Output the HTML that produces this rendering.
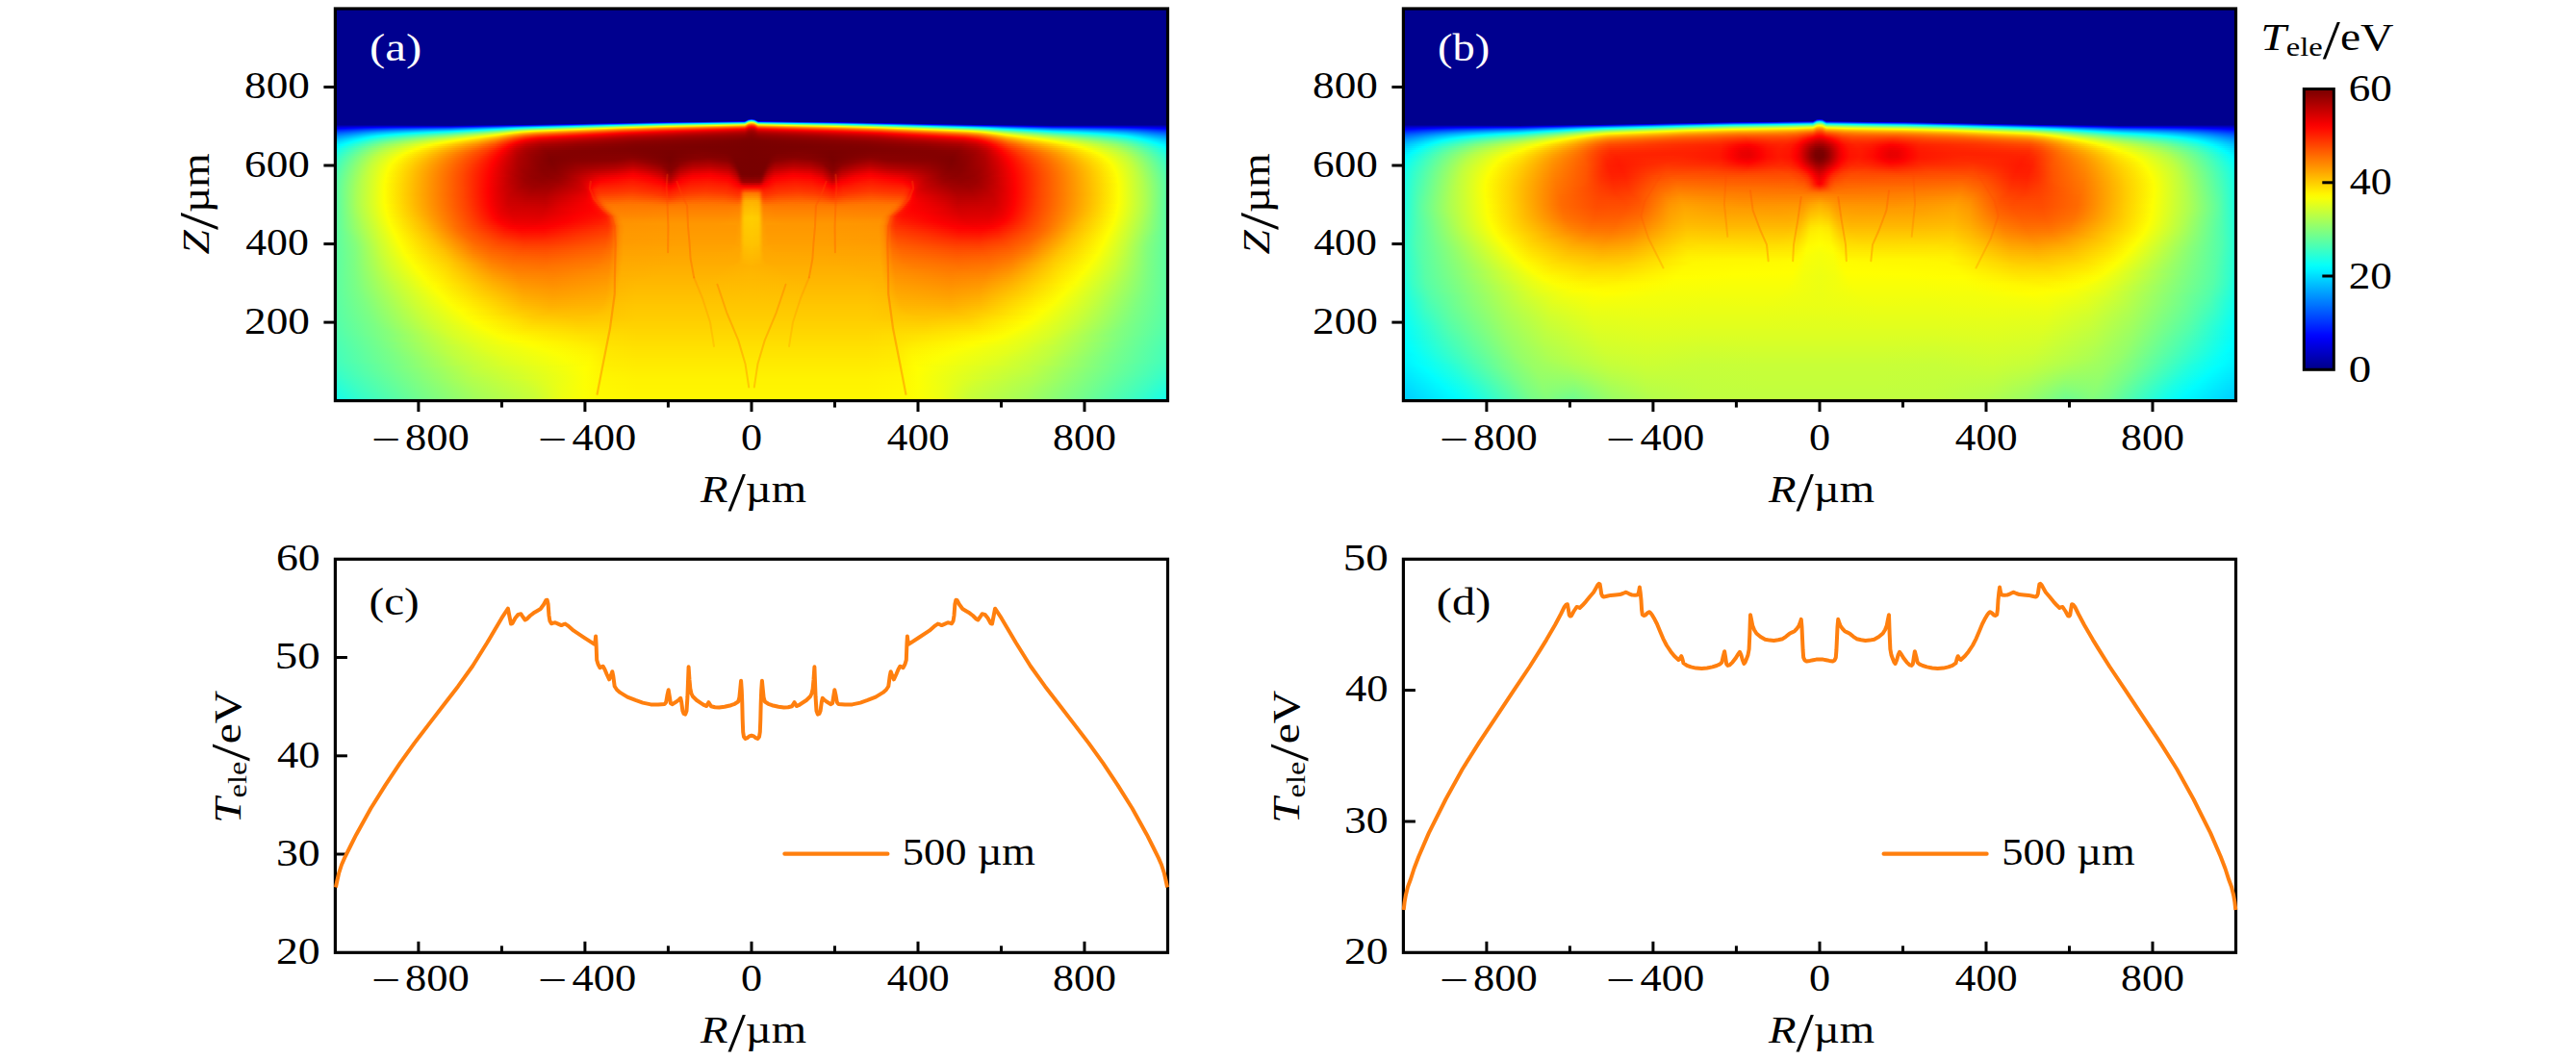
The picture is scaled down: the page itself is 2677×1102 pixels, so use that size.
<!DOCTYPE html>
<html lang="en"><head><meta charset="utf-8"><title>Figure</title>
<style>
html,body{margin:0;padding:0;background:#fff;}
body{width:2677px;height:1102px;overflow:hidden;}
svg{display:block;font-family:"Liberation Serif", "DejaVu Serif", serif;}
</style></head><body>
<svg width="2677" height="1102" viewBox="0 0 2677 1102">
<rect width="2677" height="1102" fill="#fff"/>
<defs><clipPath id="clipa"><rect x="348.4" y="9.0" width="865.1" height="407.6"/></clipPath><linearGradient id="ha1" gradientUnits="userSpaceOnUse" x1="780.95" y1="0" x2="348.40" y2="0" spreadMethod="reflect"><stop offset="0.0000" stop-color="#00008f"/><stop offset="0.1386" stop-color="#00008f"/><stop offset="0.2771" stop-color="#00008f"/><stop offset="0.4157" stop-color="#00008f"/><stop offset="0.5543" stop-color="#00008f"/><stop offset="0.6928" stop-color="#00008f"/><stop offset="0.8314" stop-color="#00008f"/><stop offset="0.9700" stop-color="#00008f"/><stop offset="1.0000" stop-color="#00008f"/></linearGradient><linearGradient id="ha2" gradientUnits="userSpaceOnUse" x1="780.95" y1="0" x2="348.40" y2="0" spreadMethod="reflect"><stop offset="0.0000" stop-color="#00008f"/><stop offset="0.1386" stop-color="#00008f"/><stop offset="0.2771" stop-color="#00008f"/><stop offset="0.4157" stop-color="#00008f"/><stop offset="0.5543" stop-color="#00008f"/><stop offset="0.6928" stop-color="#00008f"/><stop offset="0.8314" stop-color="#00008f"/><stop offset="0.9700" stop-color="#00008f"/><stop offset="1.0000" stop-color="#00008f"/></linearGradient><linearGradient id="ha3" gradientUnits="userSpaceOnUse" x1="780.95" y1="0" x2="348.40" y2="0" spreadMethod="reflect"><stop offset="0.0000" stop-color="#005fff"/><stop offset="0.0069" stop-color="#000bff"/><stop offset="0.0092" stop-color="#000099"/><stop offset="0.0115" stop-color="#00008f"/><stop offset="0.1501" stop-color="#00008f"/><stop offset="0.2887" stop-color="#00008f"/><stop offset="0.4273" stop-color="#00008f"/><stop offset="0.5658" stop-color="#00008f"/><stop offset="0.7044" stop-color="#00008f"/><stop offset="0.8430" stop-color="#00008f"/><stop offset="0.9815" stop-color="#00008f"/><stop offset="1.0000" stop-color="#00008f"/></linearGradient><linearGradient id="ha4" gradientUnits="userSpaceOnUse" x1="780.95" y1="0" x2="348.40" y2="0" spreadMethod="reflect"><stop offset="0.0000" stop-color="#10ffef"/><stop offset="0.0023" stop-color="#00f9ff"/><stop offset="0.0069" stop-color="#00cbff"/><stop offset="0.0092" stop-color="#0072ff"/><stop offset="0.0115" stop-color="#000cff"/><stop offset="0.0139" stop-color="#000098"/><stop offset="0.0162" stop-color="#00008f"/><stop offset="0.1547" stop-color="#00008f"/><stop offset="0.2933" stop-color="#00008f"/><stop offset="0.4319" stop-color="#00008f"/><stop offset="0.5704" stop-color="#00008f"/><stop offset="0.7090" stop-color="#00008f"/><stop offset="0.8476" stop-color="#00008f"/><stop offset="0.9861" stop-color="#00008f"/><stop offset="1.0000" stop-color="#00008f"/></linearGradient><linearGradient id="ha5" gradientUnits="userSpaceOnUse" x1="780.95" y1="0" x2="348.40" y2="0" spreadMethod="reflect"><stop offset="0.0000" stop-color="#99ff66"/><stop offset="0.0069" stop-color="#63ff9c"/><stop offset="0.0092" stop-color="#1dffe2"/><stop offset="0.0115" stop-color="#00cbff"/><stop offset="0.0162" stop-color="#0012ff"/><stop offset="0.0300" stop-color="#0000fe"/><stop offset="0.1062" stop-color="#00009b"/><stop offset="0.1085" stop-color="#000099"/><stop offset="0.1109" stop-color="#00008f"/><stop offset="0.2494" stop-color="#00008f"/><stop offset="0.3880" stop-color="#00008f"/><stop offset="0.5266" stop-color="#00008f"/><stop offset="0.6651" stop-color="#00008f"/><stop offset="0.8037" stop-color="#00008f"/><stop offset="0.9423" stop-color="#00008f"/><stop offset="1.0000" stop-color="#00008f"/></linearGradient><linearGradient id="ha6" gradientUnits="userSpaceOnUse" x1="780.95" y1="0" x2="348.40" y2="0" spreadMethod="reflect"><stop offset="0.0000" stop-color="#fffa00"/><stop offset="0.0023" stop-color="#f6ff09"/><stop offset="0.0069" stop-color="#d9ff26"/><stop offset="0.0092" stop-color="#a2ff5d"/><stop offset="0.0115" stop-color="#62ff9d"/><stop offset="0.0139" stop-color="#1bffe4"/><stop offset="0.0162" stop-color="#00cfff"/><stop offset="0.1062" stop-color="#0063ff"/><stop offset="0.2032" stop-color="#000cff"/><stop offset="0.2125" stop-color="#0000fd"/><stop offset="0.2748" stop-color="#00009b"/><stop offset="0.2771" stop-color="#00008f"/><stop offset="0.4157" stop-color="#00008f"/><stop offset="0.5543" stop-color="#00008f"/><stop offset="0.6928" stop-color="#00008f"/><stop offset="0.8314" stop-color="#00008f"/><stop offset="0.9700" stop-color="#00008f"/><stop offset="1.0000" stop-color="#00008f"/></linearGradient><linearGradient id="ha7" gradientUnits="userSpaceOnUse" x1="780.95" y1="0" x2="348.40" y2="0" spreadMethod="reflect"><stop offset="0.0000" stop-color="#ffa600"/><stop offset="0.0069" stop-color="#ffc800"/><stop offset="0.0092" stop-color="#fff400"/><stop offset="0.0115" stop-color="#d8ff27"/><stop offset="0.0162" stop-color="#65ff9a"/><stop offset="0.1085" stop-color="#01fffe"/><stop offset="0.2032" stop-color="#00b0ff"/><stop offset="0.3256" stop-color="#0000ff"/><stop offset="0.3972" stop-color="#000098"/><stop offset="0.3995" stop-color="#00008f"/><stop offset="0.5381" stop-color="#00008f"/><stop offset="0.6767" stop-color="#00008f"/><stop offset="0.8152" stop-color="#00008f"/><stop offset="0.9538" stop-color="#00008f"/><stop offset="1.0000" stop-color="#00008f"/></linearGradient><linearGradient id="ha8" gradientUnits="userSpaceOnUse" x1="780.95" y1="0" x2="348.40" y2="0" spreadMethod="reflect"><stop offset="0.0000" stop-color="#ff6500"/><stop offset="0.0069" stop-color="#ff8000"/><stop offset="0.0092" stop-color="#ffa200"/><stop offset="0.0115" stop-color="#ffc900"/><stop offset="0.0139" stop-color="#fff600"/><stop offset="0.0162" stop-color="#daff25"/><stop offset="0.1132" stop-color="#7eff81"/><stop offset="0.2055" stop-color="#34ffcb"/><stop offset="0.2471" stop-color="#00ffff"/><stop offset="0.3164" stop-color="#00a3ff"/><stop offset="0.4342" stop-color="#0000ff"/><stop offset="0.5035" stop-color="#0000aa"/><stop offset="0.5289" stop-color="#000098"/><stop offset="0.5312" stop-color="#00008f"/><stop offset="0.6697" stop-color="#00008f"/><stop offset="0.8083" stop-color="#00008f"/><stop offset="0.9469" stop-color="#00008f"/><stop offset="1.0000" stop-color="#00008f"/></linearGradient><linearGradient id="ha9" gradientUnits="userSpaceOnUse" x1="780.95" y1="0" x2="348.40" y2="0" spreadMethod="reflect"><stop offset="0.0000" stop-color="#ff3100"/><stop offset="0.0069" stop-color="#ff4700"/><stop offset="0.0115" stop-color="#ff8100"/><stop offset="0.0162" stop-color="#ffc900"/><stop offset="0.0831" stop-color="#fcff03"/><stop offset="0.2055" stop-color="#a1ff5e"/><stop offset="0.3095" stop-color="#2affd5"/><stop offset="0.3395" stop-color="#00ffff"/><stop offset="0.4734" stop-color="#0052ff"/><stop offset="0.5104" stop-color="#0029ff"/><stop offset="0.5589" stop-color="#0000fd"/><stop offset="0.6120" stop-color="#0000d0"/><stop offset="0.6998" stop-color="#0000a2"/><stop offset="0.7229" stop-color="#00009a"/><stop offset="0.8614" stop-color="#0000ab"/><stop offset="1.0000" stop-color="#0000a7"/></linearGradient><linearGradient id="ha10" gradientUnits="userSpaceOnUse" x1="780.95" y1="0" x2="348.40" y2="0" spreadMethod="reflect"><stop offset="0.0000" stop-color="#ff0900"/><stop offset="0.0069" stop-color="#ff1a00"/><stop offset="0.0115" stop-color="#ff4800"/><stop offset="0.0162" stop-color="#ff8000"/><stop offset="0.1316" stop-color="#ffd300"/><stop offset="0.2032" stop-color="#fcff03"/><stop offset="0.3072" stop-color="#93ff6c"/><stop offset="0.4249" stop-color="#00fdff"/><stop offset="0.5127" stop-color="#0098ff"/><stop offset="0.5704" stop-color="#0059ff"/><stop offset="0.6097" stop-color="#002dff"/><stop offset="0.6697" stop-color="#0000ff"/><stop offset="0.7229" stop-color="#0000e2"/><stop offset="0.8614" stop-color="#0000dd"/><stop offset="0.9261" stop-color="#0000d2"/><stop offset="1.0000" stop-color="#0000c3"/></linearGradient><linearGradient id="ha11" gradientUnits="userSpaceOnUse" x1="780.95" y1="0" x2="348.40" y2="0" spreadMethod="reflect"><stop offset="0.0000" stop-color="#e90000"/><stop offset="0.0069" stop-color="#f60000"/><stop offset="0.0092" stop-color="#ff0800"/><stop offset="0.0162" stop-color="#ff4800"/><stop offset="0.1547" stop-color="#ff9c00"/><stop offset="0.2102" stop-color="#ffbf00"/><stop offset="0.2864" stop-color="#fdff02"/><stop offset="0.3233" stop-color="#d5ff2a"/><stop offset="0.4619" stop-color="#33ffcc"/><stop offset="0.5081" stop-color="#00ffff"/><stop offset="0.5589" stop-color="#00c3ff"/><stop offset="0.6028" stop-color="#0085ff"/><stop offset="0.6582" stop-color="#0051ff"/><stop offset="0.7229" stop-color="#0024ff"/><stop offset="0.8614" stop-color="#000cff"/><stop offset="0.9099" stop-color="#0000fd"/><stop offset="1.0000" stop-color="#0000de"/></linearGradient><linearGradient id="ha12" gradientUnits="userSpaceOnUse" x1="780.95" y1="0" x2="348.40" y2="0" spreadMethod="reflect"><stop offset="0.0000" stop-color="#d00000"/><stop offset="0.0069" stop-color="#db0000"/><stop offset="0.0115" stop-color="#f70000"/><stop offset="0.0139" stop-color="#ff0900"/><stop offset="0.0162" stop-color="#ff1b00"/><stop offset="0.1547" stop-color="#ff6500"/><stop offset="0.2148" stop-color="#ff8600"/><stop offset="0.3072" stop-color="#ffd000"/><stop offset="0.3510" stop-color="#feff01"/><stop offset="0.4896" stop-color="#69ff96"/><stop offset="0.5450" stop-color="#29ffd6"/><stop offset="0.5727" stop-color="#00fdff"/><stop offset="0.6051" stop-color="#00caff"/><stop offset="0.6559" stop-color="#0094ff"/><stop offset="0.7229" stop-color="#005eff"/><stop offset="0.8614" stop-color="#0036ff"/><stop offset="0.9099" stop-color="#0022ff"/><stop offset="0.9769" stop-color="#0000ff"/><stop offset="1.0000" stop-color="#0000f6"/></linearGradient><linearGradient id="ha13" gradientUnits="userSpaceOnUse" x1="780.95" y1="0" x2="348.40" y2="0" spreadMethod="reflect"><stop offset="0.0000" stop-color="#bd0000"/><stop offset="0.0069" stop-color="#c50000"/><stop offset="0.0139" stop-color="#e90000"/><stop offset="0.0162" stop-color="#f70000"/><stop offset="0.0416" stop-color="#ff0400"/><stop offset="0.1801" stop-color="#ff4300"/><stop offset="0.2379" stop-color="#ff6400"/><stop offset="0.3095" stop-color="#ff9700"/><stop offset="0.4134" stop-color="#ffff00"/><stop offset="0.5266" stop-color="#8bff74"/><stop offset="0.5612" stop-color="#58ffa7"/><stop offset="0.6028" stop-color="#0ffff0"/><stop offset="0.6143" stop-color="#00feff"/><stop offset="0.6697" stop-color="#00c1ff"/><stop offset="0.7229" stop-color="#0093ff"/><stop offset="0.8614" stop-color="#005dff"/><stop offset="0.9076" stop-color="#0045ff"/><stop offset="0.9700" stop-color="#001dff"/><stop offset="1.0000" stop-color="#000eff"/></linearGradient><linearGradient id="ha14" gradientUnits="userSpaceOnUse" x1="780.95" y1="0" x2="348.40" y2="0" spreadMethod="reflect"><stop offset="0.0000" stop-color="#ae0000"/><stop offset="0.0069" stop-color="#b50000"/><stop offset="0.0162" stop-color="#dc0000"/><stop offset="0.1109" stop-color="#ff0200"/><stop offset="0.2171" stop-color="#ff2e00"/><stop offset="0.3072" stop-color="#ff6500"/><stop offset="0.4457" stop-color="#ffe300"/><stop offset="0.4781" stop-color="#fcff03"/><stop offset="0.5266" stop-color="#cbff34"/><stop offset="0.5589" stop-color="#9bff64"/><stop offset="0.6028" stop-color="#48ffb7"/><stop offset="0.6443" stop-color="#11ffee"/><stop offset="0.6628" stop-color="#00fcff"/><stop offset="0.7229" stop-color="#00c3ff"/><stop offset="0.8614" stop-color="#0080ff"/><stop offset="0.9076" stop-color="#0064ff"/><stop offset="0.9677" stop-color="#0036ff"/><stop offset="1.0000" stop-color="#0023ff"/></linearGradient><linearGradient id="ha15" gradientUnits="userSpaceOnUse" x1="780.95" y1="0" x2="348.40" y2="0" spreadMethod="reflect"><stop offset="0.0000" stop-color="#a20000"/><stop offset="0.0069" stop-color="#a70000"/><stop offset="0.0162" stop-color="#c60000"/><stop offset="0.1547" stop-color="#f40000"/><stop offset="0.1940" stop-color="#ff0300"/><stop offset="0.3072" stop-color="#ff3d00"/><stop offset="0.4457" stop-color="#ffb000"/><stop offset="0.5196" stop-color="#fff300"/><stop offset="0.5312" stop-color="#fdff02"/><stop offset="0.5612" stop-color="#cdff32"/><stop offset="0.6028" stop-color="#7bff84"/><stop offset="0.6420" stop-color="#44ffbb"/><stop offset="0.7067" stop-color="#00fdff"/><stop offset="0.7321" stop-color="#00e9ff"/><stop offset="0.8707" stop-color="#009bff"/><stop offset="0.9076" stop-color="#0080ff"/><stop offset="0.9654" stop-color="#004eff"/><stop offset="1.0000" stop-color="#0037ff"/></linearGradient><linearGradient id="ha16" gradientUnits="userSpaceOnUse" x1="780.95" y1="0" x2="348.40" y2="0" spreadMethod="reflect"><stop offset="0.0000" stop-color="#990000"/><stop offset="0.0069" stop-color="#9d0000"/><stop offset="0.0162" stop-color="#b60000"/><stop offset="0.1547" stop-color="#dc0000"/><stop offset="0.2564" stop-color="#ff0200"/><stop offset="0.3118" stop-color="#ff1e00"/><stop offset="0.4503" stop-color="#ff8700"/><stop offset="0.5173" stop-color="#ffbf00"/><stop offset="0.5497" stop-color="#ffec00"/><stop offset="0.5612" stop-color="#fdff02"/><stop offset="0.6051" stop-color="#a4ff5b"/><stop offset="0.6443" stop-color="#6cff93"/><stop offset="0.7229" stop-color="#17ffe8"/><stop offset="0.7621" stop-color="#00fcff"/><stop offset="0.8938" stop-color="#00a8ff"/><stop offset="0.9630" stop-color="#0066ff"/><stop offset="1.0000" stop-color="#004aff"/></linearGradient><linearGradient id="ha17" gradientUnits="userSpaceOnUse" x1="780.95" y1="0" x2="348.40" y2="0" spreadMethod="reflect"><stop offset="0.0000" stop-color="#910000"/><stop offset="0.0092" stop-color="#990000"/><stop offset="0.0162" stop-color="#a80000"/><stop offset="0.1547" stop-color="#c90000"/><stop offset="0.2540" stop-color="#e80000"/><stop offset="0.3118" stop-color="#ff0200"/><stop offset="0.4503" stop-color="#ff6000"/><stop offset="0.5150" stop-color="#ff9300"/><stop offset="0.5473" stop-color="#ffbd00"/><stop offset="0.5774" stop-color="#fff900"/><stop offset="0.5820" stop-color="#fbff04"/><stop offset="0.6143" stop-color="#bdff42"/><stop offset="0.6582" stop-color="#81ff7e"/><stop offset="0.7252" stop-color="#39ffc6"/><stop offset="0.8106" stop-color="#00fdff"/><stop offset="0.9007" stop-color="#00bbff"/><stop offset="0.9561" stop-color="#0080ff"/><stop offset="1.0000" stop-color="#005cff"/></linearGradient><linearGradient id="ha18" gradientUnits="userSpaceOnUse" x1="780.95" y1="0" x2="348.40" y2="0" spreadMethod="reflect"><stop offset="0.0000" stop-color="#8c0000"/><stop offset="0.0092" stop-color="#920000"/><stop offset="0.0162" stop-color="#9e0000"/><stop offset="0.1547" stop-color="#ba0000"/><stop offset="0.2679" stop-color="#d90000"/><stop offset="0.3187" stop-color="#ee0000"/><stop offset="0.3533" stop-color="#ff0300"/><stop offset="0.4919" stop-color="#ff5b00"/><stop offset="0.5219" stop-color="#ff7500"/><stop offset="0.5520" stop-color="#ffa000"/><stop offset="0.5982" stop-color="#feff01"/><stop offset="0.6328" stop-color="#c4ff3b"/><stop offset="0.7044" stop-color="#6eff91"/><stop offset="0.7344" stop-color="#52ffad"/><stop offset="0.8499" stop-color="#00fcff"/><stop offset="0.9053" stop-color="#00ccff"/><stop offset="0.9607" stop-color="#008eff"/><stop offset="1.0000" stop-color="#006cff"/></linearGradient><linearGradient id="ha19" gradientUnits="userSpaceOnUse" x1="780.95" y1="0" x2="348.40" y2="0" spreadMethod="reflect"><stop offset="0.0000" stop-color="#870000"/><stop offset="0.0115" stop-color="#8f0000"/><stop offset="0.0185" stop-color="#960000"/><stop offset="0.1570" stop-color="#ad0000"/><stop offset="0.2933" stop-color="#cf0000"/><stop offset="0.3926" stop-color="#ff0200"/><stop offset="0.5104" stop-color="#ff4a00"/><stop offset="0.5427" stop-color="#ff7000"/><stop offset="0.5704" stop-color="#ffa400"/><stop offset="0.6097" stop-color="#fff600"/><stop offset="0.6166" stop-color="#fcff03"/><stop offset="0.6605" stop-color="#bfff40"/><stop offset="0.7275" stop-color="#75ff8a"/><stop offset="0.8661" stop-color="#08fff7"/><stop offset="0.8776" stop-color="#00fdff"/><stop offset="0.9076" stop-color="#00deff"/><stop offset="0.9630" stop-color="#009eff"/><stop offset="1.0000" stop-color="#007bff"/></linearGradient><linearGradient id="ha20" gradientUnits="userSpaceOnUse" x1="780.95" y1="0" x2="348.40" y2="0" spreadMethod="reflect"><stop offset="0.0000" stop-color="#840000"/><stop offset="0.0208" stop-color="#900000"/><stop offset="0.1594" stop-color="#a30000"/><stop offset="0.2979" stop-color="#c10000"/><stop offset="0.4342" stop-color="#ff0200"/><stop offset="0.5127" stop-color="#ff3000"/><stop offset="0.5450" stop-color="#ff5700"/><stop offset="0.5727" stop-color="#ff8c00"/><stop offset="0.6097" stop-color="#ffda00"/><stop offset="0.6328" stop-color="#ffff00"/><stop offset="0.7021" stop-color="#aaff55"/><stop offset="0.7367" stop-color="#87ff78"/><stop offset="0.8753" stop-color="#14ffeb"/><stop offset="0.8984" stop-color="#00feff"/><stop offset="0.9584" stop-color="#00b3ff"/><stop offset="1.0000" stop-color="#008aff"/></linearGradient><linearGradient id="ha21" gradientUnits="userSpaceOnUse" x1="780.95" y1="0" x2="348.40" y2="0" spreadMethod="reflect"><stop offset="0.0000" stop-color="#810000"/><stop offset="0.0231" stop-color="#8b0000"/><stop offset="0.1617" stop-color="#9b0000"/><stop offset="0.3002" stop-color="#b50000"/><stop offset="0.4388" stop-color="#f00000"/><stop offset="0.4758" stop-color="#ff0300"/><stop offset="0.5150" stop-color="#ff1b00"/><stop offset="0.5450" stop-color="#ff3e00"/><stop offset="0.5727" stop-color="#ff7300"/><stop offset="0.6120" stop-color="#ffc500"/><stop offset="0.6490" stop-color="#fffc00"/><stop offset="0.6859" stop-color="#d5ff2a"/><stop offset="0.7321" stop-color="#a3ff5c"/><stop offset="0.8707" stop-color="#2cffd3"/><stop offset="0.9122" stop-color="#00fdff"/><stop offset="0.9677" stop-color="#00b8ff"/><stop offset="1.0000" stop-color="#0097ff"/></linearGradient><linearGradient id="ha22" gradientUnits="userSpaceOnUse" x1="780.95" y1="0" x2="348.40" y2="0" spreadMethod="reflect"><stop offset="0.0000" stop-color="#7f0000"/><stop offset="0.0277" stop-color="#870000"/><stop offset="0.1663" stop-color="#950000"/><stop offset="0.3048" stop-color="#ac0000"/><stop offset="0.4434" stop-color="#e00000"/><stop offset="0.5104" stop-color="#ff0200"/><stop offset="0.5427" stop-color="#ff2500"/><stop offset="0.5681" stop-color="#ff5200"/><stop offset="0.6120" stop-color="#ffae00"/><stop offset="0.6513" stop-color="#ffe900"/><stop offset="0.6697" stop-color="#feff01"/><stop offset="0.7298" stop-color="#bbff44"/><stop offset="0.8684" stop-color="#40ffbf"/><stop offset="0.9053" stop-color="#18ffe7"/><stop offset="0.9238" stop-color="#00fdff"/><stop offset="0.9838" stop-color="#00b4ff"/><stop offset="1.0000" stop-color="#00a3ff"/></linearGradient><linearGradient id="ha23" gradientUnits="userSpaceOnUse" x1="780.95" y1="0" x2="348.40" y2="0" spreadMethod="reflect"><stop offset="0.0000" stop-color="#7d0000"/><stop offset="0.0370" stop-color="#840000"/><stop offset="0.1755" stop-color="#900000"/><stop offset="0.3141" stop-color="#a50000"/><stop offset="0.4527" stop-color="#d50000"/><stop offset="0.5104" stop-color="#ef0000"/><stop offset="0.5289" stop-color="#ff0100"/><stop offset="0.5566" stop-color="#ff2800"/><stop offset="0.6143" stop-color="#ff9e00"/><stop offset="0.6536" stop-color="#ffd800"/><stop offset="0.6859" stop-color="#ffff00"/><stop offset="0.7344" stop-color="#caff35"/><stop offset="0.8730" stop-color="#4cffb3"/><stop offset="0.9076" stop-color="#24ffdb"/><stop offset="0.9330" stop-color="#00ffff"/><stop offset="0.9977" stop-color="#00b2ff"/><stop offset="1.0000" stop-color="#00afff"/></linearGradient><linearGradient id="ha24" gradientUnits="userSpaceOnUse" x1="780.95" y1="0" x2="348.40" y2="0" spreadMethod="reflect"><stop offset="0.0000" stop-color="#7c0000"/><stop offset="0.0624" stop-color="#830000"/><stop offset="0.2009" stop-color="#8e0000"/><stop offset="0.3256" stop-color="#a10000"/><stop offset="0.4642" stop-color="#cc0000"/><stop offset="0.5104" stop-color="#e00000"/><stop offset="0.5427" stop-color="#ff0100"/><stop offset="0.5681" stop-color="#ff2d00"/><stop offset="0.6143" stop-color="#ff8c00"/><stop offset="0.6536" stop-color="#ffc600"/><stop offset="0.7021" stop-color="#feff01"/><stop offset="0.7644" stop-color="#bfff40"/><stop offset="0.8822" stop-color="#51ffae"/><stop offset="0.9099" stop-color="#2fffd0"/><stop offset="0.9423" stop-color="#00ffff"/><stop offset="1.0000" stop-color="#00baff"/></linearGradient><linearGradient id="ha25" gradientUnits="userSpaceOnUse" x1="780.95" y1="0" x2="348.40" y2="0" spreadMethod="reflect"><stop offset="0.0000" stop-color="#7b0000"/><stop offset="0.1386" stop-color="#850000"/><stop offset="0.2771" stop-color="#920000"/><stop offset="0.4018" stop-color="#ad0000"/><stop offset="0.5081" stop-color="#d10000"/><stop offset="0.5404" stop-color="#ef0000"/><stop offset="0.5520" stop-color="#ff0000"/><stop offset="0.5797" stop-color="#ff3500"/><stop offset="0.6166" stop-color="#ff8000"/><stop offset="0.6582" stop-color="#ffbc00"/><stop offset="0.7159" stop-color="#ffff00"/><stop offset="0.8545" stop-color="#7bff84"/><stop offset="0.9053" stop-color="#43ffbc"/><stop offset="0.9515" stop-color="#00ffff"/><stop offset="1.0000" stop-color="#00c4ff"/></linearGradient><linearGradient id="ha26" gradientUnits="userSpaceOnUse" x1="780.95" y1="0" x2="348.40" y2="0" spreadMethod="reflect"><stop offset="0.0000" stop-color="#7a0000"/><stop offset="0.1386" stop-color="#830000"/><stop offset="0.2771" stop-color="#8d0000"/><stop offset="0.4157" stop-color="#a90000"/><stop offset="0.5081" stop-color="#c60000"/><stop offset="0.5427" stop-color="#e50000"/><stop offset="0.5612" stop-color="#ff0200"/><stop offset="0.6166" stop-color="#ff7200"/><stop offset="0.6582" stop-color="#ffad00"/><stop offset="0.7298" stop-color="#fffe00"/><stop offset="0.8684" stop-color="#7aff85"/><stop offset="0.9053" stop-color="#4fffb0"/><stop offset="0.9607" stop-color="#00feff"/><stop offset="1.0000" stop-color="#00ceff"/></linearGradient><linearGradient id="ha27" gradientUnits="userSpaceOnUse" x1="780.95" y1="0" x2="348.40" y2="0" spreadMethod="reflect"><stop offset="0.0000" stop-color="#7a0000"/><stop offset="0.1386" stop-color="#810000"/><stop offset="0.2771" stop-color="#8a0000"/><stop offset="0.4157" stop-color="#a10000"/><stop offset="0.5058" stop-color="#ba0000"/><stop offset="0.5404" stop-color="#d80000"/><stop offset="0.5658" stop-color="#fe0000"/><stop offset="0.6166" stop-color="#ff6500"/><stop offset="0.6582" stop-color="#ffa000"/><stop offset="0.7367" stop-color="#fff800"/><stop offset="0.7460" stop-color="#fdff02"/><stop offset="0.8822" stop-color="#77ff88"/><stop offset="0.9099" stop-color="#53ffac"/><stop offset="0.9677" stop-color="#00ffff"/><stop offset="1.0000" stop-color="#00d7ff"/></linearGradient><linearGradient id="ha28" gradientUnits="userSpaceOnUse" x1="780.95" y1="0" x2="348.40" y2="0" spreadMethod="reflect"><stop offset="0.0000" stop-color="#790000"/><stop offset="0.1386" stop-color="#7f0000"/><stop offset="0.2771" stop-color="#870000"/><stop offset="0.4157" stop-color="#9b0000"/><stop offset="0.5058" stop-color="#b20000"/><stop offset="0.5404" stop-color="#ce0000"/><stop offset="0.5658" stop-color="#f30000"/><stop offset="0.5727" stop-color="#ff0200"/><stop offset="0.6143" stop-color="#ff5500"/><stop offset="0.6559" stop-color="#ff9100"/><stop offset="0.7390" stop-color="#ffee00"/><stop offset="0.7575" stop-color="#feff01"/><stop offset="0.8799" stop-color="#84ff7b"/><stop offset="0.9099" stop-color="#5dffa2"/><stop offset="0.9746" stop-color="#00ffff"/><stop offset="1.0000" stop-color="#00dfff"/></linearGradient><linearGradient id="ha29" gradientUnits="userSpaceOnUse" x1="780.95" y1="0" x2="348.40" y2="0" spreadMethod="reflect"><stop offset="0.0000" stop-color="#790000"/><stop offset="0.1386" stop-color="#7d0000"/><stop offset="0.2771" stop-color="#830000"/><stop offset="0.4157" stop-color="#940000"/><stop offset="0.5035" stop-color="#a70000"/><stop offset="0.5404" stop-color="#c20000"/><stop offset="0.5635" stop-color="#e10000"/><stop offset="0.5797" stop-color="#ff0200"/><stop offset="0.6166" stop-color="#ff4a00"/><stop offset="0.6605" stop-color="#ff8700"/><stop offset="0.7506" stop-color="#ffe900"/><stop offset="0.7737" stop-color="#fdff02"/><stop offset="0.8799" stop-color="#93ff6c"/><stop offset="0.9099" stop-color="#6bff94"/><stop offset="0.9838" stop-color="#00ffff"/><stop offset="1.0000" stop-color="#00eaff"/></linearGradient><linearGradient id="ha30" gradientUnits="userSpaceOnUse" x1="780.95" y1="0" x2="348.40" y2="0" spreadMethod="reflect"><stop offset="0.0000" stop-color="#780000"/><stop offset="0.1386" stop-color="#7b0000"/><stop offset="0.2771" stop-color="#800000"/><stop offset="0.4157" stop-color="#8c0000"/><stop offset="0.5012" stop-color="#9b0000"/><stop offset="0.5427" stop-color="#b80000"/><stop offset="0.5658" stop-color="#d70000"/><stop offset="0.5866" stop-color="#ff0000"/><stop offset="0.6189" stop-color="#ff3d00"/><stop offset="0.6628" stop-color="#ff7800"/><stop offset="0.7783" stop-color="#fff400"/><stop offset="0.7921" stop-color="#fcff03"/><stop offset="0.8799" stop-color="#a3ff5c"/><stop offset="0.9099" stop-color="#7cff83"/><stop offset="0.9908" stop-color="#05fffa"/><stop offset="0.9977" stop-color="#00fbff"/><stop offset="1.0000" stop-color="#00f8ff"/></linearGradient><linearGradient id="ha31" gradientUnits="userSpaceOnUse" x1="780.95" y1="0" x2="348.40" y2="0" spreadMethod="reflect"><stop offset="0.0000" stop-color="#780000"/><stop offset="0.1386" stop-color="#7c0000"/><stop offset="0.2633" stop-color="#7e0000"/><stop offset="0.4018" stop-color="#870000"/><stop offset="0.4965" stop-color="#920000"/><stop offset="0.5404" stop-color="#ad0000"/><stop offset="0.5635" stop-color="#c80000"/><stop offset="0.5935" stop-color="#ff0100"/><stop offset="0.6259" stop-color="#ff3900"/><stop offset="0.6767" stop-color="#ff7900"/><stop offset="0.8037" stop-color="#fffe00"/><stop offset="0.8776" stop-color="#b5ff4a"/><stop offset="0.9099" stop-color="#8aff75"/><stop offset="0.9954" stop-color="#0bfff4"/><stop offset="1.0000" stop-color="#05fffa"/></linearGradient><linearGradient id="ha32" gradientUnits="userSpaceOnUse" x1="780.95" y1="0" x2="348.40" y2="0" spreadMethod="reflect"><stop offset="0.0000" stop-color="#780000"/><stop offset="0.1293" stop-color="#7f0000"/><stop offset="0.1917" stop-color="#7a0000"/><stop offset="0.3002" stop-color="#810000"/><stop offset="0.4388" stop-color="#850000"/><stop offset="0.4965" stop-color="#8c0000"/><stop offset="0.5450" stop-color="#ab0000"/><stop offset="0.5681" stop-color="#c70000"/><stop offset="0.5982" stop-color="#ff0000"/><stop offset="0.6351" stop-color="#ff3b00"/><stop offset="0.7113" stop-color="#ff9200"/><stop offset="0.8176" stop-color="#ffff00"/><stop offset="0.8868" stop-color="#b6ff49"/><stop offset="0.9192" stop-color="#89ff76"/><stop offset="1.0000" stop-color="#0ffff0"/></linearGradient><linearGradient id="ha33" gradientUnits="userSpaceOnUse" x1="780.95" y1="0" x2="348.40" y2="0" spreadMethod="reflect"><stop offset="0.0000" stop-color="#780000"/><stop offset="0.0508" stop-color="#7b0000"/><stop offset="0.1155" stop-color="#820000"/><stop offset="0.1940" stop-color="#790000"/><stop offset="0.2956" stop-color="#830000"/><stop offset="0.4342" stop-color="#840000"/><stop offset="0.4896" stop-color="#870000"/><stop offset="0.5381" stop-color="#a20000"/><stop offset="0.5635" stop-color="#bb0000"/><stop offset="0.6028" stop-color="#ff0000"/><stop offset="0.6420" stop-color="#ff3b00"/><stop offset="0.7806" stop-color="#ffd000"/><stop offset="0.8291" stop-color="#feff01"/><stop offset="0.8961" stop-color="#b5ff4a"/><stop offset="1.0000" stop-color="#18ffe7"/></linearGradient><linearGradient id="ha34" gradientUnits="userSpaceOnUse" x1="780.95" y1="0" x2="348.40" y2="0" spreadMethod="reflect"><stop offset="0.0000" stop-color="#780000"/><stop offset="0.0439" stop-color="#7a0000"/><stop offset="0.0670" stop-color="#810000"/><stop offset="0.1363" stop-color="#840000"/><stop offset="0.1917" stop-color="#790000"/><stop offset="0.2933" stop-color="#860000"/><stop offset="0.4319" stop-color="#840000"/><stop offset="0.4873" stop-color="#840000"/><stop offset="0.5335" stop-color="#9c0000"/><stop offset="0.5612" stop-color="#b40000"/><stop offset="0.5982" stop-color="#f00000"/><stop offset="0.6074" stop-color="#ff0100"/><stop offset="0.6467" stop-color="#ff3900"/><stop offset="0.7852" stop-color="#ffcc00"/><stop offset="0.8383" stop-color="#feff01"/><stop offset="0.9007" stop-color="#b8ff47"/><stop offset="1.0000" stop-color="#20ffdf"/></linearGradient><linearGradient id="ha35" gradientUnits="userSpaceOnUse" x1="780.95" y1="0" x2="348.40" y2="0" spreadMethod="reflect"><stop offset="0.0000" stop-color="#780000"/><stop offset="0.0416" stop-color="#7a0000"/><stop offset="0.0624" stop-color="#830000"/><stop offset="0.1293" stop-color="#870000"/><stop offset="0.1940" stop-color="#780000"/><stop offset="0.2841" stop-color="#890000"/><stop offset="0.4226" stop-color="#850000"/><stop offset="0.4827" stop-color="#810000"/><stop offset="0.5196" stop-color="#920000"/><stop offset="0.5589" stop-color="#af0000"/><stop offset="0.5889" stop-color="#db0000"/><stop offset="0.6120" stop-color="#ff0200"/><stop offset="0.6536" stop-color="#ff3a00"/><stop offset="0.7921" stop-color="#ffcc00"/><stop offset="0.8453" stop-color="#feff01"/><stop offset="0.9030" stop-color="#bdff42"/><stop offset="1.0000" stop-color="#27ffd8"/></linearGradient><linearGradient id="ha36" gradientUnits="userSpaceOnUse" x1="780.95" y1="0" x2="348.40" y2="0" spreadMethod="reflect"><stop offset="0.0000" stop-color="#780000"/><stop offset="0.0393" stop-color="#790000"/><stop offset="0.0577" stop-color="#860000"/><stop offset="0.1039" stop-color="#8e0000"/><stop offset="0.1709" stop-color="#820000"/><stop offset="0.1940" stop-color="#780000"/><stop offset="0.2864" stop-color="#900000"/><stop offset="0.3164" stop-color="#890000"/><stop offset="0.4273" stop-color="#860000"/><stop offset="0.4827" stop-color="#800000"/><stop offset="0.5196" stop-color="#920000"/><stop offset="0.5589" stop-color="#ad0000"/><stop offset="0.5912" stop-color="#db0000"/><stop offset="0.6143" stop-color="#ff0100"/><stop offset="0.6582" stop-color="#ff3a00"/><stop offset="0.7968" stop-color="#ffca00"/><stop offset="0.8522" stop-color="#feff01"/><stop offset="0.9076" stop-color="#bdff42"/><stop offset="1.0000" stop-color="#2dffd2"/></linearGradient><linearGradient id="ha37" gradientUnits="userSpaceOnUse" x1="780.95" y1="0" x2="348.40" y2="0" spreadMethod="reflect"><stop offset="0.0000" stop-color="#780000"/><stop offset="0.0393" stop-color="#7a0000"/><stop offset="0.0554" stop-color="#880000"/><stop offset="0.1016" stop-color="#9a0000"/><stop offset="0.1409" stop-color="#930000"/><stop offset="0.1594" stop-color="#880000"/><stop offset="0.1963" stop-color="#780000"/><stop offset="0.2286" stop-color="#860000"/><stop offset="0.2679" stop-color="#950000"/><stop offset="0.2864" stop-color="#9b0000"/><stop offset="0.3279" stop-color="#8d0000"/><stop offset="0.4296" stop-color="#880000"/><stop offset="0.4827" stop-color="#7f0000"/><stop offset="0.5196" stop-color="#910000"/><stop offset="0.5612" stop-color="#af0000"/><stop offset="0.5958" stop-color="#df0000"/><stop offset="0.6166" stop-color="#ff0000"/><stop offset="0.6628" stop-color="#ff3a00"/><stop offset="0.8014" stop-color="#ffca00"/><stop offset="0.8568" stop-color="#feff01"/><stop offset="0.9076" stop-color="#c2ff3d"/><stop offset="1.0000" stop-color="#32ffcd"/></linearGradient><linearGradient id="ha38" gradientUnits="userSpaceOnUse" x1="780.95" y1="0" x2="348.40" y2="0" spreadMethod="reflect"><stop offset="0.0000" stop-color="#780000"/><stop offset="0.0370" stop-color="#790000"/><stop offset="0.0577" stop-color="#940000"/><stop offset="0.1016" stop-color="#a50000"/><stop offset="0.1409" stop-color="#9f0000"/><stop offset="0.1801" stop-color="#830000"/><stop offset="0.1963" stop-color="#7b0000"/><stop offset="0.2356" stop-color="#8e0000"/><stop offset="0.2841" stop-color="#a70000"/><stop offset="0.3279" stop-color="#970000"/><stop offset="0.4249" stop-color="#8d0000"/><stop offset="0.4804" stop-color="#800000"/><stop offset="0.5150" stop-color="#8e0000"/><stop offset="0.5612" stop-color="#ae0000"/><stop offset="0.5958" stop-color="#dc0000"/><stop offset="0.6189" stop-color="#ff0000"/><stop offset="0.6697" stop-color="#ff3e00"/><stop offset="0.8083" stop-color="#ffcc00"/><stop offset="0.8614" stop-color="#feff01"/><stop offset="0.9099" stop-color="#c4ff3b"/><stop offset="1.0000" stop-color="#37ffc8"/></linearGradient><linearGradient id="ha39" gradientUnits="userSpaceOnUse" x1="780.95" y1="0" x2="348.40" y2="0" spreadMethod="reflect"><stop offset="0.0000" stop-color="#780000"/><stop offset="0.0346" stop-color="#790000"/><stop offset="0.0462" stop-color="#8e0000"/><stop offset="0.0554" stop-color="#9f0000"/><stop offset="0.1016" stop-color="#b10000"/><stop offset="0.1409" stop-color="#aa0000"/><stop offset="0.1709" stop-color="#910000"/><stop offset="0.1778" stop-color="#870000"/><stop offset="0.1963" stop-color="#7e0000"/><stop offset="0.2587" stop-color="#a70000"/><stop offset="0.2841" stop-color="#b20000"/><stop offset="0.3279" stop-color="#a20000"/><stop offset="0.4203" stop-color="#930000"/><stop offset="0.4781" stop-color="#810000"/><stop offset="0.5104" stop-color="#8b0000"/><stop offset="0.5612" stop-color="#ad0000"/><stop offset="0.5982" stop-color="#dd0000"/><stop offset="0.6212" stop-color="#ff0000"/><stop offset="0.6767" stop-color="#ff4100"/><stop offset="0.8152" stop-color="#ffcf00"/><stop offset="0.8661" stop-color="#fdff02"/><stop offset="0.9122" stop-color="#c5ff3a"/><stop offset="1.0000" stop-color="#3bffc4"/></linearGradient><linearGradient id="ha40" gradientUnits="userSpaceOnUse" x1="780.95" y1="0" x2="348.40" y2="0" spreadMethod="reflect"><stop offset="0.0000" stop-color="#780000"/><stop offset="0.0323" stop-color="#790000"/><stop offset="0.0393" stop-color="#860000"/><stop offset="0.0508" stop-color="#a20000"/><stop offset="0.0577" stop-color="#ab0000"/><stop offset="0.1016" stop-color="#bc0000"/><stop offset="0.1409" stop-color="#b50000"/><stop offset="0.1709" stop-color="#9c0000"/><stop offset="0.1801" stop-color="#890000"/><stop offset="0.1963" stop-color="#810000"/><stop offset="0.2102" stop-color="#890000"/><stop offset="0.2171" stop-color="#950000"/><stop offset="0.2517" stop-color="#af0000"/><stop offset="0.2841" stop-color="#be0000"/><stop offset="0.3279" stop-color="#ac0000"/><stop offset="0.4134" stop-color="#9b0000"/><stop offset="0.4758" stop-color="#830000"/><stop offset="0.5081" stop-color="#8a0000"/><stop offset="0.5589" stop-color="#aa0000"/><stop offset="0.5935" stop-color="#d40000"/><stop offset="0.6236" stop-color="#ff0100"/><stop offset="0.6813" stop-color="#ff4400"/><stop offset="0.8199" stop-color="#ffd000"/><stop offset="0.8684" stop-color="#feff01"/><stop offset="0.9145" stop-color="#c5ff3a"/><stop offset="1.0000" stop-color="#3fffc0"/></linearGradient><linearGradient id="ha41" gradientUnits="userSpaceOnUse" x1="780.95" y1="0" x2="348.40" y2="0" spreadMethod="reflect"><stop offset="0.0000" stop-color="#780000"/><stop offset="0.0300" stop-color="#790000"/><stop offset="0.0346" stop-color="#810000"/><stop offset="0.0439" stop-color="#a00000"/><stop offset="0.0554" stop-color="#b50000"/><stop offset="0.0993" stop-color="#cb0000"/><stop offset="0.1409" stop-color="#c20000"/><stop offset="0.1709" stop-color="#a80000"/><stop offset="0.1871" stop-color="#880000"/><stop offset="0.1986" stop-color="#850000"/><stop offset="0.2079" stop-color="#8f0000"/><stop offset="0.2171" stop-color="#a00000"/><stop offset="0.2517" stop-color="#ba0000"/><stop offset="0.2841" stop-color="#cd0000"/><stop offset="0.3256" stop-color="#b70000"/><stop offset="0.4042" stop-color="#a40000"/><stop offset="0.4734" stop-color="#850000"/><stop offset="0.5058" stop-color="#8a0000"/><stop offset="0.5566" stop-color="#a70000"/><stop offset="0.5912" stop-color="#d00000"/><stop offset="0.6259" stop-color="#ff0100"/><stop offset="0.6859" stop-color="#ff4600"/><stop offset="0.8245" stop-color="#ffd200"/><stop offset="0.8707" stop-color="#feff01"/><stop offset="0.9169" stop-color="#c5ff3a"/><stop offset="1.0000" stop-color="#42ffbd"/></linearGradient><linearGradient id="ha42" gradientUnits="userSpaceOnUse" x1="780.95" y1="0" x2="348.40" y2="0" spreadMethod="reflect"><stop offset="0.0000" stop-color="#780000"/><stop offset="0.0277" stop-color="#790000"/><stop offset="0.0323" stop-color="#820000"/><stop offset="0.0416" stop-color="#a60000"/><stop offset="0.0554" stop-color="#c20000"/><stop offset="0.0993" stop-color="#d90000"/><stop offset="0.1409" stop-color="#d10000"/><stop offset="0.1709" stop-color="#b30000"/><stop offset="0.1917" stop-color="#880000"/><stop offset="0.1986" stop-color="#880000"/><stop offset="0.2171" stop-color="#ab0000"/><stop offset="0.2564" stop-color="#cb0000"/><stop offset="0.2841" stop-color="#db0000"/><stop offset="0.3256" stop-color="#c50000"/><stop offset="0.3926" stop-color="#b10000"/><stop offset="0.4711" stop-color="#880000"/><stop offset="0.5035" stop-color="#890000"/><stop offset="0.5520" stop-color="#a20000"/><stop offset="0.5866" stop-color="#c80000"/><stop offset="0.6282" stop-color="#ff0200"/><stop offset="0.6905" stop-color="#ff4900"/><stop offset="0.8291" stop-color="#ffd400"/><stop offset="0.8730" stop-color="#feff01"/><stop offset="0.9192" stop-color="#c4ff3b"/><stop offset="1.0000" stop-color="#45ffba"/></linearGradient><linearGradient id="ha43" gradientUnits="userSpaceOnUse" x1="780.95" y1="0" x2="348.40" y2="0" spreadMethod="reflect"><stop offset="0.0000" stop-color="#780000"/><stop offset="0.0254" stop-color="#790000"/><stop offset="0.0300" stop-color="#820000"/><stop offset="0.0393" stop-color="#ac0000"/><stop offset="0.0554" stop-color="#d10000"/><stop offset="0.0993" stop-color="#e80000"/><stop offset="0.1409" stop-color="#df0000"/><stop offset="0.1709" stop-color="#bf0000"/><stop offset="0.1940" stop-color="#8d0000"/><stop offset="0.1986" stop-color="#930000"/><stop offset="0.2171" stop-color="#b70000"/><stop offset="0.2494" stop-color="#d50000"/><stop offset="0.2841" stop-color="#ea0000"/><stop offset="0.3256" stop-color="#d30000"/><stop offset="0.3788" stop-color="#c10000"/><stop offset="0.4688" stop-color="#8b0000"/><stop offset="0.5012" stop-color="#8a0000"/><stop offset="0.5473" stop-color="#9e0000"/><stop offset="0.5820" stop-color="#c10000"/><stop offset="0.6282" stop-color="#ff0100"/><stop offset="0.6905" stop-color="#ff4700"/><stop offset="0.8291" stop-color="#ffd200"/><stop offset="0.8753" stop-color="#fdff02"/><stop offset="0.9215" stop-color="#c3ff3c"/><stop offset="1.0000" stop-color="#48ffb7"/></linearGradient><linearGradient id="ha44" gradientUnits="userSpaceOnUse" x1="780.95" y1="0" x2="348.40" y2="0" spreadMethod="reflect"><stop offset="0.0000" stop-color="#780000"/><stop offset="0.0231" stop-color="#790000"/><stop offset="0.0277" stop-color="#820000"/><stop offset="0.0370" stop-color="#b20000"/><stop offset="0.0531" stop-color="#db0000"/><stop offset="0.0624" stop-color="#e30000"/><stop offset="0.0993" stop-color="#f70000"/><stop offset="0.1409" stop-color="#ee0000"/><stop offset="0.1709" stop-color="#ce0000"/><stop offset="0.1871" stop-color="#a70000"/><stop offset="0.1940" stop-color="#990000"/><stop offset="0.1986" stop-color="#9e0000"/><stop offset="0.2171" stop-color="#c40000"/><stop offset="0.2494" stop-color="#e40000"/><stop offset="0.2841" stop-color="#f80000"/><stop offset="0.3279" stop-color="#e20000"/><stop offset="0.3741" stop-color="#d00000"/><stop offset="0.4642" stop-color="#8f0000"/><stop offset="0.4965" stop-color="#8b0000"/><stop offset="0.5404" stop-color="#9a0000"/><stop offset="0.5751" stop-color="#b80000"/><stop offset="0.6305" stop-color="#ff0200"/><stop offset="0.6928" stop-color="#ff4800"/><stop offset="0.8314" stop-color="#ffd300"/><stop offset="0.8776" stop-color="#fdff02"/><stop offset="0.9261" stop-color="#beff41"/><stop offset="1.0000" stop-color="#4bffb4"/></linearGradient><linearGradient id="ha45" gradientUnits="userSpaceOnUse" x1="780.95" y1="0" x2="348.40" y2="0" spreadMethod="reflect"><stop offset="0.0000" stop-color="#7b0000"/><stop offset="0.0231" stop-color="#7f0000"/><stop offset="0.0277" stop-color="#8d0000"/><stop offset="0.0346" stop-color="#b80000"/><stop offset="0.0416" stop-color="#cf0000"/><stop offset="0.0554" stop-color="#ee0000"/><stop offset="0.0970" stop-color="#ff0000"/><stop offset="0.1432" stop-color="#f90000"/><stop offset="0.1709" stop-color="#dc0000"/><stop offset="0.1894" stop-color="#ae0000"/><stop offset="0.1940" stop-color="#a40000"/><stop offset="0.1986" stop-color="#a90000"/><stop offset="0.2171" stop-color="#d20000"/><stop offset="0.2494" stop-color="#f30000"/><stop offset="0.2841" stop-color="#ff0100"/><stop offset="0.3649" stop-color="#e20000"/><stop offset="0.4573" stop-color="#960000"/><stop offset="0.4896" stop-color="#8c0000"/><stop offset="0.5335" stop-color="#960000"/><stop offset="0.5658" stop-color="#ae0000"/><stop offset="0.6305" stop-color="#ff0100"/><stop offset="0.6928" stop-color="#ff4700"/><stop offset="0.8314" stop-color="#ffd200"/><stop offset="0.8776" stop-color="#feff01"/><stop offset="0.9284" stop-color="#bdff42"/><stop offset="1.0000" stop-color="#4dffb2"/></linearGradient><linearGradient id="ha46" gradientUnits="userSpaceOnUse" x1="780.95" y1="0" x2="348.40" y2="0" spreadMethod="reflect"><stop offset="0.0000" stop-color="#850000"/><stop offset="0.0208" stop-color="#870000"/><stop offset="0.0254" stop-color="#910000"/><stop offset="0.0323" stop-color="#be0000"/><stop offset="0.0370" stop-color="#d10000"/><stop offset="0.0531" stop-color="#f80000"/><stop offset="0.0785" stop-color="#ff0300"/><stop offset="0.1039" stop-color="#ff0800"/><stop offset="0.1432" stop-color="#ff0200"/><stop offset="0.1663" stop-color="#f10000"/><stop offset="0.1732" stop-color="#e50000"/><stop offset="0.1940" stop-color="#af0000"/><stop offset="0.1986" stop-color="#b50000"/><stop offset="0.2148" stop-color="#de0000"/><stop offset="0.2425" stop-color="#fa0000"/><stop offset="0.2702" stop-color="#ff0600"/><stop offset="0.2887" stop-color="#ff0800"/><stop offset="0.3233" stop-color="#fc0000"/><stop offset="0.3626" stop-color="#ef0000"/><stop offset="0.3972" stop-color="#cf0000"/><stop offset="0.4457" stop-color="#a10000"/><stop offset="0.4781" stop-color="#900000"/><stop offset="0.5196" stop-color="#920000"/><stop offset="0.5520" stop-color="#a20000"/><stop offset="0.5912" stop-color="#cb0000"/><stop offset="0.6305" stop-color="#ff0000"/><stop offset="0.6905" stop-color="#ff4400"/><stop offset="0.8291" stop-color="#ffce00"/><stop offset="0.8799" stop-color="#fdff02"/><stop offset="0.9330" stop-color="#b8ff47"/><stop offset="1.0000" stop-color="#4fffb0"/></linearGradient><linearGradient id="ha47" gradientUnits="userSpaceOnUse" x1="780.95" y1="0" x2="348.40" y2="0" spreadMethod="reflect"><stop offset="0.0000" stop-color="#8f0000"/><stop offset="0.0208" stop-color="#920000"/><stop offset="0.0231" stop-color="#970000"/><stop offset="0.0254" stop-color="#a10000"/><stop offset="0.0323" stop-color="#cf0000"/><stop offset="0.0393" stop-color="#e70000"/><stop offset="0.0485" stop-color="#fa0000"/><stop offset="0.0577" stop-color="#ff0400"/><stop offset="0.1039" stop-color="#ff1000"/><stop offset="0.1432" stop-color="#ff0b00"/><stop offset="0.1663" stop-color="#fc0000"/><stop offset="0.1732" stop-color="#f30000"/><stop offset="0.1940" stop-color="#bb0000"/><stop offset="0.1963" stop-color="#bb0000"/><stop offset="0.2148" stop-color="#ed0000"/><stop offset="0.2333" stop-color="#fd0000"/><stop offset="0.2864" stop-color="#ff1200"/><stop offset="0.3510" stop-color="#ff0000"/><stop offset="0.3764" stop-color="#ed0000"/><stop offset="0.4249" stop-color="#b50000"/><stop offset="0.4665" stop-color="#970000"/><stop offset="0.5058" stop-color="#920000"/><stop offset="0.5427" stop-color="#9c0000"/><stop offset="0.5797" stop-color="#bd0000"/><stop offset="0.6328" stop-color="#ff0200"/><stop offset="0.6928" stop-color="#ff4600"/><stop offset="0.8314" stop-color="#ffd000"/><stop offset="0.8799" stop-color="#feff01"/><stop offset="0.9353" stop-color="#b6ff49"/><stop offset="1.0000" stop-color="#51ffae"/></linearGradient><linearGradient id="ha48" gradientUnits="userSpaceOnUse" x1="780.95" y1="0" x2="348.40" y2="0" spreadMethod="reflect"><stop offset="0.0000" stop-color="#990000"/><stop offset="0.0185" stop-color="#9b0000"/><stop offset="0.0231" stop-color="#a60000"/><stop offset="0.0300" stop-color="#d60000"/><stop offset="0.0346" stop-color="#ea0000"/><stop offset="0.0416" stop-color="#fa0000"/><stop offset="0.0485" stop-color="#ff0400"/><stop offset="0.0600" stop-color="#ff0d00"/><stop offset="0.1039" stop-color="#ff1800"/><stop offset="0.1432" stop-color="#ff1300"/><stop offset="0.1732" stop-color="#fe0000"/><stop offset="0.1824" stop-color="#ea0000"/><stop offset="0.1940" stop-color="#cb0000"/><stop offset="0.1963" stop-color="#cc0000"/><stop offset="0.2148" stop-color="#fa0000"/><stop offset="0.2309" stop-color="#ff0500"/><stop offset="0.2841" stop-color="#ff1a00"/><stop offset="0.3626" stop-color="#ff0400"/><stop offset="0.3741" stop-color="#f90000"/><stop offset="0.4180" stop-color="#bf0000"/><stop offset="0.4642" stop-color="#9c0000"/><stop offset="0.5035" stop-color="#940000"/><stop offset="0.5427" stop-color="#9d0000"/><stop offset="0.5820" stop-color="#c00000"/><stop offset="0.6328" stop-color="#ff0200"/><stop offset="0.6928" stop-color="#ff4600"/><stop offset="0.8314" stop-color="#ffcf00"/><stop offset="0.8799" stop-color="#ffff00"/><stop offset="0.9376" stop-color="#b4ff4b"/><stop offset="1.0000" stop-color="#52ffad"/></linearGradient><linearGradient id="ha49" gradientUnits="userSpaceOnUse" x1="780.95" y1="0" x2="348.40" y2="0" spreadMethod="reflect"><stop offset="0.0000" stop-color="#bd0000"/><stop offset="0.0185" stop-color="#c00000"/><stop offset="0.0231" stop-color="#ca0000"/><stop offset="0.0300" stop-color="#ef0000"/><stop offset="0.0370" stop-color="#fd0000"/><stop offset="0.0577" stop-color="#ff1500"/><stop offset="0.1039" stop-color="#ff1f00"/><stop offset="0.1455" stop-color="#ff1900"/><stop offset="0.1732" stop-color="#ff0800"/><stop offset="0.1801" stop-color="#fd0000"/><stop offset="0.1894" stop-color="#eb0000"/><stop offset="0.1940" stop-color="#df0000"/><stop offset="0.1986" stop-color="#e50000"/><stop offset="0.2079" stop-color="#fa0000"/><stop offset="0.2148" stop-color="#ff0400"/><stop offset="0.2587" stop-color="#ff1a00"/><stop offset="0.2887" stop-color="#ff1f00"/><stop offset="0.3626" stop-color="#ff0e00"/><stop offset="0.3788" stop-color="#fd0000"/><stop offset="0.4111" stop-color="#c90000"/><stop offset="0.4573" stop-color="#a50000"/><stop offset="0.4965" stop-color="#980000"/><stop offset="0.5381" stop-color="#9d0000"/><stop offset="0.5751" stop-color="#b90000"/><stop offset="0.6328" stop-color="#ff0100"/><stop offset="0.6928" stop-color="#ff4600"/><stop offset="0.8314" stop-color="#ffce00"/><stop offset="0.8822" stop-color="#fdff02"/><stop offset="0.9423" stop-color="#aeff51"/><stop offset="1.0000" stop-color="#53ffac"/></linearGradient><linearGradient id="ha50" gradientUnits="userSpaceOnUse" x1="780.95" y1="0" x2="348.40" y2="0" spreadMethod="reflect"><stop offset="0.0000" stop-color="#e30000"/><stop offset="0.0185" stop-color="#e60000"/><stop offset="0.0254" stop-color="#f30000"/><stop offset="0.0300" stop-color="#fe0000"/><stop offset="0.0577" stop-color="#ff1d00"/><stop offset="0.1062" stop-color="#ff2500"/><stop offset="0.1455" stop-color="#ff2000"/><stop offset="0.1732" stop-color="#ff1100"/><stop offset="0.1871" stop-color="#fe0000"/><stop offset="0.1940" stop-color="#f30000"/><stop offset="0.2055" stop-color="#ff0200"/><stop offset="0.2194" stop-color="#ff1100"/><stop offset="0.2610" stop-color="#ff2100"/><stop offset="0.2887" stop-color="#ff2600"/><stop offset="0.3649" stop-color="#ff1700"/><stop offset="0.3788" stop-color="#ff0700"/><stop offset="0.3834" stop-color="#fe0000"/><stop offset="0.4042" stop-color="#d40000"/><stop offset="0.4296" stop-color="#bc0000"/><stop offset="0.4781" stop-color="#a00000"/><stop offset="0.5196" stop-color="#9b0000"/><stop offset="0.5497" stop-color="#a60000"/><stop offset="0.5912" stop-color="#cb0000"/><stop offset="0.6328" stop-color="#ff0100"/><stop offset="0.6928" stop-color="#ff4600"/><stop offset="0.8314" stop-color="#ffce00"/><stop offset="0.8822" stop-color="#fdff02"/><stop offset="0.9446" stop-color="#acff53"/><stop offset="1.0000" stop-color="#54ffab"/></linearGradient><linearGradient id="ha51" gradientUnits="userSpaceOnUse" x1="780.95" y1="0" x2="348.40" y2="0" spreadMethod="reflect"><stop offset="0.0000" stop-color="#ff0a00"/><stop offset="0.0277" stop-color="#ff0a00"/><stop offset="0.0577" stop-color="#ff2400"/><stop offset="0.1085" stop-color="#ff2c00"/><stop offset="0.1478" stop-color="#ff2600"/><stop offset="0.1732" stop-color="#ff1a00"/><stop offset="0.1940" stop-color="#ff0200"/><stop offset="0.2194" stop-color="#ff1a00"/><stop offset="0.2818" stop-color="#ff2d00"/><stop offset="0.3672" stop-color="#ff1f00"/><stop offset="0.3788" stop-color="#ff1100"/><stop offset="0.3857" stop-color="#ff0100"/><stop offset="0.4018" stop-color="#d90000"/><stop offset="0.4226" stop-color="#c50000"/><stop offset="0.4827" stop-color="#a30000"/><stop offset="0.5219" stop-color="#9f0000"/><stop offset="0.5543" stop-color="#ab0000"/><stop offset="0.5935" stop-color="#ce0000"/><stop offset="0.6328" stop-color="#ff0000"/><stop offset="0.6905" stop-color="#ff4400"/><stop offset="0.8291" stop-color="#ffcb00"/><stop offset="0.8822" stop-color="#feff01"/><stop offset="0.9469" stop-color="#a9ff56"/><stop offset="1.0000" stop-color="#55ffaa"/></linearGradient><linearGradient id="ha52" gradientUnits="userSpaceOnUse" x1="780.95" y1="0" x2="348.40" y2="0" spreadMethod="reflect"><stop offset="0.0000" stop-color="#ff2f00"/><stop offset="0.0162" stop-color="#ff2d00"/><stop offset="0.0277" stop-color="#ff1800"/><stop offset="0.0600" stop-color="#ff2b00"/><stop offset="0.1109" stop-color="#ff3200"/><stop offset="0.1501" stop-color="#ff2c00"/><stop offset="0.1755" stop-color="#ff2000"/><stop offset="0.1963" stop-color="#ff0d00"/><stop offset="0.2194" stop-color="#ff2200"/><stop offset="0.2841" stop-color="#ff3300"/><stop offset="0.3695" stop-color="#ff2700"/><stop offset="0.3788" stop-color="#ff1b00"/><stop offset="0.3880" stop-color="#fd0000"/><stop offset="0.3972" stop-color="#e20000"/><stop offset="0.4088" stop-color="#d20000"/><stop offset="0.4873" stop-color="#a60000"/><stop offset="0.5266" stop-color="#a40000"/><stop offset="0.5612" stop-color="#b30000"/><stop offset="0.5982" stop-color="#d40000"/><stop offset="0.6328" stop-color="#ff0000"/><stop offset="0.6905" stop-color="#ff4400"/><stop offset="0.8291" stop-color="#ffcb00"/><stop offset="0.8822" stop-color="#feff01"/><stop offset="0.9469" stop-color="#aaff55"/><stop offset="1.0000" stop-color="#55ffaa"/></linearGradient><linearGradient id="ha53" gradientUnits="userSpaceOnUse" x1="780.95" y1="0" x2="348.40" y2="0" spreadMethod="reflect"><stop offset="0.0000" stop-color="#ff5300"/><stop offset="0.0162" stop-color="#ff5000"/><stop offset="0.0208" stop-color="#ff4300"/><stop offset="0.0254" stop-color="#ff2c00"/><stop offset="0.0300" stop-color="#ff2300"/><stop offset="0.0624" stop-color="#ff3300"/><stop offset="0.1109" stop-color="#ff3800"/><stop offset="0.1524" stop-color="#ff3300"/><stop offset="0.1755" stop-color="#ff2800"/><stop offset="0.1963" stop-color="#ff1900"/><stop offset="0.2217" stop-color="#ff2b00"/><stop offset="0.2864" stop-color="#ff3900"/><stop offset="0.3672" stop-color="#ff2e00"/><stop offset="0.3764" stop-color="#ff2200"/><stop offset="0.3880" stop-color="#fd0000"/><stop offset="0.3972" stop-color="#e40000"/><stop offset="0.4134" stop-color="#d50000"/><stop offset="0.4896" stop-color="#aa0000"/><stop offset="0.5289" stop-color="#a80000"/><stop offset="0.5681" stop-color="#ba0000"/><stop offset="0.6051" stop-color="#dc0000"/><stop offset="0.6328" stop-color="#ff0000"/><stop offset="0.6905" stop-color="#ff4400"/><stop offset="0.8291" stop-color="#ffcb00"/><stop offset="0.8822" stop-color="#feff01"/><stop offset="0.9469" stop-color="#abff54"/><stop offset="1.0000" stop-color="#56ffa9"/></linearGradient><linearGradient id="ha54" gradientUnits="userSpaceOnUse" x1="780.95" y1="0" x2="348.40" y2="0" spreadMethod="reflect"><stop offset="0.0000" stop-color="#ff7800"/><stop offset="0.0139" stop-color="#ff7600"/><stop offset="0.0185" stop-color="#ff6c00"/><stop offset="0.0208" stop-color="#ff5f00"/><stop offset="0.0254" stop-color="#ff3d00"/><stop offset="0.0277" stop-color="#ff3200"/><stop offset="0.0323" stop-color="#ff2d00"/><stop offset="0.0670" stop-color="#ff3b00"/><stop offset="0.1085" stop-color="#ff4200"/><stop offset="0.1478" stop-color="#ff3c00"/><stop offset="0.1778" stop-color="#ff2f00"/><stop offset="0.1963" stop-color="#ff2300"/><stop offset="0.2217" stop-color="#ff3300"/><stop offset="0.2864" stop-color="#ff4300"/><stop offset="0.3649" stop-color="#ff3600"/><stop offset="0.3741" stop-color="#ff2a00"/><stop offset="0.3880" stop-color="#fc0000"/><stop offset="0.3972" stop-color="#e70000"/><stop offset="0.4203" stop-color="#d60000"/><stop offset="0.4942" stop-color="#ad0000"/><stop offset="0.5335" stop-color="#ae0000"/><stop offset="0.5774" stop-color="#c20000"/><stop offset="0.6120" stop-color="#e50000"/><stop offset="0.6328" stop-color="#ff0000"/><stop offset="0.6905" stop-color="#ff4400"/><stop offset="0.8291" stop-color="#ffca00"/><stop offset="0.8822" stop-color="#feff01"/><stop offset="0.9469" stop-color="#abff54"/><stop offset="1.0000" stop-color="#56ffa9"/></linearGradient><linearGradient id="ha55" gradientUnits="userSpaceOnUse" x1="780.95" y1="0" x2="348.40" y2="0" spreadMethod="reflect"><stop offset="0.0000" stop-color="#ff8600"/><stop offset="0.0139" stop-color="#ff8300"/><stop offset="0.0185" stop-color="#ff7900"/><stop offset="0.0208" stop-color="#ff6c00"/><stop offset="0.0254" stop-color="#ff4800"/><stop offset="0.0277" stop-color="#ff3c00"/><stop offset="0.0323" stop-color="#ff3600"/><stop offset="0.0624" stop-color="#ff4500"/><stop offset="0.1109" stop-color="#ff4b00"/><stop offset="0.1501" stop-color="#ff4500"/><stop offset="0.1755" stop-color="#ff3900"/><stop offset="0.1963" stop-color="#ff2d00"/><stop offset="0.2379" stop-color="#ff4200"/><stop offset="0.2887" stop-color="#ff4c00"/><stop offset="0.3626" stop-color="#ff4000"/><stop offset="0.3718" stop-color="#ff3400"/><stop offset="0.3880" stop-color="#fd0000"/><stop offset="0.3972" stop-color="#ea0000"/><stop offset="0.4942" stop-color="#b20000"/><stop offset="0.5335" stop-color="#b20000"/><stop offset="0.5797" stop-color="#c50000"/><stop offset="0.6143" stop-color="#e80000"/><stop offset="0.6328" stop-color="#ff0100"/><stop offset="0.6905" stop-color="#ff4400"/><stop offset="0.8291" stop-color="#ffca00"/><stop offset="0.8822" stop-color="#feff01"/><stop offset="0.9469" stop-color="#acff53"/><stop offset="1.0000" stop-color="#56ffa9"/></linearGradient><linearGradient id="ha56" gradientUnits="userSpaceOnUse" x1="780.95" y1="0" x2="348.40" y2="0" spreadMethod="reflect"><stop offset="0.0000" stop-color="#ff9300"/><stop offset="0.0139" stop-color="#ff9100"/><stop offset="0.0185" stop-color="#ff8700"/><stop offset="0.0208" stop-color="#ff7900"/><stop offset="0.0254" stop-color="#ff5300"/><stop offset="0.0277" stop-color="#ff4700"/><stop offset="0.0323" stop-color="#ff4100"/><stop offset="0.0624" stop-color="#ff4f00"/><stop offset="0.1132" stop-color="#ff5500"/><stop offset="0.1524" stop-color="#ff4f00"/><stop offset="0.1755" stop-color="#ff4500"/><stop offset="0.1963" stop-color="#ff3700"/><stop offset="0.2217" stop-color="#ff4700"/><stop offset="0.2864" stop-color="#ff5600"/><stop offset="0.3603" stop-color="#ff4b00"/><stop offset="0.3695" stop-color="#ff3f00"/><stop offset="0.3788" stop-color="#ff2000"/><stop offset="0.3880" stop-color="#fe0000"/><stop offset="0.3972" stop-color="#ee0000"/><stop offset="0.4965" stop-color="#b60000"/><stop offset="0.5381" stop-color="#b80000"/><stop offset="0.5820" stop-color="#c90000"/><stop offset="0.6143" stop-color="#e90000"/><stop offset="0.6328" stop-color="#ff0100"/><stop offset="0.6905" stop-color="#ff4400"/><stop offset="0.8291" stop-color="#ffcb00"/><stop offset="0.8822" stop-color="#feff01"/><stop offset="0.9469" stop-color="#acff53"/><stop offset="1.0000" stop-color="#56ffa9"/></linearGradient><linearGradient id="ha57" gradientUnits="userSpaceOnUse" x1="780.95" y1="0" x2="348.40" y2="0" spreadMethod="reflect"><stop offset="0.0000" stop-color="#ffa100"/><stop offset="0.0139" stop-color="#ff9f00"/><stop offset="0.0185" stop-color="#ff9500"/><stop offset="0.0208" stop-color="#ff8700"/><stop offset="0.0254" stop-color="#ff6100"/><stop offset="0.0277" stop-color="#ff5500"/><stop offset="0.0323" stop-color="#ff4e00"/><stop offset="0.0647" stop-color="#ff5a00"/><stop offset="0.1201" stop-color="#ff5e00"/><stop offset="0.1686" stop-color="#ff5500"/><stop offset="0.1963" stop-color="#ff4500"/><stop offset="0.2240" stop-color="#ff5400"/><stop offset="0.2910" stop-color="#ff5e00"/><stop offset="0.3580" stop-color="#ff5500"/><stop offset="0.3672" stop-color="#ff4800"/><stop offset="0.3764" stop-color="#ff2800"/><stop offset="0.3857" stop-color="#ff0500"/><stop offset="0.3880" stop-color="#fe0000"/><stop offset="0.3995" stop-color="#f00000"/><stop offset="0.4965" stop-color="#ba0000"/><stop offset="0.5381" stop-color="#bc0000"/><stop offset="0.5843" stop-color="#cc0000"/><stop offset="0.6166" stop-color="#ec0000"/><stop offset="0.6328" stop-color="#ff0200"/><stop offset="0.6882" stop-color="#ff4300"/><stop offset="0.8268" stop-color="#ffc900"/><stop offset="0.8822" stop-color="#feff01"/><stop offset="0.9469" stop-color="#acff53"/><stop offset="1.0000" stop-color="#55ffaa"/></linearGradient><linearGradient id="ha58" gradientUnits="userSpaceOnUse" x1="780.95" y1="0" x2="348.40" y2="0" spreadMethod="reflect"><stop offset="0.0000" stop-color="#ffaf00"/><stop offset="0.0139" stop-color="#ffad00"/><stop offset="0.0185" stop-color="#ffa200"/><stop offset="0.0208" stop-color="#ff9500"/><stop offset="0.0254" stop-color="#ff6f00"/><stop offset="0.0277" stop-color="#ff6300"/><stop offset="0.0323" stop-color="#ff5b00"/><stop offset="0.0716" stop-color="#ff6500"/><stop offset="0.1409" stop-color="#ff6600"/><stop offset="0.1801" stop-color="#ff5b00"/><stop offset="0.1963" stop-color="#ff5300"/><stop offset="0.2286" stop-color="#ff6000"/><stop offset="0.2933" stop-color="#ff6800"/><stop offset="0.3533" stop-color="#ff6000"/><stop offset="0.3626" stop-color="#ff5300"/><stop offset="0.3695" stop-color="#ff3c00"/><stop offset="0.3811" stop-color="#ff0d00"/><stop offset="0.3857" stop-color="#ff0100"/><stop offset="0.4042" stop-color="#f00000"/><stop offset="0.4642" stop-color="#d20000"/><stop offset="0.4965" stop-color="#bf0000"/><stop offset="0.5404" stop-color="#c10000"/><stop offset="0.5843" stop-color="#cd0000"/><stop offset="0.6166" stop-color="#ed0000"/><stop offset="0.6305" stop-color="#ff0000"/><stop offset="0.6859" stop-color="#ff4100"/><stop offset="0.8245" stop-color="#ffc700"/><stop offset="0.8822" stop-color="#fdff02"/><stop offset="0.9469" stop-color="#acff53"/><stop offset="0.9931" stop-color="#61ff9e"/><stop offset="1.0000" stop-color="#55ffaa"/></linearGradient><linearGradient id="ha59" gradientUnits="userSpaceOnUse" x1="780.95" y1="0" x2="348.40" y2="0" spreadMethod="reflect"><stop offset="0.0000" stop-color="#ffb500"/><stop offset="0.0139" stop-color="#ffb300"/><stop offset="0.0185" stop-color="#ffaa00"/><stop offset="0.0208" stop-color="#ff9d00"/><stop offset="0.0254" stop-color="#ff7a00"/><stop offset="0.0277" stop-color="#ff6f00"/><stop offset="0.0323" stop-color="#ff6800"/><stop offset="0.0947" stop-color="#ff7100"/><stop offset="0.1686" stop-color="#ff6c00"/><stop offset="0.1986" stop-color="#ff6300"/><stop offset="0.2425" stop-color="#ff6e00"/><stop offset="0.3025" stop-color="#ff7000"/><stop offset="0.3487" stop-color="#ff6a00"/><stop offset="0.3580" stop-color="#ff5e00"/><stop offset="0.3649" stop-color="#ff4700"/><stop offset="0.3764" stop-color="#ff1400"/><stop offset="0.3834" stop-color="#ff0300"/><stop offset="0.3995" stop-color="#f60000"/><stop offset="0.4642" stop-color="#d70000"/><stop offset="0.4942" stop-color="#c30000"/><stop offset="0.5404" stop-color="#c60000"/><stop offset="0.5843" stop-color="#cf0000"/><stop offset="0.6143" stop-color="#ec0000"/><stop offset="0.6305" stop-color="#ff0100"/><stop offset="0.6859" stop-color="#ff4200"/><stop offset="0.8245" stop-color="#ffc700"/><stop offset="0.8822" stop-color="#fdff02"/><stop offset="0.9469" stop-color="#acff53"/><stop offset="0.9908" stop-color="#65ff9a"/><stop offset="1.0000" stop-color="#55ffaa"/></linearGradient><linearGradient id="ha60" gradientUnits="userSpaceOnUse" x1="780.95" y1="0" x2="348.40" y2="0" spreadMethod="reflect"><stop offset="0.0000" stop-color="#ffb900"/><stop offset="0.0162" stop-color="#ffb400"/><stop offset="0.0185" stop-color="#ffae00"/><stop offset="0.0231" stop-color="#ff9400"/><stop offset="0.0254" stop-color="#ff8500"/><stop offset="0.0277" stop-color="#ff7c00"/><stop offset="0.0346" stop-color="#ff7500"/><stop offset="0.1432" stop-color="#ff7800"/><stop offset="0.2009" stop-color="#ff7200"/><stop offset="0.2656" stop-color="#ff7800"/><stop offset="0.3418" stop-color="#ff7500"/><stop offset="0.3510" stop-color="#ff6d00"/><stop offset="0.3580" stop-color="#ff5b00"/><stop offset="0.3718" stop-color="#ff1b00"/><stop offset="0.3788" stop-color="#ff0700"/><stop offset="0.3880" stop-color="#fd0000"/><stop offset="0.4642" stop-color="#db0000"/><stop offset="0.4942" stop-color="#c80000"/><stop offset="0.5427" stop-color="#ca0000"/><stop offset="0.5843" stop-color="#d10000"/><stop offset="0.6143" stop-color="#ed0000"/><stop offset="0.6305" stop-color="#ff0200"/><stop offset="0.6836" stop-color="#ff4000"/><stop offset="0.8222" stop-color="#ffc600"/><stop offset="0.8799" stop-color="#ffff00"/><stop offset="0.9469" stop-color="#acff53"/><stop offset="0.9908" stop-color="#65ff9a"/><stop offset="1.0000" stop-color="#55ffaa"/></linearGradient><linearGradient id="ha61" gradientUnits="userSpaceOnUse" x1="780.95" y1="0" x2="348.40" y2="0" spreadMethod="reflect"><stop offset="0.0000" stop-color="#ffbc00"/><stop offset="0.0162" stop-color="#ffb800"/><stop offset="0.0208" stop-color="#ffa900"/><stop offset="0.0254" stop-color="#ff8c00"/><stop offset="0.0300" stop-color="#ff7e00"/><stop offset="0.0554" stop-color="#ff7b00"/><stop offset="0.1940" stop-color="#ff7a00"/><stop offset="0.3326" stop-color="#ff7a00"/><stop offset="0.3464" stop-color="#ff7100"/><stop offset="0.3533" stop-color="#ff6000"/><stop offset="0.3695" stop-color="#ff1700"/><stop offset="0.3764" stop-color="#ff0700"/><stop offset="0.3880" stop-color="#fe0000"/><stop offset="0.4596" stop-color="#e10000"/><stop offset="0.4942" stop-color="#cc0000"/><stop offset="0.5450" stop-color="#ce0000"/><stop offset="0.5843" stop-color="#d40000"/><stop offset="0.6143" stop-color="#ef0000"/><stop offset="0.6282" stop-color="#ff0100"/><stop offset="0.6813" stop-color="#ff3f00"/><stop offset="0.8199" stop-color="#ffc500"/><stop offset="0.8799" stop-color="#feff01"/><stop offset="0.9469" stop-color="#abff54"/><stop offset="0.9931" stop-color="#61ff9e"/><stop offset="1.0000" stop-color="#55ffaa"/></linearGradient><linearGradient id="ha62" gradientUnits="userSpaceOnUse" x1="780.95" y1="0" x2="348.40" y2="0" spreadMethod="reflect"><stop offset="0.0000" stop-color="#ffbf00"/><stop offset="0.0162" stop-color="#ffbb00"/><stop offset="0.0208" stop-color="#ffac00"/><stop offset="0.0254" stop-color="#ff9000"/><stop offset="0.0300" stop-color="#ff8200"/><stop offset="0.0554" stop-color="#ff7e00"/><stop offset="0.1940" stop-color="#ff7e00"/><stop offset="0.3326" stop-color="#ff7c00"/><stop offset="0.3441" stop-color="#ff7100"/><stop offset="0.3510" stop-color="#ff5d00"/><stop offset="0.3649" stop-color="#ff1c00"/><stop offset="0.3718" stop-color="#ff0b00"/><stop offset="0.3857" stop-color="#ff0100"/><stop offset="0.4550" stop-color="#e70000"/><stop offset="0.4965" stop-color="#d00000"/><stop offset="0.5727" stop-color="#d30000"/><stop offset="0.5982" stop-color="#e00000"/><stop offset="0.6259" stop-color="#ff0000"/><stop offset="0.6790" stop-color="#ff3e00"/><stop offset="0.8176" stop-color="#ffc400"/><stop offset="0.8799" stop-color="#fdff02"/><stop offset="0.9469" stop-color="#aaff55"/><stop offset="1.0000" stop-color="#56ffa9"/></linearGradient><linearGradient id="ha63" gradientUnits="userSpaceOnUse" x1="780.95" y1="0" x2="348.40" y2="0" spreadMethod="reflect"><stop offset="0.0000" stop-color="#ffc200"/><stop offset="0.0162" stop-color="#ffbe00"/><stop offset="0.0208" stop-color="#ffaf00"/><stop offset="0.0254" stop-color="#ff9300"/><stop offset="0.0300" stop-color="#ff8500"/><stop offset="0.0554" stop-color="#ff8200"/><stop offset="0.1940" stop-color="#ff8200"/><stop offset="0.3279" stop-color="#ff7f00"/><stop offset="0.3395" stop-color="#ff7300"/><stop offset="0.3464" stop-color="#ff5e00"/><stop offset="0.3603" stop-color="#ff1d00"/><stop offset="0.3672" stop-color="#ff0d00"/><stop offset="0.3834" stop-color="#ff0200"/><stop offset="0.4434" stop-color="#ee0000"/><stop offset="0.4988" stop-color="#d30000"/><stop offset="0.5774" stop-color="#d70000"/><stop offset="0.6028" stop-color="#e70000"/><stop offset="0.6259" stop-color="#ff0200"/><stop offset="0.6790" stop-color="#ff3f00"/><stop offset="0.8176" stop-color="#ffc500"/><stop offset="0.8776" stop-color="#ffff00"/><stop offset="0.9446" stop-color="#acff53"/><stop offset="1.0000" stop-color="#56ffa9"/></linearGradient><linearGradient id="ha64" gradientUnits="userSpaceOnUse" x1="780.95" y1="0" x2="348.40" y2="0" spreadMethod="reflect"><stop offset="0.0000" stop-color="#ffc500"/><stop offset="0.0162" stop-color="#ffc100"/><stop offset="0.0208" stop-color="#ffb200"/><stop offset="0.0254" stop-color="#ff9700"/><stop offset="0.0300" stop-color="#ff8900"/><stop offset="0.0554" stop-color="#ff8500"/><stop offset="0.1940" stop-color="#ff8500"/><stop offset="0.3233" stop-color="#ff8200"/><stop offset="0.3326" stop-color="#ff7a00"/><stop offset="0.3395" stop-color="#ff6700"/><stop offset="0.3533" stop-color="#ff2600"/><stop offset="0.3603" stop-color="#ff1300"/><stop offset="0.3741" stop-color="#ff0700"/><stop offset="0.4088" stop-color="#fc0000"/><stop offset="0.5035" stop-color="#d60000"/><stop offset="0.5797" stop-color="#db0000"/><stop offset="0.6074" stop-color="#ee0000"/><stop offset="0.6236" stop-color="#ff0200"/><stop offset="0.6767" stop-color="#ff3f00"/><stop offset="0.8152" stop-color="#ffc500"/><stop offset="0.8776" stop-color="#fdff02"/><stop offset="0.9446" stop-color="#abff54"/><stop offset="1.0000" stop-color="#57ffa8"/></linearGradient><linearGradient id="ha65" gradientUnits="userSpaceOnUse" x1="780.95" y1="0" x2="348.40" y2="0" spreadMethod="reflect"><stop offset="0.0000" stop-color="#ffc800"/><stop offset="0.0162" stop-color="#ffc400"/><stop offset="0.0208" stop-color="#ffb600"/><stop offset="0.0254" stop-color="#ff9a00"/><stop offset="0.0300" stop-color="#ff8c00"/><stop offset="0.0577" stop-color="#ff8800"/><stop offset="0.1963" stop-color="#ff8800"/><stop offset="0.3187" stop-color="#ff8500"/><stop offset="0.3279" stop-color="#ff7b00"/><stop offset="0.3349" stop-color="#ff6800"/><stop offset="0.3487" stop-color="#ff2700"/><stop offset="0.3557" stop-color="#ff1500"/><stop offset="0.3695" stop-color="#ff0b00"/><stop offset="0.4180" stop-color="#fc0000"/><stop offset="0.5035" stop-color="#da0000"/><stop offset="0.5751" stop-color="#dd0000"/><stop offset="0.6028" stop-color="#ed0000"/><stop offset="0.6212" stop-color="#ff0200"/><stop offset="0.6744" stop-color="#ff3e00"/><stop offset="0.7436" stop-color="#ff8100"/><stop offset="0.8083" stop-color="#ffc000"/><stop offset="0.8753" stop-color="#ffff00"/><stop offset="0.9423" stop-color="#acff53"/><stop offset="1.0000" stop-color="#57ffa8"/></linearGradient><linearGradient id="ha66" gradientUnits="userSpaceOnUse" x1="780.95" y1="0" x2="348.40" y2="0" spreadMethod="reflect"><stop offset="0.0000" stop-color="#ffcc00"/><stop offset="0.0162" stop-color="#ffc800"/><stop offset="0.0208" stop-color="#ffb900"/><stop offset="0.0254" stop-color="#ff9d00"/><stop offset="0.0300" stop-color="#ff8f00"/><stop offset="0.0577" stop-color="#ff8b00"/><stop offset="0.1963" stop-color="#ff8b00"/><stop offset="0.3141" stop-color="#ff8800"/><stop offset="0.3233" stop-color="#ff7f00"/><stop offset="0.3303" stop-color="#ff6b00"/><stop offset="0.3441" stop-color="#ff2b00"/><stop offset="0.3510" stop-color="#ff1a00"/><stop offset="0.3649" stop-color="#ff0f00"/><stop offset="0.4249" stop-color="#fd0000"/><stop offset="0.5058" stop-color="#de0000"/><stop offset="0.5727" stop-color="#e00000"/><stop offset="0.6028" stop-color="#f10000"/><stop offset="0.6189" stop-color="#ff0300"/><stop offset="0.6744" stop-color="#ff4000"/><stop offset="0.7413" stop-color="#ff8100"/><stop offset="0.8037" stop-color="#ffbe00"/><stop offset="0.8753" stop-color="#fdff02"/><stop offset="0.9400" stop-color="#aeff51"/><stop offset="1.0000" stop-color="#57ffa8"/></linearGradient><linearGradient id="ha67" gradientUnits="userSpaceOnUse" x1="780.95" y1="0" x2="348.40" y2="0" spreadMethod="reflect"><stop offset="0.0000" stop-color="#ffce00"/><stop offset="0.0162" stop-color="#ffca00"/><stop offset="0.0208" stop-color="#ffbc00"/><stop offset="0.0254" stop-color="#ffa000"/><stop offset="0.0300" stop-color="#ff9200"/><stop offset="0.0577" stop-color="#ff8f00"/><stop offset="0.1963" stop-color="#ff8f00"/><stop offset="0.3118" stop-color="#ff8c00"/><stop offset="0.3210" stop-color="#ff8300"/><stop offset="0.3279" stop-color="#ff7200"/><stop offset="0.3418" stop-color="#ff3300"/><stop offset="0.3487" stop-color="#ff2000"/><stop offset="0.3626" stop-color="#ff1400"/><stop offset="0.4319" stop-color="#fd0000"/><stop offset="0.5081" stop-color="#e20000"/><stop offset="0.5704" stop-color="#e40000"/><stop offset="0.6028" stop-color="#f50000"/><stop offset="0.6143" stop-color="#ff0100"/><stop offset="0.6697" stop-color="#ff3e00"/><stop offset="0.7367" stop-color="#ff7e00"/><stop offset="0.7991" stop-color="#ffbd00"/><stop offset="0.8730" stop-color="#feff01"/><stop offset="0.9376" stop-color="#afff50"/><stop offset="1.0000" stop-color="#58ffa7"/></linearGradient><linearGradient id="ha68" gradientUnits="userSpaceOnUse" x1="780.95" y1="0" x2="348.40" y2="0" spreadMethod="reflect"><stop offset="0.0000" stop-color="#ffcd00"/><stop offset="0.0162" stop-color="#ffca00"/><stop offset="0.0208" stop-color="#ffbc00"/><stop offset="0.0254" stop-color="#ffa200"/><stop offset="0.0300" stop-color="#ff9500"/><stop offset="0.0647" stop-color="#ff9200"/><stop offset="0.2032" stop-color="#ff9200"/><stop offset="0.3095" stop-color="#ff9000"/><stop offset="0.3210" stop-color="#ff8400"/><stop offset="0.3279" stop-color="#ff6f00"/><stop offset="0.3418" stop-color="#ff3200"/><stop offset="0.3487" stop-color="#ff2200"/><stop offset="0.3649" stop-color="#ff1800"/><stop offset="0.4388" stop-color="#fd0000"/><stop offset="0.5104" stop-color="#e60000"/><stop offset="0.5704" stop-color="#e80000"/><stop offset="0.6028" stop-color="#fa0000"/><stop offset="0.6120" stop-color="#ff0300"/><stop offset="0.6697" stop-color="#ff4000"/><stop offset="0.7321" stop-color="#ff7b00"/><stop offset="0.7945" stop-color="#ffbb00"/><stop offset="0.8707" stop-color="#feff01"/><stop offset="0.9330" stop-color="#b3ff4c"/><stop offset="1.0000" stop-color="#58ffa7"/></linearGradient><linearGradient id="ha69" gradientUnits="userSpaceOnUse" x1="780.95" y1="0" x2="348.40" y2="0" spreadMethod="reflect"><stop offset="0.0000" stop-color="#ffcc00"/><stop offset="0.0162" stop-color="#ffc900"/><stop offset="0.0208" stop-color="#ffbc00"/><stop offset="0.0254" stop-color="#ffa500"/><stop offset="0.0300" stop-color="#ff9800"/><stop offset="0.0785" stop-color="#ff9500"/><stop offset="0.2171" stop-color="#ff9500"/><stop offset="0.3095" stop-color="#ff9200"/><stop offset="0.3187" stop-color="#ff8900"/><stop offset="0.3256" stop-color="#ff7600"/><stop offset="0.3395" stop-color="#ff3a00"/><stop offset="0.3464" stop-color="#ff2900"/><stop offset="0.3603" stop-color="#ff1e00"/><stop offset="0.4503" stop-color="#fd0000"/><stop offset="0.5173" stop-color="#ea0000"/><stop offset="0.5704" stop-color="#ed0000"/><stop offset="0.6051" stop-color="#ff0200"/><stop offset="0.6697" stop-color="#ff4300"/><stop offset="0.7275" stop-color="#ff7900"/><stop offset="0.7921" stop-color="#ffbc00"/><stop offset="0.8707" stop-color="#fcff03"/><stop offset="0.9330" stop-color="#b1ff4e"/><stop offset="1.0000" stop-color="#58ffa7"/></linearGradient><linearGradient id="ha70" gradientUnits="userSpaceOnUse" x1="780.95" y1="0" x2="348.40" y2="0" spreadMethod="reflect"><stop offset="0.0000" stop-color="#ffcc00"/><stop offset="0.0162" stop-color="#ffc800"/><stop offset="0.0208" stop-color="#ffbc00"/><stop offset="0.0254" stop-color="#ffa500"/><stop offset="0.0300" stop-color="#ff9a00"/><stop offset="0.0947" stop-color="#ff9700"/><stop offset="0.2333" stop-color="#ff9700"/><stop offset="0.3072" stop-color="#ff9400"/><stop offset="0.3187" stop-color="#ff8800"/><stop offset="0.3256" stop-color="#ff7200"/><stop offset="0.3372" stop-color="#ff4100"/><stop offset="0.3441" stop-color="#ff2f00"/><stop offset="0.3580" stop-color="#ff2300"/><stop offset="0.4249" stop-color="#ff0e00"/><stop offset="0.4642" stop-color="#fd0000"/><stop offset="0.5196" stop-color="#ef0000"/><stop offset="0.5681" stop-color="#f20000"/><stop offset="0.5982" stop-color="#ff0200"/><stop offset="0.7229" stop-color="#ff7700"/><stop offset="0.7875" stop-color="#ffba00"/><stop offset="0.8684" stop-color="#fdff02"/><stop offset="0.9307" stop-color="#b2ff4d"/><stop offset="1.0000" stop-color="#59ffa6"/></linearGradient><linearGradient id="ha71" gradientUnits="userSpaceOnUse" x1="780.95" y1="0" x2="348.40" y2="0" spreadMethod="reflect"><stop offset="0.0000" stop-color="#ffcb00"/><stop offset="0.0162" stop-color="#ffc800"/><stop offset="0.0208" stop-color="#ffbc00"/><stop offset="0.0277" stop-color="#ff9e00"/><stop offset="0.0370" stop-color="#ff9800"/><stop offset="0.1755" stop-color="#ff9800"/><stop offset="0.3048" stop-color="#ff9500"/><stop offset="0.3164" stop-color="#ff8a00"/><stop offset="0.3233" stop-color="#ff7700"/><stop offset="0.3372" stop-color="#ff4000"/><stop offset="0.3464" stop-color="#ff2f00"/><stop offset="0.4804" stop-color="#fd0000"/><stop offset="0.5358" stop-color="#f40000"/><stop offset="0.5774" stop-color="#fb0000"/><stop offset="0.5935" stop-color="#ff0600"/><stop offset="0.7113" stop-color="#ff6d00"/><stop offset="0.7829" stop-color="#ffb900"/><stop offset="0.8661" stop-color="#fdff02"/><stop offset="0.9261" stop-color="#b6ff49"/><stop offset="1.0000" stop-color="#59ffa6"/></linearGradient><linearGradient id="ha72" gradientUnits="userSpaceOnUse" x1="780.95" y1="0" x2="348.40" y2="0" spreadMethod="reflect"><stop offset="0.0000" stop-color="#ffca00"/><stop offset="0.0162" stop-color="#ffc700"/><stop offset="0.0208" stop-color="#ffbc00"/><stop offset="0.0277" stop-color="#ff9f00"/><stop offset="0.0370" stop-color="#ff9900"/><stop offset="0.1755" stop-color="#ff9800"/><stop offset="0.3048" stop-color="#ff9600"/><stop offset="0.3164" stop-color="#ff8b00"/><stop offset="0.3233" stop-color="#ff7800"/><stop offset="0.3372" stop-color="#ff4400"/><stop offset="0.3464" stop-color="#ff3400"/><stop offset="0.4249" stop-color="#ff1900"/><stop offset="0.4965" stop-color="#fe0000"/><stop offset="0.5543" stop-color="#fb0000"/><stop offset="0.5797" stop-color="#ff0400"/><stop offset="0.6236" stop-color="#ff2500"/><stop offset="0.7067" stop-color="#ff6c00"/><stop offset="0.7806" stop-color="#ffb900"/><stop offset="0.8637" stop-color="#fdff02"/><stop offset="0.9215" stop-color="#baff45"/><stop offset="1.0000" stop-color="#59ffa6"/></linearGradient><linearGradient id="ha73" gradientUnits="userSpaceOnUse" x1="780.95" y1="0" x2="348.40" y2="0" spreadMethod="reflect"><stop offset="0.0000" stop-color="#ffc900"/><stop offset="0.0162" stop-color="#ffc600"/><stop offset="0.0208" stop-color="#ffbb00"/><stop offset="0.0277" stop-color="#ffa000"/><stop offset="0.0370" stop-color="#ff9900"/><stop offset="0.1755" stop-color="#ff9900"/><stop offset="0.3048" stop-color="#ff9700"/><stop offset="0.3164" stop-color="#ff8c00"/><stop offset="0.3256" stop-color="#ff7200"/><stop offset="0.3372" stop-color="#ff4800"/><stop offset="0.3464" stop-color="#ff3900"/><stop offset="0.4226" stop-color="#ff2100"/><stop offset="0.5012" stop-color="#ff0500"/><stop offset="0.5566" stop-color="#ff0400"/><stop offset="0.5935" stop-color="#ff1300"/><stop offset="0.7021" stop-color="#ff6a00"/><stop offset="0.7760" stop-color="#ffb800"/><stop offset="0.8614" stop-color="#feff01"/><stop offset="0.9169" stop-color="#bdff42"/><stop offset="0.9885" stop-color="#66ff99"/><stop offset="1.0000" stop-color="#59ffa6"/></linearGradient><linearGradient id="ha74" gradientUnits="userSpaceOnUse" x1="780.95" y1="0" x2="348.40" y2="0" spreadMethod="reflect"><stop offset="0.0000" stop-color="#ffc800"/><stop offset="0.0162" stop-color="#ffc600"/><stop offset="0.0208" stop-color="#ffbb00"/><stop offset="0.0277" stop-color="#ffa000"/><stop offset="0.0370" stop-color="#ff9a00"/><stop offset="0.1755" stop-color="#ff9a00"/><stop offset="0.3048" stop-color="#ff9800"/><stop offset="0.3164" stop-color="#ff8d00"/><stop offset="0.3256" stop-color="#ff7400"/><stop offset="0.3372" stop-color="#ff4c00"/><stop offset="0.3464" stop-color="#ff3e00"/><stop offset="0.4203" stop-color="#ff2800"/><stop offset="0.4988" stop-color="#ff0c00"/><stop offset="0.5543" stop-color="#ff0b00"/><stop offset="0.5935" stop-color="#ff1b00"/><stop offset="0.6975" stop-color="#ff6900"/><stop offset="0.7714" stop-color="#ffb700"/><stop offset="0.8591" stop-color="#feff01"/><stop offset="0.9122" stop-color="#c1ff3e"/><stop offset="0.9769" stop-color="#72ff8d"/><stop offset="1.0000" stop-color="#59ffa6"/></linearGradient><linearGradient id="ha75" gradientUnits="userSpaceOnUse" x1="780.95" y1="0" x2="348.40" y2="0" spreadMethod="reflect"><stop offset="0.0000" stop-color="#ffc800"/><stop offset="0.0162" stop-color="#ffc500"/><stop offset="0.0208" stop-color="#ffbb00"/><stop offset="0.0277" stop-color="#ffa100"/><stop offset="0.0370" stop-color="#ff9b00"/><stop offset="0.1755" stop-color="#ff9b00"/><stop offset="0.3048" stop-color="#ff9900"/><stop offset="0.3164" stop-color="#ff8f00"/><stop offset="0.3256" stop-color="#ff7600"/><stop offset="0.3372" stop-color="#ff5000"/><stop offset="0.3487" stop-color="#ff4100"/><stop offset="0.4157" stop-color="#ff3000"/><stop offset="0.4965" stop-color="#ff1400"/><stop offset="0.5497" stop-color="#ff1200"/><stop offset="0.5912" stop-color="#ff2100"/><stop offset="0.6952" stop-color="#ff6b00"/><stop offset="0.7691" stop-color="#ffb900"/><stop offset="0.8568" stop-color="#feff01"/><stop offset="0.9099" stop-color="#c2ff3d"/><stop offset="0.9700" stop-color="#79ff86"/><stop offset="1.0000" stop-color="#5affa5"/></linearGradient><linearGradient id="ha76" gradientUnits="userSpaceOnUse" x1="780.95" y1="0" x2="348.40" y2="0" spreadMethod="reflect"><stop offset="0.0000" stop-color="#ffc700"/><stop offset="0.0162" stop-color="#ffc400"/><stop offset="0.0208" stop-color="#ffba00"/><stop offset="0.0277" stop-color="#ffa100"/><stop offset="0.0393" stop-color="#ff9c00"/><stop offset="0.1778" stop-color="#ff9c00"/><stop offset="0.3072" stop-color="#ff9900"/><stop offset="0.3187" stop-color="#ff8b00"/><stop offset="0.3372" stop-color="#ff5400"/><stop offset="0.3487" stop-color="#ff4600"/><stop offset="0.4180" stop-color="#ff3400"/><stop offset="0.4965" stop-color="#ff1b00"/><stop offset="0.5497" stop-color="#ff1900"/><stop offset="0.5935" stop-color="#ff2900"/><stop offset="0.6882" stop-color="#ff6900"/><stop offset="0.7691" stop-color="#ffbc00"/><stop offset="0.8545" stop-color="#feff01"/><stop offset="0.9053" stop-color="#c6ff39"/><stop offset="0.9630" stop-color="#7eff81"/><stop offset="1.0000" stop-color="#5affa5"/></linearGradient><linearGradient id="ha77" gradientUnits="userSpaceOnUse" x1="780.95" y1="0" x2="348.40" y2="0" spreadMethod="reflect"><stop offset="0.0000" stop-color="#ffc600"/><stop offset="0.0162" stop-color="#ffc300"/><stop offset="0.0208" stop-color="#ffba00"/><stop offset="0.0277" stop-color="#ffa200"/><stop offset="0.0393" stop-color="#ff9d00"/><stop offset="0.1778" stop-color="#ff9d00"/><stop offset="0.3072" stop-color="#ff9a00"/><stop offset="0.3187" stop-color="#ff8d00"/><stop offset="0.3372" stop-color="#ff5800"/><stop offset="0.3487" stop-color="#ff4b00"/><stop offset="0.4249" stop-color="#ff3800"/><stop offset="0.4988" stop-color="#ff2200"/><stop offset="0.5497" stop-color="#ff2100"/><stop offset="0.5958" stop-color="#ff3100"/><stop offset="0.6813" stop-color="#ff6700"/><stop offset="0.7691" stop-color="#ffbf00"/><stop offset="0.8522" stop-color="#feff01"/><stop offset="0.9030" stop-color="#c7ff38"/><stop offset="0.9584" stop-color="#82ff7d"/><stop offset="1.0000" stop-color="#5affa5"/></linearGradient><linearGradient id="ha78" gradientUnits="userSpaceOnUse" x1="780.95" y1="0" x2="348.40" y2="0" spreadMethod="reflect"><stop offset="0.0000" stop-color="#ffc500"/><stop offset="0.0162" stop-color="#ffc300"/><stop offset="0.0208" stop-color="#ffba00"/><stop offset="0.0277" stop-color="#ffa300"/><stop offset="0.0393" stop-color="#ff9d00"/><stop offset="0.1778" stop-color="#ff9d00"/><stop offset="0.3072" stop-color="#ff9a00"/><stop offset="0.3187" stop-color="#ff8e00"/><stop offset="0.3372" stop-color="#ff5c00"/><stop offset="0.3487" stop-color="#ff5000"/><stop offset="0.4365" stop-color="#ff3900"/><stop offset="0.5035" stop-color="#ff2900"/><stop offset="0.5520" stop-color="#ff2900"/><stop offset="0.6028" stop-color="#ff3c00"/><stop offset="0.6744" stop-color="#ff6600"/><stop offset="0.7667" stop-color="#ffc100"/><stop offset="0.8499" stop-color="#feff01"/><stop offset="0.9007" stop-color="#c7ff38"/><stop offset="0.9561" stop-color="#83ff7c"/><stop offset="1.0000" stop-color="#5bffa4"/></linearGradient><linearGradient id="ha79" gradientUnits="userSpaceOnUse" x1="780.95" y1="0" x2="348.40" y2="0" spreadMethod="reflect"><stop offset="0.0000" stop-color="#ffc400"/><stop offset="0.0162" stop-color="#ffc200"/><stop offset="0.0208" stop-color="#ffb900"/><stop offset="0.0277" stop-color="#ffa300"/><stop offset="0.0416" stop-color="#ff9e00"/><stop offset="0.1801" stop-color="#ff9e00"/><stop offset="0.3072" stop-color="#ff9b00"/><stop offset="0.3187" stop-color="#ff8f00"/><stop offset="0.3372" stop-color="#ff6000"/><stop offset="0.3510" stop-color="#ff5300"/><stop offset="0.4896" stop-color="#ff3200"/><stop offset="0.5450" stop-color="#ff3000"/><stop offset="0.6028" stop-color="#ff4200"/><stop offset="0.6697" stop-color="#ff6700"/><stop offset="0.7667" stop-color="#ffc400"/><stop offset="0.8476" stop-color="#feff01"/><stop offset="0.8984" stop-color="#c8ff37"/><stop offset="0.9515" stop-color="#86ff79"/><stop offset="1.0000" stop-color="#5bffa4"/></linearGradient><linearGradient id="ha80" gradientUnits="userSpaceOnUse" x1="780.95" y1="0" x2="348.40" y2="0" spreadMethod="reflect"><stop offset="0.0000" stop-color="#ffc300"/><stop offset="0.0162" stop-color="#ffc100"/><stop offset="0.0208" stop-color="#ffb900"/><stop offset="0.0277" stop-color="#ffa400"/><stop offset="0.0416" stop-color="#ff9f00"/><stop offset="0.1801" stop-color="#ff9f00"/><stop offset="0.3072" stop-color="#ff9c00"/><stop offset="0.3187" stop-color="#ff9100"/><stop offset="0.3372" stop-color="#ff6400"/><stop offset="0.3510" stop-color="#ff5700"/><stop offset="0.4896" stop-color="#ff3800"/><stop offset="0.5450" stop-color="#ff3700"/><stop offset="0.6074" stop-color="#ff4900"/><stop offset="0.6651" stop-color="#ff6800"/><stop offset="0.7621" stop-color="#ffc300"/><stop offset="0.8453" stop-color="#feff01"/><stop offset="0.8984" stop-color="#c6ff39"/><stop offset="0.9515" stop-color="#84ff7b"/><stop offset="1.0000" stop-color="#5bffa4"/></linearGradient><linearGradient id="ha81" gradientUnits="userSpaceOnUse" x1="780.95" y1="0" x2="348.40" y2="0" spreadMethod="reflect"><stop offset="0.0000" stop-color="#ffc200"/><stop offset="0.0162" stop-color="#ffc000"/><stop offset="0.0300" stop-color="#ffa200"/><stop offset="0.1686" stop-color="#ffa000"/><stop offset="0.3072" stop-color="#ff9e00"/><stop offset="0.3187" stop-color="#ff9200"/><stop offset="0.3372" stop-color="#ff6800"/><stop offset="0.3510" stop-color="#ff5c00"/><stop offset="0.4896" stop-color="#ff3f00"/><stop offset="0.5473" stop-color="#ff3e00"/><stop offset="0.6143" stop-color="#ff5100"/><stop offset="0.6651" stop-color="#ff6d00"/><stop offset="0.7575" stop-color="#ffc300"/><stop offset="0.8430" stop-color="#feff01"/><stop offset="0.8961" stop-color="#c7ff38"/><stop offset="0.9515" stop-color="#83ff7c"/><stop offset="1.0000" stop-color="#5bffa4"/></linearGradient><linearGradient id="ha82" gradientUnits="userSpaceOnUse" x1="780.95" y1="0" x2="348.40" y2="0" spreadMethod="reflect"><stop offset="0.0000" stop-color="#ffc100"/><stop offset="0.0185" stop-color="#ffbc00"/><stop offset="0.0277" stop-color="#ffa600"/><stop offset="0.0485" stop-color="#ffa200"/><stop offset="0.1871" stop-color="#ffa200"/><stop offset="0.3072" stop-color="#ff9f00"/><stop offset="0.3187" stop-color="#ff9400"/><stop offset="0.3372" stop-color="#ff6b00"/><stop offset="0.3510" stop-color="#ff6000"/><stop offset="0.4896" stop-color="#ff4500"/><stop offset="0.5473" stop-color="#ff4400"/><stop offset="0.6189" stop-color="#ff5800"/><stop offset="0.6674" stop-color="#ff7400"/><stop offset="0.7506" stop-color="#ffc100"/><stop offset="0.8406" stop-color="#feff01"/><stop offset="0.8938" stop-color="#c8ff37"/><stop offset="0.9492" stop-color="#84ff7b"/><stop offset="1.0000" stop-color="#5bffa4"/></linearGradient><linearGradient id="ha83" gradientUnits="userSpaceOnUse" x1="780.95" y1="0" x2="348.40" y2="0" spreadMethod="reflect"><stop offset="0.0000" stop-color="#ffbf00"/><stop offset="0.0185" stop-color="#ffbb00"/><stop offset="0.0277" stop-color="#ffa700"/><stop offset="0.0531" stop-color="#ffa300"/><stop offset="0.1917" stop-color="#ffa300"/><stop offset="0.3072" stop-color="#ffa000"/><stop offset="0.3187" stop-color="#ff9600"/><stop offset="0.3395" stop-color="#ff6c00"/><stop offset="0.3603" stop-color="#ff6200"/><stop offset="0.4965" stop-color="#ff4a00"/><stop offset="0.5543" stop-color="#ff4b00"/><stop offset="0.6236" stop-color="#ff5f00"/><stop offset="0.6674" stop-color="#ff7800"/><stop offset="0.7436" stop-color="#ffc000"/><stop offset="0.8383" stop-color="#fdff02"/><stop offset="0.8915" stop-color="#c9ff36"/><stop offset="0.9515" stop-color="#81ff7e"/><stop offset="1.0000" stop-color="#5bffa4"/></linearGradient><linearGradient id="ha84" gradientUnits="userSpaceOnUse" x1="780.95" y1="0" x2="348.40" y2="0" spreadMethod="reflect"><stop offset="0.0000" stop-color="#ffbe00"/><stop offset="0.0185" stop-color="#ffba00"/><stop offset="0.0277" stop-color="#ffa700"/><stop offset="0.0624" stop-color="#ffa400"/><stop offset="0.2009" stop-color="#ffa400"/><stop offset="0.3072" stop-color="#ffa200"/><stop offset="0.3187" stop-color="#ff9800"/><stop offset="0.3395" stop-color="#ff7000"/><stop offset="0.3603" stop-color="#ff6600"/><stop offset="0.4942" stop-color="#ff4f00"/><stop offset="0.5566" stop-color="#ff5100"/><stop offset="0.6259" stop-color="#ff6400"/><stop offset="0.6674" stop-color="#ff7d00"/><stop offset="0.7413" stop-color="#ffc200"/><stop offset="0.8360" stop-color="#fdff02"/><stop offset="0.8891" stop-color="#c9ff36"/><stop offset="0.9515" stop-color="#81ff7e"/><stop offset="1.0000" stop-color="#5bffa4"/></linearGradient><linearGradient id="ha85" gradientUnits="userSpaceOnUse" x1="780.95" y1="0" x2="348.40" y2="0" spreadMethod="reflect"><stop offset="0.0000" stop-color="#ffbd00"/><stop offset="0.0185" stop-color="#ffb900"/><stop offset="0.0300" stop-color="#ffa700"/><stop offset="0.1686" stop-color="#ffa500"/><stop offset="0.3072" stop-color="#ffa300"/><stop offset="0.3210" stop-color="#ff9600"/><stop offset="0.3395" stop-color="#ff7300"/><stop offset="0.3603" stop-color="#ff6900"/><stop offset="0.4942" stop-color="#ff5400"/><stop offset="0.5589" stop-color="#ff5700"/><stop offset="0.6259" stop-color="#ff6900"/><stop offset="0.6674" stop-color="#ff8200"/><stop offset="0.7367" stop-color="#ffc200"/><stop offset="0.8337" stop-color="#fcff03"/><stop offset="0.8891" stop-color="#c8ff37"/><stop offset="0.9515" stop-color="#80ff7f"/><stop offset="1.0000" stop-color="#5bffa4"/></linearGradient><linearGradient id="ha86" gradientUnits="userSpaceOnUse" x1="780.95" y1="0" x2="348.40" y2="0" spreadMethod="reflect"><stop offset="0.0000" stop-color="#ffbb00"/><stop offset="0.0185" stop-color="#ffb800"/><stop offset="0.0300" stop-color="#ffa800"/><stop offset="0.1686" stop-color="#ffa600"/><stop offset="0.3072" stop-color="#ffa400"/><stop offset="0.3210" stop-color="#ff9800"/><stop offset="0.3395" stop-color="#ff7700"/><stop offset="0.3626" stop-color="#ff6d00"/><stop offset="0.4942" stop-color="#ff5900"/><stop offset="0.5635" stop-color="#ff5c00"/><stop offset="0.6259" stop-color="#ff6e00"/><stop offset="0.6674" stop-color="#ff8800"/><stop offset="0.7344" stop-color="#ffc400"/><stop offset="0.8291" stop-color="#feff01"/><stop offset="0.8845" stop-color="#cbff34"/><stop offset="0.9515" stop-color="#80ff7f"/><stop offset="1.0000" stop-color="#5bffa4"/></linearGradient><linearGradient id="ha87" gradientUnits="userSpaceOnUse" x1="780.95" y1="0" x2="348.40" y2="0" spreadMethod="reflect"><stop offset="0.0000" stop-color="#ffba00"/><stop offset="0.0185" stop-color="#ffb700"/><stop offset="0.0300" stop-color="#ffa900"/><stop offset="0.1686" stop-color="#ffa800"/><stop offset="0.3072" stop-color="#ffa600"/><stop offset="0.3210" stop-color="#ff9a00"/><stop offset="0.3395" stop-color="#ff7a00"/><stop offset="0.3626" stop-color="#ff7000"/><stop offset="0.4942" stop-color="#ff5d00"/><stop offset="0.5681" stop-color="#ff6200"/><stop offset="0.6259" stop-color="#ff7200"/><stop offset="0.6674" stop-color="#ff8d00"/><stop offset="0.7321" stop-color="#ffc600"/><stop offset="0.8268" stop-color="#fdff02"/><stop offset="0.8822" stop-color="#cbff34"/><stop offset="0.9515" stop-color="#80ff7f"/><stop offset="1.0000" stop-color="#5bffa4"/></linearGradient><linearGradient id="ha88" gradientUnits="userSpaceOnUse" x1="780.95" y1="0" x2="348.40" y2="0" spreadMethod="reflect"><stop offset="0.0000" stop-color="#ffb900"/><stop offset="0.0185" stop-color="#ffb600"/><stop offset="0.0300" stop-color="#ffaa00"/><stop offset="0.1686" stop-color="#ffa900"/><stop offset="0.3072" stop-color="#ffa700"/><stop offset="0.3210" stop-color="#ff9c00"/><stop offset="0.3395" stop-color="#ff7d00"/><stop offset="0.3626" stop-color="#ff7400"/><stop offset="0.4942" stop-color="#ff6200"/><stop offset="0.5704" stop-color="#ff6600"/><stop offset="0.6259" stop-color="#ff7700"/><stop offset="0.6697" stop-color="#ff9500"/><stop offset="0.7298" stop-color="#ffc800"/><stop offset="0.8245" stop-color="#fcff03"/><stop offset="0.8822" stop-color="#c9ff36"/><stop offset="0.9538" stop-color="#7dff82"/><stop offset="1.0000" stop-color="#5bffa4"/></linearGradient><linearGradient id="ha89" gradientUnits="userSpaceOnUse" x1="780.95" y1="0" x2="348.40" y2="0" spreadMethod="reflect"><stop offset="0.0000" stop-color="#ffb700"/><stop offset="0.0208" stop-color="#ffb300"/><stop offset="0.0323" stop-color="#ffaa00"/><stop offset="0.1709" stop-color="#ffaa00"/><stop offset="0.3095" stop-color="#ffa700"/><stop offset="0.3233" stop-color="#ff9a00"/><stop offset="0.3395" stop-color="#ff8100"/><stop offset="0.3649" stop-color="#ff7700"/><stop offset="0.4942" stop-color="#ff6600"/><stop offset="0.5727" stop-color="#ff6b00"/><stop offset="0.6259" stop-color="#ff7c00"/><stop offset="0.6721" stop-color="#ff9c00"/><stop offset="0.7275" stop-color="#ffc900"/><stop offset="0.8199" stop-color="#fdff02"/><stop offset="0.8776" stop-color="#ccff33"/><stop offset="0.9538" stop-color="#7dff82"/><stop offset="1.0000" stop-color="#5bffa4"/></linearGradient><linearGradient id="ha90" gradientUnits="userSpaceOnUse" x1="780.95" y1="0" x2="348.40" y2="0" spreadMethod="reflect"><stop offset="0.0000" stop-color="#ffb600"/><stop offset="0.0208" stop-color="#ffb300"/><stop offset="0.0346" stop-color="#ffab00"/><stop offset="0.1732" stop-color="#ffab00"/><stop offset="0.3095" stop-color="#ffa900"/><stop offset="0.3233" stop-color="#ff9c00"/><stop offset="0.3395" stop-color="#ff8400"/><stop offset="0.3649" stop-color="#ff7a00"/><stop offset="0.4942" stop-color="#ff6a00"/><stop offset="0.5727" stop-color="#ff6f00"/><stop offset="0.6236" stop-color="#ff7f00"/><stop offset="0.6721" stop-color="#ffa200"/><stop offset="0.7275" stop-color="#ffcd00"/><stop offset="0.8176" stop-color="#fcff03"/><stop offset="0.8776" stop-color="#caff35"/><stop offset="0.9538" stop-color="#7dff82"/><stop offset="1.0000" stop-color="#5bffa4"/></linearGradient><linearGradient id="ha91" gradientUnits="userSpaceOnUse" x1="780.95" y1="0" x2="348.40" y2="0" spreadMethod="reflect"><stop offset="0.0000" stop-color="#ffb500"/><stop offset="0.0462" stop-color="#ffac00"/><stop offset="0.1848" stop-color="#ffac00"/><stop offset="0.3095" stop-color="#ffaa00"/><stop offset="0.3233" stop-color="#ff9e00"/><stop offset="0.3418" stop-color="#ff8500"/><stop offset="0.3857" stop-color="#ff7b00"/><stop offset="0.4988" stop-color="#ff6e00"/><stop offset="0.5751" stop-color="#ff7400"/><stop offset="0.6259" stop-color="#ff8600"/><stop offset="0.7321" stop-color="#ffd300"/><stop offset="0.8129" stop-color="#fdff02"/><stop offset="0.8753" stop-color="#cbff34"/><stop offset="0.9538" stop-color="#7dff82"/><stop offset="1.0000" stop-color="#5bffa4"/></linearGradient><linearGradient id="ha92" gradientUnits="userSpaceOnUse" x1="780.95" y1="0" x2="348.40" y2="0" spreadMethod="reflect"><stop offset="0.0000" stop-color="#ffb300"/><stop offset="0.0577" stop-color="#ffae00"/><stop offset="0.1963" stop-color="#ffae00"/><stop offset="0.3118" stop-color="#ffab00"/><stop offset="0.3256" stop-color="#ff9d00"/><stop offset="0.3418" stop-color="#ff8800"/><stop offset="0.3880" stop-color="#ff7d00"/><stop offset="0.5012" stop-color="#ff7200"/><stop offset="0.5751" stop-color="#ff7800"/><stop offset="0.6259" stop-color="#ff8a00"/><stop offset="0.7321" stop-color="#ffd500"/><stop offset="0.8083" stop-color="#feff01"/><stop offset="0.8730" stop-color="#cbff34"/><stop offset="0.9538" stop-color="#7cff83"/><stop offset="1.0000" stop-color="#5bffa4"/></linearGradient><linearGradient id="ha93" gradientUnits="userSpaceOnUse" x1="780.95" y1="0" x2="348.40" y2="0" spreadMethod="reflect"><stop offset="0.0000" stop-color="#ffb400"/><stop offset="0.0670" stop-color="#ffaf00"/><stop offset="0.2055" stop-color="#ffaf00"/><stop offset="0.3118" stop-color="#ffac00"/><stop offset="0.3256" stop-color="#ff9f00"/><stop offset="0.3418" stop-color="#ff8a00"/><stop offset="0.3926" stop-color="#ff8000"/><stop offset="0.5035" stop-color="#ff7500"/><stop offset="0.5751" stop-color="#ff7c00"/><stop offset="0.6259" stop-color="#ff8f00"/><stop offset="0.7298" stop-color="#ffd700"/><stop offset="0.8060" stop-color="#fdff02"/><stop offset="0.8730" stop-color="#c9ff36"/><stop offset="0.9538" stop-color="#7cff83"/><stop offset="1.0000" stop-color="#5bffa4"/></linearGradient><linearGradient id="ha94" gradientUnits="userSpaceOnUse" x1="780.95" y1="0" x2="348.40" y2="0" spreadMethod="reflect"><stop offset="0.0000" stop-color="#ffb500"/><stop offset="0.0716" stop-color="#ffb000"/><stop offset="0.2102" stop-color="#ffb000"/><stop offset="0.3118" stop-color="#ffad00"/><stop offset="0.3279" stop-color="#ff9d00"/><stop offset="0.3441" stop-color="#ff8c00"/><stop offset="0.4781" stop-color="#ff7900"/><stop offset="0.5635" stop-color="#ff7d00"/><stop offset="0.6189" stop-color="#ff9000"/><stop offset="0.7344" stop-color="#ffdc00"/><stop offset="0.8014" stop-color="#fdff02"/><stop offset="0.8707" stop-color="#c9ff36"/><stop offset="0.9538" stop-color="#7cff83"/><stop offset="1.0000" stop-color="#5bffa4"/></linearGradient><linearGradient id="ha95" gradientUnits="userSpaceOnUse" x1="780.95" y1="0" x2="348.40" y2="0" spreadMethod="reflect"><stop offset="0.0000" stop-color="#ffb600"/><stop offset="0.0762" stop-color="#ffb100"/><stop offset="0.2148" stop-color="#ffb100"/><stop offset="0.3118" stop-color="#ffaf00"/><stop offset="0.3279" stop-color="#ff9f00"/><stop offset="0.3441" stop-color="#ff8e00"/><stop offset="0.4758" stop-color="#ff7d00"/><stop offset="0.5635" stop-color="#ff8100"/><stop offset="0.6212" stop-color="#ff9600"/><stop offset="0.7344" stop-color="#ffdf00"/><stop offset="0.7968" stop-color="#feff01"/><stop offset="0.8684" stop-color="#c8ff37"/><stop offset="0.9538" stop-color="#7bff84"/><stop offset="1.0000" stop-color="#5cffa3"/></linearGradient><linearGradient id="ha96" gradientUnits="userSpaceOnUse" x1="780.95" y1="0" x2="348.40" y2="0" spreadMethod="reflect"><stop offset="0.0000" stop-color="#ffb700"/><stop offset="0.0831" stop-color="#ffb200"/><stop offset="0.2217" stop-color="#ffb200"/><stop offset="0.3118" stop-color="#ffb000"/><stop offset="0.3279" stop-color="#ffa200"/><stop offset="0.3441" stop-color="#ff9100"/><stop offset="0.4758" stop-color="#ff8000"/><stop offset="0.5612" stop-color="#ff8500"/><stop offset="0.6189" stop-color="#ff9a00"/><stop offset="0.7367" stop-color="#ffe200"/><stop offset="0.7945" stop-color="#fdff02"/><stop offset="0.8684" stop-color="#c6ff39"/><stop offset="0.9538" stop-color="#7bff84"/><stop offset="1.0000" stop-color="#5cffa3"/></linearGradient><linearGradient id="ha97" gradientUnits="userSpaceOnUse" x1="780.95" y1="0" x2="348.40" y2="0" spreadMethod="reflect"><stop offset="0.0000" stop-color="#ffb800"/><stop offset="0.0901" stop-color="#ffb400"/><stop offset="0.2286" stop-color="#ffb400"/><stop offset="0.3141" stop-color="#ffb000"/><stop offset="0.3441" stop-color="#ff9400"/><stop offset="0.4734" stop-color="#ff8300"/><stop offset="0.5589" stop-color="#ff8800"/><stop offset="0.6166" stop-color="#ff9d00"/><stop offset="0.7390" stop-color="#ffe600"/><stop offset="0.7898" stop-color="#fdff02"/><stop offset="0.8661" stop-color="#c6ff39"/><stop offset="0.9538" stop-color="#7aff85"/><stop offset="1.0000" stop-color="#5cffa3"/></linearGradient><linearGradient id="ha98" gradientUnits="userSpaceOnUse" x1="780.95" y1="0" x2="348.40" y2="0" spreadMethod="reflect"><stop offset="0.0000" stop-color="#ffb900"/><stop offset="0.1016" stop-color="#ffb500"/><stop offset="0.2402" stop-color="#ffb500"/><stop offset="0.3141" stop-color="#ffb200"/><stop offset="0.3464" stop-color="#ff9500"/><stop offset="0.4804" stop-color="#ff8600"/><stop offset="0.5612" stop-color="#ff8c00"/><stop offset="0.6212" stop-color="#ffa400"/><stop offset="0.7390" stop-color="#ffe800"/><stop offset="0.7852" stop-color="#fdff02"/><stop offset="0.8614" stop-color="#c7ff38"/><stop offset="0.9538" stop-color="#7aff85"/><stop offset="1.0000" stop-color="#5cffa3"/></linearGradient><linearGradient id="ha99" gradientUnits="userSpaceOnUse" x1="780.95" y1="0" x2="348.40" y2="0" spreadMethod="reflect"><stop offset="0.0000" stop-color="#ffb900"/><stop offset="0.1201" stop-color="#ffb600"/><stop offset="0.2587" stop-color="#ffb600"/><stop offset="0.3141" stop-color="#ffb300"/><stop offset="0.3464" stop-color="#ff9800"/><stop offset="0.4781" stop-color="#ff8900"/><stop offset="0.5589" stop-color="#ff9000"/><stop offset="0.6212" stop-color="#ffa800"/><stop offset="0.7436" stop-color="#ffed00"/><stop offset="0.7829" stop-color="#fcff03"/><stop offset="0.8614" stop-color="#c5ff3a"/><stop offset="0.9538" stop-color="#79ff86"/><stop offset="1.0000" stop-color="#5cffa3"/></linearGradient><linearGradient id="ha100" gradientUnits="userSpaceOnUse" x1="780.95" y1="0" x2="348.40" y2="0" spreadMethod="reflect"><stop offset="0.0000" stop-color="#ffba00"/><stop offset="0.1386" stop-color="#ffb700"/><stop offset="0.2771" stop-color="#ffb700"/><stop offset="0.3164" stop-color="#ffb300"/><stop offset="0.3464" stop-color="#ff9a00"/><stop offset="0.4781" stop-color="#ff8c00"/><stop offset="0.5566" stop-color="#ff9300"/><stop offset="0.6212" stop-color="#ffac00"/><stop offset="0.7575" stop-color="#fff600"/><stop offset="0.7783" stop-color="#fcff03"/><stop offset="0.8591" stop-color="#c4ff3b"/><stop offset="0.9515" stop-color="#7aff85"/><stop offset="1.0000" stop-color="#5cffa3"/></linearGradient><linearGradient id="ha101" gradientUnits="userSpaceOnUse" x1="780.95" y1="0" x2="348.40" y2="0" spreadMethod="reflect"><stop offset="0.0000" stop-color="#ffbb00"/><stop offset="0.1386" stop-color="#ffb800"/><stop offset="0.2771" stop-color="#ffb800"/><stop offset="0.3164" stop-color="#ffb500"/><stop offset="0.3464" stop-color="#ff9c00"/><stop offset="0.4781" stop-color="#ff8e00"/><stop offset="0.5543" stop-color="#ff9600"/><stop offset="0.6212" stop-color="#ffb000"/><stop offset="0.7598" stop-color="#fffa00"/><stop offset="0.7783" stop-color="#faff05"/><stop offset="0.8614" stop-color="#c0ff3f"/><stop offset="0.9515" stop-color="#7aff85"/><stop offset="1.0000" stop-color="#5cffa3"/></linearGradient><linearGradient id="ha102" gradientUnits="userSpaceOnUse" x1="780.95" y1="0" x2="348.40" y2="0" spreadMethod="reflect"><stop offset="0.0000" stop-color="#ffbc00"/><stop offset="0.1386" stop-color="#ffba00"/><stop offset="0.2771" stop-color="#ffba00"/><stop offset="0.3187" stop-color="#ffb500"/><stop offset="0.3464" stop-color="#ff9f00"/><stop offset="0.4758" stop-color="#ff9100"/><stop offset="0.5520" stop-color="#ff9900"/><stop offset="0.6212" stop-color="#ffb400"/><stop offset="0.7598" stop-color="#fffc00"/><stop offset="0.7852" stop-color="#f4ff0b"/><stop offset="0.8730" stop-color="#b5ff4a"/><stop offset="0.9538" stop-color="#78ff87"/><stop offset="1.0000" stop-color="#5cffa3"/></linearGradient><linearGradient id="ha103" gradientUnits="userSpaceOnUse" x1="780.95" y1="0" x2="348.40" y2="0" spreadMethod="reflect"><stop offset="0.0000" stop-color="#ffbd00"/><stop offset="0.1386" stop-color="#ffbb00"/><stop offset="0.2771" stop-color="#ffbb00"/><stop offset="0.3187" stop-color="#ffb600"/><stop offset="0.3464" stop-color="#ffa100"/><stop offset="0.4758" stop-color="#ff9400"/><stop offset="0.5520" stop-color="#ff9c00"/><stop offset="0.6259" stop-color="#ffba00"/><stop offset="0.7644" stop-color="#fdff02"/><stop offset="0.8522" stop-color="#c3ff3c"/><stop offset="0.9492" stop-color="#7aff85"/><stop offset="1.0000" stop-color="#5cffa3"/></linearGradient><linearGradient id="ha104" gradientUnits="userSpaceOnUse" x1="780.95" y1="0" x2="348.40" y2="0" spreadMethod="reflect"><stop offset="0.0000" stop-color="#ffbe00"/><stop offset="0.1386" stop-color="#ffbc00"/><stop offset="0.2771" stop-color="#ffbc00"/><stop offset="0.3187" stop-color="#ffb800"/><stop offset="0.3464" stop-color="#ffa300"/><stop offset="0.4734" stop-color="#ff9700"/><stop offset="0.5473" stop-color="#ff9f00"/><stop offset="0.6236" stop-color="#ffbc00"/><stop offset="0.7598" stop-color="#fdff02"/><stop offset="0.8499" stop-color="#c2ff3d"/><stop offset="0.9469" stop-color="#7bff84"/><stop offset="1.0000" stop-color="#5cffa3"/></linearGradient><linearGradient id="ha105" gradientUnits="userSpaceOnUse" x1="780.95" y1="0" x2="348.40" y2="0" spreadMethod="reflect"><stop offset="0.0000" stop-color="#ffbf00"/><stop offset="0.1386" stop-color="#ffbd00"/><stop offset="0.2771" stop-color="#ffbd00"/><stop offset="0.3187" stop-color="#ffb900"/><stop offset="0.3487" stop-color="#ffa500"/><stop offset="0.4781" stop-color="#ff9a00"/><stop offset="0.5520" stop-color="#ffa300"/><stop offset="0.6374" stop-color="#ffc700"/><stop offset="0.7552" stop-color="#fdff02"/><stop offset="0.8453" stop-color="#c3ff3c"/><stop offset="0.9446" stop-color="#7bff84"/><stop offset="1.0000" stop-color="#5bffa4"/></linearGradient><linearGradient id="ha106" gradientUnits="userSpaceOnUse" x1="780.95" y1="0" x2="348.40" y2="0" spreadMethod="reflect"><stop offset="0.0000" stop-color="#ffc000"/><stop offset="0.1386" stop-color="#ffbe00"/><stop offset="0.2771" stop-color="#ffbe00"/><stop offset="0.3187" stop-color="#ffbb00"/><stop offset="0.3487" stop-color="#ffa700"/><stop offset="0.4781" stop-color="#ff9c00"/><stop offset="0.5497" stop-color="#ffa600"/><stop offset="0.6397" stop-color="#ffcb00"/><stop offset="0.7506" stop-color="#fdff02"/><stop offset="0.8406" stop-color="#c4ff3b"/><stop offset="0.9400" stop-color="#7dff82"/><stop offset="1.0000" stop-color="#5bffa4"/></linearGradient><linearGradient id="ha107" gradientUnits="userSpaceOnUse" x1="780.95" y1="0" x2="348.40" y2="0" spreadMethod="reflect"><stop offset="0.0000" stop-color="#ffc100"/><stop offset="0.1386" stop-color="#ffc000"/><stop offset="0.2771" stop-color="#ffc000"/><stop offset="0.3210" stop-color="#ffbb00"/><stop offset="0.3487" stop-color="#ffaa00"/><stop offset="0.4758" stop-color="#ff9f00"/><stop offset="0.5473" stop-color="#ffa900"/><stop offset="0.6420" stop-color="#ffcf00"/><stop offset="0.7460" stop-color="#fdff02"/><stop offset="0.8360" stop-color="#c5ff3a"/><stop offset="0.9376" stop-color="#7dff82"/><stop offset="1.0000" stop-color="#5bffa4"/></linearGradient><linearGradient id="ha108" gradientUnits="userSpaceOnUse" x1="780.95" y1="0" x2="348.40" y2="0" spreadMethod="reflect"><stop offset="0.0000" stop-color="#ffc200"/><stop offset="0.1386" stop-color="#ffc100"/><stop offset="0.2771" stop-color="#ffc100"/><stop offset="0.3210" stop-color="#ffbd00"/><stop offset="0.3510" stop-color="#ffab00"/><stop offset="0.4781" stop-color="#ffa200"/><stop offset="0.5497" stop-color="#ffad00"/><stop offset="0.6582" stop-color="#ffda00"/><stop offset="0.7413" stop-color="#fdff02"/><stop offset="0.8314" stop-color="#c6ff39"/><stop offset="0.9353" stop-color="#7eff81"/><stop offset="1.0000" stop-color="#5affa5"/></linearGradient><linearGradient id="ha109" gradientUnits="userSpaceOnUse" x1="780.95" y1="0" x2="348.40" y2="0" spreadMethod="reflect"><stop offset="0.0000" stop-color="#ffc300"/><stop offset="0.1386" stop-color="#ffc200"/><stop offset="0.2771" stop-color="#ffc200"/><stop offset="0.3210" stop-color="#ffbe00"/><stop offset="0.3533" stop-color="#ffad00"/><stop offset="0.4781" stop-color="#ffa500"/><stop offset="0.5497" stop-color="#ffb000"/><stop offset="0.6744" stop-color="#ffe400"/><stop offset="0.7367" stop-color="#fdff02"/><stop offset="0.8268" stop-color="#c7ff38"/><stop offset="0.9307" stop-color="#7fff80"/><stop offset="1.0000" stop-color="#5affa5"/></linearGradient><linearGradient id="ha110" gradientUnits="userSpaceOnUse" x1="780.95" y1="0" x2="348.40" y2="0" spreadMethod="reflect"><stop offset="0.0000" stop-color="#ffc400"/><stop offset="0.1386" stop-color="#ffc300"/><stop offset="0.2771" stop-color="#ffc300"/><stop offset="0.3233" stop-color="#ffbf00"/><stop offset="0.3533" stop-color="#ffb000"/><stop offset="0.4781" stop-color="#ffa800"/><stop offset="0.5497" stop-color="#ffb300"/><stop offset="0.6882" stop-color="#ffed00"/><stop offset="0.7321" stop-color="#fcff03"/><stop offset="0.8222" stop-color="#c7ff38"/><stop offset="0.9284" stop-color="#7fff80"/><stop offset="1.0000" stop-color="#59ffa6"/></linearGradient><linearGradient id="ha111" gradientUnits="userSpaceOnUse" x1="780.95" y1="0" x2="348.40" y2="0" spreadMethod="reflect"><stop offset="0.0000" stop-color="#ffc500"/><stop offset="0.1386" stop-color="#ffc400"/><stop offset="0.2771" stop-color="#ffc400"/><stop offset="0.3233" stop-color="#ffc100"/><stop offset="0.3557" stop-color="#ffb200"/><stop offset="0.4781" stop-color="#ffab00"/><stop offset="0.5497" stop-color="#ffb700"/><stop offset="0.6882" stop-color="#fff000"/><stop offset="0.7275" stop-color="#fcff03"/><stop offset="0.8176" stop-color="#c8ff37"/><stop offset="0.9261" stop-color="#7fff80"/><stop offset="1.0000" stop-color="#59ffa6"/></linearGradient><linearGradient id="ha112" gradientUnits="userSpaceOnUse" x1="780.95" y1="0" x2="348.40" y2="0" spreadMethod="reflect"><stop offset="0.0000" stop-color="#ffc600"/><stop offset="0.1386" stop-color="#ffc600"/><stop offset="0.2771" stop-color="#ffc600"/><stop offset="0.3256" stop-color="#ffc200"/><stop offset="0.3580" stop-color="#ffb400"/><stop offset="0.4804" stop-color="#ffae00"/><stop offset="0.5520" stop-color="#ffbb00"/><stop offset="0.6905" stop-color="#fff300"/><stop offset="0.7206" stop-color="#fdff02"/><stop offset="0.8129" stop-color="#c9ff36"/><stop offset="0.9261" stop-color="#7eff81"/><stop offset="1.0000" stop-color="#59ffa6"/></linearGradient><linearGradient id="ha113" gradientUnits="userSpaceOnUse" x1="780.95" y1="0" x2="348.40" y2="0" spreadMethod="reflect"><stop offset="0.0000" stop-color="#ffc700"/><stop offset="0.1386" stop-color="#ffc700"/><stop offset="0.2771" stop-color="#ffc700"/><stop offset="0.3256" stop-color="#ffc300"/><stop offset="0.3603" stop-color="#ffb700"/><stop offset="0.4804" stop-color="#ffb100"/><stop offset="0.5520" stop-color="#ffbf00"/><stop offset="0.6905" stop-color="#fff600"/><stop offset="0.7182" stop-color="#fbff04"/><stop offset="0.8106" stop-color="#c8ff37"/><stop offset="0.9238" stop-color="#7eff81"/><stop offset="1.0000" stop-color="#58ffa7"/></linearGradient><linearGradient id="ha114" gradientUnits="userSpaceOnUse" x1="780.95" y1="0" x2="348.40" y2="0" spreadMethod="reflect"><stop offset="0.0000" stop-color="#ffc800"/><stop offset="0.1386" stop-color="#ffc800"/><stop offset="0.2771" stop-color="#ffc800"/><stop offset="0.3279" stop-color="#ffc400"/><stop offset="0.3626" stop-color="#ffb900"/><stop offset="0.4804" stop-color="#ffb500"/><stop offset="0.5520" stop-color="#ffc200"/><stop offset="0.6905" stop-color="#fff900"/><stop offset="0.7136" stop-color="#fbff04"/><stop offset="0.8083" stop-color="#c7ff38"/><stop offset="0.9215" stop-color="#7eff81"/><stop offset="1.0000" stop-color="#58ffa7"/></linearGradient><linearGradient id="ha115" gradientUnits="userSpaceOnUse" x1="780.95" y1="0" x2="348.40" y2="0" spreadMethod="reflect"><stop offset="0.0000" stop-color="#ffc900"/><stop offset="0.1386" stop-color="#ffc900"/><stop offset="0.2771" stop-color="#ffc900"/><stop offset="0.3303" stop-color="#ffc500"/><stop offset="0.3695" stop-color="#ffbb00"/><stop offset="0.4850" stop-color="#ffb900"/><stop offset="0.5612" stop-color="#ffc900"/><stop offset="0.6998" stop-color="#ffff00"/><stop offset="0.7991" stop-color="#caff35"/><stop offset="0.9215" stop-color="#7dff82"/><stop offset="1.0000" stop-color="#57ffa8"/></linearGradient><linearGradient id="ha116" gradientUnits="userSpaceOnUse" x1="780.95" y1="0" x2="348.40" y2="0" spreadMethod="reflect"><stop offset="0.0000" stop-color="#ffca00"/><stop offset="0.1386" stop-color="#ffca00"/><stop offset="0.2771" stop-color="#ffca00"/><stop offset="0.3326" stop-color="#ffc600"/><stop offset="0.3788" stop-color="#ffbd00"/><stop offset="0.4919" stop-color="#ffbd00"/><stop offset="0.5727" stop-color="#ffd000"/><stop offset="0.6975" stop-color="#fdff02"/><stop offset="0.7991" stop-color="#c8ff37"/><stop offset="0.9192" stop-color="#7dff82"/><stop offset="1.0000" stop-color="#57ffa8"/></linearGradient><linearGradient id="ha117" gradientUnits="userSpaceOnUse" x1="780.95" y1="0" x2="348.40" y2="0" spreadMethod="reflect"><stop offset="0.0000" stop-color="#ffcb00"/><stop offset="0.1386" stop-color="#ffcb00"/><stop offset="0.2771" stop-color="#ffcb00"/><stop offset="0.3349" stop-color="#ffc700"/><stop offset="0.3972" stop-color="#ffbf00"/><stop offset="0.5035" stop-color="#ffc200"/><stop offset="0.5958" stop-color="#ffdb00"/><stop offset="0.6928" stop-color="#fdff02"/><stop offset="0.7968" stop-color="#c7ff38"/><stop offset="0.9169" stop-color="#7dff82"/><stop offset="1.0000" stop-color="#56ffa9"/></linearGradient><linearGradient id="ha118" gradientUnits="userSpaceOnUse" x1="780.95" y1="0" x2="348.40" y2="0" spreadMethod="reflect"><stop offset="0.0000" stop-color="#ffcc00"/><stop offset="0.1386" stop-color="#ffcc00"/><stop offset="0.2771" stop-color="#ffcc00"/><stop offset="0.3395" stop-color="#ffc800"/><stop offset="0.4434" stop-color="#ffc200"/><stop offset="0.5312" stop-color="#ffcb00"/><stop offset="0.6697" stop-color="#fffa00"/><stop offset="0.6928" stop-color="#faff05"/><stop offset="0.7968" stop-color="#c5ff3a"/><stop offset="0.9145" stop-color="#7dff82"/><stop offset="1.0000" stop-color="#56ffa9"/></linearGradient><linearGradient id="ha119" gradientUnits="userSpaceOnUse" x1="780.95" y1="0" x2="348.40" y2="0" spreadMethod="reflect"><stop offset="0.0000" stop-color="#ffcd00"/><stop offset="0.1386" stop-color="#ffcd00"/><stop offset="0.2771" stop-color="#ffcd00"/><stop offset="0.4157" stop-color="#ffc500"/><stop offset="0.5173" stop-color="#ffcc00"/><stop offset="0.6374" stop-color="#fff000"/><stop offset="0.6813" stop-color="#fdff02"/><stop offset="0.7875" stop-color="#c8ff37"/><stop offset="0.9122" stop-color="#7dff82"/><stop offset="1.0000" stop-color="#55ffaa"/></linearGradient><linearGradient id="ha120" gradientUnits="userSpaceOnUse" x1="780.95" y1="0" x2="348.40" y2="0" spreadMethod="reflect"><stop offset="0.0000" stop-color="#ffce00"/><stop offset="0.1386" stop-color="#ffce00"/><stop offset="0.2771" stop-color="#ffce00"/><stop offset="0.4157" stop-color="#ffc800"/><stop offset="0.5196" stop-color="#ffd100"/><stop offset="0.6467" stop-color="#fff700"/><stop offset="0.6767" stop-color="#fcff03"/><stop offset="0.7852" stop-color="#c7ff38"/><stop offset="0.9099" stop-color="#7dff82"/><stop offset="1.0000" stop-color="#55ffaa"/></linearGradient><linearGradient id="ha121" gradientUnits="userSpaceOnUse" x1="780.95" y1="0" x2="348.40" y2="0" spreadMethod="reflect"><stop offset="0.0000" stop-color="#ffd000"/><stop offset="0.1386" stop-color="#ffd000"/><stop offset="0.2771" stop-color="#ffd000"/><stop offset="0.4157" stop-color="#ffcc00"/><stop offset="0.5242" stop-color="#ffd500"/><stop offset="0.6628" stop-color="#ffff00"/><stop offset="0.7737" stop-color="#cbff34"/><stop offset="0.9076" stop-color="#7dff82"/><stop offset="1.0000" stop-color="#54ffab"/></linearGradient><linearGradient id="ha122" gradientUnits="userSpaceOnUse" x1="780.95" y1="0" x2="348.40" y2="0" spreadMethod="reflect"><stop offset="0.0000" stop-color="#ffd100"/><stop offset="0.1386" stop-color="#ffd100"/><stop offset="0.2771" stop-color="#ffd100"/><stop offset="0.4157" stop-color="#ffcf00"/><stop offset="0.5289" stop-color="#ffda00"/><stop offset="0.6605" stop-color="#fdff02"/><stop offset="0.7714" stop-color="#caff35"/><stop offset="0.9053" stop-color="#7cff83"/><stop offset="1.0000" stop-color="#53ffac"/></linearGradient><linearGradient id="ha123" gradientUnits="userSpaceOnUse" x1="780.95" y1="0" x2="348.40" y2="0" spreadMethod="reflect"><stop offset="0.0000" stop-color="#ffd200"/><stop offset="0.1386" stop-color="#ffd200"/><stop offset="0.2771" stop-color="#ffd200"/><stop offset="0.4157" stop-color="#ffd200"/><stop offset="0.5335" stop-color="#ffdf00"/><stop offset="0.6536" stop-color="#fcff03"/><stop offset="0.7644" stop-color="#cbff34"/><stop offset="0.9030" stop-color="#7cff83"/><stop offset="1.0000" stop-color="#53ffac"/></linearGradient><linearGradient id="ha124" gradientUnits="userSpaceOnUse" x1="780.95" y1="0" x2="348.40" y2="0" spreadMethod="reflect"><stop offset="0.0000" stop-color="#ffd300"/><stop offset="0.1386" stop-color="#ffd300"/><stop offset="0.2771" stop-color="#ffd300"/><stop offset="0.4157" stop-color="#ffd600"/><stop offset="0.5381" stop-color="#ffe300"/><stop offset="0.6443" stop-color="#fdff02"/><stop offset="0.7552" stop-color="#ceff31"/><stop offset="0.8938" stop-color="#7fff80"/><stop offset="1.0000" stop-color="#52ffad"/></linearGradient><linearGradient id="ha125" gradientUnits="userSpaceOnUse" x1="780.95" y1="0" x2="348.40" y2="0" spreadMethod="reflect"><stop offset="0.0000" stop-color="#ffd500"/><stop offset="0.1386" stop-color="#ffd500"/><stop offset="0.2771" stop-color="#ffd500"/><stop offset="0.4157" stop-color="#ffd900"/><stop offset="0.5450" stop-color="#ffe800"/><stop offset="0.6351" stop-color="#fdff02"/><stop offset="0.7436" stop-color="#d1ff2e"/><stop offset="0.8822" stop-color="#83ff7c"/><stop offset="1.0000" stop-color="#51ffae"/></linearGradient><linearGradient id="ha126" gradientUnits="userSpaceOnUse" x1="780.95" y1="0" x2="348.40" y2="0" spreadMethod="reflect"><stop offset="0.0000" stop-color="#ffd600"/><stop offset="0.1386" stop-color="#ffd600"/><stop offset="0.2771" stop-color="#ffd600"/><stop offset="0.4157" stop-color="#ffdc00"/><stop offset="0.5520" stop-color="#ffed00"/><stop offset="0.6282" stop-color="#fcff03"/><stop offset="0.7367" stop-color="#d2ff2d"/><stop offset="0.8753" stop-color="#85ff7a"/><stop offset="1.0000" stop-color="#50ffaf"/></linearGradient><linearGradient id="ha127" gradientUnits="userSpaceOnUse" x1="780.95" y1="0" x2="348.40" y2="0" spreadMethod="reflect"><stop offset="0.0000" stop-color="#ffd700"/><stop offset="0.1386" stop-color="#ffd700"/><stop offset="0.2771" stop-color="#ffd700"/><stop offset="0.4157" stop-color="#ffdf00"/><stop offset="0.5543" stop-color="#fff100"/><stop offset="0.6189" stop-color="#fcff03"/><stop offset="0.7275" stop-color="#d4ff2b"/><stop offset="0.8661" stop-color="#88ff77"/><stop offset="1.0000" stop-color="#4fffb0"/></linearGradient><linearGradient id="ha128" gradientUnits="userSpaceOnUse" x1="780.95" y1="0" x2="348.40" y2="0" spreadMethod="reflect"><stop offset="0.0000" stop-color="#ffd900"/><stop offset="0.1386" stop-color="#ffd900"/><stop offset="0.2771" stop-color="#ffd900"/><stop offset="0.3464" stop-color="#ffdd00"/><stop offset="0.4850" stop-color="#ffea00"/><stop offset="0.6074" stop-color="#fcff03"/><stop offset="0.7182" stop-color="#d6ff29"/><stop offset="0.8568" stop-color="#8bff74"/><stop offset="0.9954" stop-color="#50ffaf"/><stop offset="1.0000" stop-color="#4effb1"/></linearGradient><linearGradient id="ha129" gradientUnits="userSpaceOnUse" x1="780.95" y1="0" x2="348.40" y2="0" spreadMethod="reflect"><stop offset="0.0000" stop-color="#ffda00"/><stop offset="0.1386" stop-color="#ffda00"/><stop offset="0.2771" stop-color="#ffda00"/><stop offset="0.3441" stop-color="#ffde00"/><stop offset="0.4827" stop-color="#ffed00"/><stop offset="0.5958" stop-color="#fdff02"/><stop offset="0.7090" stop-color="#d7ff28"/><stop offset="0.8268" stop-color="#9aff65"/><stop offset="0.9145" stop-color="#70ff8f"/><stop offset="1.0000" stop-color="#4dffb2"/></linearGradient><linearGradient id="ha130" gradientUnits="userSpaceOnUse" x1="780.95" y1="0" x2="348.40" y2="0" spreadMethod="reflect"><stop offset="0.0000" stop-color="#ffdb00"/><stop offset="0.1386" stop-color="#ffdb00"/><stop offset="0.2771" stop-color="#ffdb00"/><stop offset="0.3441" stop-color="#ffdf00"/><stop offset="0.4827" stop-color="#fff000"/><stop offset="0.5843" stop-color="#fcff03"/><stop offset="0.6998" stop-color="#d8ff27"/><stop offset="0.8106" stop-color="#a2ff5d"/><stop offset="0.9053" stop-color="#73ff8c"/><stop offset="1.0000" stop-color="#4cffb3"/></linearGradient><linearGradient id="ha131" gradientUnits="userSpaceOnUse" x1="780.95" y1="0" x2="348.40" y2="0" spreadMethod="reflect"><stop offset="0.0000" stop-color="#ffdd00"/><stop offset="0.1386" stop-color="#ffdd00"/><stop offset="0.2771" stop-color="#ffdd00"/><stop offset="0.3441" stop-color="#ffe100"/><stop offset="0.4203" stop-color="#ffec00"/><stop offset="0.5589" stop-color="#ffff00"/><stop offset="0.6790" stop-color="#deff21"/><stop offset="0.7829" stop-color="#afff50"/><stop offset="0.8961" stop-color="#75ff8a"/><stop offset="1.0000" stop-color="#4bffb4"/></linearGradient><linearGradient id="ha132" gradientUnits="userSpaceOnUse" x1="780.95" y1="0" x2="348.40" y2="0" spreadMethod="reflect"><stop offset="0.0000" stop-color="#ffde00"/><stop offset="0.1386" stop-color="#ffde00"/><stop offset="0.2771" stop-color="#ffde00"/><stop offset="0.3418" stop-color="#ffe100"/><stop offset="0.3903" stop-color="#ffeb00"/><stop offset="0.5289" stop-color="#fffd00"/><stop offset="0.6120" stop-color="#f0ff0f"/><stop offset="0.7229" stop-color="#caff35"/><stop offset="0.8614" stop-color="#83ff7c"/><stop offset="1.0000" stop-color="#4affb5"/></linearGradient><linearGradient id="ha133" gradientUnits="userSpaceOnUse" x1="780.95" y1="0" x2="348.40" y2="0" spreadMethod="reflect"><stop offset="0.0000" stop-color="#ffdf00"/><stop offset="0.1386" stop-color="#ffdf00"/><stop offset="0.2771" stop-color="#ffdf00"/><stop offset="0.3441" stop-color="#ffe300"/><stop offset="0.3903" stop-color="#ffed00"/><stop offset="0.5289" stop-color="#feff01"/><stop offset="0.6513" stop-color="#e2ff1d"/><stop offset="0.7575" stop-color="#b7ff48"/><stop offset="0.8961" stop-color="#73ff8c"/><stop offset="1.0000" stop-color="#49ffb6"/></linearGradient><linearGradient id="ha134" gradientUnits="userSpaceOnUse" x1="780.95" y1="0" x2="348.40" y2="0" spreadMethod="reflect"><stop offset="0.0000" stop-color="#ffe100"/><stop offset="0.1386" stop-color="#ffe100"/><stop offset="0.2771" stop-color="#ffe100"/><stop offset="0.3441" stop-color="#ffe500"/><stop offset="0.3880" stop-color="#ffef00"/><stop offset="0.5219" stop-color="#fcff03"/><stop offset="0.6443" stop-color="#e2ff1d"/><stop offset="0.7529" stop-color="#b7ff48"/><stop offset="0.8915" stop-color="#74ff8b"/><stop offset="1.0000" stop-color="#48ffb7"/></linearGradient><linearGradient id="ha135" gradientUnits="userSpaceOnUse" x1="780.95" y1="0" x2="348.40" y2="0" spreadMethod="reflect"><stop offset="0.0000" stop-color="#ffe200"/><stop offset="0.1386" stop-color="#ffe200"/><stop offset="0.2771" stop-color="#ffe200"/><stop offset="0.3441" stop-color="#ffe600"/><stop offset="0.3857" stop-color="#fff100"/><stop offset="0.5035" stop-color="#fcff03"/><stop offset="0.6328" stop-color="#e3ff1c"/><stop offset="0.7413" stop-color="#bbff44"/><stop offset="0.8799" stop-color="#77ff88"/><stop offset="1.0000" stop-color="#47ffb8"/></linearGradient><linearGradient id="ha136" gradientUnits="userSpaceOnUse" x1="780.95" y1="0" x2="348.40" y2="0" spreadMethod="reflect"><stop offset="0.0000" stop-color="#ffe300"/><stop offset="0.1386" stop-color="#ffe300"/><stop offset="0.2771" stop-color="#ffe300"/><stop offset="0.3441" stop-color="#ffe700"/><stop offset="0.3857" stop-color="#fff300"/><stop offset="0.4873" stop-color="#fcff03"/><stop offset="0.6259" stop-color="#e2ff1d"/><stop offset="0.7367" stop-color="#baff45"/><stop offset="0.8753" stop-color="#78ff87"/><stop offset="1.0000" stop-color="#46ffb9"/></linearGradient><linearGradient id="ha137" gradientUnits="userSpaceOnUse" x1="780.95" y1="0" x2="348.40" y2="0" spreadMethod="reflect"><stop offset="0.0000" stop-color="#ffe400"/><stop offset="0.1386" stop-color="#ffe400"/><stop offset="0.2771" stop-color="#ffe400"/><stop offset="0.3441" stop-color="#ffe800"/><stop offset="0.3857" stop-color="#fff400"/><stop offset="0.4734" stop-color="#fcff03"/><stop offset="0.6120" stop-color="#e3ff1c"/><stop offset="0.7229" stop-color="#beff41"/><stop offset="0.8614" stop-color="#7cff83"/><stop offset="1.0000" stop-color="#45ffba"/></linearGradient><linearGradient id="ha138" gradientUnits="userSpaceOnUse" x1="780.95" y1="0" x2="348.40" y2="0" spreadMethod="reflect"><stop offset="0.0000" stop-color="#ffe500"/><stop offset="0.1386" stop-color="#ffe500"/><stop offset="0.2771" stop-color="#ffe500"/><stop offset="0.3441" stop-color="#ffe900"/><stop offset="0.3857" stop-color="#fff600"/><stop offset="0.4642" stop-color="#fcff03"/><stop offset="0.6028" stop-color="#e3ff1c"/><stop offset="0.7159" stop-color="#bfff40"/><stop offset="0.8545" stop-color="#7eff81"/><stop offset="0.9931" stop-color="#47ffb8"/><stop offset="1.0000" stop-color="#44ffbb"/></linearGradient><linearGradient id="ha139" gradientUnits="userSpaceOnUse" x1="780.95" y1="0" x2="348.40" y2="0" spreadMethod="reflect"><stop offset="0.0000" stop-color="#ffe600"/><stop offset="0.1386" stop-color="#ffe600"/><stop offset="0.2771" stop-color="#ffe600"/><stop offset="0.3464" stop-color="#ffea00"/><stop offset="0.3880" stop-color="#fff800"/><stop offset="0.4550" stop-color="#fbff04"/><stop offset="0.5935" stop-color="#e2ff1d"/><stop offset="0.7067" stop-color="#c0ff3f"/><stop offset="0.8453" stop-color="#80ff7f"/><stop offset="0.9838" stop-color="#4affb5"/><stop offset="1.0000" stop-color="#43ffbc"/></linearGradient><linearGradient id="ha140" gradientUnits="userSpaceOnUse" x1="780.95" y1="0" x2="348.40" y2="0" spreadMethod="reflect"><stop offset="0.0000" stop-color="#ffe800"/><stop offset="0.1386" stop-color="#ffe800"/><stop offset="0.2771" stop-color="#ffe800"/><stop offset="0.3464" stop-color="#ffeb00"/><stop offset="0.3880" stop-color="#fff900"/><stop offset="0.4480" stop-color="#fbff04"/><stop offset="0.5866" stop-color="#e2ff1d"/><stop offset="0.6998" stop-color="#c1ff3e"/><stop offset="0.8383" stop-color="#82ff7d"/><stop offset="0.9769" stop-color="#4cffb3"/><stop offset="1.0000" stop-color="#42ffbd"/></linearGradient><linearGradient id="ha141" gradientUnits="userSpaceOnUse" x1="780.95" y1="0" x2="348.40" y2="0" spreadMethod="reflect"><stop offset="0.0000" stop-color="#ffe900"/><stop offset="0.1386" stop-color="#ffe900"/><stop offset="0.2771" stop-color="#ffe900"/><stop offset="0.3464" stop-color="#ffec00"/><stop offset="0.3903" stop-color="#fffa00"/><stop offset="0.4434" stop-color="#fbff04"/><stop offset="0.5820" stop-color="#e0ff1f"/><stop offset="0.6952" stop-color="#c0ff3f"/><stop offset="0.8337" stop-color="#82ff7d"/><stop offset="0.9723" stop-color="#4dffb2"/><stop offset="1.0000" stop-color="#41ffbe"/></linearGradient><linearGradient id="ha142" gradientUnits="userSpaceOnUse" x1="780.95" y1="0" x2="348.40" y2="0" spreadMethod="reflect"><stop offset="0.0000" stop-color="#ffea00"/><stop offset="0.1386" stop-color="#ffea00"/><stop offset="0.2771" stop-color="#ffea00"/><stop offset="0.3487" stop-color="#ffee00"/><stop offset="0.3926" stop-color="#fffc00"/><stop offset="0.4457" stop-color="#f9ff06"/><stop offset="0.5843" stop-color="#ddff22"/><stop offset="0.6998" stop-color="#bcff43"/><stop offset="0.8383" stop-color="#7fff80"/><stop offset="0.9769" stop-color="#4affb5"/><stop offset="1.0000" stop-color="#40ffbf"/></linearGradient><linearGradient id="ha143" gradientUnits="userSpaceOnUse" x1="780.95" y1="0" x2="348.40" y2="0" spreadMethod="reflect"><stop offset="0.0000" stop-color="#ffeb00"/><stop offset="0.1386" stop-color="#ffeb00"/><stop offset="0.2771" stop-color="#ffeb00"/><stop offset="0.3487" stop-color="#ffee00"/><stop offset="0.3926" stop-color="#fffc00"/><stop offset="0.4573" stop-color="#f5ff0a"/><stop offset="0.5958" stop-color="#d9ff26"/><stop offset="0.7113" stop-color="#b6ff49"/><stop offset="0.8499" stop-color="#78ff87"/><stop offset="0.9885" stop-color="#43ffbc"/><stop offset="1.0000" stop-color="#3effc1"/></linearGradient><linearGradient id="ha144" gradientUnits="userSpaceOnUse" x1="780.95" y1="0" x2="348.40" y2="0" spreadMethod="reflect"><stop offset="0.0000" stop-color="#ffec00"/><stop offset="0.1386" stop-color="#ffec00"/><stop offset="0.2771" stop-color="#ffec00"/><stop offset="0.3487" stop-color="#ffef00"/><stop offset="0.3949" stop-color="#fffe00"/><stop offset="0.5012" stop-color="#e9ff16"/><stop offset="0.6397" stop-color="#cbff34"/><stop offset="0.7598" stop-color="#9fff60"/><stop offset="0.8984" stop-color="#64ff9b"/><stop offset="1.0000" stop-color="#3dffc2"/></linearGradient><linearGradient id="ha145" gradientUnits="userSpaceOnUse" x1="780.95" y1="0" x2="348.40" y2="0" spreadMethod="reflect"><stop offset="0.0000" stop-color="#ffed00"/><stop offset="0.1386" stop-color="#ffed00"/><stop offset="0.2771" stop-color="#ffed00"/><stop offset="0.3510" stop-color="#fff100"/><stop offset="0.3995" stop-color="#ffff00"/><stop offset="0.5381" stop-color="#e0ff1f"/><stop offset="0.6651" stop-color="#c2ff3d"/><stop offset="0.7968" stop-color="#8cff73"/><stop offset="0.9353" stop-color="#55ffaa"/><stop offset="1.0000" stop-color="#3bffc4"/></linearGradient><linearGradient id="ha146" gradientUnits="userSpaceOnUse" x1="780.95" y1="0" x2="348.40" y2="0" spreadMethod="reflect"><stop offset="0.0000" stop-color="#ffee00"/><stop offset="0.1386" stop-color="#ffee00"/><stop offset="0.2771" stop-color="#ffee00"/><stop offset="0.3510" stop-color="#fff100"/><stop offset="0.3995" stop-color="#ffff00"/><stop offset="0.5381" stop-color="#deff21"/><stop offset="0.6674" stop-color="#bfff40"/><stop offset="0.8060" stop-color="#87ff78"/><stop offset="0.9446" stop-color="#50ffaf"/><stop offset="1.0000" stop-color="#39ffc6"/></linearGradient><linearGradient id="ha147" gradientUnits="userSpaceOnUse" x1="780.95" y1="0" x2="348.40" y2="0" spreadMethod="reflect"><stop offset="0.0000" stop-color="#ffef00"/><stop offset="0.1386" stop-color="#ffef00"/><stop offset="0.2771" stop-color="#ffef00"/><stop offset="0.3533" stop-color="#fff300"/><stop offset="0.3995" stop-color="#feff01"/><stop offset="0.5381" stop-color="#dcff23"/><stop offset="0.6674" stop-color="#bdff42"/><stop offset="0.8060" stop-color="#85ff7a"/><stop offset="0.9446" stop-color="#4effb1"/><stop offset="1.0000" stop-color="#36ffc9"/></linearGradient><linearGradient id="ha148" gradientUnits="userSpaceOnUse" x1="780.95" y1="0" x2="348.40" y2="0" spreadMethod="reflect"><stop offset="0.0000" stop-color="#fff000"/><stop offset="0.1386" stop-color="#fff000"/><stop offset="0.2771" stop-color="#fff000"/><stop offset="0.3557" stop-color="#fff400"/><stop offset="0.3995" stop-color="#feff01"/><stop offset="0.5381" stop-color="#daff25"/><stop offset="0.6697" stop-color="#baff45"/><stop offset="0.8083" stop-color="#82ff7d"/><stop offset="0.9469" stop-color="#4cffb3"/><stop offset="1.0000" stop-color="#34ffcb"/></linearGradient><linearGradient id="ha149" gradientUnits="userSpaceOnUse" x1="780.95" y1="0" x2="348.40" y2="0" spreadMethod="reflect"><stop offset="0.0000" stop-color="#fff100"/><stop offset="0.1386" stop-color="#fff100"/><stop offset="0.2771" stop-color="#fff100"/><stop offset="0.3557" stop-color="#fff500"/><stop offset="0.3995" stop-color="#fdff02"/><stop offset="0.5381" stop-color="#d8ff27"/><stop offset="0.6721" stop-color="#b7ff48"/><stop offset="0.8106" stop-color="#80ff7f"/><stop offset="0.9492" stop-color="#49ffb6"/><stop offset="1.0000" stop-color="#32ffcd"/></linearGradient><linearGradient id="ha150" gradientUnits="userSpaceOnUse" x1="780.95" y1="0" x2="348.40" y2="0" spreadMethod="reflect"><stop offset="0.0000" stop-color="#fff200"/><stop offset="0.1386" stop-color="#fff200"/><stop offset="0.2771" stop-color="#fff200"/><stop offset="0.3580" stop-color="#fff600"/><stop offset="0.3995" stop-color="#fdff02"/><stop offset="0.4804" stop-color="#e7ff18"/><stop offset="0.5704" stop-color="#d0ff2f"/><stop offset="0.6975" stop-color="#acff53"/><stop offset="0.8360" stop-color="#74ff8b"/><stop offset="0.9746" stop-color="#3cffc3"/><stop offset="1.0000" stop-color="#2fffd0"/></linearGradient><linearGradient id="ha151" gradientUnits="userSpaceOnUse" x1="780.95" y1="0" x2="348.40" y2="0" spreadMethod="reflect"><stop offset="0.0000" stop-color="#fff300"/><stop offset="0.1386" stop-color="#fff300"/><stop offset="0.2771" stop-color="#fff300"/><stop offset="0.3580" stop-color="#fff600"/><stop offset="0.3995" stop-color="#fdff02"/><stop offset="0.4734" stop-color="#e8ff17"/><stop offset="0.5497" stop-color="#d2ff2d"/><stop offset="0.6813" stop-color="#b0ff4f"/><stop offset="0.8199" stop-color="#79ff86"/><stop offset="0.9584" stop-color="#41ffbe"/><stop offset="1.0000" stop-color="#2dffd2"/></linearGradient><linearGradient id="ha152" gradientUnits="userSpaceOnUse" x1="780.95" y1="0" x2="348.40" y2="0" spreadMethod="reflect"><stop offset="0.0000" stop-color="#fff300"/><stop offset="0.1386" stop-color="#fff300"/><stop offset="0.2771" stop-color="#fff300"/><stop offset="0.3603" stop-color="#fff700"/><stop offset="0.3995" stop-color="#fdff02"/><stop offset="0.4688" stop-color="#e9ff16"/><stop offset="0.5427" stop-color="#d1ff2e"/><stop offset="0.6790" stop-color="#afff50"/><stop offset="0.8176" stop-color="#78ff87"/><stop offset="0.9561" stop-color="#40ffbf"/><stop offset="1.0000" stop-color="#2affd5"/></linearGradient><linearGradient id="ha153" gradientUnits="userSpaceOnUse" x1="780.95" y1="0" x2="348.40" y2="0" spreadMethod="reflect"><stop offset="0.0000" stop-color="#fff300"/><stop offset="0.1386" stop-color="#fff300"/><stop offset="0.2771" stop-color="#fff300"/><stop offset="0.3603" stop-color="#fff700"/><stop offset="0.3995" stop-color="#fdff02"/><stop offset="0.4665" stop-color="#eaff15"/><stop offset="0.5381" stop-color="#d0ff2f"/><stop offset="0.6767" stop-color="#adff52"/><stop offset="0.8152" stop-color="#77ff88"/><stop offset="0.9538" stop-color="#3fffc0"/><stop offset="1.0000" stop-color="#28ffd7"/></linearGradient><linearGradient id="ha154" gradientUnits="userSpaceOnUse" x1="780.95" y1="0" x2="348.40" y2="0" spreadMethod="reflect"><stop offset="0.0000" stop-color="#fff400"/><stop offset="0.1386" stop-color="#fff400"/><stop offset="0.2771" stop-color="#fff400"/><stop offset="0.3626" stop-color="#fff800"/><stop offset="0.3995" stop-color="#fdff02"/><stop offset="0.4619" stop-color="#ebff14"/><stop offset="0.5335" stop-color="#d0ff2f"/><stop offset="0.6721" stop-color="#adff52"/><stop offset="0.8106" stop-color="#78ff87"/><stop offset="0.9492" stop-color="#3fffc0"/><stop offset="1.0000" stop-color="#25ffda"/></linearGradient><linearGradient id="ha155" gradientUnits="userSpaceOnUse" x1="780.95" y1="0" x2="348.40" y2="0" spreadMethod="reflect"><stop offset="0.0000" stop-color="#fff400"/><stop offset="0.1386" stop-color="#fff400"/><stop offset="0.2771" stop-color="#fff400"/><stop offset="0.3626" stop-color="#fff800"/><stop offset="0.3995" stop-color="#fdff02"/><stop offset="0.4596" stop-color="#ecff13"/><stop offset="0.5289" stop-color="#cfff30"/><stop offset="0.6674" stop-color="#acff53"/><stop offset="0.8060" stop-color="#78ff87"/><stop offset="0.9446" stop-color="#3fffc0"/><stop offset="1.0000" stop-color="#23ffdc"/></linearGradient><linearGradient id="ha156" gradientUnits="userSpaceOnUse" x1="780.95" y1="0" x2="348.40" y2="0" spreadMethod="reflect"><stop offset="0.0000" stop-color="#fff500"/><stop offset="0.1386" stop-color="#fff500"/><stop offset="0.2771" stop-color="#fff500"/><stop offset="0.3649" stop-color="#fff900"/><stop offset="0.3995" stop-color="#fcff03"/><stop offset="0.4573" stop-color="#ecff13"/><stop offset="0.5266" stop-color="#ceff31"/><stop offset="0.6651" stop-color="#abff54"/><stop offset="0.8037" stop-color="#77ff88"/><stop offset="0.9423" stop-color="#3effc1"/><stop offset="1.0000" stop-color="#20ffdf"/></linearGradient><linearGradient id="ha157" gradientUnits="userSpaceOnUse" x1="780.95" y1="0" x2="348.40" y2="0" spreadMethod="reflect"><stop offset="0.0000" stop-color="#fff500"/><stop offset="0.1386" stop-color="#fff500"/><stop offset="0.2771" stop-color="#fff500"/><stop offset="0.3649" stop-color="#fff900"/><stop offset="0.3995" stop-color="#fcff03"/><stop offset="0.4573" stop-color="#ecff13"/><stop offset="0.5242" stop-color="#cdff32"/><stop offset="0.6628" stop-color="#aaff55"/><stop offset="0.8014" stop-color="#76ff89"/><stop offset="0.9400" stop-color="#3dffc2"/><stop offset="1.0000" stop-color="#1dffe2"/></linearGradient><linearGradient id="ha158" gradientUnits="userSpaceOnUse" x1="780.95" y1="0" x2="348.40" y2="0" spreadMethod="reflect"><stop offset="0.0000" stop-color="#fff500"/><stop offset="0.1386" stop-color="#fff500"/><stop offset="0.2771" stop-color="#fff500"/><stop offset="0.3649" stop-color="#fff900"/><stop offset="0.3995" stop-color="#fcff03"/><stop offset="0.4550" stop-color="#edff12"/><stop offset="0.5242" stop-color="#cbff34"/><stop offset="0.6628" stop-color="#a8ff57"/><stop offset="0.8014" stop-color="#75ff8a"/><stop offset="0.9400" stop-color="#3affc5"/><stop offset="1.0000" stop-color="#1bffe4"/></linearGradient><linearGradient id="ha159" gradientUnits="userSpaceOnUse" x1="780.95" y1="0" x2="348.40" y2="0" spreadMethod="reflect"><stop offset="0.0000" stop-color="#fff600"/><stop offset="0.1386" stop-color="#fff600"/><stop offset="0.2771" stop-color="#fff600"/><stop offset="0.3672" stop-color="#fffa00"/><stop offset="0.4018" stop-color="#fcff03"/><stop offset="0.4550" stop-color="#edff12"/><stop offset="0.5219" stop-color="#caff35"/><stop offset="0.6605" stop-color="#a7ff58"/><stop offset="0.7991" stop-color="#74ff8b"/><stop offset="0.9376" stop-color="#39ffc6"/><stop offset="1.0000" stop-color="#18ffe7"/></linearGradient><linearGradient id="ha160" gradientUnits="userSpaceOnUse" x1="780.95" y1="0" x2="348.40" y2="0" spreadMethod="reflect"><stop offset="0.0000" stop-color="#fff600"/><stop offset="0.1386" stop-color="#fff600"/><stop offset="0.2771" stop-color="#fff600"/><stop offset="0.3672" stop-color="#fffa00"/><stop offset="0.4018" stop-color="#fbff04"/><stop offset="0.4550" stop-color="#ecff13"/><stop offset="0.5219" stop-color="#c9ff36"/><stop offset="0.6605" stop-color="#a5ff5a"/><stop offset="0.7991" stop-color="#72ff8d"/><stop offset="0.9376" stop-color="#37ffc8"/><stop offset="1.0000" stop-color="#16ffe9"/></linearGradient><linearGradient id="ha161" gradientUnits="userSpaceOnUse" x1="780.95" y1="0" x2="348.40" y2="0" spreadMethod="reflect"><stop offset="0.0000" stop-color="#fff700"/><stop offset="0.1386" stop-color="#fff700"/><stop offset="0.2771" stop-color="#fff700"/><stop offset="0.3695" stop-color="#fffb00"/><stop offset="0.4042" stop-color="#faff05"/><stop offset="0.4550" stop-color="#ecff13"/><stop offset="0.5219" stop-color="#c8ff37"/><stop offset="0.6605" stop-color="#a4ff5b"/><stop offset="0.7991" stop-color="#71ff8e"/><stop offset="0.9376" stop-color="#35ffca"/><stop offset="1.0000" stop-color="#13ffec"/></linearGradient><linearGradient id="ha162" gradientUnits="userSpaceOnUse" x1="780.95" y1="0" x2="348.40" y2="0" spreadMethod="reflect"><stop offset="0.0000" stop-color="#fff700"/><stop offset="0.1386" stop-color="#fff700"/><stop offset="0.2771" stop-color="#fff700"/><stop offset="0.3695" stop-color="#fffb00"/><stop offset="0.4042" stop-color="#faff05"/><stop offset="0.4550" stop-color="#ebff14"/><stop offset="0.5242" stop-color="#c6ff39"/><stop offset="0.6628" stop-color="#a1ff5e"/><stop offset="0.8014" stop-color="#6eff91"/><stop offset="0.9400" stop-color="#32ffcd"/><stop offset="1.0000" stop-color="#11ffee"/></linearGradient></defs>
<g clip-path="url(#clipa)"><rect x="348.4" y="8.0" width="865.1" height="114.5" fill="#00008f"/>
<rect x="348.4" y="122.0" width="865.1" height="1.6" fill="url(#ha1)"/>
<rect x="348.4" y="123.0" width="865.1" height="1.6" fill="url(#ha2)"/>
<rect x="348.4" y="124.0" width="865.1" height="1.6" fill="url(#ha3)"/>
<rect x="348.4" y="125.0" width="865.1" height="1.6" fill="url(#ha4)"/>
<rect x="348.4" y="126.0" width="865.1" height="1.6" fill="url(#ha5)"/>
<rect x="348.4" y="127.0" width="865.1" height="1.6" fill="url(#ha6)"/>
<rect x="348.4" y="128.0" width="865.1" height="1.6" fill="url(#ha7)"/>
<rect x="348.4" y="129.0" width="865.1" height="1.6" fill="url(#ha8)"/>
<rect x="348.4" y="130.0" width="865.1" height="1.6" fill="url(#ha9)"/>
<rect x="348.4" y="131.0" width="865.1" height="1.6" fill="url(#ha10)"/>
<rect x="348.4" y="132.0" width="865.1" height="1.6" fill="url(#ha11)"/>
<rect x="348.4" y="133.0" width="865.1" height="1.6" fill="url(#ha12)"/>
<rect x="348.4" y="134.0" width="865.1" height="1.6" fill="url(#ha13)"/>
<rect x="348.4" y="135.0" width="865.1" height="1.6" fill="url(#ha14)"/>
<rect x="348.4" y="136.0" width="865.1" height="1.6" fill="url(#ha15)"/>
<rect x="348.4" y="137.0" width="865.1" height="1.6" fill="url(#ha16)"/>
<rect x="348.4" y="138.0" width="865.1" height="1.6" fill="url(#ha17)"/>
<rect x="348.4" y="139.0" width="865.1" height="1.6" fill="url(#ha18)"/>
<rect x="348.4" y="140.0" width="865.1" height="1.6" fill="url(#ha19)"/>
<rect x="348.4" y="141.0" width="865.1" height="1.6" fill="url(#ha20)"/>
<rect x="348.4" y="142.0" width="865.1" height="1.6" fill="url(#ha21)"/>
<rect x="348.4" y="143.0" width="865.1" height="1.6" fill="url(#ha22)"/>
<rect x="348.4" y="144.0" width="865.1" height="1.6" fill="url(#ha23)"/>
<rect x="348.4" y="145.0" width="865.1" height="1.6" fill="url(#ha24)"/>
<rect x="348.4" y="146.0" width="865.1" height="1.6" fill="url(#ha25)"/>
<rect x="348.4" y="147.0" width="865.1" height="1.6" fill="url(#ha26)"/>
<rect x="348.4" y="148.0" width="865.1" height="1.6" fill="url(#ha27)"/>
<rect x="348.4" y="149.0" width="865.1" height="1.6" fill="url(#ha28)"/>
<rect x="348.4" y="150.0" width="865.1" height="2.6" fill="url(#ha29)"/>
<rect x="348.4" y="152.0" width="865.1" height="2.6" fill="url(#ha30)"/>
<rect x="348.4" y="154.0" width="865.1" height="2.6" fill="url(#ha31)"/>
<rect x="348.4" y="156.0" width="865.1" height="2.6" fill="url(#ha32)"/>
<rect x="348.4" y="158.0" width="865.1" height="2.6" fill="url(#ha33)"/>
<rect x="348.4" y="160.0" width="865.1" height="2.6" fill="url(#ha34)"/>
<rect x="348.4" y="162.0" width="865.1" height="2.6" fill="url(#ha35)"/>
<rect x="348.4" y="164.0" width="865.1" height="2.6" fill="url(#ha36)"/>
<rect x="348.4" y="166.0" width="865.1" height="2.6" fill="url(#ha37)"/>
<rect x="348.4" y="168.0" width="865.1" height="2.6" fill="url(#ha38)"/>
<rect x="348.4" y="170.0" width="865.1" height="2.6" fill="url(#ha39)"/>
<rect x="348.4" y="172.0" width="865.1" height="2.6" fill="url(#ha40)"/>
<rect x="348.4" y="174.0" width="865.1" height="2.6" fill="url(#ha41)"/>
<rect x="348.4" y="176.0" width="865.1" height="2.6" fill="url(#ha42)"/>
<rect x="348.4" y="178.0" width="865.1" height="2.6" fill="url(#ha43)"/>
<rect x="348.4" y="180.0" width="865.1" height="2.6" fill="url(#ha44)"/>
<rect x="348.4" y="182.0" width="865.1" height="2.6" fill="url(#ha45)"/>
<rect x="348.4" y="184.0" width="865.1" height="2.6" fill="url(#ha46)"/>
<rect x="348.4" y="186.0" width="865.1" height="2.6" fill="url(#ha47)"/>
<rect x="348.4" y="188.0" width="865.1" height="2.6" fill="url(#ha48)"/>
<rect x="348.4" y="190.0" width="865.1" height="2.6" fill="url(#ha49)"/>
<rect x="348.4" y="192.0" width="865.1" height="2.6" fill="url(#ha50)"/>
<rect x="348.4" y="194.0" width="865.1" height="2.6" fill="url(#ha51)"/>
<rect x="348.4" y="196.0" width="865.1" height="2.6" fill="url(#ha52)"/>
<rect x="348.4" y="198.0" width="865.1" height="2.6" fill="url(#ha53)"/>
<rect x="348.4" y="200.0" width="865.1" height="2.6" fill="url(#ha54)"/>
<rect x="348.4" y="202.0" width="865.1" height="2.6" fill="url(#ha55)"/>
<rect x="348.4" y="204.0" width="865.1" height="2.6" fill="url(#ha56)"/>
<rect x="348.4" y="206.0" width="865.1" height="2.6" fill="url(#ha57)"/>
<rect x="348.4" y="208.0" width="865.1" height="2.6" fill="url(#ha58)"/>
<rect x="348.4" y="210.0" width="865.1" height="2.6" fill="url(#ha59)"/>
<rect x="348.4" y="212.0" width="865.1" height="2.6" fill="url(#ha60)"/>
<rect x="348.4" y="214.0" width="865.1" height="2.6" fill="url(#ha61)"/>
<rect x="348.4" y="216.0" width="865.1" height="2.6" fill="url(#ha62)"/>
<rect x="348.4" y="218.0" width="865.1" height="2.6" fill="url(#ha63)"/>
<rect x="348.4" y="220.0" width="865.1" height="2.6" fill="url(#ha64)"/>
<rect x="348.4" y="222.0" width="865.1" height="2.6" fill="url(#ha65)"/>
<rect x="348.4" y="224.0" width="865.1" height="2.6" fill="url(#ha66)"/>
<rect x="348.4" y="226.0" width="865.1" height="2.6" fill="url(#ha67)"/>
<rect x="348.4" y="228.0" width="865.1" height="2.6" fill="url(#ha68)"/>
<rect x="348.4" y="230.0" width="865.1" height="2.6" fill="url(#ha69)"/>
<rect x="348.4" y="232.0" width="865.1" height="2.6" fill="url(#ha70)"/>
<rect x="348.4" y="234.0" width="865.1" height="2.6" fill="url(#ha71)"/>
<rect x="348.4" y="236.0" width="865.1" height="2.6" fill="url(#ha72)"/>
<rect x="348.4" y="238.0" width="865.1" height="2.6" fill="url(#ha73)"/>
<rect x="348.4" y="240.0" width="865.1" height="2.6" fill="url(#ha74)"/>
<rect x="348.4" y="242.0" width="865.1" height="2.6" fill="url(#ha75)"/>
<rect x="348.4" y="244.0" width="865.1" height="2.6" fill="url(#ha76)"/>
<rect x="348.4" y="246.0" width="865.1" height="2.6" fill="url(#ha77)"/>
<rect x="348.4" y="248.0" width="865.1" height="2.6" fill="url(#ha78)"/>
<rect x="348.4" y="250.0" width="865.1" height="2.6" fill="url(#ha79)"/>
<rect x="348.4" y="252.0" width="865.1" height="2.6" fill="url(#ha80)"/>
<rect x="348.4" y="254.0" width="865.1" height="2.6" fill="url(#ha81)"/>
<rect x="348.4" y="256.0" width="865.1" height="2.6" fill="url(#ha82)"/>
<rect x="348.4" y="258.0" width="865.1" height="2.6" fill="url(#ha83)"/>
<rect x="348.4" y="260.0" width="865.1" height="2.6" fill="url(#ha84)"/>
<rect x="348.4" y="262.0" width="865.1" height="2.6" fill="url(#ha85)"/>
<rect x="348.4" y="264.0" width="865.1" height="2.6" fill="url(#ha86)"/>
<rect x="348.4" y="266.0" width="865.1" height="2.6" fill="url(#ha87)"/>
<rect x="348.4" y="268.0" width="865.1" height="2.6" fill="url(#ha88)"/>
<rect x="348.4" y="270.0" width="865.1" height="2.6" fill="url(#ha89)"/>
<rect x="348.4" y="272.0" width="865.1" height="2.6" fill="url(#ha90)"/>
<rect x="348.4" y="274.0" width="865.1" height="2.6" fill="url(#ha91)"/>
<rect x="348.4" y="276.0" width="865.1" height="2.6" fill="url(#ha92)"/>
<rect x="348.4" y="278.0" width="865.1" height="2.6" fill="url(#ha93)"/>
<rect x="348.4" y="280.0" width="865.1" height="2.6" fill="url(#ha94)"/>
<rect x="348.4" y="282.0" width="865.1" height="2.6" fill="url(#ha95)"/>
<rect x="348.4" y="284.0" width="865.1" height="2.6" fill="url(#ha96)"/>
<rect x="348.4" y="286.0" width="865.1" height="2.6" fill="url(#ha97)"/>
<rect x="348.4" y="288.0" width="865.1" height="2.6" fill="url(#ha98)"/>
<rect x="348.4" y="290.0" width="865.1" height="2.6" fill="url(#ha99)"/>
<rect x="348.4" y="292.0" width="865.1" height="2.6" fill="url(#ha100)"/>
<rect x="348.4" y="294.0" width="865.1" height="2.6" fill="url(#ha101)"/>
<rect x="348.4" y="296.0" width="865.1" height="2.6" fill="url(#ha102)"/>
<rect x="348.4" y="298.0" width="865.1" height="2.6" fill="url(#ha103)"/>
<rect x="348.4" y="300.0" width="865.1" height="2.6" fill="url(#ha104)"/>
<rect x="348.4" y="302.0" width="865.1" height="2.6" fill="url(#ha105)"/>
<rect x="348.4" y="304.0" width="865.1" height="2.6" fill="url(#ha106)"/>
<rect x="348.4" y="306.0" width="865.1" height="2.6" fill="url(#ha107)"/>
<rect x="348.4" y="308.0" width="865.1" height="2.6" fill="url(#ha108)"/>
<rect x="348.4" y="310.0" width="865.1" height="2.6" fill="url(#ha109)"/>
<rect x="348.4" y="312.0" width="865.1" height="2.6" fill="url(#ha110)"/>
<rect x="348.4" y="314.0" width="865.1" height="2.6" fill="url(#ha111)"/>
<rect x="348.4" y="316.0" width="865.1" height="2.6" fill="url(#ha112)"/>
<rect x="348.4" y="318.0" width="865.1" height="2.6" fill="url(#ha113)"/>
<rect x="348.4" y="320.0" width="865.1" height="2.6" fill="url(#ha114)"/>
<rect x="348.4" y="322.0" width="865.1" height="2.6" fill="url(#ha115)"/>
<rect x="348.4" y="324.0" width="865.1" height="2.6" fill="url(#ha116)"/>
<rect x="348.4" y="326.0" width="865.1" height="2.6" fill="url(#ha117)"/>
<rect x="348.4" y="328.0" width="865.1" height="2.6" fill="url(#ha118)"/>
<rect x="348.4" y="330.0" width="865.1" height="2.6" fill="url(#ha119)"/>
<rect x="348.4" y="332.0" width="865.1" height="2.6" fill="url(#ha120)"/>
<rect x="348.4" y="334.0" width="865.1" height="2.6" fill="url(#ha121)"/>
<rect x="348.4" y="336.0" width="865.1" height="2.6" fill="url(#ha122)"/>
<rect x="348.4" y="338.0" width="865.1" height="2.6" fill="url(#ha123)"/>
<rect x="348.4" y="340.0" width="865.1" height="2.6" fill="url(#ha124)"/>
<rect x="348.4" y="342.0" width="865.1" height="2.6" fill="url(#ha125)"/>
<rect x="348.4" y="344.0" width="865.1" height="2.6" fill="url(#ha126)"/>
<rect x="348.4" y="346.0" width="865.1" height="2.6" fill="url(#ha127)"/>
<rect x="348.4" y="348.0" width="865.1" height="2.6" fill="url(#ha128)"/>
<rect x="348.4" y="350.0" width="865.1" height="2.6" fill="url(#ha129)"/>
<rect x="348.4" y="352.0" width="865.1" height="2.6" fill="url(#ha130)"/>
<rect x="348.4" y="354.0" width="865.1" height="2.6" fill="url(#ha131)"/>
<rect x="348.4" y="356.0" width="865.1" height="2.6" fill="url(#ha132)"/>
<rect x="348.4" y="358.0" width="865.1" height="2.6" fill="url(#ha133)"/>
<rect x="348.4" y="360.0" width="865.1" height="2.6" fill="url(#ha134)"/>
<rect x="348.4" y="362.0" width="865.1" height="2.6" fill="url(#ha135)"/>
<rect x="348.4" y="364.0" width="865.1" height="2.6" fill="url(#ha136)"/>
<rect x="348.4" y="366.0" width="865.1" height="2.6" fill="url(#ha137)"/>
<rect x="348.4" y="368.0" width="865.1" height="2.6" fill="url(#ha138)"/>
<rect x="348.4" y="370.0" width="865.1" height="2.6" fill="url(#ha139)"/>
<rect x="348.4" y="372.0" width="865.1" height="2.6" fill="url(#ha140)"/>
<rect x="348.4" y="374.0" width="865.1" height="2.6" fill="url(#ha141)"/>
<rect x="348.4" y="376.0" width="865.1" height="2.6" fill="url(#ha142)"/>
<rect x="348.4" y="378.0" width="865.1" height="2.6" fill="url(#ha143)"/>
<rect x="348.4" y="380.0" width="865.1" height="2.6" fill="url(#ha144)"/>
<rect x="348.4" y="382.0" width="865.1" height="2.6" fill="url(#ha145)"/>
<rect x="348.4" y="384.0" width="865.1" height="2.6" fill="url(#ha146)"/>
<rect x="348.4" y="386.0" width="865.1" height="2.6" fill="url(#ha147)"/>
<rect x="348.4" y="388.0" width="865.1" height="2.6" fill="url(#ha148)"/>
<rect x="348.4" y="390.0" width="865.1" height="2.6" fill="url(#ha149)"/>
<rect x="348.4" y="392.0" width="865.1" height="2.6" fill="url(#ha150)"/>
<rect x="348.4" y="394.0" width="865.1" height="2.6" fill="url(#ha151)"/>
<rect x="348.4" y="396.0" width="865.1" height="2.6" fill="url(#ha152)"/>
<rect x="348.4" y="398.0" width="865.1" height="2.6" fill="url(#ha153)"/>
<rect x="348.4" y="400.0" width="865.1" height="2.6" fill="url(#ha154)"/>
<rect x="348.4" y="402.0" width="865.1" height="2.6" fill="url(#ha155)"/>
<rect x="348.4" y="404.0" width="865.1" height="2.6" fill="url(#ha156)"/>
<rect x="348.4" y="406.0" width="865.1" height="2.6" fill="url(#ha157)"/>
<rect x="348.4" y="408.0" width="865.1" height="2.6" fill="url(#ha158)"/>
<rect x="348.4" y="410.0" width="865.1" height="2.6" fill="url(#ha159)"/>
<rect x="348.4" y="412.0" width="865.1" height="2.6" fill="url(#ha160)"/>
<rect x="348.4" y="414.0" width="865.1" height="2.6" fill="url(#ha161)"/>
<rect x="348.4" y="416.0" width="865.1" height="2.6" fill="url(#ha162)"/></g>
<path d="M613.8,188.9 L612.9,196.0 L617.3,206.8 L626.3,217.5 L635.3,224.7 L638.9,235.4 L639.7,253.4 L638.9,289.2 L638.8,305.5 L633.9,341.8 L626.7,378.2 L620.6,409.7" fill="none" stroke="#ff4800" stroke-opacity="0.32" stroke-width="2.2" stroke-linejoin="round" stroke-linecap="round"/>
<path d="M948.2,188.9 L949.1,196.0 L944.7,206.8 L935.7,217.5 L926.7,224.7 L923.1,235.4 L922.3,253.4 L923.1,289.2 L923.2,305.5 L928.1,341.8 L935.3,378.2 L941.4,409.7" fill="none" stroke="#ff4800" stroke-opacity="0.32" stroke-width="2.2" stroke-linejoin="round" stroke-linecap="round"/>
<path d="M693.5,181.7 L692.6,194.2 L693.5,210.4 L694.4,235.4 L694.1,262.3" fill="none" stroke="#ff4800" stroke-opacity="0.3" stroke-width="2.0" stroke-linejoin="round" stroke-linecap="round"/>
<path d="M868.5,181.7 L869.4,194.2 L868.5,210.4 L867.6,235.4 L867.9,262.3" fill="none" stroke="#ff4800" stroke-opacity="0.3" stroke-width="2.0" stroke-linejoin="round" stroke-linecap="round"/>
<path d="M703.4,188.9 L708.7,203.2 L714.1,213.9 L715.0,235.4 L716.5,252.0 L717.6,269.0 L721.2,288.5" fill="none" stroke="#ff4800" stroke-opacity="0.3" stroke-width="2.0" stroke-linejoin="round" stroke-linecap="round"/>
<path d="M858.6,188.9 L853.3,203.2 L847.9,213.9 L847.0,235.4 L845.5,252.0 L844.4,269.0 L840.8,288.5" fill="none" stroke="#ff4800" stroke-opacity="0.3" stroke-width="2.0" stroke-linejoin="round" stroke-linecap="round"/>
<path d="M745.5,295.8 L755.2,324.8 L767.3,353.9 L774.5,378.2 L778.2,402.4" fill="none" stroke="#ff4800" stroke-opacity="0.25" stroke-width="2.0" stroke-linejoin="round" stroke-linecap="round"/>
<path d="M816.5,295.8 L806.8,324.8 L794.7,353.9 L787.5,378.2 L783.8,402.4" fill="none" stroke="#ff4800" stroke-opacity="0.25" stroke-width="2.0" stroke-linejoin="round" stroke-linecap="round"/>
<path d="M721.2,288.5 L730.0,310.0 L738.0,335.0 L742.0,360.0" fill="none" stroke="#ff4800" stroke-opacity="0.15" stroke-width="2.0" stroke-linejoin="round" stroke-linecap="round"/>
<path d="M840.8,288.5 L832.0,310.0 L824.0,335.0 L820.0,360.0" fill="none" stroke="#ff4800" stroke-opacity="0.15" stroke-width="2.0" stroke-linejoin="round" stroke-linecap="round"/>
<rect x="348.4" y="9.0" width="865.1" height="407.6" fill="none" stroke="#000" stroke-width="3.2"/>
<line x1="434.9" y1="416.6" x2="434.9" y2="428.1" stroke="#000" stroke-width="3" stroke-linecap="butt"/>
<line x1="521.4" y1="416.6" x2="521.4" y2="423.6" stroke="#000" stroke-width="3" stroke-linecap="butt"/>
<line x1="607.9" y1="416.6" x2="607.9" y2="428.1" stroke="#000" stroke-width="3" stroke-linecap="butt"/>
<line x1="694.4" y1="416.6" x2="694.4" y2="423.6" stroke="#000" stroke-width="3" stroke-linecap="butt"/>
<line x1="781.0" y1="416.6" x2="781.0" y2="428.1" stroke="#000" stroke-width="3" stroke-linecap="butt"/>
<line x1="867.5" y1="416.6" x2="867.5" y2="423.6" stroke="#000" stroke-width="3" stroke-linecap="butt"/>
<line x1="954.0" y1="416.6" x2="954.0" y2="428.1" stroke="#000" stroke-width="3" stroke-linecap="butt"/>
<line x1="1040.5" y1="416.6" x2="1040.5" y2="423.6" stroke="#000" stroke-width="3" stroke-linecap="butt"/>
<line x1="1127.0" y1="416.6" x2="1127.0" y2="428.1" stroke="#000" stroke-width="3" stroke-linecap="butt"/>
<line x1="336.4" y1="335.1" x2="348.4" y2="335.1" stroke="#000" stroke-width="3" stroke-linecap="butt"/>
<text x="254.09" y="346.7" font-size="39.5" text-anchor="start" fill="#000" textLength="67.79" lengthAdjust="spacingAndGlyphs">200</text>
<line x1="336.4" y1="253.6" x2="348.4" y2="253.6" stroke="#000" stroke-width="3" stroke-linecap="butt"/>
<text x="255.19" y="265.2" font-size="39.5" text-anchor="start" fill="#000" textLength="65.68" lengthAdjust="spacingAndGlyphs">400</text>
<line x1="336.4" y1="172.0" x2="348.4" y2="172.0" stroke="#000" stroke-width="3" stroke-linecap="butt"/>
<text x="254.09" y="183.6" font-size="39.5" text-anchor="start" fill="#000" textLength="67.79" lengthAdjust="spacingAndGlyphs">600</text>
<line x1="336.4" y1="90.5" x2="348.4" y2="90.5" stroke="#000" stroke-width="3" stroke-linecap="butt"/>
<text x="254.09" y="102.1" font-size="39.5" text-anchor="start" fill="#000" textLength="67.83" lengthAdjust="spacingAndGlyphs">800</text>
<text transform="translate(385.9,470.2) scale(1.36,1)" font-size="39.5" fill="#000">−</text>
<text x="421.14" y="468.0" font-size="39.5" text-anchor="start" fill="#000" textLength="66.73" lengthAdjust="spacingAndGlyphs">800</text>
<text transform="translate(558.9,470.2) scale(1.36,1)" font-size="39.5" fill="#000">−</text>
<text x="594.47" y="468.0" font-size="39.5" text-anchor="start" fill="#000" textLength="66.71" lengthAdjust="spacingAndGlyphs">400</text>
<text x="769.95" y="468.0" font-size="39.5" text-anchor="start" fill="#000" textLength="22.08" lengthAdjust="spacingAndGlyphs">0</text>
<text x="921.79" y="468.0" font-size="39.5" text-anchor="start" fill="#000" textLength="64.83" lengthAdjust="spacingAndGlyphs">400</text>
<text x="1094.02" y="468.0" font-size="39.5" text-anchor="start" fill="#000" textLength="65.90" lengthAdjust="spacingAndGlyphs">800</text>
<text x="727.90" y="522.4" font-size="39.5" text-anchor="start" fill="#000" textLength="110.12" lengthAdjust="spacingAndGlyphs"><tspan font-style="italic">R</tspan><tspan font-size="56" dy="9.0">/</tspan><tspan dy="-9.0">µm</tspan></text>
<g transform="translate(216.7,211.9) rotate(-90)">
<text x="0.00" y="0.0" font-size="39.5" text-anchor="middle" fill="#000" textLength="105.00" lengthAdjust="spacingAndGlyphs"><tspan font-style="italic">Z</tspan><tspan font-size="56" dy="9.0">/</tspan><tspan dy="-9.0">µm</tspan></text>
</g>
<text x="383.98" y="63.3" font-size="39.5" text-anchor="start" fill="#fff" textLength="54.24" lengthAdjust="spacingAndGlyphs">(a)</text>
<defs><clipPath id="clipb"><rect x="1458.4" y="9.0" width="865.1" height="407.6"/></clipPath><linearGradient id="hb1" gradientUnits="userSpaceOnUse" x1="1890.95" y1="0" x2="1458.40" y2="0" spreadMethod="reflect"><stop offset="0.0000" stop-color="#00008f"/><stop offset="0.1386" stop-color="#00008f"/><stop offset="0.2771" stop-color="#00008f"/><stop offset="0.4157" stop-color="#00008f"/><stop offset="0.5543" stop-color="#00008f"/><stop offset="0.6928" stop-color="#00008f"/><stop offset="0.8314" stop-color="#00008f"/><stop offset="0.9700" stop-color="#00008f"/><stop offset="1.0000" stop-color="#00008f"/></linearGradient><linearGradient id="hb2" gradientUnits="userSpaceOnUse" x1="1890.95" y1="0" x2="1458.40" y2="0" spreadMethod="reflect"><stop offset="0.0000" stop-color="#00008f"/><stop offset="0.1386" stop-color="#00008f"/><stop offset="0.2771" stop-color="#00008f"/><stop offset="0.4157" stop-color="#00008f"/><stop offset="0.5543" stop-color="#00008f"/><stop offset="0.6928" stop-color="#00008f"/><stop offset="0.8314" stop-color="#00008f"/><stop offset="0.9700" stop-color="#00008f"/><stop offset="1.0000" stop-color="#00008f"/></linearGradient><linearGradient id="hb3" gradientUnits="userSpaceOnUse" x1="1890.95" y1="0" x2="1458.40" y2="0" spreadMethod="reflect"><stop offset="0.0000" stop-color="#0014ff"/><stop offset="0.0023" stop-color="#0002ff"/><stop offset="0.0069" stop-color="#0000dc"/><stop offset="0.0092" stop-color="#00008f"/><stop offset="0.1478" stop-color="#00008f"/><stop offset="0.2864" stop-color="#00008f"/><stop offset="0.4249" stop-color="#00008f"/><stop offset="0.5635" stop-color="#00008f"/><stop offset="0.7021" stop-color="#00008f"/><stop offset="0.8406" stop-color="#00008f"/><stop offset="0.9792" stop-color="#00008f"/><stop offset="1.0000" stop-color="#00008f"/></linearGradient><linearGradient id="hb4" gradientUnits="userSpaceOnUse" x1="1890.95" y1="0" x2="1458.40" y2="0" spreadMethod="reflect"><stop offset="0.0000" stop-color="#008eff"/><stop offset="0.0069" stop-color="#005fff"/><stop offset="0.0092" stop-color="#0022ff"/><stop offset="0.0115" stop-color="#0000dd"/><stop offset="0.0139" stop-color="#00008f"/><stop offset="0.1524" stop-color="#00008f"/><stop offset="0.2910" stop-color="#00008f"/><stop offset="0.4296" stop-color="#00008f"/><stop offset="0.5681" stop-color="#00008f"/><stop offset="0.7067" stop-color="#00008f"/><stop offset="0.8453" stop-color="#00008f"/><stop offset="0.9838" stop-color="#00008f"/><stop offset="1.0000" stop-color="#00008f"/></linearGradient><linearGradient id="hb5" gradientUnits="userSpaceOnUse" x1="1890.95" y1="0" x2="1458.40" y2="0" spreadMethod="reflect"><stop offset="0.0000" stop-color="#00f3ff"/><stop offset="0.0069" stop-color="#00ccff"/><stop offset="0.0092" stop-color="#0099ff"/><stop offset="0.0115" stop-color="#0060ff"/><stop offset="0.0139" stop-color="#0022ff"/><stop offset="0.0162" stop-color="#0000e1"/><stop offset="0.0993" stop-color="#000099"/><stop offset="0.1016" stop-color="#00008f"/><stop offset="0.2402" stop-color="#00008f"/><stop offset="0.3788" stop-color="#00008f"/><stop offset="0.5173" stop-color="#00008f"/><stop offset="0.6559" stop-color="#00008f"/><stop offset="0.7945" stop-color="#00008f"/><stop offset="0.9330" stop-color="#00008f"/><stop offset="1.0000" stop-color="#00008f"/></linearGradient><linearGradient id="hb6" gradientUnits="userSpaceOnUse" x1="1890.95" y1="0" x2="1458.40" y2="0" spreadMethod="reflect"><stop offset="0.0000" stop-color="#48ffb7"/><stop offset="0.0069" stop-color="#27ffd8"/><stop offset="0.0092" stop-color="#00fcff"/><stop offset="0.0139" stop-color="#0099ff"/><stop offset="0.0162" stop-color="#0064ff"/><stop offset="0.1109" stop-color="#001dff"/><stop offset="0.1686" stop-color="#0000fc"/><stop offset="0.2055" stop-color="#0000e5"/><stop offset="0.2725" stop-color="#000099"/><stop offset="0.2748" stop-color="#00008f"/><stop offset="0.4134" stop-color="#00008f"/><stop offset="0.5520" stop-color="#00008f"/><stop offset="0.6905" stop-color="#00008f"/><stop offset="0.8291" stop-color="#00008f"/><stop offset="0.9677" stop-color="#00008f"/><stop offset="1.0000" stop-color="#00008f"/></linearGradient><linearGradient id="hb7" gradientUnits="userSpaceOnUse" x1="1890.95" y1="0" x2="1458.40" y2="0" spreadMethod="reflect"><stop offset="0.0000" stop-color="#8eff71"/><stop offset="0.0069" stop-color="#73ff8c"/><stop offset="0.0115" stop-color="#29ffd6"/><stop offset="0.0139" stop-color="#00fcff"/><stop offset="0.0162" stop-color="#00d0ff"/><stop offset="0.1109" stop-color="#0090ff"/><stop offset="0.2055" stop-color="#0060ff"/><stop offset="0.3025" stop-color="#0000fd"/><stop offset="0.3926" stop-color="#00009a"/><stop offset="0.3949" stop-color="#00008f"/><stop offset="0.5335" stop-color="#00008f"/><stop offset="0.6721" stop-color="#00008f"/><stop offset="0.8106" stop-color="#00008f"/><stop offset="0.9492" stop-color="#00008f"/><stop offset="1.0000" stop-color="#00008f"/></linearGradient><linearGradient id="hb8" gradientUnits="userSpaceOnUse" x1="1890.95" y1="0" x2="1458.40" y2="0" spreadMethod="reflect"><stop offset="0.0000" stop-color="#c9ff36"/><stop offset="0.0069" stop-color="#b3ff4c"/><stop offset="0.0115" stop-color="#75ff8a"/><stop offset="0.0162" stop-color="#2cffd3"/><stop offset="0.0855" stop-color="#00feff"/><stop offset="0.2055" stop-color="#00c6ff"/><stop offset="0.3118" stop-color="#0068ff"/><stop offset="0.4111" stop-color="#0000fe"/><stop offset="0.5058" stop-color="#0000a2"/><stop offset="0.5242" stop-color="#000098"/><stop offset="0.5266" stop-color="#00008f"/><stop offset="0.6651" stop-color="#00008f"/><stop offset="0.8037" stop-color="#00008f"/><stop offset="0.9423" stop-color="#00008f"/><stop offset="1.0000" stop-color="#00008f"/></linearGradient><linearGradient id="hb9" gradientUnits="userSpaceOnUse" x1="1890.95" y1="0" x2="1458.40" y2="0" spreadMethod="reflect"><stop offset="0.0000" stop-color="#fbff04"/><stop offset="0.0069" stop-color="#e8ff17"/><stop offset="0.0115" stop-color="#b4ff4b"/><stop offset="0.0162" stop-color="#78ff87"/><stop offset="0.0924" stop-color="#4affb5"/><stop offset="0.2079" stop-color="#1bffe4"/><stop offset="0.2471" stop-color="#00fdff"/><stop offset="0.3141" stop-color="#00c7ff"/><stop offset="0.4527" stop-color="#003fff"/><stop offset="0.5150" stop-color="#0007ff"/><stop offset="0.5289" stop-color="#0000fc"/><stop offset="0.6212" stop-color="#0000c0"/><stop offset="0.7159" stop-color="#000098"/><stop offset="0.7182" stop-color="#00008f"/><stop offset="0.7206" stop-color="#00008f"/><stop offset="0.7229" stop-color="#000098"/><stop offset="0.8614" stop-color="#0000a5"/><stop offset="1.0000" stop-color="#0000a3"/></linearGradient><linearGradient id="hb10" gradientUnits="userSpaceOnUse" x1="1890.95" y1="0" x2="1458.40" y2="0" spreadMethod="reflect"><stop offset="0.0000" stop-color="#ffd800"/><stop offset="0.0069" stop-color="#ffe800"/><stop offset="0.0092" stop-color="#fffd00"/><stop offset="0.0139" stop-color="#d1ff2e"/><stop offset="0.0162" stop-color="#b7ff48"/><stop offset="0.0808" stop-color="#91ff6e"/><stop offset="0.2079" stop-color="#63ff9c"/><stop offset="0.3095" stop-color="#1effe1"/><stop offset="0.3441" stop-color="#00feff"/><stop offset="0.4827" stop-color="#007fff"/><stop offset="0.6166" stop-color="#000fff"/><stop offset="0.6420" stop-color="#0000fd"/><stop offset="0.7206" stop-color="#0000d4"/><stop offset="0.8591" stop-color="#0000d0"/><stop offset="0.9977" stop-color="#0000bc"/><stop offset="1.0000" stop-color="#0000bc"/></linearGradient><linearGradient id="hb11" gradientUnits="userSpaceOnUse" x1="1890.95" y1="0" x2="1458.40" y2="0" spreadMethod="reflect"><stop offset="0.0000" stop-color="#ffb400"/><stop offset="0.0069" stop-color="#ffc200"/><stop offset="0.0139" stop-color="#fffb00"/><stop offset="0.0162" stop-color="#edff12"/><stop offset="0.0739" stop-color="#caff35"/><stop offset="0.2102" stop-color="#9eff61"/><stop offset="0.3095" stop-color="#64ff9b"/><stop offset="0.4273" stop-color="#00feff"/><stop offset="0.5427" stop-color="#0099ff"/><stop offset="0.6236" stop-color="#004cff"/><stop offset="0.7067" stop-color="#0014ff"/><stop offset="0.7275" stop-color="#000cff"/><stop offset="0.8337" stop-color="#0000fc"/><stop offset="0.9215" stop-color="#0000e7"/><stop offset="1.0000" stop-color="#0000d2"/></linearGradient><linearGradient id="hb12" gradientUnits="userSpaceOnUse" x1="1890.95" y1="0" x2="1458.40" y2="0" spreadMethod="reflect"><stop offset="0.0000" stop-color="#ff9600"/><stop offset="0.0069" stop-color="#ffa100"/><stop offset="0.0139" stop-color="#ffd100"/><stop offset="0.0162" stop-color="#ffe400"/><stop offset="0.0577" stop-color="#feff01"/><stop offset="0.1224" stop-color="#e9ff16"/><stop offset="0.2079" stop-color="#d2ff2d"/><stop offset="0.3095" stop-color="#9eff61"/><stop offset="0.4480" stop-color="#31ffce"/><stop offset="0.5104" stop-color="#00feff"/><stop offset="0.6282" stop-color="#0083ff"/><stop offset="0.7090" stop-color="#0045ff"/><stop offset="0.7321" stop-color="#003cff"/><stop offset="0.8707" stop-color="#0019ff"/><stop offset="0.9376" stop-color="#0000fd"/><stop offset="1.0000" stop-color="#0000e8"/></linearGradient><linearGradient id="hb13" gradientUnits="userSpaceOnUse" x1="1890.95" y1="0" x2="1458.40" y2="0" spreadMethod="reflect"><stop offset="0.0000" stop-color="#ff7b00"/><stop offset="0.0069" stop-color="#ff8500"/><stop offset="0.0162" stop-color="#ffbd00"/><stop offset="0.0670" stop-color="#ffdf00"/><stop offset="0.1386" stop-color="#fff100"/><stop offset="0.2079" stop-color="#fdff02"/><stop offset="0.3095" stop-color="#d0ff2f"/><stop offset="0.4480" stop-color="#6bff94"/><stop offset="0.5127" stop-color="#3affc5"/><stop offset="0.5658" stop-color="#00feff"/><stop offset="0.6305" stop-color="#00b5ff"/><stop offset="0.7090" stop-color="#0074ff"/><stop offset="0.7344" stop-color="#0068ff"/><stop offset="0.8707" stop-color="#0039ff"/><stop offset="0.9885" stop-color="#0001ff"/><stop offset="1.0000" stop-color="#0000fc"/></linearGradient><linearGradient id="hb14" gradientUnits="userSpaceOnUse" x1="1890.95" y1="0" x2="1458.40" y2="0" spreadMethod="reflect"><stop offset="0.0000" stop-color="#ff6400"/><stop offset="0.0069" stop-color="#ff6c00"/><stop offset="0.0162" stop-color="#ff9c00"/><stop offset="0.0647" stop-color="#ffbe00"/><stop offset="0.1293" stop-color="#ffce00"/><stop offset="0.2055" stop-color="#ffdc00"/><stop offset="0.3025" stop-color="#feff01"/><stop offset="0.4411" stop-color="#a3ff5c"/><stop offset="0.5104" stop-color="#71ff8e"/><stop offset="0.5681" stop-color="#2fffd0"/><stop offset="0.6074" stop-color="#00fdff"/><stop offset="0.6767" stop-color="#00b9ff"/><stop offset="0.7252" stop-color="#0094ff"/><stop offset="0.8568" stop-color="#005eff"/><stop offset="0.9861" stop-color="#0016ff"/><stop offset="1.0000" stop-color="#000fff"/></linearGradient><linearGradient id="hb15" gradientUnits="userSpaceOnUse" x1="1890.95" y1="0" x2="1458.40" y2="0" spreadMethod="reflect"><stop offset="0.0000" stop-color="#ff4f00"/><stop offset="0.0069" stop-color="#ff5600"/><stop offset="0.0162" stop-color="#ff7f00"/><stop offset="0.0624" stop-color="#ffa300"/><stop offset="0.1201" stop-color="#ffb100"/><stop offset="0.2009" stop-color="#ffbc00"/><stop offset="0.3118" stop-color="#ffe200"/><stop offset="0.3672" stop-color="#fcff03"/><stop offset="0.5058" stop-color="#a4ff5b"/><stop offset="0.5566" stop-color="#6bff94"/><stop offset="0.6259" stop-color="#14ffeb"/><stop offset="0.6467" stop-color="#00fdff"/><stop offset="0.7206" stop-color="#00bbff"/><stop offset="0.8476" stop-color="#007fff"/><stop offset="0.9122" stop-color="#0057ff"/><stop offset="0.9769" stop-color="#002dff"/><stop offset="1.0000" stop-color="#0021ff"/></linearGradient><linearGradient id="hb16" gradientUnits="userSpaceOnUse" x1="1890.95" y1="0" x2="1458.40" y2="0" spreadMethod="reflect"><stop offset="0.0000" stop-color="#ff3d00"/><stop offset="0.0069" stop-color="#ff4300"/><stop offset="0.0162" stop-color="#ff6600"/><stop offset="0.0600" stop-color="#ff8c00"/><stop offset="0.1085" stop-color="#ff9900"/><stop offset="0.1963" stop-color="#ffa100"/><stop offset="0.3141" stop-color="#ffc500"/><stop offset="0.4249" stop-color="#fdff02"/><stop offset="0.5081" stop-color="#caff35"/><stop offset="0.5543" stop-color="#96ff69"/><stop offset="0.6282" stop-color="#38ffc7"/><stop offset="0.6836" stop-color="#00feff"/><stop offset="0.7252" stop-color="#00dbff"/><stop offset="0.8476" stop-color="#009aff"/><stop offset="0.9099" stop-color="#0070ff"/><stop offset="0.9723" stop-color="#0041ff"/><stop offset="1.0000" stop-color="#0031ff"/></linearGradient><linearGradient id="hb17" gradientUnits="userSpaceOnUse" x1="1890.95" y1="0" x2="1458.40" y2="0" spreadMethod="reflect"><stop offset="0.0000" stop-color="#ff2c00"/><stop offset="0.0069" stop-color="#ff3100"/><stop offset="0.0162" stop-color="#ff5000"/><stop offset="0.0577" stop-color="#ff7800"/><stop offset="0.0993" stop-color="#ff8500"/><stop offset="0.1940" stop-color="#ff8b00"/><stop offset="0.3187" stop-color="#ffae00"/><stop offset="0.4388" stop-color="#ffea00"/><stop offset="0.4850" stop-color="#fdff02"/><stop offset="0.5127" stop-color="#eaff15"/><stop offset="0.5566" stop-color="#b6ff49"/><stop offset="0.6305" stop-color="#57ffa8"/><stop offset="0.7067" stop-color="#09fff6"/><stop offset="0.7206" stop-color="#00fdff"/><stop offset="0.8383" stop-color="#00b9ff"/><stop offset="0.9099" stop-color="#0084ff"/><stop offset="0.9700" stop-color="#0054ff"/><stop offset="1.0000" stop-color="#0040ff"/></linearGradient><linearGradient id="hb18" gradientUnits="userSpaceOnUse" x1="1890.95" y1="0" x2="1458.40" y2="0" spreadMethod="reflect"><stop offset="0.0000" stop-color="#ff1d00"/><stop offset="0.0069" stop-color="#ff2200"/><stop offset="0.0162" stop-color="#ff3d00"/><stop offset="0.0554" stop-color="#ff6600"/><stop offset="0.0901" stop-color="#ff7400"/><stop offset="0.1917" stop-color="#ff7800"/><stop offset="0.3233" stop-color="#ff9900"/><stop offset="0.4411" stop-color="#ffcf00"/><stop offset="0.5058" stop-color="#ffef00"/><stop offset="0.5242" stop-color="#fdff02"/><stop offset="0.6374" stop-color="#6dff92"/><stop offset="0.7159" stop-color="#1effe1"/><stop offset="0.7691" stop-color="#00fdff"/><stop offset="0.8845" stop-color="#00aeff"/><stop offset="0.9700" stop-color="#0064ff"/><stop offset="1.0000" stop-color="#004fff"/></linearGradient><linearGradient id="hb19" gradientUnits="userSpaceOnUse" x1="1890.95" y1="0" x2="1458.40" y2="0" spreadMethod="reflect"><stop offset="0.0000" stop-color="#ff0f00"/><stop offset="0.0069" stop-color="#ff1300"/><stop offset="0.0162" stop-color="#ff2b00"/><stop offset="0.0554" stop-color="#ff5900"/><stop offset="0.0855" stop-color="#ff6600"/><stop offset="0.1894" stop-color="#ff6700"/><stop offset="0.2725" stop-color="#ff7b00"/><stop offset="0.3326" stop-color="#ff8a00"/><stop offset="0.4711" stop-color="#ffc400"/><stop offset="0.5081" stop-color="#ffd600"/><stop offset="0.5473" stop-color="#fdff02"/><stop offset="0.6305" stop-color="#90ff6f"/><stop offset="0.7067" stop-color="#40ffbf"/><stop offset="0.7390" stop-color="#29ffd6"/><stop offset="0.8060" stop-color="#00fcff"/><stop offset="0.9053" stop-color="#00aeff"/><stop offset="0.9654" stop-color="#0076ff"/><stop offset="1.0000" stop-color="#005cff"/></linearGradient><linearGradient id="hb20" gradientUnits="userSpaceOnUse" x1="1890.95" y1="0" x2="1458.40" y2="0" spreadMethod="reflect"><stop offset="0.0000" stop-color="#ff0200"/><stop offset="0.0092" stop-color="#ff0a00"/><stop offset="0.0185" stop-color="#ff1e00"/><stop offset="0.0531" stop-color="#ff4b00"/><stop offset="0.0808" stop-color="#ff5900"/><stop offset="0.1339" stop-color="#ff5a00"/><stop offset="0.1848" stop-color="#ff5800"/><stop offset="0.2633" stop-color="#ff6c00"/><stop offset="0.3303" stop-color="#ff7800"/><stop offset="0.4388" stop-color="#ffa100"/><stop offset="0.5058" stop-color="#ffbd00"/><stop offset="0.5404" stop-color="#ffe000"/><stop offset="0.5635" stop-color="#ffff00"/><stop offset="0.6420" stop-color="#9bff64"/><stop offset="0.7206" stop-color="#4bffb4"/><stop offset="0.8314" stop-color="#00feff"/><stop offset="0.9076" stop-color="#00bdff"/><stop offset="0.9677" stop-color="#0082ff"/><stop offset="1.0000" stop-color="#0068ff"/></linearGradient><linearGradient id="hb21" gradientUnits="userSpaceOnUse" x1="1890.95" y1="0" x2="1458.40" y2="0" spreadMethod="reflect"><stop offset="0.0000" stop-color="#f40000"/><stop offset="0.0092" stop-color="#fc0000"/><stop offset="0.0139" stop-color="#ff0700"/><stop offset="0.0508" stop-color="#ff3d00"/><stop offset="0.0739" stop-color="#ff4d00"/><stop offset="0.1201" stop-color="#ff5100"/><stop offset="0.1801" stop-color="#ff4a00"/><stop offset="0.2610" stop-color="#ff5f00"/><stop offset="0.3349" stop-color="#ff6b00"/><stop offset="0.4734" stop-color="#ff9c00"/><stop offset="0.5081" stop-color="#ffaa00"/><stop offset="0.5404" stop-color="#ffcb00"/><stop offset="0.5797" stop-color="#feff01"/><stop offset="0.6651" stop-color="#97ff68"/><stop offset="0.7275" stop-color="#5cffa3"/><stop offset="0.8337" stop-color="#0ffff0"/><stop offset="0.8545" stop-color="#00fdff"/><stop offset="0.9099" stop-color="#00c9ff"/><stop offset="0.9700" stop-color="#008dff"/><stop offset="1.0000" stop-color="#0074ff"/></linearGradient><linearGradient id="hb22" gradientUnits="userSpaceOnUse" x1="1890.95" y1="0" x2="1458.40" y2="0" spreadMethod="reflect"><stop offset="0.0000" stop-color="#e80000"/><stop offset="0.0092" stop-color="#ef0000"/><stop offset="0.0162" stop-color="#fe0000"/><stop offset="0.0554" stop-color="#ff3800"/><stop offset="0.0808" stop-color="#ff4700"/><stop offset="0.1270" stop-color="#ff4700"/><stop offset="0.1778" stop-color="#ff3e00"/><stop offset="0.2564" stop-color="#ff5400"/><stop offset="0.3395" stop-color="#ff6000"/><stop offset="0.4781" stop-color="#ff8c00"/><stop offset="0.5081" stop-color="#ff9900"/><stop offset="0.5404" stop-color="#ffb900"/><stop offset="0.5935" stop-color="#ffff00"/><stop offset="0.6813" stop-color="#99ff66"/><stop offset="0.7298" stop-color="#6dff92"/><stop offset="0.8314" stop-color="#22ffdd"/><stop offset="0.8707" stop-color="#00feff"/><stop offset="0.9122" stop-color="#00d5ff"/><stop offset="0.9746" stop-color="#0095ff"/><stop offset="1.0000" stop-color="#007fff"/></linearGradient><linearGradient id="hb23" gradientUnits="userSpaceOnUse" x1="1890.95" y1="0" x2="1458.40" y2="0" spreadMethod="reflect"><stop offset="0.0000" stop-color="#dd0000"/><stop offset="0.0092" stop-color="#e30000"/><stop offset="0.0254" stop-color="#ff0000"/><stop offset="0.0531" stop-color="#ff2d00"/><stop offset="0.0762" stop-color="#ff3e00"/><stop offset="0.1178" stop-color="#ff4000"/><stop offset="0.1755" stop-color="#ff3300"/><stop offset="0.2540" stop-color="#ff4a00"/><stop offset="0.3441" stop-color="#ff5700"/><stop offset="0.4827" stop-color="#ff7f00"/><stop offset="0.5104" stop-color="#ff8b00"/><stop offset="0.5404" stop-color="#ffa900"/><stop offset="0.6074" stop-color="#ffff00"/><stop offset="0.6928" stop-color="#9fff60"/><stop offset="0.7321" stop-color="#7dff82"/><stop offset="0.8314" stop-color="#31ffce"/><stop offset="0.8868" stop-color="#00fdff"/><stop offset="0.9723" stop-color="#00a2ff"/><stop offset="1.0000" stop-color="#0089ff"/></linearGradient><linearGradient id="hb24" gradientUnits="userSpaceOnUse" x1="1890.95" y1="0" x2="1458.40" y2="0" spreadMethod="reflect"><stop offset="0.0000" stop-color="#d20000"/><stop offset="0.0092" stop-color="#d80000"/><stop offset="0.0323" stop-color="#ff0200"/><stop offset="0.0531" stop-color="#ff2600"/><stop offset="0.0739" stop-color="#ff3600"/><stop offset="0.1109" stop-color="#ff3a00"/><stop offset="0.1755" stop-color="#ff2a00"/><stop offset="0.2517" stop-color="#ff4200"/><stop offset="0.3533" stop-color="#ff4f00"/><stop offset="0.4804" stop-color="#ff7100"/><stop offset="0.5104" stop-color="#ff7d00"/><stop offset="0.5404" stop-color="#ff9b00"/><stop offset="0.6212" stop-color="#feff01"/><stop offset="0.7021" stop-color="#a6ff59"/><stop offset="0.7436" stop-color="#85ff7a"/><stop offset="0.8383" stop-color="#39ffc6"/><stop offset="0.9007" stop-color="#00fcff"/><stop offset="0.9630" stop-color="#00b6ff"/><stop offset="1.0000" stop-color="#0093ff"/></linearGradient><linearGradient id="hb25" gradientUnits="userSpaceOnUse" x1="1890.95" y1="0" x2="1458.40" y2="0" spreadMethod="reflect"><stop offset="0.0000" stop-color="#c70000"/><stop offset="0.0092" stop-color="#cd0000"/><stop offset="0.0370" stop-color="#ff0300"/><stop offset="0.0554" stop-color="#ff2200"/><stop offset="0.0762" stop-color="#ff3100"/><stop offset="0.1132" stop-color="#ff3300"/><stop offset="0.1755" stop-color="#ff2100"/><stop offset="0.2494" stop-color="#ff3b00"/><stop offset="0.3649" stop-color="#ff4a00"/><stop offset="0.5035" stop-color="#ff6d00"/><stop offset="0.5335" stop-color="#ff8600"/><stop offset="0.6259" stop-color="#fff700"/><stop offset="0.6351" stop-color="#fcff03"/><stop offset="0.7159" stop-color="#a7ff58"/><stop offset="0.8268" stop-color="#50ffaf"/><stop offset="0.9076" stop-color="#00ffff"/><stop offset="0.9746" stop-color="#00b4ff"/><stop offset="1.0000" stop-color="#009bff"/></linearGradient><linearGradient id="hb26" gradientUnits="userSpaceOnUse" x1="1890.95" y1="0" x2="1458.40" y2="0" spreadMethod="reflect"><stop offset="0.0000" stop-color="#bd0000"/><stop offset="0.0092" stop-color="#c30000"/><stop offset="0.0323" stop-color="#ef0000"/><stop offset="0.0393" stop-color="#ff0000"/><stop offset="0.0577" stop-color="#ff1f00"/><stop offset="0.0785" stop-color="#ff2d00"/><stop offset="0.1155" stop-color="#ff2d00"/><stop offset="0.1732" stop-color="#ff1800"/><stop offset="0.2032" stop-color="#ff2200"/><stop offset="0.2448" stop-color="#ff3400"/><stop offset="0.3834" stop-color="#ff4600"/><stop offset="0.5058" stop-color="#ff6400"/><stop offset="0.5358" stop-color="#ff7e00"/><stop offset="0.6143" stop-color="#ffdd00"/><stop offset="0.6443" stop-color="#feff01"/><stop offset="0.7206" stop-color="#b1ff4e"/><stop offset="0.8222" stop-color="#60ff9f"/><stop offset="0.9076" stop-color="#0bfff4"/><stop offset="0.9192" stop-color="#00fbff"/><stop offset="0.9931" stop-color="#00abff"/><stop offset="1.0000" stop-color="#00a4ff"/></linearGradient><linearGradient id="hb27" gradientUnits="userSpaceOnUse" x1="1890.95" y1="0" x2="1458.40" y2="0" spreadMethod="reflect"><stop offset="0.0000" stop-color="#b40000"/><stop offset="0.0092" stop-color="#b90000"/><stop offset="0.0277" stop-color="#dc0000"/><stop offset="0.0439" stop-color="#ff0200"/><stop offset="0.0600" stop-color="#ff1c00"/><stop offset="0.0808" stop-color="#ff2900"/><stop offset="0.1155" stop-color="#ff2800"/><stop offset="0.1732" stop-color="#ff1100"/><stop offset="0.2009" stop-color="#ff1a00"/><stop offset="0.2425" stop-color="#ff2e00"/><stop offset="0.3811" stop-color="#ff3f00"/><stop offset="0.5058" stop-color="#ff5a00"/><stop offset="0.5335" stop-color="#ff7200"/><stop offset="0.6051" stop-color="#ffc800"/><stop offset="0.6559" stop-color="#fdff02"/><stop offset="0.7275" stop-color="#b7ff48"/><stop offset="0.8245" stop-color="#69ff96"/><stop offset="0.9076" stop-color="#15ffea"/><stop offset="0.9238" stop-color="#00ffff"/><stop offset="1.0000" stop-color="#00acff"/></linearGradient><linearGradient id="hb28" gradientUnits="userSpaceOnUse" x1="1890.95" y1="0" x2="1458.40" y2="0" spreadMethod="reflect"><stop offset="0.0000" stop-color="#ab0000"/><stop offset="0.0092" stop-color="#b00000"/><stop offset="0.0277" stop-color="#d40000"/><stop offset="0.0462" stop-color="#ff0100"/><stop offset="0.0624" stop-color="#ff1a00"/><stop offset="0.0855" stop-color="#ff2600"/><stop offset="0.1201" stop-color="#ff2200"/><stop offset="0.1709" stop-color="#ff0a00"/><stop offset="0.1963" stop-color="#ff1100"/><stop offset="0.2402" stop-color="#ff2900"/><stop offset="0.3788" stop-color="#ff3900"/><stop offset="0.5058" stop-color="#ff5300"/><stop offset="0.5335" stop-color="#ff6a00"/><stop offset="0.5982" stop-color="#ffb600"/><stop offset="0.6651" stop-color="#feff01"/><stop offset="0.7321" stop-color="#bfff40"/><stop offset="0.8268" stop-color="#72ff8d"/><stop offset="0.9076" stop-color="#1effe1"/><stop offset="0.9330" stop-color="#00fdff"/><stop offset="1.0000" stop-color="#00b3ff"/></linearGradient><linearGradient id="hb29" gradientUnits="userSpaceOnUse" x1="1890.95" y1="0" x2="1458.40" y2="0" spreadMethod="reflect"><stop offset="0.0000" stop-color="#9e0000"/><stop offset="0.0092" stop-color="#a30000"/><stop offset="0.0254" stop-color="#c20000"/><stop offset="0.0485" stop-color="#fd0000"/><stop offset="0.0670" stop-color="#ff1800"/><stop offset="0.0901" stop-color="#ff2200"/><stop offset="0.1224" stop-color="#ff1b00"/><stop offset="0.1686" stop-color="#ff0000"/><stop offset="0.1917" stop-color="#ff0500"/><stop offset="0.2379" stop-color="#ff2200"/><stop offset="0.3764" stop-color="#ff3200"/><stop offset="0.5058" stop-color="#ff4800"/><stop offset="0.5335" stop-color="#ff6000"/><stop offset="0.5889" stop-color="#ffa000"/><stop offset="0.6790" stop-color="#fdff02"/><stop offset="0.7367" stop-color="#caff35"/><stop offset="0.8291" stop-color="#7dff82"/><stop offset="0.9076" stop-color="#2affd5"/><stop offset="0.9423" stop-color="#00fdff"/><stop offset="1.0000" stop-color="#00bdff"/></linearGradient><linearGradient id="hb30" gradientUnits="userSpaceOnUse" x1="1890.95" y1="0" x2="1458.40" y2="0" spreadMethod="reflect"><stop offset="0.0000" stop-color="#8f0000"/><stop offset="0.0092" stop-color="#940000"/><stop offset="0.0231" stop-color="#b00000"/><stop offset="0.0485" stop-color="#f60000"/><stop offset="0.0531" stop-color="#ff0100"/><stop offset="0.0693" stop-color="#ff1600"/><stop offset="0.0924" stop-color="#ff1e00"/><stop offset="0.1247" stop-color="#ff1500"/><stop offset="0.1547" stop-color="#fd0000"/><stop offset="0.1778" stop-color="#f50000"/><stop offset="0.2009" stop-color="#ff0300"/><stop offset="0.2379" stop-color="#ff1d00"/><stop offset="0.3025" stop-color="#ff2500"/><stop offset="0.4411" stop-color="#ff3500"/><stop offset="0.5035" stop-color="#ff3d00"/><stop offset="0.5312" stop-color="#ff5200"/><stop offset="0.5843" stop-color="#ff8f00"/><stop offset="0.6952" stop-color="#feff01"/><stop offset="0.8314" stop-color="#8bff74"/><stop offset="0.9076" stop-color="#39ffc6"/><stop offset="0.9538" stop-color="#00feff"/><stop offset="1.0000" stop-color="#00c9ff"/></linearGradient><linearGradient id="hb31" gradientUnits="userSpaceOnUse" x1="1890.95" y1="0" x2="1458.40" y2="0" spreadMethod="reflect"><stop offset="0.0000" stop-color="#830000"/><stop offset="0.0092" stop-color="#890000"/><stop offset="0.0231" stop-color="#a60000"/><stop offset="0.0485" stop-color="#f20000"/><stop offset="0.0554" stop-color="#ff0100"/><stop offset="0.0716" stop-color="#ff1500"/><stop offset="0.0970" stop-color="#ff1b00"/><stop offset="0.1270" stop-color="#ff1000"/><stop offset="0.1478" stop-color="#fd0000"/><stop offset="0.1709" stop-color="#ef0000"/><stop offset="0.1917" stop-color="#f50000"/><stop offset="0.2055" stop-color="#ff0100"/><stop offset="0.2379" stop-color="#ff1a00"/><stop offset="0.2910" stop-color="#ff2200"/><stop offset="0.4296" stop-color="#ff2d00"/><stop offset="0.5035" stop-color="#ff3400"/><stop offset="0.5312" stop-color="#ff4b00"/><stop offset="0.5820" stop-color="#ff8300"/><stop offset="0.7090" stop-color="#ffff00"/><stop offset="0.8245" stop-color="#9fff60"/><stop offset="0.9053" stop-color="#48ffb7"/><stop offset="0.9630" stop-color="#00feff"/><stop offset="1.0000" stop-color="#00d3ff"/></linearGradient><linearGradient id="hb32" gradientUnits="userSpaceOnUse" x1="1890.95" y1="0" x2="1458.40" y2="0" spreadMethod="reflect"><stop offset="0.0000" stop-color="#7a0000"/><stop offset="0.0092" stop-color="#800000"/><stop offset="0.0208" stop-color="#990000"/><stop offset="0.0485" stop-color="#ee0000"/><stop offset="0.0554" stop-color="#fe0000"/><stop offset="0.0739" stop-color="#ff1500"/><stop offset="0.0993" stop-color="#ff1a00"/><stop offset="0.1270" stop-color="#ff0d00"/><stop offset="0.1455" stop-color="#fc0000"/><stop offset="0.1709" stop-color="#ea0000"/><stop offset="0.1894" stop-color="#ee0000"/><stop offset="0.2102" stop-color="#ff0200"/><stop offset="0.2402" stop-color="#ff1900"/><stop offset="0.3002" stop-color="#ff2100"/><stop offset="0.4388" stop-color="#ff2900"/><stop offset="0.5012" stop-color="#ff2d00"/><stop offset="0.5289" stop-color="#ff4200"/><stop offset="0.5797" stop-color="#ff7900"/><stop offset="0.6443" stop-color="#ffb500"/><stop offset="0.7206" stop-color="#fffe00"/><stop offset="0.8152" stop-color="#b3ff4c"/><stop offset="0.8938" stop-color="#61ff9e"/><stop offset="0.9723" stop-color="#00feff"/><stop offset="1.0000" stop-color="#00dcff"/></linearGradient><linearGradient id="hb33" gradientUnits="userSpaceOnUse" x1="1890.95" y1="0" x2="1458.40" y2="0" spreadMethod="reflect"><stop offset="0.0000" stop-color="#790000"/><stop offset="0.0092" stop-color="#7b0000"/><stop offset="0.0208" stop-color="#940000"/><stop offset="0.0485" stop-color="#ec0000"/><stop offset="0.0577" stop-color="#ff0100"/><stop offset="0.0739" stop-color="#ff1400"/><stop offset="0.0993" stop-color="#ff1900"/><stop offset="0.1270" stop-color="#ff0c00"/><stop offset="0.1432" stop-color="#fc0000"/><stop offset="0.1686" stop-color="#e80000"/><stop offset="0.1871" stop-color="#ea0000"/><stop offset="0.2125" stop-color="#ff0300"/><stop offset="0.2425" stop-color="#ff1800"/><stop offset="0.3233" stop-color="#ff2100"/><stop offset="0.4619" stop-color="#ff2500"/><stop offset="0.5035" stop-color="#ff2900"/><stop offset="0.5312" stop-color="#ff4000"/><stop offset="0.5774" stop-color="#ff7100"/><stop offset="0.6397" stop-color="#ffa800"/><stop offset="0.7182" stop-color="#fff300"/><stop offset="0.7367" stop-color="#fdff02"/><stop offset="0.8291" stop-color="#b0ff4f"/><stop offset="0.9030" stop-color="#5fffa0"/><stop offset="0.9792" stop-color="#00feff"/><stop offset="1.0000" stop-color="#00e4ff"/></linearGradient><linearGradient id="hb34" gradientUnits="userSpaceOnUse" x1="1890.95" y1="0" x2="1458.40" y2="0" spreadMethod="reflect"><stop offset="0.0000" stop-color="#780000"/><stop offset="0.0092" stop-color="#790000"/><stop offset="0.0208" stop-color="#930000"/><stop offset="0.0462" stop-color="#e50000"/><stop offset="0.0577" stop-color="#ff0000"/><stop offset="0.0739" stop-color="#ff1300"/><stop offset="0.0993" stop-color="#ff1800"/><stop offset="0.1270" stop-color="#ff0b00"/><stop offset="0.1409" stop-color="#fe0000"/><stop offset="0.1686" stop-color="#e70000"/><stop offset="0.1871" stop-color="#ea0000"/><stop offset="0.2125" stop-color="#ff0200"/><stop offset="0.2425" stop-color="#ff1800"/><stop offset="0.3279" stop-color="#ff2200"/><stop offset="0.4550" stop-color="#ff2200"/><stop offset="0.5012" stop-color="#ff2400"/><stop offset="0.5266" stop-color="#ff3800"/><stop offset="0.5751" stop-color="#ff6b00"/><stop offset="0.6374" stop-color="#ff9f00"/><stop offset="0.7159" stop-color="#ffe900"/><stop offset="0.7483" stop-color="#fcff03"/><stop offset="0.8360" stop-color="#b2ff4d"/><stop offset="0.9076" stop-color="#61ff9e"/><stop offset="0.9861" stop-color="#00fdff"/><stop offset="1.0000" stop-color="#00ebff"/></linearGradient><linearGradient id="hb35" gradientUnits="userSpaceOnUse" x1="1890.95" y1="0" x2="1458.40" y2="0" spreadMethod="reflect"><stop offset="0.0000" stop-color="#780000"/><stop offset="0.0092" stop-color="#7a0000"/><stop offset="0.0208" stop-color="#940000"/><stop offset="0.0462" stop-color="#e60000"/><stop offset="0.0577" stop-color="#ff0000"/><stop offset="0.0739" stop-color="#ff1300"/><stop offset="0.0993" stop-color="#ff1800"/><stop offset="0.1270" stop-color="#ff0b00"/><stop offset="0.1432" stop-color="#fc0000"/><stop offset="0.1686" stop-color="#e90000"/><stop offset="0.1871" stop-color="#eb0000"/><stop offset="0.2125" stop-color="#ff0300"/><stop offset="0.2425" stop-color="#ff1800"/><stop offset="0.3533" stop-color="#ff2600"/><stop offset="0.4919" stop-color="#ff1f00"/><stop offset="0.5173" stop-color="#ff2c00"/><stop offset="0.5727" stop-color="#ff6600"/><stop offset="0.6374" stop-color="#ff9a00"/><stop offset="0.7182" stop-color="#ffe400"/><stop offset="0.7552" stop-color="#feff01"/><stop offset="0.8406" stop-color="#b4ff4b"/><stop offset="0.9099" stop-color="#64ff9b"/><stop offset="0.9908" stop-color="#00fdff"/><stop offset="1.0000" stop-color="#00f1ff"/></linearGradient><linearGradient id="hb36" gradientUnits="userSpaceOnUse" x1="1890.95" y1="0" x2="1458.40" y2="0" spreadMethod="reflect"><stop offset="0.0000" stop-color="#790000"/><stop offset="0.0092" stop-color="#800000"/><stop offset="0.0208" stop-color="#990000"/><stop offset="0.0462" stop-color="#ea0000"/><stop offset="0.0554" stop-color="#fe0000"/><stop offset="0.0716" stop-color="#ff1400"/><stop offset="0.0947" stop-color="#ff1b00"/><stop offset="0.1247" stop-color="#ff1000"/><stop offset="0.1478" stop-color="#fc0000"/><stop offset="0.1709" stop-color="#ee0000"/><stop offset="0.1917" stop-color="#f30000"/><stop offset="0.2079" stop-color="#ff0200"/><stop offset="0.2402" stop-color="#ff1900"/><stop offset="0.3349" stop-color="#ff2700"/><stop offset="0.4157" stop-color="#ff2500"/><stop offset="0.4896" stop-color="#ff1d00"/><stop offset="0.5150" stop-color="#ff2800"/><stop offset="0.5681" stop-color="#ff6000"/><stop offset="0.6374" stop-color="#ff9500"/><stop offset="0.7182" stop-color="#ffdf00"/><stop offset="0.7644" stop-color="#fcff03"/><stop offset="0.8453" stop-color="#b6ff49"/><stop offset="0.9192" stop-color="#5effa1"/><stop offset="0.9931" stop-color="#00ffff"/><stop offset="1.0000" stop-color="#00f6ff"/></linearGradient><linearGradient id="hb37" gradientUnits="userSpaceOnUse" x1="1890.95" y1="0" x2="1458.40" y2="0" spreadMethod="reflect"><stop offset="0.0000" stop-color="#810000"/><stop offset="0.0092" stop-color="#890000"/><stop offset="0.0208" stop-color="#a30000"/><stop offset="0.0462" stop-color="#f10000"/><stop offset="0.0531" stop-color="#ff0100"/><stop offset="0.0693" stop-color="#ff1700"/><stop offset="0.0924" stop-color="#ff1f00"/><stop offset="0.1247" stop-color="#ff1600"/><stop offset="0.1570" stop-color="#fd0000"/><stop offset="0.1778" stop-color="#f70000"/><stop offset="0.1986" stop-color="#ff0200"/><stop offset="0.2379" stop-color="#ff1d00"/><stop offset="0.3233" stop-color="#ff2900"/><stop offset="0.3972" stop-color="#ff2900"/><stop offset="0.4850" stop-color="#ff1b00"/><stop offset="0.5104" stop-color="#ff2200"/><stop offset="0.5658" stop-color="#ff5d00"/><stop offset="0.6374" stop-color="#ff9200"/><stop offset="0.7182" stop-color="#ffda00"/><stop offset="0.7691" stop-color="#feff01"/><stop offset="0.8476" stop-color="#b9ff46"/><stop offset="0.9400" stop-color="#4affb5"/><stop offset="0.9977" stop-color="#00feff"/><stop offset="1.0000" stop-color="#00fbff"/></linearGradient><linearGradient id="hb38" gradientUnits="userSpaceOnUse" x1="1890.95" y1="0" x2="1458.40" y2="0" spreadMethod="reflect"><stop offset="0.0000" stop-color="#8c0000"/><stop offset="0.0092" stop-color="#940000"/><stop offset="0.0231" stop-color="#b50000"/><stop offset="0.0462" stop-color="#f90000"/><stop offset="0.0508" stop-color="#ff0400"/><stop offset="0.0670" stop-color="#ff1b00"/><stop offset="0.0901" stop-color="#ff2400"/><stop offset="0.1247" stop-color="#ff1c00"/><stop offset="0.1686" stop-color="#ff0200"/><stop offset="0.1917" stop-color="#ff0600"/><stop offset="0.2379" stop-color="#ff2300"/><stop offset="0.3510" stop-color="#ff2f00"/><stop offset="0.4180" stop-color="#ff2700"/><stop offset="0.4827" stop-color="#ff1a00"/><stop offset="0.5104" stop-color="#ff2100"/><stop offset="0.5612" stop-color="#ff5800"/><stop offset="0.6374" stop-color="#ff8f00"/><stop offset="0.7206" stop-color="#ffd800"/><stop offset="0.7760" stop-color="#fcff03"/><stop offset="0.8499" stop-color="#bbff44"/><stop offset="0.9723" stop-color="#26ffd9"/><stop offset="1.0000" stop-color="#00ffff"/></linearGradient><linearGradient id="hb39" gradientUnits="userSpaceOnUse" x1="1890.95" y1="0" x2="1458.40" y2="0" spreadMethod="reflect"><stop offset="0.0000" stop-color="#990000"/><stop offset="0.0092" stop-color="#a10000"/><stop offset="0.0231" stop-color="#c20000"/><stop offset="0.0439" stop-color="#fc0000"/><stop offset="0.0531" stop-color="#ff0f00"/><stop offset="0.0693" stop-color="#ff2200"/><stop offset="0.0970" stop-color="#ff2900"/><stop offset="0.1339" stop-color="#ff1e00"/><stop offset="0.1709" stop-color="#ff0c00"/><stop offset="0.1963" stop-color="#ff1200"/><stop offset="0.2425" stop-color="#ff2900"/><stop offset="0.3672" stop-color="#ff3300"/><stop offset="0.4827" stop-color="#ff1900"/><stop offset="0.5104" stop-color="#ff2000"/><stop offset="0.5589" stop-color="#ff5600"/><stop offset="0.6374" stop-color="#ff8c00"/><stop offset="0.7206" stop-color="#ffd400"/><stop offset="0.7806" stop-color="#fcff03"/><stop offset="0.8522" stop-color="#bdff42"/><stop offset="0.9815" stop-color="#1dffe2"/><stop offset="1.0000" stop-color="#03fffc"/></linearGradient><linearGradient id="hb40" gradientUnits="userSpaceOnUse" x1="1890.95" y1="0" x2="1458.40" y2="0" spreadMethod="reflect"><stop offset="0.0000" stop-color="#a60000"/><stop offset="0.0092" stop-color="#af0000"/><stop offset="0.0416" stop-color="#ff0200"/><stop offset="0.0577" stop-color="#ff1e00"/><stop offset="0.0785" stop-color="#ff2d00"/><stop offset="0.1155" stop-color="#ff2c00"/><stop offset="0.1732" stop-color="#ff1700"/><stop offset="0.2055" stop-color="#ff2100"/><stop offset="0.2494" stop-color="#ff3100"/><stop offset="0.3672" stop-color="#ff3800"/><stop offset="0.4249" stop-color="#ff2900"/><stop offset="0.4781" stop-color="#ff1900"/><stop offset="0.5081" stop-color="#ff1e00"/><stop offset="0.5289" stop-color="#ff3300"/><stop offset="0.5566" stop-color="#ff5300"/><stop offset="0.6374" stop-color="#ff8a00"/><stop offset="0.7206" stop-color="#ffd100"/><stop offset="0.7829" stop-color="#feff01"/><stop offset="0.8522" stop-color="#c0ff3f"/><stop offset="0.9815" stop-color="#21ffde"/><stop offset="1.0000" stop-color="#06fff9"/></linearGradient><linearGradient id="hb41" gradientUnits="userSpaceOnUse" x1="1890.95" y1="0" x2="1458.40" y2="0" spreadMethod="reflect"><stop offset="0.0000" stop-color="#b30000"/><stop offset="0.0092" stop-color="#bd0000"/><stop offset="0.0346" stop-color="#ff0000"/><stop offset="0.0531" stop-color="#ff2200"/><stop offset="0.0739" stop-color="#ff3300"/><stop offset="0.1109" stop-color="#ff3500"/><stop offset="0.1755" stop-color="#ff2400"/><stop offset="0.2564" stop-color="#ff3900"/><stop offset="0.3672" stop-color="#ff3d00"/><stop offset="0.4226" stop-color="#ff2d00"/><stop offset="0.4758" stop-color="#ff1a00"/><stop offset="0.5081" stop-color="#ff1f00"/><stop offset="0.5312" stop-color="#ff3600"/><stop offset="0.5589" stop-color="#ff5400"/><stop offset="0.6374" stop-color="#ff8800"/><stop offset="0.7206" stop-color="#ffce00"/><stop offset="0.7875" stop-color="#fdff02"/><stop offset="0.8545" stop-color="#c1ff3e"/><stop offset="0.9792" stop-color="#27ffd8"/><stop offset="1.0000" stop-color="#09fff6"/></linearGradient><linearGradient id="hb42" gradientUnits="userSpaceOnUse" x1="1890.95" y1="0" x2="1458.40" y2="0" spreadMethod="reflect"><stop offset="0.0000" stop-color="#bf0000"/><stop offset="0.0092" stop-color="#cb0000"/><stop offset="0.0277" stop-color="#fd0000"/><stop offset="0.0485" stop-color="#ff2700"/><stop offset="0.0693" stop-color="#ff3900"/><stop offset="0.1062" stop-color="#ff3e00"/><stop offset="0.1801" stop-color="#ff3000"/><stop offset="0.2587" stop-color="#ff4000"/><stop offset="0.3672" stop-color="#ff4200"/><stop offset="0.4180" stop-color="#ff3200"/><stop offset="0.4734" stop-color="#ff1b00"/><stop offset="0.5058" stop-color="#ff1e00"/><stop offset="0.5289" stop-color="#ff3300"/><stop offset="0.5589" stop-color="#ff5400"/><stop offset="0.6374" stop-color="#ff8600"/><stop offset="0.7206" stop-color="#ffcc00"/><stop offset="0.7898" stop-color="#fdff02"/><stop offset="0.8545" stop-color="#c3ff3c"/><stop offset="0.9792" stop-color="#29ffd6"/><stop offset="1.0000" stop-color="#0cfff3"/></linearGradient><linearGradient id="hb43" gradientUnits="userSpaceOnUse" x1="1890.95" y1="0" x2="1458.40" y2="0" spreadMethod="reflect"><stop offset="0.0000" stop-color="#cb0000"/><stop offset="0.0092" stop-color="#d90000"/><stop offset="0.0231" stop-color="#ff0100"/><stop offset="0.0393" stop-color="#ff2400"/><stop offset="0.0600" stop-color="#ff3d00"/><stop offset="0.0901" stop-color="#ff4600"/><stop offset="0.1871" stop-color="#ff3c00"/><stop offset="0.2656" stop-color="#ff4800"/><stop offset="0.3672" stop-color="#ff4800"/><stop offset="0.4157" stop-color="#ff3600"/><stop offset="0.4711" stop-color="#ff1c00"/><stop offset="0.5035" stop-color="#ff1e00"/><stop offset="0.5266" stop-color="#ff3000"/><stop offset="0.5612" stop-color="#ff5500"/><stop offset="0.6374" stop-color="#ff8400"/><stop offset="0.7229" stop-color="#ffcc00"/><stop offset="0.7921" stop-color="#feff01"/><stop offset="0.8568" stop-color="#c3ff3c"/><stop offset="0.9769" stop-color="#2fffd0"/><stop offset="1.0000" stop-color="#0efff1"/></linearGradient><linearGradient id="hb44" gradientUnits="userSpaceOnUse" x1="1890.95" y1="0" x2="1458.40" y2="0" spreadMethod="reflect"><stop offset="0.0000" stop-color="#d60000"/><stop offset="0.0092" stop-color="#e50000"/><stop offset="0.0185" stop-color="#ff0100"/><stop offset="0.0323" stop-color="#ff2400"/><stop offset="0.0508" stop-color="#ff3e00"/><stop offset="0.0762" stop-color="#ff4b00"/><stop offset="0.1386" stop-color="#ff4900"/><stop offset="0.1940" stop-color="#ff4600"/><stop offset="0.3025" stop-color="#ff4f00"/><stop offset="0.3695" stop-color="#ff4c00"/><stop offset="0.4157" stop-color="#ff3a00"/><stop offset="0.4688" stop-color="#ff1f00"/><stop offset="0.5012" stop-color="#ff1f00"/><stop offset="0.5266" stop-color="#ff3100"/><stop offset="0.5612" stop-color="#ff5500"/><stop offset="0.6374" stop-color="#ff8200"/><stop offset="0.7275" stop-color="#ffce00"/><stop offset="0.7945" stop-color="#feff01"/><stop offset="0.8568" stop-color="#c5ff3a"/><stop offset="0.9746" stop-color="#34ffcb"/><stop offset="1.0000" stop-color="#10ffef"/></linearGradient><linearGradient id="hb45" gradientUnits="userSpaceOnUse" x1="1890.95" y1="0" x2="1458.40" y2="0" spreadMethod="reflect"><stop offset="0.0000" stop-color="#e00000"/><stop offset="0.0092" stop-color="#f00000"/><stop offset="0.0139" stop-color="#fd0000"/><stop offset="0.0300" stop-color="#ff2b00"/><stop offset="0.0485" stop-color="#ff4300"/><stop offset="0.0762" stop-color="#ff4f00"/><stop offset="0.2032" stop-color="#ff4e00"/><stop offset="0.3418" stop-color="#ff5500"/><stop offset="0.3926" stop-color="#ff4a00"/><stop offset="0.4665" stop-color="#ff2100"/><stop offset="0.4988" stop-color="#ff2000"/><stop offset="0.5242" stop-color="#ff2f00"/><stop offset="0.5612" stop-color="#ff5400"/><stop offset="0.6374" stop-color="#ff8100"/><stop offset="0.7298" stop-color="#ffce00"/><stop offset="0.7968" stop-color="#feff01"/><stop offset="0.8614" stop-color="#c1ff3e"/><stop offset="0.9746" stop-color="#35ffca"/><stop offset="1.0000" stop-color="#11ffee"/></linearGradient><linearGradient id="hb46" gradientUnits="userSpaceOnUse" x1="1890.95" y1="0" x2="1458.40" y2="0" spreadMethod="reflect"><stop offset="0.0000" stop-color="#e80000"/><stop offset="0.0092" stop-color="#f90000"/><stop offset="0.0115" stop-color="#ff0000"/><stop offset="0.0277" stop-color="#ff3000"/><stop offset="0.0416" stop-color="#ff4400"/><stop offset="0.0670" stop-color="#ff5200"/><stop offset="0.1409" stop-color="#ff5400"/><stop offset="0.2448" stop-color="#ff5600"/><stop offset="0.3557" stop-color="#ff5900"/><stop offset="0.4042" stop-color="#ff4800"/><stop offset="0.4642" stop-color="#ff2400"/><stop offset="0.4988" stop-color="#ff2200"/><stop offset="0.5266" stop-color="#ff3300"/><stop offset="0.5612" stop-color="#ff5400"/><stop offset="0.6374" stop-color="#ff7f00"/><stop offset="0.7344" stop-color="#ffd000"/><stop offset="0.7991" stop-color="#feff01"/><stop offset="0.8637" stop-color="#c0ff3f"/><stop offset="0.9723" stop-color="#3affc5"/><stop offset="1.0000" stop-color="#13ffec"/></linearGradient><linearGradient id="hb47" gradientUnits="userSpaceOnUse" x1="1890.95" y1="0" x2="1458.40" y2="0" spreadMethod="reflect"><stop offset="0.0000" stop-color="#ef0000"/><stop offset="0.0092" stop-color="#ff0200"/><stop offset="0.0254" stop-color="#ff3400"/><stop offset="0.0370" stop-color="#ff4700"/><stop offset="0.0624" stop-color="#ff5700"/><stop offset="0.1386" stop-color="#ff5900"/><stop offset="0.2771" stop-color="#ff5d00"/><stop offset="0.3533" stop-color="#ff5f00"/><stop offset="0.4018" stop-color="#ff4d00"/><stop offset="0.4642" stop-color="#ff2700"/><stop offset="0.4988" stop-color="#ff2500"/><stop offset="0.5266" stop-color="#ff3400"/><stop offset="0.5612" stop-color="#ff5400"/><stop offset="0.6351" stop-color="#ff7c00"/><stop offset="0.7367" stop-color="#ffd000"/><stop offset="0.8014" stop-color="#fdff02"/><stop offset="0.8684" stop-color="#bcff43"/><stop offset="0.9723" stop-color="#3cffc3"/><stop offset="1.0000" stop-color="#14ffeb"/></linearGradient><linearGradient id="hb48" gradientUnits="userSpaceOnUse" x1="1890.95" y1="0" x2="1458.40" y2="0" spreadMethod="reflect"><stop offset="0.0000" stop-color="#f40000"/><stop offset="0.0069" stop-color="#ff0200"/><stop offset="0.0254" stop-color="#ff3c00"/><stop offset="0.0370" stop-color="#ff4f00"/><stop offset="0.0624" stop-color="#ff5c00"/><stop offset="0.2009" stop-color="#ff5e00"/><stop offset="0.3395" stop-color="#ff6600"/><stop offset="0.3857" stop-color="#ff5900"/><stop offset="0.4642" stop-color="#ff2a00"/><stop offset="0.4988" stop-color="#ff2800"/><stop offset="0.5266" stop-color="#ff3600"/><stop offset="0.5635" stop-color="#ff5500"/><stop offset="0.6351" stop-color="#ff7a00"/><stop offset="0.7390" stop-color="#ffd100"/><stop offset="0.8014" stop-color="#feff01"/><stop offset="0.8707" stop-color="#baff45"/><stop offset="0.9723" stop-color="#3dffc2"/><stop offset="1.0000" stop-color="#15ffea"/></linearGradient><linearGradient id="hb49" gradientUnits="userSpaceOnUse" x1="1890.95" y1="0" x2="1458.40" y2="0" spreadMethod="reflect"><stop offset="0.0000" stop-color="#f80000"/><stop offset="0.0046" stop-color="#ff0100"/><stop offset="0.0162" stop-color="#ff2600"/><stop offset="0.0254" stop-color="#ff4400"/><stop offset="0.0370" stop-color="#ff5700"/><stop offset="0.0647" stop-color="#ff6200"/><stop offset="0.2032" stop-color="#ff6300"/><stop offset="0.3418" stop-color="#ff6b00"/><stop offset="0.3880" stop-color="#ff5c00"/><stop offset="0.4619" stop-color="#ff2d00"/><stop offset="0.4965" stop-color="#ff2a00"/><stop offset="0.5266" stop-color="#ff3800"/><stop offset="0.5681" stop-color="#ff5700"/><stop offset="0.6328" stop-color="#ff7800"/><stop offset="0.7436" stop-color="#ffd400"/><stop offset="0.8037" stop-color="#fdff02"/><stop offset="0.8730" stop-color="#b8ff47"/><stop offset="0.9700" stop-color="#41ffbe"/><stop offset="1.0000" stop-color="#16ffe9"/></linearGradient><linearGradient id="hb50" gradientUnits="userSpaceOnUse" x1="1890.95" y1="0" x2="1458.40" y2="0" spreadMethod="reflect"><stop offset="0.0000" stop-color="#ff0d00"/><stop offset="0.0092" stop-color="#ff1e00"/><stop offset="0.0254" stop-color="#ff4d00"/><stop offset="0.0370" stop-color="#ff5e00"/><stop offset="0.0670" stop-color="#ff6700"/><stop offset="0.2055" stop-color="#ff6800"/><stop offset="0.3441" stop-color="#ff7000"/><stop offset="0.3903" stop-color="#ff5e00"/><stop offset="0.4619" stop-color="#ff3000"/><stop offset="0.4965" stop-color="#ff2d00"/><stop offset="0.5289" stop-color="#ff3c00"/><stop offset="0.5727" stop-color="#ff5900"/><stop offset="0.6328" stop-color="#ff7700"/><stop offset="0.7436" stop-color="#ffd300"/><stop offset="0.8037" stop-color="#fdff02"/><stop offset="0.8753" stop-color="#b7ff48"/><stop offset="0.9700" stop-color="#42ffbd"/><stop offset="1.0000" stop-color="#17ffe8"/></linearGradient><linearGradient id="hb51" gradientUnits="userSpaceOnUse" x1="1890.95" y1="0" x2="1458.40" y2="0" spreadMethod="reflect"><stop offset="0.0000" stop-color="#ff2800"/><stop offset="0.0115" stop-color="#ff3800"/><stop offset="0.0277" stop-color="#ff5b00"/><stop offset="0.0439" stop-color="#ff6800"/><stop offset="0.1201" stop-color="#ff6d00"/><stop offset="0.2587" stop-color="#ff7000"/><stop offset="0.3418" stop-color="#ff7600"/><stop offset="0.3857" stop-color="#ff6400"/><stop offset="0.4596" stop-color="#ff3400"/><stop offset="0.4965" stop-color="#ff3000"/><stop offset="0.5312" stop-color="#ff3f00"/><stop offset="0.5797" stop-color="#ff5b00"/><stop offset="0.6328" stop-color="#ff7600"/><stop offset="0.7460" stop-color="#ffd400"/><stop offset="0.8037" stop-color="#feff01"/><stop offset="0.8776" stop-color="#b5ff4a"/><stop offset="0.9677" stop-color="#47ffb8"/><stop offset="1.0000" stop-color="#18ffe7"/></linearGradient><linearGradient id="hb52" gradientUnits="userSpaceOnUse" x1="1890.95" y1="0" x2="1458.40" y2="0" spreadMethod="reflect"><stop offset="0.0000" stop-color="#ff4400"/><stop offset="0.0139" stop-color="#ff5000"/><stop offset="0.0323" stop-color="#ff6900"/><stop offset="0.0647" stop-color="#ff7100"/><stop offset="0.2032" stop-color="#ff7200"/><stop offset="0.3418" stop-color="#ff7b00"/><stop offset="0.3834" stop-color="#ff6900"/><stop offset="0.4573" stop-color="#ff3800"/><stop offset="0.4942" stop-color="#ff3300"/><stop offset="0.5289" stop-color="#ff3f00"/><stop offset="0.5843" stop-color="#ff5d00"/><stop offset="0.6328" stop-color="#ff7500"/><stop offset="0.7460" stop-color="#ffd400"/><stop offset="0.8037" stop-color="#feff01"/><stop offset="0.8776" stop-color="#b5ff4a"/><stop offset="0.9654" stop-color="#4bffb4"/><stop offset="1.0000" stop-color="#18ffe7"/></linearGradient><linearGradient id="hb53" gradientUnits="userSpaceOnUse" x1="1890.95" y1="0" x2="1458.40" y2="0" spreadMethod="reflect"><stop offset="0.0000" stop-color="#ff5f00"/><stop offset="0.0439" stop-color="#ff7400"/><stop offset="0.1824" stop-color="#ff7600"/><stop offset="0.2933" stop-color="#ff7e00"/><stop offset="0.3441" stop-color="#ff8000"/><stop offset="0.3857" stop-color="#ff6b00"/><stop offset="0.4550" stop-color="#ff3c00"/><stop offset="0.4919" stop-color="#ff3600"/><stop offset="0.5289" stop-color="#ff4000"/><stop offset="0.6305" stop-color="#ff7300"/><stop offset="0.7483" stop-color="#ffd600"/><stop offset="0.8037" stop-color="#feff01"/><stop offset="0.8799" stop-color="#b4ff4b"/><stop offset="0.9654" stop-color="#4cffb3"/><stop offset="1.0000" stop-color="#19ffe6"/></linearGradient><linearGradient id="hb54" gradientUnits="userSpaceOnUse" x1="1890.95" y1="0" x2="1458.40" y2="0" spreadMethod="reflect"><stop offset="0.0000" stop-color="#ff7600"/><stop offset="0.1386" stop-color="#ff7a00"/><stop offset="0.2725" stop-color="#ff8000"/><stop offset="0.3372" stop-color="#ff8600"/><stop offset="0.3718" stop-color="#ff7800"/><stop offset="0.4527" stop-color="#ff4000"/><stop offset="0.4919" stop-color="#ff3900"/><stop offset="0.5312" stop-color="#ff4300"/><stop offset="0.6282" stop-color="#ff7100"/><stop offset="0.7483" stop-color="#ffd600"/><stop offset="0.8037" stop-color="#fdff02"/><stop offset="0.8822" stop-color="#b2ff4d"/><stop offset="0.9654" stop-color="#4dffb2"/><stop offset="1.0000" stop-color="#19ffe6"/></linearGradient><linearGradient id="hb55" gradientUnits="userSpaceOnUse" x1="1890.95" y1="0" x2="1458.40" y2="0" spreadMethod="reflect"><stop offset="0.0000" stop-color="#ff8100"/><stop offset="0.1386" stop-color="#ff7e00"/><stop offset="0.2702" stop-color="#ff8400"/><stop offset="0.3349" stop-color="#ff8b00"/><stop offset="0.3695" stop-color="#ff7d00"/><stop offset="0.4480" stop-color="#ff4400"/><stop offset="0.4873" stop-color="#ff3c00"/><stop offset="0.5312" stop-color="#ff4400"/><stop offset="0.6259" stop-color="#ff6e00"/><stop offset="0.7483" stop-color="#ffd600"/><stop offset="0.8037" stop-color="#fdff02"/><stop offset="0.8822" stop-color="#b2ff4d"/><stop offset="0.9630" stop-color="#52ffad"/><stop offset="1.0000" stop-color="#1affe5"/></linearGradient><linearGradient id="hb56" gradientUnits="userSpaceOnUse" x1="1890.95" y1="0" x2="1458.40" y2="0" spreadMethod="reflect"><stop offset="0.0000" stop-color="#ff8b00"/><stop offset="0.0554" stop-color="#ff8200"/><stop offset="0.1940" stop-color="#ff8300"/><stop offset="0.2864" stop-color="#ff8c00"/><stop offset="0.3372" stop-color="#ff9000"/><stop offset="0.3695" stop-color="#ff8100"/><stop offset="0.4411" stop-color="#ff4a00"/><stop offset="0.4781" stop-color="#ff4000"/><stop offset="0.5289" stop-color="#ff4500"/><stop offset="0.6236" stop-color="#ff6c00"/><stop offset="0.7483" stop-color="#ffd600"/><stop offset="0.8037" stop-color="#fdff02"/><stop offset="0.8845" stop-color="#b0ff4f"/><stop offset="0.9607" stop-color="#56ffa9"/><stop offset="1.0000" stop-color="#1affe5"/></linearGradient><linearGradient id="hb57" gradientUnits="userSpaceOnUse" x1="1890.95" y1="0" x2="1458.40" y2="0" spreadMethod="reflect"><stop offset="0.0000" stop-color="#ff9500"/><stop offset="0.0485" stop-color="#ff8700"/><stop offset="0.1871" stop-color="#ff8700"/><stop offset="0.2794" stop-color="#ff8f00"/><stop offset="0.3326" stop-color="#ff9500"/><stop offset="0.3649" stop-color="#ff8800"/><stop offset="0.4365" stop-color="#ff4f00"/><stop offset="0.4734" stop-color="#ff4300"/><stop offset="0.5312" stop-color="#ff4700"/><stop offset="0.6236" stop-color="#ff6c00"/><stop offset="0.7436" stop-color="#ffd200"/><stop offset="0.8014" stop-color="#feff01"/><stop offset="0.8845" stop-color="#b0ff4f"/><stop offset="0.9607" stop-color="#57ffa8"/><stop offset="1.0000" stop-color="#1affe5"/></linearGradient><linearGradient id="hb58" gradientUnits="userSpaceOnUse" x1="1890.95" y1="0" x2="1458.40" y2="0" spreadMethod="reflect"><stop offset="0.0000" stop-color="#ff9e00"/><stop offset="0.0462" stop-color="#ff8b00"/><stop offset="0.1848" stop-color="#ff8b00"/><stop offset="0.2771" stop-color="#ff9300"/><stop offset="0.3303" stop-color="#ff9900"/><stop offset="0.3626" stop-color="#ff8d00"/><stop offset="0.4342" stop-color="#ff5200"/><stop offset="0.4688" stop-color="#ff4700"/><stop offset="0.5335" stop-color="#ff4900"/><stop offset="0.6212" stop-color="#ff6b00"/><stop offset="0.7413" stop-color="#ffd100"/><stop offset="0.8014" stop-color="#fdff02"/><stop offset="0.8868" stop-color="#aeff51"/><stop offset="0.9584" stop-color="#5bffa4"/><stop offset="1.0000" stop-color="#1affe5"/></linearGradient><linearGradient id="hb59" gradientUnits="userSpaceOnUse" x1="1890.95" y1="0" x2="1458.40" y2="0" spreadMethod="reflect"><stop offset="0.0000" stop-color="#ffa800"/><stop offset="0.0208" stop-color="#ff9f00"/><stop offset="0.0416" stop-color="#ff9100"/><stop offset="0.1801" stop-color="#ff8f00"/><stop offset="0.2748" stop-color="#ff9700"/><stop offset="0.3279" stop-color="#ff9d00"/><stop offset="0.3603" stop-color="#ff9200"/><stop offset="0.4319" stop-color="#ff5600"/><stop offset="0.4642" stop-color="#ff4a00"/><stop offset="0.5335" stop-color="#ff4a00"/><stop offset="0.6212" stop-color="#ff6b00"/><stop offset="0.7367" stop-color="#ffce00"/><stop offset="0.8014" stop-color="#fdff02"/><stop offset="0.8891" stop-color="#acff53"/><stop offset="0.9584" stop-color="#5cffa3"/><stop offset="1.0000" stop-color="#1affe5"/></linearGradient><linearGradient id="hb60" gradientUnits="userSpaceOnUse" x1="1890.95" y1="0" x2="1458.40" y2="0" spreadMethod="reflect"><stop offset="0.0000" stop-color="#ffb000"/><stop offset="0.0208" stop-color="#ffa600"/><stop offset="0.0416" stop-color="#ff9600"/><stop offset="0.1801" stop-color="#ff9300"/><stop offset="0.2748" stop-color="#ff9b00"/><stop offset="0.3279" stop-color="#ffa100"/><stop offset="0.3603" stop-color="#ff9500"/><stop offset="0.4296" stop-color="#ff5a00"/><stop offset="0.4619" stop-color="#ff4d00"/><stop offset="0.5358" stop-color="#ff4c00"/><stop offset="0.6212" stop-color="#ff6b00"/><stop offset="0.7321" stop-color="#ffcb00"/><stop offset="0.7991" stop-color="#feff01"/><stop offset="0.8891" stop-color="#acff53"/><stop offset="0.9561" stop-color="#60ff9f"/><stop offset="1.0000" stop-color="#1bffe4"/></linearGradient><linearGradient id="hb61" gradientUnits="userSpaceOnUse" x1="1890.95" y1="0" x2="1458.40" y2="0" spreadMethod="reflect"><stop offset="0.0000" stop-color="#ffb500"/><stop offset="0.0208" stop-color="#ffab00"/><stop offset="0.0416" stop-color="#ff9900"/><stop offset="0.1801" stop-color="#ff9700"/><stop offset="0.2748" stop-color="#ff9e00"/><stop offset="0.3256" stop-color="#ffa400"/><stop offset="0.3603" stop-color="#ff9700"/><stop offset="0.4296" stop-color="#ff5c00"/><stop offset="0.4642" stop-color="#ff5000"/><stop offset="0.5358" stop-color="#ff4d00"/><stop offset="0.6189" stop-color="#ff6b00"/><stop offset="0.7344" stop-color="#ffcd00"/><stop offset="0.7991" stop-color="#feff01"/><stop offset="0.8915" stop-color="#a9ff56"/><stop offset="0.9561" stop-color="#60ff9f"/><stop offset="1.0000" stop-color="#1bffe4"/></linearGradient><linearGradient id="hb62" gradientUnits="userSpaceOnUse" x1="1890.95" y1="0" x2="1458.40" y2="0" spreadMethod="reflect"><stop offset="0.0000" stop-color="#ffba00"/><stop offset="0.0208" stop-color="#ffb100"/><stop offset="0.0416" stop-color="#ff9d00"/><stop offset="0.1247" stop-color="#ff9a00"/><stop offset="0.2610" stop-color="#ff9f00"/><stop offset="0.3233" stop-color="#ffa700"/><stop offset="0.3603" stop-color="#ff9a00"/><stop offset="0.4296" stop-color="#ff5f00"/><stop offset="0.4642" stop-color="#ff5200"/><stop offset="0.5358" stop-color="#ff4f00"/><stop offset="0.6189" stop-color="#ff6c00"/><stop offset="0.7321" stop-color="#ffcc00"/><stop offset="0.7991" stop-color="#fdff02"/><stop offset="0.8915" stop-color="#a9ff56"/><stop offset="0.9561" stop-color="#60ff9f"/><stop offset="1.0000" stop-color="#1cffe3"/></linearGradient><linearGradient id="hb63" gradientUnits="userSpaceOnUse" x1="1890.95" y1="0" x2="1458.40" y2="0" spreadMethod="reflect"><stop offset="0.0000" stop-color="#ffbf00"/><stop offset="0.0208" stop-color="#ffb600"/><stop offset="0.0416" stop-color="#ffa100"/><stop offset="0.0970" stop-color="#ff9d00"/><stop offset="0.2356" stop-color="#ff9f00"/><stop offset="0.3233" stop-color="#ffa900"/><stop offset="0.3603" stop-color="#ff9c00"/><stop offset="0.4296" stop-color="#ff6200"/><stop offset="0.4665" stop-color="#ff5500"/><stop offset="0.5358" stop-color="#ff5200"/><stop offset="0.6189" stop-color="#ff6e00"/><stop offset="0.7344" stop-color="#ffcf00"/><stop offset="0.7991" stop-color="#fdff02"/><stop offset="0.8938" stop-color="#a6ff59"/><stop offset="0.9561" stop-color="#60ff9f"/><stop offset="1.0000" stop-color="#1dffe2"/></linearGradient><linearGradient id="hb64" gradientUnits="userSpaceOnUse" x1="1890.95" y1="0" x2="1458.40" y2="0" spreadMethod="reflect"><stop offset="0.0000" stop-color="#ffc400"/><stop offset="0.0208" stop-color="#ffbc00"/><stop offset="0.0416" stop-color="#ffa500"/><stop offset="0.0831" stop-color="#ffa000"/><stop offset="0.2217" stop-color="#ffa100"/><stop offset="0.3233" stop-color="#ffac00"/><stop offset="0.3603" stop-color="#ff9e00"/><stop offset="0.4319" stop-color="#ff6400"/><stop offset="0.4711" stop-color="#ff5700"/><stop offset="0.5381" stop-color="#ff5500"/><stop offset="0.6166" stop-color="#ff6f00"/><stop offset="0.7390" stop-color="#ffd300"/><stop offset="0.7991" stop-color="#fcff03"/><stop offset="0.8915" stop-color="#a7ff58"/><stop offset="0.9584" stop-color="#5cffa3"/><stop offset="1.0000" stop-color="#1effe1"/></linearGradient><linearGradient id="hb65" gradientUnits="userSpaceOnUse" x1="1890.95" y1="0" x2="1458.40" y2="0" spreadMethod="reflect"><stop offset="0.0000" stop-color="#ffc900"/><stop offset="0.0208" stop-color="#ffc100"/><stop offset="0.0439" stop-color="#ffa700"/><stop offset="0.0970" stop-color="#ffa300"/><stop offset="0.2356" stop-color="#ffa500"/><stop offset="0.3233" stop-color="#ffae00"/><stop offset="0.3603" stop-color="#ffa000"/><stop offset="0.4319" stop-color="#ff6700"/><stop offset="0.4734" stop-color="#ff5a00"/><stop offset="0.5381" stop-color="#ff5700"/><stop offset="0.6143" stop-color="#ff7000"/><stop offset="0.7460" stop-color="#ffd900"/><stop offset="0.7968" stop-color="#feff01"/><stop offset="0.8891" stop-color="#a8ff57"/><stop offset="0.9584" stop-color="#5cffa3"/><stop offset="1.0000" stop-color="#1fffe0"/></linearGradient><linearGradient id="hb66" gradientUnits="userSpaceOnUse" x1="1890.95" y1="0" x2="1458.40" y2="0" spreadMethod="reflect"><stop offset="0.0000" stop-color="#ffcf00"/><stop offset="0.0208" stop-color="#ffc600"/><stop offset="0.0439" stop-color="#ffab00"/><stop offset="0.0855" stop-color="#ffa700"/><stop offset="0.2240" stop-color="#ffa800"/><stop offset="0.3233" stop-color="#ffb000"/><stop offset="0.3603" stop-color="#ffa200"/><stop offset="0.4319" stop-color="#ff6b00"/><stop offset="0.4781" stop-color="#ff5c00"/><stop offset="0.5404" stop-color="#ff5a00"/><stop offset="0.6143" stop-color="#ff7300"/><stop offset="0.7506" stop-color="#ffdd00"/><stop offset="0.7968" stop-color="#fdff02"/><stop offset="0.8868" stop-color="#a9ff56"/><stop offset="0.9584" stop-color="#5bffa4"/><stop offset="1.0000" stop-color="#1fffe0"/></linearGradient><linearGradient id="hb67" gradientUnits="userSpaceOnUse" x1="1890.95" y1="0" x2="1458.40" y2="0" spreadMethod="reflect"><stop offset="0.0000" stop-color="#ffd400"/><stop offset="0.0208" stop-color="#ffcc00"/><stop offset="0.0439" stop-color="#ffaf00"/><stop offset="0.0762" stop-color="#ffaa00"/><stop offset="0.2148" stop-color="#ffab00"/><stop offset="0.3233" stop-color="#ffb200"/><stop offset="0.3603" stop-color="#ffa400"/><stop offset="0.4342" stop-color="#ff6d00"/><stop offset="0.4827" stop-color="#ff5f00"/><stop offset="0.5404" stop-color="#ff5d00"/><stop offset="0.6120" stop-color="#ff7400"/><stop offset="0.7506" stop-color="#ffde00"/><stop offset="0.7945" stop-color="#feff01"/><stop offset="0.8822" stop-color="#acff53"/><stop offset="0.9607" stop-color="#58ffa7"/><stop offset="1.0000" stop-color="#20ffdf"/></linearGradient><linearGradient id="hb68" gradientUnits="userSpaceOnUse" x1="1890.95" y1="0" x2="1458.40" y2="0" spreadMethod="reflect"><stop offset="0.0000" stop-color="#ffd900"/><stop offset="0.0208" stop-color="#ffd100"/><stop offset="0.0439" stop-color="#ffb300"/><stop offset="0.0716" stop-color="#ffad00"/><stop offset="0.2102" stop-color="#ffae00"/><stop offset="0.3233" stop-color="#ffb500"/><stop offset="0.3603" stop-color="#ffa600"/><stop offset="0.4342" stop-color="#ff7100"/><stop offset="0.4850" stop-color="#ff6200"/><stop offset="0.5427" stop-color="#ff6000"/><stop offset="0.6097" stop-color="#ff7600"/><stop offset="0.7483" stop-color="#ffde00"/><stop offset="0.7945" stop-color="#fdff02"/><stop offset="0.8799" stop-color="#adff52"/><stop offset="0.9630" stop-color="#54ffab"/><stop offset="1.0000" stop-color="#21ffde"/></linearGradient><linearGradient id="hb69" gradientUnits="userSpaceOnUse" x1="1890.95" y1="0" x2="1458.40" y2="0" spreadMethod="reflect"><stop offset="0.0000" stop-color="#ffde00"/><stop offset="0.0208" stop-color="#ffd700"/><stop offset="0.0462" stop-color="#ffb600"/><stop offset="0.0785" stop-color="#ffb000"/><stop offset="0.2171" stop-color="#ffb100"/><stop offset="0.3233" stop-color="#ffb700"/><stop offset="0.3626" stop-color="#ffa700"/><stop offset="0.4365" stop-color="#ff7400"/><stop offset="0.4896" stop-color="#ff6400"/><stop offset="0.5473" stop-color="#ff6400"/><stop offset="0.6074" stop-color="#ff7900"/><stop offset="0.7460" stop-color="#ffdd00"/><stop offset="0.7921" stop-color="#fdff02"/><stop offset="0.8730" stop-color="#b3ff4c"/><stop offset="0.9654" stop-color="#51ffae"/><stop offset="1.0000" stop-color="#21ffde"/></linearGradient><linearGradient id="hb70" gradientUnits="userSpaceOnUse" x1="1890.95" y1="0" x2="1458.40" y2="0" spreadMethod="reflect"><stop offset="0.0000" stop-color="#ffe300"/><stop offset="0.0208" stop-color="#ffdc00"/><stop offset="0.0462" stop-color="#ffba00"/><stop offset="0.0739" stop-color="#ffb400"/><stop offset="0.2125" stop-color="#ffb400"/><stop offset="0.3210" stop-color="#ffba00"/><stop offset="0.3603" stop-color="#ffab00"/><stop offset="0.4365" stop-color="#ff7800"/><stop offset="0.4896" stop-color="#ff6800"/><stop offset="0.5473" stop-color="#ff6800"/><stop offset="0.6051" stop-color="#ff7c00"/><stop offset="0.7436" stop-color="#ffdd00"/><stop offset="0.7898" stop-color="#feff01"/><stop offset="0.8707" stop-color="#b4ff4b"/><stop offset="0.9654" stop-color="#51ffae"/><stop offset="1.0000" stop-color="#22ffdd"/></linearGradient><linearGradient id="hb71" gradientUnits="userSpaceOnUse" x1="1890.95" y1="0" x2="1458.40" y2="0" spreadMethod="reflect"><stop offset="0.0000" stop-color="#ffe800"/><stop offset="0.0208" stop-color="#ffe200"/><stop offset="0.0462" stop-color="#ffbe00"/><stop offset="0.0716" stop-color="#ffb700"/><stop offset="0.2102" stop-color="#ffb700"/><stop offset="0.3210" stop-color="#ffbd00"/><stop offset="0.3603" stop-color="#ffae00"/><stop offset="0.4388" stop-color="#ff7b00"/><stop offset="0.4919" stop-color="#ff6b00"/><stop offset="0.5497" stop-color="#ff6c00"/><stop offset="0.6028" stop-color="#ff7f00"/><stop offset="0.7413" stop-color="#ffdd00"/><stop offset="0.7875" stop-color="#feff01"/><stop offset="0.8661" stop-color="#b7ff48"/><stop offset="0.9677" stop-color="#4effb1"/><stop offset="1.0000" stop-color="#22ffdd"/></linearGradient><linearGradient id="hb72" gradientUnits="userSpaceOnUse" x1="1890.95" y1="0" x2="1458.40" y2="0" spreadMethod="reflect"><stop offset="0.0000" stop-color="#ffed00"/><stop offset="0.0208" stop-color="#ffe700"/><stop offset="0.0485" stop-color="#ffc000"/><stop offset="0.0785" stop-color="#ffbb00"/><stop offset="0.2171" stop-color="#ffbb00"/><stop offset="0.3210" stop-color="#ffc000"/><stop offset="0.3626" stop-color="#ffaf00"/><stop offset="0.4411" stop-color="#ff7e00"/><stop offset="0.4942" stop-color="#ff6f00"/><stop offset="0.5497" stop-color="#ff7000"/><stop offset="0.5982" stop-color="#ff8100"/><stop offset="0.7367" stop-color="#ffdc00"/><stop offset="0.7852" stop-color="#feff01"/><stop offset="0.8661" stop-color="#b5ff4a"/><stop offset="0.9700" stop-color="#4bffb4"/><stop offset="1.0000" stop-color="#23ffdc"/></linearGradient><linearGradient id="hb73" gradientUnits="userSpaceOnUse" x1="1890.95" y1="0" x2="1458.40" y2="0" spreadMethod="reflect"><stop offset="0.0000" stop-color="#fff000"/><stop offset="0.0231" stop-color="#ffe800"/><stop offset="0.0485" stop-color="#ffc500"/><stop offset="0.0762" stop-color="#ffbf00"/><stop offset="0.2148" stop-color="#ffbf00"/><stop offset="0.3187" stop-color="#ffc300"/><stop offset="0.3603" stop-color="#ffb400"/><stop offset="0.4434" stop-color="#ff8200"/><stop offset="0.4965" stop-color="#ff7300"/><stop offset="0.5520" stop-color="#ff7500"/><stop offset="0.6005" stop-color="#ff8600"/><stop offset="0.7390" stop-color="#ffdf00"/><stop offset="0.7829" stop-color="#feff01"/><stop offset="0.8637" stop-color="#b6ff49"/><stop offset="0.9700" stop-color="#4bffb4"/><stop offset="1.0000" stop-color="#23ffdc"/></linearGradient><linearGradient id="hb74" gradientUnits="userSpaceOnUse" x1="1890.95" y1="0" x2="1458.40" y2="0" spreadMethod="reflect"><stop offset="0.0000" stop-color="#fff200"/><stop offset="0.0231" stop-color="#ffeb00"/><stop offset="0.0485" stop-color="#ffc900"/><stop offset="0.0762" stop-color="#ffc200"/><stop offset="0.2148" stop-color="#ffc300"/><stop offset="0.3187" stop-color="#ffc700"/><stop offset="0.3626" stop-color="#ffb600"/><stop offset="0.4457" stop-color="#ff8500"/><stop offset="0.5012" stop-color="#ff7700"/><stop offset="0.5566" stop-color="#ff7a00"/><stop offset="0.6074" stop-color="#ff8f00"/><stop offset="0.7460" stop-color="#ffe600"/><stop offset="0.7806" stop-color="#fdff02"/><stop offset="0.8637" stop-color="#b4ff4b"/><stop offset="0.9700" stop-color="#4bffb4"/><stop offset="1.0000" stop-color="#24ffdb"/></linearGradient><linearGradient id="hb75" gradientUnits="userSpaceOnUse" x1="1890.95" y1="0" x2="1458.40" y2="0" spreadMethod="reflect"><stop offset="0.0000" stop-color="#fff400"/><stop offset="0.0231" stop-color="#ffee00"/><stop offset="0.0508" stop-color="#ffcb00"/><stop offset="0.0901" stop-color="#ffc600"/><stop offset="0.2286" stop-color="#ffc700"/><stop offset="0.3187" stop-color="#ffca00"/><stop offset="0.3626" stop-color="#ffb900"/><stop offset="0.4457" stop-color="#ff8a00"/><stop offset="0.5012" stop-color="#ff7c00"/><stop offset="0.5566" stop-color="#ff8000"/><stop offset="0.6097" stop-color="#ff9500"/><stop offset="0.7483" stop-color="#ffea00"/><stop offset="0.7783" stop-color="#fdff02"/><stop offset="0.8637" stop-color="#b2ff4d"/><stop offset="0.9700" stop-color="#4bffb4"/><stop offset="1.0000" stop-color="#24ffdb"/></linearGradient><linearGradient id="hb76" gradientUnits="userSpaceOnUse" x1="1890.95" y1="0" x2="1458.40" y2="0" spreadMethod="reflect"><stop offset="0.0000" stop-color="#fff600"/><stop offset="0.0231" stop-color="#fff100"/><stop offset="0.0508" stop-color="#ffcf00"/><stop offset="0.0878" stop-color="#ffca00"/><stop offset="0.2263" stop-color="#ffcb00"/><stop offset="0.3187" stop-color="#ffcd00"/><stop offset="0.3649" stop-color="#ffbb00"/><stop offset="0.4480" stop-color="#ff8e00"/><stop offset="0.5058" stop-color="#ff8100"/><stop offset="0.5635" stop-color="#ff8600"/><stop offset="0.6351" stop-color="#ffa700"/><stop offset="0.7575" stop-color="#fff300"/><stop offset="0.7760" stop-color="#fcff03"/><stop offset="0.8661" stop-color="#adff52"/><stop offset="0.9700" stop-color="#4cffb3"/><stop offset="1.0000" stop-color="#24ffdb"/></linearGradient><linearGradient id="hb77" gradientUnits="userSpaceOnUse" x1="1890.95" y1="0" x2="1458.40" y2="0" spreadMethod="reflect"><stop offset="0.0000" stop-color="#fff800"/><stop offset="0.0254" stop-color="#fff200"/><stop offset="0.0508" stop-color="#ffd300"/><stop offset="0.0855" stop-color="#ffce00"/><stop offset="0.2240" stop-color="#ffce00"/><stop offset="0.3187" stop-color="#ffd100"/><stop offset="0.3672" stop-color="#ffbd00"/><stop offset="0.4503" stop-color="#ff9200"/><stop offset="0.5081" stop-color="#ff8600"/><stop offset="0.5658" stop-color="#ff8d00"/><stop offset="0.6536" stop-color="#ffb500"/><stop offset="0.7575" stop-color="#fff600"/><stop offset="0.7714" stop-color="#fdff02"/><stop offset="0.8707" stop-color="#a6ff59"/><stop offset="0.9700" stop-color="#4cffb3"/><stop offset="1.0000" stop-color="#25ffda"/></linearGradient><linearGradient id="hb78" gradientUnits="userSpaceOnUse" x1="1890.95" y1="0" x2="1458.40" y2="0" spreadMethod="reflect"><stop offset="0.0000" stop-color="#fffa00"/><stop offset="0.0254" stop-color="#fff400"/><stop offset="0.0531" stop-color="#ffd600"/><stop offset="0.1062" stop-color="#ffd100"/><stop offset="0.2448" stop-color="#ffd300"/><stop offset="0.3187" stop-color="#ffd400"/><stop offset="0.3695" stop-color="#ffc000"/><stop offset="0.4527" stop-color="#ff9700"/><stop offset="0.5127" stop-color="#ff8b00"/><stop offset="0.5727" stop-color="#ff9400"/><stop offset="0.6813" stop-color="#ffc800"/><stop offset="0.7667" stop-color="#feff01"/><stop offset="0.8753" stop-color="#a0ff5f"/><stop offset="0.9700" stop-color="#4cffb3"/><stop offset="1.0000" stop-color="#25ffda"/></linearGradient><linearGradient id="hb79" gradientUnits="userSpaceOnUse" x1="1890.95" y1="0" x2="1458.40" y2="0" spreadMethod="reflect"><stop offset="0.0000" stop-color="#fffc00"/><stop offset="0.0254" stop-color="#fff700"/><stop offset="0.0531" stop-color="#ffda00"/><stop offset="0.1016" stop-color="#ffd500"/><stop offset="0.2402" stop-color="#ffd700"/><stop offset="0.3187" stop-color="#ffd700"/><stop offset="0.3718" stop-color="#ffc200"/><stop offset="0.4550" stop-color="#ff9b00"/><stop offset="0.5150" stop-color="#ff9000"/><stop offset="0.5774" stop-color="#ff9b00"/><stop offset="0.6859" stop-color="#ffcd00"/><stop offset="0.7644" stop-color="#fdff02"/><stop offset="0.9030" stop-color="#85ff7a"/><stop offset="0.9677" stop-color="#4fffb0"/><stop offset="1.0000" stop-color="#25ffda"/></linearGradient><linearGradient id="hb80" gradientUnits="userSpaceOnUse" x1="1890.95" y1="0" x2="1458.40" y2="0" spreadMethod="reflect"><stop offset="0.0000" stop-color="#fffe00"/><stop offset="0.0277" stop-color="#fff800"/><stop offset="0.0531" stop-color="#ffde00"/><stop offset="0.0993" stop-color="#ffd900"/><stop offset="0.2379" stop-color="#ffda00"/><stop offset="0.3187" stop-color="#ffdb00"/><stop offset="0.3764" stop-color="#ffc300"/><stop offset="0.4596" stop-color="#ff9f00"/><stop offset="0.5219" stop-color="#ff9600"/><stop offset="0.5912" stop-color="#ffa500"/><stop offset="0.6952" stop-color="#ffd600"/><stop offset="0.7598" stop-color="#fdff02"/><stop offset="0.8984" stop-color="#87ff78"/><stop offset="0.9677" stop-color="#4fffb0"/><stop offset="1.0000" stop-color="#25ffda"/></linearGradient><linearGradient id="hb81" gradientUnits="userSpaceOnUse" x1="1890.95" y1="0" x2="1458.40" y2="0" spreadMethod="reflect"><stop offset="0.0000" stop-color="#feff01"/><stop offset="0.0277" stop-color="#fffb00"/><stop offset="0.0554" stop-color="#ffe000"/><stop offset="0.1455" stop-color="#ffdd00"/><stop offset="0.2841" stop-color="#ffe000"/><stop offset="0.3326" stop-color="#ffda00"/><stop offset="0.4573" stop-color="#ffa400"/><stop offset="0.5196" stop-color="#ff9c00"/><stop offset="0.5912" stop-color="#ffaa00"/><stop offset="0.6928" stop-color="#ffd700"/><stop offset="0.7552" stop-color="#feff01"/><stop offset="0.8938" stop-color="#89ff76"/><stop offset="0.9677" stop-color="#4fffb0"/><stop offset="0.9977" stop-color="#28ffd7"/><stop offset="1.0000" stop-color="#25ffda"/></linearGradient><linearGradient id="hb82" gradientUnits="userSpaceOnUse" x1="1890.95" y1="0" x2="1458.40" y2="0" spreadMethod="reflect"><stop offset="0.0000" stop-color="#fcff03"/><stop offset="0.0300" stop-color="#fffc00"/><stop offset="0.0554" stop-color="#ffe400"/><stop offset="0.1363" stop-color="#ffe000"/><stop offset="0.2748" stop-color="#ffe300"/><stop offset="0.3279" stop-color="#ffdf00"/><stop offset="0.4596" stop-color="#ffa900"/><stop offset="0.5242" stop-color="#ffa100"/><stop offset="0.6005" stop-color="#ffb200"/><stop offset="0.6952" stop-color="#ffdc00"/><stop offset="0.7529" stop-color="#fcff03"/><stop offset="0.8915" stop-color="#89ff76"/><stop offset="0.9654" stop-color="#51ffae"/><stop offset="0.9954" stop-color="#2bffd4"/><stop offset="1.0000" stop-color="#25ffda"/></linearGradient><linearGradient id="hb83" gradientUnits="userSpaceOnUse" x1="1890.95" y1="0" x2="1458.40" y2="0" spreadMethod="reflect"><stop offset="0.0000" stop-color="#faff05"/><stop offset="0.0323" stop-color="#fffd00"/><stop offset="0.0554" stop-color="#ffe700"/><stop offset="0.1293" stop-color="#ffe400"/><stop offset="0.2679" stop-color="#ffe600"/><stop offset="0.3233" stop-color="#ffe300"/><stop offset="0.4619" stop-color="#ffad00"/><stop offset="0.5266" stop-color="#ffa700"/><stop offset="0.6051" stop-color="#ffb800"/><stop offset="0.6952" stop-color="#ffdf00"/><stop offset="0.7483" stop-color="#fdff02"/><stop offset="0.8868" stop-color="#8bff74"/><stop offset="0.9630" stop-color="#53ffac"/><stop offset="0.9954" stop-color="#2bffd4"/><stop offset="1.0000" stop-color="#25ffda"/></linearGradient><linearGradient id="hb84" gradientUnits="userSpaceOnUse" x1="1890.95" y1="0" x2="1458.40" y2="0" spreadMethod="reflect"><stop offset="0.0000" stop-color="#f8ff07"/><stop offset="0.0300" stop-color="#fdff02"/><stop offset="0.0600" stop-color="#ffe900"/><stop offset="0.1986" stop-color="#ffe700"/><stop offset="0.3164" stop-color="#ffe800"/><stop offset="0.4550" stop-color="#ffb400"/><stop offset="0.5196" stop-color="#ffac00"/><stop offset="0.5982" stop-color="#ffba00"/><stop offset="0.6882" stop-color="#ffde00"/><stop offset="0.7436" stop-color="#fdff02"/><stop offset="0.8822" stop-color="#8dff72"/><stop offset="0.9607" stop-color="#54ffab"/><stop offset="0.9954" stop-color="#2bffd4"/><stop offset="1.0000" stop-color="#25ffda"/></linearGradient><linearGradient id="hb85" gradientUnits="userSpaceOnUse" x1="1890.95" y1="0" x2="1458.40" y2="0" spreadMethod="reflect"><stop offset="0.0000" stop-color="#f6ff09"/><stop offset="0.0323" stop-color="#fcff03"/><stop offset="0.0416" stop-color="#fffa00"/><stop offset="0.0600" stop-color="#ffed00"/><stop offset="0.1986" stop-color="#ffeb00"/><stop offset="0.3164" stop-color="#ffeb00"/><stop offset="0.4550" stop-color="#ffb900"/><stop offset="0.5219" stop-color="#ffb100"/><stop offset="0.6028" stop-color="#ffc000"/><stop offset="0.6905" stop-color="#ffe300"/><stop offset="0.7390" stop-color="#fdff02"/><stop offset="0.8776" stop-color="#8fff70"/><stop offset="0.9607" stop-color="#53ffac"/><stop offset="1.0000" stop-color="#25ffda"/></linearGradient><linearGradient id="hb86" gradientUnits="userSpaceOnUse" x1="1890.95" y1="0" x2="1458.40" y2="0" spreadMethod="reflect"><stop offset="0.0000" stop-color="#f5ff0a"/><stop offset="0.0323" stop-color="#faff05"/><stop offset="0.0439" stop-color="#fffa00"/><stop offset="0.0647" stop-color="#ffef00"/><stop offset="0.2032" stop-color="#ffef00"/><stop offset="0.3164" stop-color="#ffee00"/><stop offset="0.4550" stop-color="#ffbd00"/><stop offset="0.5219" stop-color="#ffb600"/><stop offset="0.6051" stop-color="#ffc400"/><stop offset="0.6882" stop-color="#ffe500"/><stop offset="0.7344" stop-color="#fdff02"/><stop offset="0.8730" stop-color="#91ff6e"/><stop offset="0.9584" stop-color="#55ffaa"/><stop offset="0.9977" stop-color="#28ffd7"/><stop offset="1.0000" stop-color="#24ffdb"/></linearGradient><linearGradient id="hb87" gradientUnits="userSpaceOnUse" x1="1890.95" y1="0" x2="1458.40" y2="0" spreadMethod="reflect"><stop offset="0.0000" stop-color="#f5ff0a"/><stop offset="0.0323" stop-color="#f9ff06"/><stop offset="0.0462" stop-color="#fffa00"/><stop offset="0.0716" stop-color="#fff200"/><stop offset="0.2102" stop-color="#fff200"/><stop offset="0.3164" stop-color="#fff100"/><stop offset="0.4550" stop-color="#ffc200"/><stop offset="0.5242" stop-color="#ffbb00"/><stop offset="0.6097" stop-color="#ffca00"/><stop offset="0.6905" stop-color="#ffe900"/><stop offset="0.7298" stop-color="#fdff02"/><stop offset="0.8684" stop-color="#93ff6c"/><stop offset="0.9584" stop-color="#54ffab"/><stop offset="1.0000" stop-color="#24ffdb"/></linearGradient><linearGradient id="hb88" gradientUnits="userSpaceOnUse" x1="1890.95" y1="0" x2="1458.40" y2="0" spreadMethod="reflect"><stop offset="0.0000" stop-color="#f4ff0b"/><stop offset="0.0346" stop-color="#f9ff06"/><stop offset="0.0485" stop-color="#fffb00"/><stop offset="0.0808" stop-color="#fff600"/><stop offset="0.2194" stop-color="#fff600"/><stop offset="0.3187" stop-color="#fff300"/><stop offset="0.4573" stop-color="#ffc600"/><stop offset="0.5289" stop-color="#ffc000"/><stop offset="0.6166" stop-color="#ffcf00"/><stop offset="0.6928" stop-color="#ffee00"/><stop offset="0.7252" stop-color="#fdff02"/><stop offset="0.8637" stop-color="#95ff6a"/><stop offset="0.9561" stop-color="#56ffa9"/><stop offset="1.0000" stop-color="#24ffdb"/></linearGradient><linearGradient id="hb89" gradientUnits="userSpaceOnUse" x1="1890.95" y1="0" x2="1458.40" y2="0" spreadMethod="reflect"><stop offset="0.0000" stop-color="#f3ff0c"/><stop offset="0.0346" stop-color="#f8ff07"/><stop offset="0.0508" stop-color="#fffc00"/><stop offset="0.1016" stop-color="#fff800"/><stop offset="0.2402" stop-color="#fff800"/><stop offset="0.3233" stop-color="#fff400"/><stop offset="0.4619" stop-color="#ffc900"/><stop offset="0.5335" stop-color="#ffc400"/><stop offset="0.6236" stop-color="#ffd500"/><stop offset="0.6975" stop-color="#fff300"/><stop offset="0.7206" stop-color="#fcff03"/><stop offset="0.8591" stop-color="#96ff69"/><stop offset="0.9538" stop-color="#57ffa8"/><stop offset="0.9954" stop-color="#29ffd6"/><stop offset="1.0000" stop-color="#23ffdc"/></linearGradient><linearGradient id="hb90" gradientUnits="userSpaceOnUse" x1="1890.95" y1="0" x2="1458.40" y2="0" spreadMethod="reflect"><stop offset="0.0000" stop-color="#f2ff0d"/><stop offset="0.0346" stop-color="#f7ff08"/><stop offset="0.0531" stop-color="#fffc00"/><stop offset="0.1640" stop-color="#fff900"/><stop offset="0.3025" stop-color="#fff800"/><stop offset="0.3788" stop-color="#ffe600"/><stop offset="0.4758" stop-color="#ffcb00"/><stop offset="0.5497" stop-color="#ffca00"/><stop offset="0.6420" stop-color="#ffde00"/><stop offset="0.7136" stop-color="#feff01"/><stop offset="0.8522" stop-color="#99ff66"/><stop offset="0.9538" stop-color="#57ffa8"/><stop offset="0.9977" stop-color="#26ffd9"/><stop offset="1.0000" stop-color="#23ffdc"/></linearGradient><linearGradient id="hb91" gradientUnits="userSpaceOnUse" x1="1890.95" y1="0" x2="1458.40" y2="0" spreadMethod="reflect"><stop offset="0.0000" stop-color="#f2ff0d"/><stop offset="0.0346" stop-color="#f6ff09"/><stop offset="0.0531" stop-color="#fffd00"/><stop offset="0.1686" stop-color="#fffa00"/><stop offset="0.3072" stop-color="#fff900"/><stop offset="0.3926" stop-color="#ffe400"/><stop offset="0.4850" stop-color="#ffcf00"/><stop offset="0.5612" stop-color="#ffd000"/><stop offset="0.6536" stop-color="#ffe600"/><stop offset="0.7090" stop-color="#fdff02"/><stop offset="0.8476" stop-color="#9aff65"/><stop offset="0.9515" stop-color="#58ffa7"/><stop offset="0.9931" stop-color="#2bffd4"/><stop offset="1.0000" stop-color="#22ffdd"/></linearGradient><linearGradient id="hb92" gradientUnits="userSpaceOnUse" x1="1890.95" y1="0" x2="1458.40" y2="0" spreadMethod="reflect"><stop offset="0.0000" stop-color="#f1ff0e"/><stop offset="0.0346" stop-color="#f5ff0a"/><stop offset="0.0554" stop-color="#fffd00"/><stop offset="0.1940" stop-color="#fffb00"/><stop offset="0.3233" stop-color="#fff900"/><stop offset="0.4619" stop-color="#ffd600"/><stop offset="0.5404" stop-color="#ffd200"/><stop offset="0.6328" stop-color="#ffe300"/><stop offset="0.7044" stop-color="#fdff02"/><stop offset="0.8430" stop-color="#9cff63"/><stop offset="0.9492" stop-color="#59ffa6"/><stop offset="0.9908" stop-color="#2dffd2"/><stop offset="1.0000" stop-color="#21ffde"/></linearGradient><linearGradient id="hb93" gradientUnits="userSpaceOnUse" x1="1890.95" y1="0" x2="1458.40" y2="0" spreadMethod="reflect"><stop offset="0.0000" stop-color="#f0ff0f"/><stop offset="0.0370" stop-color="#f6ff09"/><stop offset="0.0577" stop-color="#fffe00"/><stop offset="0.1963" stop-color="#fffc00"/><stop offset="0.3256" stop-color="#fffa00"/><stop offset="0.4642" stop-color="#ffda00"/><stop offset="0.5427" stop-color="#ffd600"/><stop offset="0.6351" stop-color="#ffe700"/><stop offset="0.6998" stop-color="#fcff03"/><stop offset="0.8383" stop-color="#9dff62"/><stop offset="0.9492" stop-color="#59ffa6"/><stop offset="0.9885" stop-color="#30ffcf"/><stop offset="1.0000" stop-color="#21ffde"/></linearGradient><linearGradient id="hb94" gradientUnits="userSpaceOnUse" x1="1890.95" y1="0" x2="1458.40" y2="0" spreadMethod="reflect"><stop offset="0.0000" stop-color="#efff10"/><stop offset="0.0370" stop-color="#f5ff0a"/><stop offset="0.0624" stop-color="#fffe00"/><stop offset="0.2009" stop-color="#fffd00"/><stop offset="0.3303" stop-color="#fffb00"/><stop offset="0.4688" stop-color="#ffdd00"/><stop offset="0.5497" stop-color="#ffda00"/><stop offset="0.6420" stop-color="#ffec00"/><stop offset="0.6928" stop-color="#fdff02"/><stop offset="0.8314" stop-color="#9fff60"/><stop offset="0.9492" stop-color="#58ffa7"/><stop offset="0.9885" stop-color="#2fffd0"/><stop offset="1.0000" stop-color="#20ffdf"/></linearGradient><linearGradient id="hb95" gradientUnits="userSpaceOnUse" x1="1890.95" y1="0" x2="1458.40" y2="0" spreadMethod="reflect"><stop offset="0.0000" stop-color="#efff10"/><stop offset="0.0370" stop-color="#f4ff0b"/><stop offset="0.0647" stop-color="#ffff00"/><stop offset="0.2032" stop-color="#fffe00"/><stop offset="0.3326" stop-color="#fffc00"/><stop offset="0.4711" stop-color="#ffe000"/><stop offset="0.5543" stop-color="#ffdf00"/><stop offset="0.6467" stop-color="#fff100"/><stop offset="0.6882" stop-color="#fcff03"/><stop offset="0.8268" stop-color="#a0ff5f"/><stop offset="0.9492" stop-color="#58ffa7"/><stop offset="0.9861" stop-color="#31ffce"/><stop offset="1.0000" stop-color="#1fffe0"/></linearGradient><linearGradient id="hb96" gradientUnits="userSpaceOnUse" x1="1890.95" y1="0" x2="1458.40" y2="0" spreadMethod="reflect"><stop offset="0.0000" stop-color="#eeff11"/><stop offset="0.0370" stop-color="#f3ff0c"/><stop offset="0.0647" stop-color="#feff01"/><stop offset="0.2032" stop-color="#ffff00"/><stop offset="0.3418" stop-color="#fffc00"/><stop offset="0.4804" stop-color="#ffe300"/><stop offset="0.5658" stop-color="#ffe300"/><stop offset="0.6559" stop-color="#fff700"/><stop offset="0.6836" stop-color="#fbff04"/><stop offset="0.7621" stop-color="#c9ff36"/><stop offset="0.8799" stop-color="#80ff7f"/><stop offset="0.9492" stop-color="#57ffa8"/><stop offset="0.9861" stop-color="#30ffcf"/><stop offset="1.0000" stop-color="#1effe1"/></linearGradient><linearGradient id="hb97" gradientUnits="userSpaceOnUse" x1="1890.95" y1="0" x2="1458.40" y2="0" spreadMethod="reflect"><stop offset="0.0000" stop-color="#edff12"/><stop offset="0.0370" stop-color="#f2ff0d"/><stop offset="0.0670" stop-color="#fdff02"/><stop offset="0.2055" stop-color="#feff01"/><stop offset="0.3441" stop-color="#fffe00"/><stop offset="0.4827" stop-color="#ffe600"/><stop offset="0.5704" stop-color="#ffe700"/><stop offset="0.6744" stop-color="#fcff03"/><stop offset="0.7483" stop-color="#d1ff2e"/><stop offset="0.8684" stop-color="#85ff7a"/><stop offset="0.9469" stop-color="#59ffa6"/><stop offset="0.9815" stop-color="#36ffc9"/><stop offset="1.0000" stop-color="#1dffe2"/></linearGradient><linearGradient id="hb98" gradientUnits="userSpaceOnUse" x1="1890.95" y1="0" x2="1458.40" y2="0" spreadMethod="reflect"><stop offset="0.0000" stop-color="#edff12"/><stop offset="0.0370" stop-color="#f2ff0d"/><stop offset="0.0670" stop-color="#fcff03"/><stop offset="0.2055" stop-color="#fdff02"/><stop offset="0.3441" stop-color="#ffff00"/><stop offset="0.4827" stop-color="#ffea00"/><stop offset="0.5727" stop-color="#ffeb00"/><stop offset="0.6651" stop-color="#fdff02"/><stop offset="0.7344" stop-color="#d7ff28"/><stop offset="0.8614" stop-color="#88ff77"/><stop offset="0.9469" stop-color="#58ffa7"/><stop offset="0.9792" stop-color="#38ffc7"/><stop offset="1.0000" stop-color="#1cffe3"/></linearGradient><linearGradient id="hb99" gradientUnits="userSpaceOnUse" x1="1890.95" y1="0" x2="1458.40" y2="0" spreadMethod="reflect"><stop offset="0.0000" stop-color="#edff12"/><stop offset="0.0393" stop-color="#f2ff0d"/><stop offset="0.0693" stop-color="#fbff04"/><stop offset="0.2079" stop-color="#fbff04"/><stop offset="0.3464" stop-color="#fdff02"/><stop offset="0.4850" stop-color="#ffed00"/><stop offset="0.5751" stop-color="#ffef00"/><stop offset="0.6582" stop-color="#fdff02"/><stop offset="0.7275" stop-color="#d9ff26"/><stop offset="0.8614" stop-color="#86ff79"/><stop offset="0.9469" stop-color="#57ffa8"/><stop offset="0.9792" stop-color="#37ffc8"/><stop offset="1.0000" stop-color="#1bffe4"/></linearGradient><linearGradient id="hb100" gradientUnits="userSpaceOnUse" x1="1890.95" y1="0" x2="1458.40" y2="0" spreadMethod="reflect"><stop offset="0.0000" stop-color="#edff12"/><stop offset="0.0393" stop-color="#f2ff0d"/><stop offset="0.0716" stop-color="#faff05"/><stop offset="0.2102" stop-color="#faff05"/><stop offset="0.3487" stop-color="#fcff03"/><stop offset="0.4203" stop-color="#fff800"/><stop offset="0.5266" stop-color="#ffee00"/><stop offset="0.6189" stop-color="#fff900"/><stop offset="0.6536" stop-color="#fbff04"/><stop offset="0.7229" stop-color="#d9ff26"/><stop offset="0.8614" stop-color="#85ff7a"/><stop offset="0.9469" stop-color="#56ffa9"/><stop offset="0.9792" stop-color="#36ffc9"/><stop offset="1.0000" stop-color="#1affe5"/></linearGradient><linearGradient id="hb101" gradientUnits="userSpaceOnUse" x1="1890.95" y1="0" x2="1458.40" y2="0" spreadMethod="reflect"><stop offset="0.0000" stop-color="#edff12"/><stop offset="0.0393" stop-color="#f1ff0e"/><stop offset="0.0716" stop-color="#f9ff06"/><stop offset="0.2102" stop-color="#f9ff06"/><stop offset="0.3487" stop-color="#fbff04"/><stop offset="0.4180" stop-color="#fffb00"/><stop offset="0.5289" stop-color="#fff200"/><stop offset="0.6397" stop-color="#fcff03"/><stop offset="0.7067" stop-color="#e0ff1f"/><stop offset="0.8453" stop-color="#8dff72"/><stop offset="0.9446" stop-color="#57ffa8"/><stop offset="0.9769" stop-color="#38ffc7"/><stop offset="1.0000" stop-color="#19ffe6"/></linearGradient><linearGradient id="hb102" gradientUnits="userSpaceOnUse" x1="1890.95" y1="0" x2="1458.40" y2="0" spreadMethod="reflect"><stop offset="0.0000" stop-color="#ecff13"/><stop offset="0.0416" stop-color="#f2ff0d"/><stop offset="0.0785" stop-color="#f8ff07"/><stop offset="0.2171" stop-color="#f8ff07"/><stop offset="0.3557" stop-color="#faff05"/><stop offset="0.4365" stop-color="#fffb00"/><stop offset="0.5427" stop-color="#fff500"/><stop offset="0.6282" stop-color="#fcff03"/><stop offset="0.6975" stop-color="#e2ff1d"/><stop offset="0.8360" stop-color="#90ff6f"/><stop offset="0.9446" stop-color="#55ffaa"/><stop offset="0.9769" stop-color="#37ffc8"/><stop offset="1.0000" stop-color="#18ffe7"/></linearGradient><linearGradient id="hb103" gradientUnits="userSpaceOnUse" x1="1890.95" y1="0" x2="1458.40" y2="0" spreadMethod="reflect"><stop offset="0.0000" stop-color="#ecff13"/><stop offset="0.0416" stop-color="#f1ff0e"/><stop offset="0.0808" stop-color="#f7ff08"/><stop offset="0.2194" stop-color="#f7ff08"/><stop offset="0.3580" stop-color="#f9ff06"/><stop offset="0.4527" stop-color="#fffb00"/><stop offset="0.5543" stop-color="#fff900"/><stop offset="0.6189" stop-color="#fcff03"/><stop offset="0.6905" stop-color="#e3ff1c"/><stop offset="0.8291" stop-color="#93ff6c"/><stop offset="0.9423" stop-color="#56ffa9"/><stop offset="0.9769" stop-color="#35ffca"/><stop offset="1.0000" stop-color="#17ffe8"/></linearGradient><linearGradient id="hb104" gradientUnits="userSpaceOnUse" x1="1890.95" y1="0" x2="1458.40" y2="0" spreadMethod="reflect"><stop offset="0.0000" stop-color="#ecff13"/><stop offset="0.0878" stop-color="#f6ff09"/><stop offset="0.2263" stop-color="#f6ff09"/><stop offset="0.3649" stop-color="#f8ff07"/><stop offset="0.4758" stop-color="#fffb00"/><stop offset="0.5727" stop-color="#fffd00"/><stop offset="0.6420" stop-color="#f3ff0c"/><stop offset="0.7136" stop-color="#d5ff2a"/><stop offset="0.8522" stop-color="#85ff7a"/><stop offset="0.9423" stop-color="#54ffab"/><stop offset="0.9792" stop-color="#31ffce"/><stop offset="1.0000" stop-color="#16ffe9"/></linearGradient><linearGradient id="hb105" gradientUnits="userSpaceOnUse" x1="1890.95" y1="0" x2="1458.40" y2="0" spreadMethod="reflect"><stop offset="0.0000" stop-color="#ecff13"/><stop offset="0.0901" stop-color="#f5ff0a"/><stop offset="0.2286" stop-color="#f5ff0a"/><stop offset="0.3672" stop-color="#f6ff09"/><stop offset="0.4965" stop-color="#fffd00"/><stop offset="0.5889" stop-color="#fcff03"/><stop offset="0.6721" stop-color="#e6ff19"/><stop offset="0.7691" stop-color="#b2ff4d"/><stop offset="0.9076" stop-color="#68ff97"/><stop offset="0.9584" stop-color="#45ffba"/><stop offset="1.0000" stop-color="#16ffe9"/></linearGradient><linearGradient id="hb106" gradientUnits="userSpaceOnUse" x1="1890.95" y1="0" x2="1458.40" y2="0" spreadMethod="reflect"><stop offset="0.0000" stop-color="#ebff14"/><stop offset="0.0947" stop-color="#f4ff0b"/><stop offset="0.2333" stop-color="#f4ff0b"/><stop offset="0.3718" stop-color="#f5ff0a"/><stop offset="0.5104" stop-color="#ffff00"/><stop offset="0.6051" stop-color="#f6ff09"/><stop offset="0.6836" stop-color="#deff21"/><stop offset="0.8222" stop-color="#93ff6c"/><stop offset="0.9353" stop-color="#56ffa9"/><stop offset="0.9769" stop-color="#30ffcf"/><stop offset="1.0000" stop-color="#15ffea"/></linearGradient><linearGradient id="hb107" gradientUnits="userSpaceOnUse" x1="1890.95" y1="0" x2="1458.40" y2="0" spreadMethod="reflect"><stop offset="0.0000" stop-color="#ebff14"/><stop offset="0.0993" stop-color="#f3ff0c"/><stop offset="0.2379" stop-color="#f3ff0c"/><stop offset="0.3764" stop-color="#f4ff0b"/><stop offset="0.5150" stop-color="#fdff02"/><stop offset="0.6097" stop-color="#f3ff0c"/><stop offset="0.6882" stop-color="#daff25"/><stop offset="0.8268" stop-color="#8fff70"/><stop offset="0.9353" stop-color="#54ffab"/><stop offset="0.9792" stop-color="#2cffd3"/><stop offset="1.0000" stop-color="#14ffeb"/></linearGradient><linearGradient id="hb108" gradientUnits="userSpaceOnUse" x1="1890.95" y1="0" x2="1458.40" y2="0" spreadMethod="reflect"><stop offset="0.0000" stop-color="#ebff14"/><stop offset="0.1062" stop-color="#f2ff0d"/><stop offset="0.2448" stop-color="#f2ff0d"/><stop offset="0.3834" stop-color="#f3ff0c"/><stop offset="0.5219" stop-color="#faff05"/><stop offset="0.6166" stop-color="#efff10"/><stop offset="0.6975" stop-color="#d3ff2c"/><stop offset="0.8360" stop-color="#89ff76"/><stop offset="0.9330" stop-color="#54ffab"/><stop offset="0.9792" stop-color="#2affd5"/><stop offset="1.0000" stop-color="#13ffec"/></linearGradient><linearGradient id="hb109" gradientUnits="userSpaceOnUse" x1="1890.95" y1="0" x2="1458.40" y2="0" spreadMethod="reflect"><stop offset="0.0000" stop-color="#ebff14"/><stop offset="0.1178" stop-color="#f1ff0e"/><stop offset="0.2564" stop-color="#f0ff0f"/><stop offset="0.3949" stop-color="#f3ff0c"/><stop offset="0.5335" stop-color="#f8ff07"/><stop offset="0.6282" stop-color="#eaff15"/><stop offset="0.7090" stop-color="#ccff33"/><stop offset="0.8476" stop-color="#82ff7d"/><stop offset="0.9330" stop-color="#52ffad"/><stop offset="0.9815" stop-color="#26ffd9"/><stop offset="1.0000" stop-color="#11ffee"/></linearGradient><linearGradient id="hb110" gradientUnits="userSpaceOnUse" x1="1890.95" y1="0" x2="1458.40" y2="0" spreadMethod="reflect"><stop offset="0.0000" stop-color="#ebff14"/><stop offset="0.1363" stop-color="#f0ff0f"/><stop offset="0.2748" stop-color="#efff10"/><stop offset="0.4134" stop-color="#f2ff0d"/><stop offset="0.5450" stop-color="#f5ff0a"/><stop offset="0.6397" stop-color="#e4ff1b"/><stop offset="0.7252" stop-color="#c1ff3e"/><stop offset="0.8637" stop-color="#78ff87"/><stop offset="0.9376" stop-color="#4dffb2"/><stop offset="0.9954" stop-color="#15ffea"/><stop offset="1.0000" stop-color="#10ffef"/></linearGradient><linearGradient id="hb111" gradientUnits="userSpaceOnUse" x1="1890.95" y1="0" x2="1458.40" y2="0" spreadMethod="reflect"><stop offset="0.0000" stop-color="#eaff15"/><stop offset="0.1386" stop-color="#efff10"/><stop offset="0.2771" stop-color="#eeff11"/><stop offset="0.4157" stop-color="#f1ff0e"/><stop offset="0.5450" stop-color="#f3ff0c"/><stop offset="0.6397" stop-color="#e2ff1d"/><stop offset="0.7275" stop-color="#beff41"/><stop offset="0.8661" stop-color="#76ff89"/><stop offset="0.9376" stop-color="#4bffb4"/><stop offset="1.0000" stop-color="#0ffff0"/></linearGradient><linearGradient id="hb112" gradientUnits="userSpaceOnUse" x1="1890.95" y1="0" x2="1458.40" y2="0" spreadMethod="reflect"><stop offset="0.0000" stop-color="#eaff15"/><stop offset="0.1386" stop-color="#eeff11"/><stop offset="0.2771" stop-color="#edff12"/><stop offset="0.4157" stop-color="#f0ff0f"/><stop offset="0.5473" stop-color="#f1ff0e"/><stop offset="0.6443" stop-color="#deff21"/><stop offset="0.7344" stop-color="#b9ff46"/><stop offset="0.8730" stop-color="#71ff8e"/><stop offset="0.9400" stop-color="#47ffb8"/><stop offset="1.0000" stop-color="#0efff1"/></linearGradient><linearGradient id="hb113" gradientUnits="userSpaceOnUse" x1="1890.95" y1="0" x2="1458.40" y2="0" spreadMethod="reflect"><stop offset="0.0000" stop-color="#e9ff16"/><stop offset="0.1386" stop-color="#ecff13"/><stop offset="0.2771" stop-color="#ecff13"/><stop offset="0.4157" stop-color="#efff10"/><stop offset="0.5473" stop-color="#efff10"/><stop offset="0.6443" stop-color="#dcff23"/><stop offset="0.7367" stop-color="#b6ff49"/><stop offset="0.8753" stop-color="#6eff91"/><stop offset="0.9423" stop-color="#44ffbb"/><stop offset="1.0000" stop-color="#0dfff2"/></linearGradient><linearGradient id="hb114" gradientUnits="userSpaceOnUse" x1="1890.95" y1="0" x2="1458.40" y2="0" spreadMethod="reflect"><stop offset="0.0000" stop-color="#e8ff17"/><stop offset="0.1386" stop-color="#ebff14"/><stop offset="0.2771" stop-color="#ebff14"/><stop offset="0.4157" stop-color="#edff12"/><stop offset="0.5473" stop-color="#edff12"/><stop offset="0.6467" stop-color="#d9ff26"/><stop offset="0.7413" stop-color="#b2ff4d"/><stop offset="0.8799" stop-color="#6aff95"/><stop offset="0.9446" stop-color="#40ffbf"/><stop offset="1.0000" stop-color="#0bfff4"/></linearGradient><linearGradient id="hb115" gradientUnits="userSpaceOnUse" x1="1890.95" y1="0" x2="1458.40" y2="0" spreadMethod="reflect"><stop offset="0.0000" stop-color="#e8ff17"/><stop offset="0.1386" stop-color="#eaff15"/><stop offset="0.2771" stop-color="#eaff15"/><stop offset="0.4157" stop-color="#ecff13"/><stop offset="0.5450" stop-color="#ebff14"/><stop offset="0.6443" stop-color="#d8ff27"/><stop offset="0.7390" stop-color="#b2ff4d"/><stop offset="0.8776" stop-color="#6aff95"/><stop offset="0.9446" stop-color="#3effc1"/><stop offset="1.0000" stop-color="#0afff5"/></linearGradient><linearGradient id="hb116" gradientUnits="userSpaceOnUse" x1="1890.95" y1="0" x2="1458.40" y2="0" spreadMethod="reflect"><stop offset="0.0000" stop-color="#e7ff18"/><stop offset="0.1386" stop-color="#e9ff16"/><stop offset="0.2771" stop-color="#e9ff16"/><stop offset="0.4157" stop-color="#ebff14"/><stop offset="0.5450" stop-color="#e9ff16"/><stop offset="0.6467" stop-color="#d5ff2a"/><stop offset="0.7436" stop-color="#aeff51"/><stop offset="0.8822" stop-color="#66ff99"/><stop offset="0.9469" stop-color="#3affc5"/><stop offset="1.0000" stop-color="#09fff6"/></linearGradient><linearGradient id="hb117" gradientUnits="userSpaceOnUse" x1="1890.95" y1="0" x2="1458.40" y2="0" spreadMethod="reflect"><stop offset="0.0000" stop-color="#e6ff19"/><stop offset="0.1386" stop-color="#e8ff17"/><stop offset="0.2771" stop-color="#e8ff17"/><stop offset="0.4157" stop-color="#eaff15"/><stop offset="0.5450" stop-color="#e8ff17"/><stop offset="0.6490" stop-color="#d2ff2d"/><stop offset="0.7483" stop-color="#aaff55"/><stop offset="0.8868" stop-color="#61ff9e"/><stop offset="0.9492" stop-color="#36ffc9"/><stop offset="1.0000" stop-color="#08fff7"/></linearGradient><linearGradient id="hb118" gradientUnits="userSpaceOnUse" x1="1890.95" y1="0" x2="1458.40" y2="0" spreadMethod="reflect"><stop offset="0.0000" stop-color="#e5ff1a"/><stop offset="0.1386" stop-color="#e7ff18"/><stop offset="0.2771" stop-color="#e7ff18"/><stop offset="0.4157" stop-color="#e9ff16"/><stop offset="0.5450" stop-color="#e6ff19"/><stop offset="0.6490" stop-color="#d0ff2f"/><stop offset="0.7483" stop-color="#a9ff56"/><stop offset="0.8868" stop-color="#60ff9f"/><stop offset="0.9515" stop-color="#32ffcd"/><stop offset="1.0000" stop-color="#06fff9"/></linearGradient><linearGradient id="hb119" gradientUnits="userSpaceOnUse" x1="1890.95" y1="0" x2="1458.40" y2="0" spreadMethod="reflect"><stop offset="0.0000" stop-color="#e4ff1b"/><stop offset="0.1386" stop-color="#e6ff19"/><stop offset="0.2771" stop-color="#e6ff19"/><stop offset="0.4157" stop-color="#e7ff18"/><stop offset="0.5427" stop-color="#e5ff1a"/><stop offset="0.6490" stop-color="#ceff31"/><stop offset="0.7483" stop-color="#a7ff58"/><stop offset="0.8868" stop-color="#5effa1"/><stop offset="0.9538" stop-color="#2effd1"/><stop offset="1.0000" stop-color="#05fffa"/></linearGradient><linearGradient id="hb120" gradientUnits="userSpaceOnUse" x1="1890.95" y1="0" x2="1458.40" y2="0" spreadMethod="reflect"><stop offset="0.0000" stop-color="#e3ff1c"/><stop offset="0.1386" stop-color="#e5ff1a"/><stop offset="0.2771" stop-color="#e5ff1a"/><stop offset="0.4157" stop-color="#e6ff19"/><stop offset="0.5427" stop-color="#e3ff1c"/><stop offset="0.6513" stop-color="#ccff33"/><stop offset="0.7506" stop-color="#a5ff5a"/><stop offset="0.8891" stop-color="#5bffa4"/><stop offset="0.9584" stop-color="#28ffd7"/><stop offset="1.0000" stop-color="#04fffb"/></linearGradient><linearGradient id="hb121" gradientUnits="userSpaceOnUse" x1="1890.95" y1="0" x2="1458.40" y2="0" spreadMethod="reflect"><stop offset="0.0000" stop-color="#e2ff1d"/><stop offset="0.1386" stop-color="#e4ff1b"/><stop offset="0.2771" stop-color="#e4ff1b"/><stop offset="0.4157" stop-color="#e5ff1a"/><stop offset="0.5404" stop-color="#e2ff1d"/><stop offset="0.6513" stop-color="#caff35"/><stop offset="0.7506" stop-color="#a3ff5c"/><stop offset="0.8891" stop-color="#59ffa6"/><stop offset="0.9607" stop-color="#24ffdb"/><stop offset="1.0000" stop-color="#03fffc"/></linearGradient><linearGradient id="hb122" gradientUnits="userSpaceOnUse" x1="1890.95" y1="0" x2="1458.40" y2="0" spreadMethod="reflect"><stop offset="0.0000" stop-color="#e1ff1e"/><stop offset="0.1386" stop-color="#e3ff1c"/><stop offset="0.2771" stop-color="#e3ff1c"/><stop offset="0.4157" stop-color="#e4ff1b"/><stop offset="0.5404" stop-color="#e1ff1e"/><stop offset="0.6536" stop-color="#c8ff37"/><stop offset="0.7506" stop-color="#a2ff5d"/><stop offset="0.8891" stop-color="#57ffa8"/><stop offset="0.9677" stop-color="#1dffe2"/><stop offset="1.0000" stop-color="#02fffd"/></linearGradient><linearGradient id="hb123" gradientUnits="userSpaceOnUse" x1="1890.95" y1="0" x2="1458.40" y2="0" spreadMethod="reflect"><stop offset="0.0000" stop-color="#e1ff1e"/><stop offset="0.1386" stop-color="#e2ff1d"/><stop offset="0.2771" stop-color="#e2ff1d"/><stop offset="0.4157" stop-color="#e3ff1c"/><stop offset="0.5381" stop-color="#dfff20"/><stop offset="0.6513" stop-color="#c7ff38"/><stop offset="0.7483" stop-color="#a1ff5e"/><stop offset="0.8868" stop-color="#56ffa9"/><stop offset="0.9723" stop-color="#17ffe8"/><stop offset="1.0000" stop-color="#01fffe"/></linearGradient><linearGradient id="hb124" gradientUnits="userSpaceOnUse" x1="1890.95" y1="0" x2="1458.40" y2="0" spreadMethod="reflect"><stop offset="0.0000" stop-color="#e0ff1f"/><stop offset="0.1386" stop-color="#e1ff1e"/><stop offset="0.2771" stop-color="#e1ff1e"/><stop offset="0.4157" stop-color="#e2ff1d"/><stop offset="0.5381" stop-color="#deff21"/><stop offset="0.6559" stop-color="#c4ff3b"/><stop offset="0.7529" stop-color="#9eff61"/><stop offset="0.8915" stop-color="#52ffad"/><stop offset="1.0000" stop-color="#00ffff"/></linearGradient><linearGradient id="hb125" gradientUnits="userSpaceOnUse" x1="1890.95" y1="0" x2="1458.40" y2="0" spreadMethod="reflect"><stop offset="0.0000" stop-color="#dfff20"/><stop offset="0.1386" stop-color="#dfff20"/><stop offset="0.2771" stop-color="#dfff20"/><stop offset="0.4157" stop-color="#e1ff1e"/><stop offset="0.5358" stop-color="#ddff22"/><stop offset="0.6536" stop-color="#c3ff3c"/><stop offset="0.7483" stop-color="#9eff61"/><stop offset="0.8868" stop-color="#53ffac"/><stop offset="1.0000" stop-color="#00feff"/></linearGradient><linearGradient id="hb126" gradientUnits="userSpaceOnUse" x1="1890.95" y1="0" x2="1458.40" y2="0" spreadMethod="reflect"><stop offset="0.0000" stop-color="#deff21"/><stop offset="0.1386" stop-color="#deff21"/><stop offset="0.2771" stop-color="#deff21"/><stop offset="0.4157" stop-color="#e0ff1f"/><stop offset="0.5335" stop-color="#dcff23"/><stop offset="0.6536" stop-color="#c1ff3e"/><stop offset="0.7483" stop-color="#9dff62"/><stop offset="0.8868" stop-color="#51ffae"/><stop offset="1.0000" stop-color="#00fdff"/></linearGradient><linearGradient id="hb127" gradientUnits="userSpaceOnUse" x1="1890.95" y1="0" x2="1458.40" y2="0" spreadMethod="reflect"><stop offset="0.0000" stop-color="#ddff22"/><stop offset="0.1386" stop-color="#ddff22"/><stop offset="0.2771" stop-color="#ddff22"/><stop offset="0.4157" stop-color="#dfff20"/><stop offset="0.5335" stop-color="#daff25"/><stop offset="0.6582" stop-color="#beff41"/><stop offset="0.7506" stop-color="#9aff65"/><stop offset="0.8891" stop-color="#4dffb2"/><stop offset="1.0000" stop-color="#00fdff"/></linearGradient><linearGradient id="hb128" gradientUnits="userSpaceOnUse" x1="1890.95" y1="0" x2="1458.40" y2="0" spreadMethod="reflect"><stop offset="0.0000" stop-color="#dcff23"/><stop offset="0.1386" stop-color="#dcff23"/><stop offset="0.2771" stop-color="#dcff23"/><stop offset="0.4157" stop-color="#deff21"/><stop offset="0.5312" stop-color="#d9ff26"/><stop offset="0.6582" stop-color="#bdff42"/><stop offset="0.7506" stop-color="#99ff66"/><stop offset="0.8891" stop-color="#4bffb4"/><stop offset="0.9977" stop-color="#00fdff"/><stop offset="1.0000" stop-color="#00fcff"/></linearGradient><linearGradient id="hb129" gradientUnits="userSpaceOnUse" x1="1890.95" y1="0" x2="1458.40" y2="0" spreadMethod="reflect"><stop offset="0.0000" stop-color="#dbff24"/><stop offset="0.1386" stop-color="#dbff24"/><stop offset="0.2771" stop-color="#daff25"/><stop offset="0.4157" stop-color="#ddff22"/><stop offset="0.5289" stop-color="#d8ff27"/><stop offset="0.6582" stop-color="#bbff44"/><stop offset="0.7483" stop-color="#98ff67"/><stop offset="0.8868" stop-color="#4affb5"/><stop offset="0.9977" stop-color="#00fcff"/><stop offset="1.0000" stop-color="#00fbff"/></linearGradient><linearGradient id="hb130" gradientUnits="userSpaceOnUse" x1="1890.95" y1="0" x2="1458.40" y2="0" spreadMethod="reflect"><stop offset="0.0000" stop-color="#daff25"/><stop offset="0.1386" stop-color="#daff25"/><stop offset="0.2771" stop-color="#d9ff26"/><stop offset="0.4157" stop-color="#dcff23"/><stop offset="0.5266" stop-color="#d7ff28"/><stop offset="0.6605" stop-color="#b9ff46"/><stop offset="0.7483" stop-color="#97ff68"/><stop offset="0.8868" stop-color="#48ffb7"/><stop offset="0.9954" stop-color="#00fdff"/><stop offset="1.0000" stop-color="#00faff"/></linearGradient><linearGradient id="hb131" gradientUnits="userSpaceOnUse" x1="1890.95" y1="0" x2="1458.40" y2="0" spreadMethod="reflect"><stop offset="0.0000" stop-color="#d8ff27"/><stop offset="0.1386" stop-color="#d8ff27"/><stop offset="0.2771" stop-color="#d8ff27"/><stop offset="0.4157" stop-color="#dbff24"/><stop offset="0.5242" stop-color="#d6ff29"/><stop offset="0.6628" stop-color="#b7ff48"/><stop offset="0.7506" stop-color="#94ff6b"/><stop offset="0.8891" stop-color="#44ffbb"/><stop offset="0.9931" stop-color="#00feff"/><stop offset="1.0000" stop-color="#00f9ff"/></linearGradient><linearGradient id="hb132" gradientUnits="userSpaceOnUse" x1="1890.95" y1="0" x2="1458.40" y2="0" spreadMethod="reflect"><stop offset="0.0000" stop-color="#d7ff28"/><stop offset="0.1386" stop-color="#d7ff28"/><stop offset="0.2771" stop-color="#d6ff29"/><stop offset="0.4157" stop-color="#d9ff26"/><stop offset="0.5219" stop-color="#d5ff2a"/><stop offset="0.6605" stop-color="#b6ff49"/><stop offset="0.7460" stop-color="#95ff6a"/><stop offset="0.8845" stop-color="#45ffba"/><stop offset="0.9908" stop-color="#00feff"/><stop offset="1.0000" stop-color="#00f8ff"/></linearGradient><linearGradient id="hb133" gradientUnits="userSpaceOnUse" x1="1890.95" y1="0" x2="1458.40" y2="0" spreadMethod="reflect"><stop offset="0.0000" stop-color="#d6ff29"/><stop offset="0.1386" stop-color="#d6ff29"/><stop offset="0.2771" stop-color="#d5ff2a"/><stop offset="0.4157" stop-color="#d8ff27"/><stop offset="0.5196" stop-color="#d4ff2b"/><stop offset="0.6582" stop-color="#b5ff4a"/><stop offset="0.7413" stop-color="#96ff69"/><stop offset="0.8799" stop-color="#46ffb9"/><stop offset="0.9885" stop-color="#00ffff"/><stop offset="1.0000" stop-color="#00f8ff"/></linearGradient><linearGradient id="hb134" gradientUnits="userSpaceOnUse" x1="1890.95" y1="0" x2="1458.40" y2="0" spreadMethod="reflect"><stop offset="0.0000" stop-color="#d4ff2b"/><stop offset="0.1386" stop-color="#d4ff2b"/><stop offset="0.2771" stop-color="#d3ff2c"/><stop offset="0.4157" stop-color="#d7ff28"/><stop offset="0.5196" stop-color="#d2ff2d"/><stop offset="0.6582" stop-color="#b3ff4c"/><stop offset="0.7390" stop-color="#95ff6a"/><stop offset="0.8776" stop-color="#45ffba"/><stop offset="0.9861" stop-color="#00ffff"/><stop offset="1.0000" stop-color="#00f7ff"/></linearGradient><linearGradient id="hb135" gradientUnits="userSpaceOnUse" x1="1890.95" y1="0" x2="1458.40" y2="0" spreadMethod="reflect"><stop offset="0.0000" stop-color="#d3ff2c"/><stop offset="0.1386" stop-color="#d3ff2c"/><stop offset="0.2771" stop-color="#d2ff2d"/><stop offset="0.4157" stop-color="#d6ff29"/><stop offset="0.5173" stop-color="#d1ff2e"/><stop offset="0.6559" stop-color="#b2ff4d"/><stop offset="0.7367" stop-color="#95ff6a"/><stop offset="0.8753" stop-color="#44ffbb"/><stop offset="0.9838" stop-color="#00ffff"/><stop offset="1.0000" stop-color="#00f6ff"/></linearGradient><linearGradient id="hb136" gradientUnits="userSpaceOnUse" x1="1890.95" y1="0" x2="1458.40" y2="0" spreadMethod="reflect"><stop offset="0.0000" stop-color="#d2ff2d"/><stop offset="0.1386" stop-color="#d2ff2d"/><stop offset="0.2771" stop-color="#d1ff2e"/><stop offset="0.4157" stop-color="#d5ff2a"/><stop offset="0.5150" stop-color="#d0ff2f"/><stop offset="0.6536" stop-color="#b1ff4e"/><stop offset="0.7321" stop-color="#95ff6a"/><stop offset="0.8707" stop-color="#44ffbb"/><stop offset="0.9815" stop-color="#00ffff"/><stop offset="1.0000" stop-color="#00f5ff"/></linearGradient><linearGradient id="hb137" gradientUnits="userSpaceOnUse" x1="1890.95" y1="0" x2="1458.40" y2="0" spreadMethod="reflect"><stop offset="0.0000" stop-color="#d0ff2f"/><stop offset="0.1386" stop-color="#d0ff2f"/><stop offset="0.2771" stop-color="#cfff30"/><stop offset="0.4157" stop-color="#d4ff2b"/><stop offset="0.5127" stop-color="#cfff30"/><stop offset="0.6513" stop-color="#b0ff4f"/><stop offset="0.7298" stop-color="#95ff6a"/><stop offset="0.8684" stop-color="#43ffbc"/><stop offset="0.9746" stop-color="#02fffd"/><stop offset="1.0000" stop-color="#00f5ff"/></linearGradient><linearGradient id="hb138" gradientUnits="userSpaceOnUse" x1="1890.95" y1="0" x2="1458.40" y2="0" spreadMethod="reflect"><stop offset="0.0000" stop-color="#cfff30"/><stop offset="0.1386" stop-color="#cfff30"/><stop offset="0.2771" stop-color="#ceff31"/><stop offset="0.4157" stop-color="#d2ff2d"/><stop offset="0.5127" stop-color="#cdff32"/><stop offset="0.6513" stop-color="#afff50"/><stop offset="0.7275" stop-color="#94ff6b"/><stop offset="0.8661" stop-color="#42ffbd"/><stop offset="0.9700" stop-color="#03fffc"/><stop offset="0.9977" stop-color="#00f5ff"/><stop offset="1.0000" stop-color="#00f4ff"/></linearGradient><linearGradient id="hb139" gradientUnits="userSpaceOnUse" x1="1890.95" y1="0" x2="1458.40" y2="0" spreadMethod="reflect"><stop offset="0.0000" stop-color="#ceff31"/><stop offset="0.1386" stop-color="#ceff31"/><stop offset="0.2771" stop-color="#cdff32"/><stop offset="0.4157" stop-color="#d1ff2e"/><stop offset="0.5104" stop-color="#cbff34"/><stop offset="0.6490" stop-color="#adff52"/><stop offset="0.7229" stop-color="#95ff6a"/><stop offset="0.8614" stop-color="#42ffbd"/><stop offset="0.9607" stop-color="#06fff9"/><stop offset="0.9815" stop-color="#00fcff"/><stop offset="1.0000" stop-color="#00f3ff"/></linearGradient><linearGradient id="hb140" gradientUnits="userSpaceOnUse" x1="1890.95" y1="0" x2="1458.40" y2="0" spreadMethod="reflect"><stop offset="0.0000" stop-color="#ccff33"/><stop offset="0.1386" stop-color="#ccff33"/><stop offset="0.2771" stop-color="#cbff34"/><stop offset="0.4157" stop-color="#d0ff2f"/><stop offset="0.5104" stop-color="#caff35"/><stop offset="0.6490" stop-color="#acff53"/><stop offset="0.7206" stop-color="#94ff6b"/><stop offset="0.8591" stop-color="#41ffbe"/><stop offset="0.9538" stop-color="#08fff7"/><stop offset="0.9792" stop-color="#00fcff"/><stop offset="1.0000" stop-color="#00f2ff"/></linearGradient><linearGradient id="hb141" gradientUnits="userSpaceOnUse" x1="1890.95" y1="0" x2="1458.40" y2="0" spreadMethod="reflect"><stop offset="0.0000" stop-color="#cbff34"/><stop offset="0.1386" stop-color="#cbff34"/><stop offset="0.2771" stop-color="#caff35"/><stop offset="0.4157" stop-color="#ceff31"/><stop offset="0.5081" stop-color="#c8ff37"/><stop offset="0.6467" stop-color="#aaff55"/><stop offset="0.7182" stop-color="#93ff6c"/><stop offset="0.8568" stop-color="#3fffc0"/><stop offset="0.9492" stop-color="#08fff7"/><stop offset="0.9746" stop-color="#00fcff"/><stop offset="1.0000" stop-color="#00f1ff"/></linearGradient><linearGradient id="hb142" gradientUnits="userSpaceOnUse" x1="1890.95" y1="0" x2="1458.40" y2="0" spreadMethod="reflect"><stop offset="0.0000" stop-color="#caff35"/><stop offset="0.1386" stop-color="#caff35"/><stop offset="0.2771" stop-color="#c9ff36"/><stop offset="0.4157" stop-color="#cdff32"/><stop offset="0.5081" stop-color="#c6ff39"/><stop offset="0.6351" stop-color="#aaff55"/><stop offset="0.7067" stop-color="#97ff68"/><stop offset="0.7921" stop-color="#66ff99"/><stop offset="0.9307" stop-color="#0ffff0"/><stop offset="0.9700" stop-color="#00fdff"/><stop offset="1.0000" stop-color="#00f0ff"/></linearGradient><linearGradient id="hb143" gradientUnits="userSpaceOnUse" x1="1890.95" y1="0" x2="1458.40" y2="0" spreadMethod="reflect"><stop offset="0.0000" stop-color="#c8ff37"/><stop offset="0.1386" stop-color="#c8ff37"/><stop offset="0.2771" stop-color="#c7ff38"/><stop offset="0.4157" stop-color="#ccff33"/><stop offset="0.5081" stop-color="#c4ff3b"/><stop offset="0.6212" stop-color="#aaff55"/><stop offset="0.6952" stop-color="#99ff66"/><stop offset="0.7621" stop-color="#76ff89"/><stop offset="0.9007" stop-color="#1dffe2"/><stop offset="0.9630" stop-color="#00feff"/><stop offset="1.0000" stop-color="#00efff"/></linearGradient><linearGradient id="hb144" gradientUnits="userSpaceOnUse" x1="1890.95" y1="0" x2="1458.40" y2="0" spreadMethod="reflect"><stop offset="0.0000" stop-color="#c8ff37"/><stop offset="0.1386" stop-color="#c8ff37"/><stop offset="0.2771" stop-color="#c7ff38"/><stop offset="0.4157" stop-color="#caff35"/><stop offset="0.5058" stop-color="#c2ff3d"/><stop offset="0.6120" stop-color="#a9ff56"/><stop offset="0.6882" stop-color="#9aff65"/><stop offset="0.7529" stop-color="#7aff85"/><stop offset="0.8915" stop-color="#20ffdf"/><stop offset="0.9561" stop-color="#00ffff"/><stop offset="1.0000" stop-color="#00edff"/></linearGradient><linearGradient id="hb145" gradientUnits="userSpaceOnUse" x1="1890.95" y1="0" x2="1458.40" y2="0" spreadMethod="reflect"><stop offset="0.0000" stop-color="#c7ff38"/><stop offset="0.1386" stop-color="#c7ff38"/><stop offset="0.2771" stop-color="#c6ff39"/><stop offset="0.4157" stop-color="#c9ff36"/><stop offset="0.5058" stop-color="#c0ff3f"/><stop offset="0.6074" stop-color="#a7ff58"/><stop offset="0.6836" stop-color="#9aff65"/><stop offset="0.7460" stop-color="#7cff83"/><stop offset="0.8845" stop-color="#22ffdd"/><stop offset="0.9492" stop-color="#00ffff"/><stop offset="1.0000" stop-color="#00ebff"/></linearGradient><linearGradient id="hb146" gradientUnits="userSpaceOnUse" x1="1890.95" y1="0" x2="1458.40" y2="0" spreadMethod="reflect"><stop offset="0.0000" stop-color="#c7ff38"/><stop offset="0.1386" stop-color="#c7ff38"/><stop offset="0.2771" stop-color="#c6ff39"/><stop offset="0.4157" stop-color="#c8ff37"/><stop offset="0.5058" stop-color="#beff41"/><stop offset="0.6028" stop-color="#a5ff5a"/><stop offset="0.6813" stop-color="#99ff66"/><stop offset="0.7436" stop-color="#7bff84"/><stop offset="0.8822" stop-color="#20ffdf"/><stop offset="0.9446" stop-color="#00ffff"/><stop offset="1.0000" stop-color="#00eaff"/></linearGradient><linearGradient id="hb147" gradientUnits="userSpaceOnUse" x1="1890.95" y1="0" x2="1458.40" y2="0" spreadMethod="reflect"><stop offset="0.0000" stop-color="#c6ff39"/><stop offset="0.1386" stop-color="#c6ff39"/><stop offset="0.2771" stop-color="#c5ff3a"/><stop offset="0.4157" stop-color="#c6ff39"/><stop offset="0.5035" stop-color="#bcff43"/><stop offset="0.6005" stop-color="#a2ff5d"/><stop offset="0.6790" stop-color="#98ff67"/><stop offset="0.7390" stop-color="#7bff84"/><stop offset="0.8776" stop-color="#20ffdf"/><stop offset="0.9400" stop-color="#00ffff"/><stop offset="1.0000" stop-color="#00e8ff"/></linearGradient><linearGradient id="hb148" gradientUnits="userSpaceOnUse" x1="1890.95" y1="0" x2="1458.40" y2="0" spreadMethod="reflect"><stop offset="0.0000" stop-color="#c6ff39"/><stop offset="0.1386" stop-color="#c6ff39"/><stop offset="0.2771" stop-color="#c5ff3a"/><stop offset="0.4157" stop-color="#c5ff3a"/><stop offset="0.5035" stop-color="#b9ff46"/><stop offset="0.5958" stop-color="#9fff60"/><stop offset="0.6767" stop-color="#97ff68"/><stop offset="0.7344" stop-color="#7bff84"/><stop offset="0.8730" stop-color="#20ffdf"/><stop offset="0.9353" stop-color="#00feff"/><stop offset="1.0000" stop-color="#00e6ff"/></linearGradient><linearGradient id="hb149" gradientUnits="userSpaceOnUse" x1="1890.95" y1="0" x2="1458.40" y2="0" spreadMethod="reflect"><stop offset="0.0000" stop-color="#c5ff3a"/><stop offset="0.1386" stop-color="#c5ff3a"/><stop offset="0.2771" stop-color="#c4ff3b"/><stop offset="0.4157" stop-color="#c3ff3c"/><stop offset="0.5035" stop-color="#b7ff48"/><stop offset="0.5935" stop-color="#9cff63"/><stop offset="0.6744" stop-color="#96ff69"/><stop offset="0.7298" stop-color="#7cff83"/><stop offset="0.8684" stop-color="#20ffdf"/><stop offset="0.9307" stop-color="#00feff"/><stop offset="1.0000" stop-color="#00e4ff"/></linearGradient><linearGradient id="hb150" gradientUnits="userSpaceOnUse" x1="1890.95" y1="0" x2="1458.40" y2="0" spreadMethod="reflect"><stop offset="0.0000" stop-color="#c5ff3a"/><stop offset="0.1386" stop-color="#c5ff3a"/><stop offset="0.2771" stop-color="#c4ff3b"/><stop offset="0.4157" stop-color="#c2ff3d"/><stop offset="0.5035" stop-color="#b4ff4b"/><stop offset="0.5935" stop-color="#99ff66"/><stop offset="0.6721" stop-color="#95ff6a"/><stop offset="0.7252" stop-color="#7cff83"/><stop offset="0.8637" stop-color="#1fffe0"/><stop offset="0.9238" stop-color="#00feff"/><stop offset="1.0000" stop-color="#00e2ff"/></linearGradient><linearGradient id="hb151" gradientUnits="userSpaceOnUse" x1="1890.95" y1="0" x2="1458.40" y2="0" spreadMethod="reflect"><stop offset="0.0000" stop-color="#c5ff3a"/><stop offset="0.1386" stop-color="#c5ff3a"/><stop offset="0.2771" stop-color="#c3ff3c"/><stop offset="0.4157" stop-color="#c0ff3f"/><stop offset="0.5035" stop-color="#b2ff4d"/><stop offset="0.5912" stop-color="#96ff69"/><stop offset="0.6697" stop-color="#93ff6c"/><stop offset="0.7206" stop-color="#7dff82"/><stop offset="0.8591" stop-color="#1fffe0"/><stop offset="0.9192" stop-color="#00feff"/><stop offset="1.0000" stop-color="#00e0ff"/></linearGradient><linearGradient id="hb152" gradientUnits="userSpaceOnUse" x1="1890.95" y1="0" x2="1458.40" y2="0" spreadMethod="reflect"><stop offset="0.0000" stop-color="#c4ff3b"/><stop offset="0.1386" stop-color="#c4ff3b"/><stop offset="0.2771" stop-color="#c3ff3c"/><stop offset="0.4157" stop-color="#bfff40"/><stop offset="0.5035" stop-color="#afff50"/><stop offset="0.5912" stop-color="#92ff6d"/><stop offset="0.6674" stop-color="#92ff6d"/><stop offset="0.7159" stop-color="#7dff82"/><stop offset="0.8545" stop-color="#1fffe0"/><stop offset="0.9145" stop-color="#00feff"/><stop offset="1.0000" stop-color="#00deff"/></linearGradient><linearGradient id="hb153" gradientUnits="userSpaceOnUse" x1="1890.95" y1="0" x2="1458.40" y2="0" spreadMethod="reflect"><stop offset="0.0000" stop-color="#c4ff3b"/><stop offset="0.1386" stop-color="#c4ff3b"/><stop offset="0.2771" stop-color="#c2ff3d"/><stop offset="0.4157" stop-color="#bdff42"/><stop offset="0.5035" stop-color="#adff52"/><stop offset="0.5889" stop-color="#8fff70"/><stop offset="0.6674" stop-color="#90ff6f"/><stop offset="0.7159" stop-color="#7bff84"/><stop offset="0.8545" stop-color="#1cffe3"/><stop offset="0.9099" stop-color="#00fdff"/><stop offset="1.0000" stop-color="#00dcff"/></linearGradient><linearGradient id="hb154" gradientUnits="userSpaceOnUse" x1="1890.95" y1="0" x2="1458.40" y2="0" spreadMethod="reflect"><stop offset="0.0000" stop-color="#c3ff3c"/><stop offset="0.1386" stop-color="#c3ff3c"/><stop offset="0.2771" stop-color="#c2ff3d"/><stop offset="0.4157" stop-color="#bcff43"/><stop offset="0.5035" stop-color="#aaff55"/><stop offset="0.5889" stop-color="#8bff74"/><stop offset="0.6651" stop-color="#8fff70"/><stop offset="0.7113" stop-color="#7bff84"/><stop offset="0.8499" stop-color="#1bffe4"/><stop offset="0.9053" stop-color="#00fdff"/><stop offset="1.0000" stop-color="#00daff"/></linearGradient><linearGradient id="hb155" gradientUnits="userSpaceOnUse" x1="1890.95" y1="0" x2="1458.40" y2="0" spreadMethod="reflect"><stop offset="0.0000" stop-color="#c3ff3c"/><stop offset="0.1386" stop-color="#c3ff3c"/><stop offset="0.2771" stop-color="#c2ff3d"/><stop offset="0.4157" stop-color="#baff45"/><stop offset="0.5035" stop-color="#a7ff58"/><stop offset="0.5889" stop-color="#87ff78"/><stop offset="0.6628" stop-color="#8eff71"/><stop offset="0.7067" stop-color="#7cff83"/><stop offset="0.8453" stop-color="#1bffe4"/><stop offset="0.8984" stop-color="#00feff"/><stop offset="1.0000" stop-color="#00d8ff"/></linearGradient><linearGradient id="hb156" gradientUnits="userSpaceOnUse" x1="1890.95" y1="0" x2="1458.40" y2="0" spreadMethod="reflect"><stop offset="0.0000" stop-color="#c2ff3d"/><stop offset="0.1386" stop-color="#c2ff3d"/><stop offset="0.2771" stop-color="#c1ff3e"/><stop offset="0.4157" stop-color="#b9ff46"/><stop offset="0.5035" stop-color="#a5ff5a"/><stop offset="0.5889" stop-color="#83ff7c"/><stop offset="0.6628" stop-color="#8cff73"/><stop offset="0.7067" stop-color="#79ff86"/><stop offset="0.8453" stop-color="#18ffe7"/><stop offset="0.8938" stop-color="#00fdff"/><stop offset="1.0000" stop-color="#00d6ff"/></linearGradient><linearGradient id="hb157" gradientUnits="userSpaceOnUse" x1="1890.95" y1="0" x2="1458.40" y2="0" spreadMethod="reflect"><stop offset="0.0000" stop-color="#c2ff3d"/><stop offset="0.1386" stop-color="#c2ff3d"/><stop offset="0.2771" stop-color="#c1ff3e"/><stop offset="0.4111" stop-color="#b8ff47"/><stop offset="0.5012" stop-color="#a3ff5c"/><stop offset="0.5889" stop-color="#7fff80"/><stop offset="0.6236" stop-color="#84ff7b"/><stop offset="0.6582" stop-color="#8bff74"/><stop offset="0.6998" stop-color="#7bff84"/><stop offset="0.8383" stop-color="#1affe5"/><stop offset="0.8868" stop-color="#00feff"/><stop offset="1.0000" stop-color="#00d4ff"/></linearGradient><linearGradient id="hb158" gradientUnits="userSpaceOnUse" x1="1890.95" y1="0" x2="1458.40" y2="0" spreadMethod="reflect"><stop offset="0.0000" stop-color="#c1ff3e"/><stop offset="0.1386" stop-color="#c1ff3e"/><stop offset="0.2771" stop-color="#c0ff3f"/><stop offset="0.4065" stop-color="#b7ff48"/><stop offset="0.5012" stop-color="#a1ff5e"/><stop offset="0.5912" stop-color="#7bff84"/><stop offset="0.6236" stop-color="#81ff7e"/><stop offset="0.6582" stop-color="#89ff76"/><stop offset="0.6998" stop-color="#79ff86"/><stop offset="0.8383" stop-color="#17ffe8"/><stop offset="0.8822" stop-color="#00feff"/><stop offset="1.0000" stop-color="#00d3ff"/></linearGradient><linearGradient id="hb159" gradientUnits="userSpaceOnUse" x1="1890.95" y1="0" x2="1458.40" y2="0" spreadMethod="reflect"><stop offset="0.0000" stop-color="#c1ff3e"/><stop offset="0.1386" stop-color="#c1ff3e"/><stop offset="0.2771" stop-color="#c0ff3f"/><stop offset="0.4018" stop-color="#b6ff49"/><stop offset="0.4988" stop-color="#9fff60"/><stop offset="0.5912" stop-color="#77ff88"/><stop offset="0.6212" stop-color="#7dff82"/><stop offset="0.6559" stop-color="#87ff78"/><stop offset="0.6952" stop-color="#79ff86"/><stop offset="0.8337" stop-color="#17ffe8"/><stop offset="0.8776" stop-color="#00fdff"/><stop offset="1.0000" stop-color="#00d1ff"/></linearGradient><linearGradient id="hb160" gradientUnits="userSpaceOnUse" x1="1890.95" y1="0" x2="1458.40" y2="0" spreadMethod="reflect"><stop offset="0.0000" stop-color="#c0ff3f"/><stop offset="0.1386" stop-color="#c0ff3f"/><stop offset="0.2771" stop-color="#c0ff3f"/><stop offset="0.3972" stop-color="#b6ff49"/><stop offset="0.4965" stop-color="#9eff61"/><stop offset="0.5935" stop-color="#73ff8c"/><stop offset="0.6236" stop-color="#7bff84"/><stop offset="0.6536" stop-color="#85ff7a"/><stop offset="0.6928" stop-color="#78ff87"/><stop offset="0.8314" stop-color="#16ffe9"/><stop offset="0.8730" stop-color="#00fdff"/><stop offset="1.0000" stop-color="#00cfff"/></linearGradient><linearGradient id="hb161" gradientUnits="userSpaceOnUse" x1="1890.95" y1="0" x2="1458.40" y2="0" spreadMethod="reflect"><stop offset="0.0000" stop-color="#c0ff3f"/><stop offset="0.1386" stop-color="#c0ff3f"/><stop offset="0.2771" stop-color="#bfff40"/><stop offset="0.3926" stop-color="#b5ff4a"/><stop offset="0.4942" stop-color="#9cff63"/><stop offset="0.5935" stop-color="#6fff90"/><stop offset="0.6212" stop-color="#77ff88"/><stop offset="0.6536" stop-color="#83ff7c"/><stop offset="0.6928" stop-color="#75ff8a"/><stop offset="0.8314" stop-color="#14ffeb"/><stop offset="0.8684" stop-color="#00fdff"/><stop offset="1.0000" stop-color="#00cdff"/></linearGradient><linearGradient id="hb162" gradientUnits="userSpaceOnUse" x1="1890.95" y1="0" x2="1458.40" y2="0" spreadMethod="reflect"><stop offset="0.0000" stop-color="#c0ff3f"/><stop offset="0.1386" stop-color="#c0ff3f"/><stop offset="0.2771" stop-color="#bfff40"/><stop offset="0.3880" stop-color="#b4ff4b"/><stop offset="0.4919" stop-color="#9bff64"/><stop offset="0.5935" stop-color="#6dff92"/><stop offset="0.6189" stop-color="#73ff8c"/><stop offset="0.6536" stop-color="#80ff7f"/><stop offset="0.6928" stop-color="#73ff8c"/><stop offset="0.8314" stop-color="#12ffed"/><stop offset="0.8661" stop-color="#00fdff"/><stop offset="1.0000" stop-color="#00cbff"/></linearGradient></defs>
<g clip-path="url(#clipb)"><rect x="1458.4" y="8.0" width="865.1" height="114.5" fill="#00008f"/>
<rect x="1458.4" y="122.0" width="865.1" height="1.6" fill="url(#hb1)"/>
<rect x="1458.4" y="123.0" width="865.1" height="1.6" fill="url(#hb2)"/>
<rect x="1458.4" y="124.0" width="865.1" height="1.6" fill="url(#hb3)"/>
<rect x="1458.4" y="125.0" width="865.1" height="1.6" fill="url(#hb4)"/>
<rect x="1458.4" y="126.0" width="865.1" height="1.6" fill="url(#hb5)"/>
<rect x="1458.4" y="127.0" width="865.1" height="1.6" fill="url(#hb6)"/>
<rect x="1458.4" y="128.0" width="865.1" height="1.6" fill="url(#hb7)"/>
<rect x="1458.4" y="129.0" width="865.1" height="1.6" fill="url(#hb8)"/>
<rect x="1458.4" y="130.0" width="865.1" height="1.6" fill="url(#hb9)"/>
<rect x="1458.4" y="131.0" width="865.1" height="1.6" fill="url(#hb10)"/>
<rect x="1458.4" y="132.0" width="865.1" height="1.6" fill="url(#hb11)"/>
<rect x="1458.4" y="133.0" width="865.1" height="1.6" fill="url(#hb12)"/>
<rect x="1458.4" y="134.0" width="865.1" height="1.6" fill="url(#hb13)"/>
<rect x="1458.4" y="135.0" width="865.1" height="1.6" fill="url(#hb14)"/>
<rect x="1458.4" y="136.0" width="865.1" height="1.6" fill="url(#hb15)"/>
<rect x="1458.4" y="137.0" width="865.1" height="1.6" fill="url(#hb16)"/>
<rect x="1458.4" y="138.0" width="865.1" height="1.6" fill="url(#hb17)"/>
<rect x="1458.4" y="139.0" width="865.1" height="1.6" fill="url(#hb18)"/>
<rect x="1458.4" y="140.0" width="865.1" height="1.6" fill="url(#hb19)"/>
<rect x="1458.4" y="141.0" width="865.1" height="1.6" fill="url(#hb20)"/>
<rect x="1458.4" y="142.0" width="865.1" height="1.6" fill="url(#hb21)"/>
<rect x="1458.4" y="143.0" width="865.1" height="1.6" fill="url(#hb22)"/>
<rect x="1458.4" y="144.0" width="865.1" height="1.6" fill="url(#hb23)"/>
<rect x="1458.4" y="145.0" width="865.1" height="1.6" fill="url(#hb24)"/>
<rect x="1458.4" y="146.0" width="865.1" height="1.6" fill="url(#hb25)"/>
<rect x="1458.4" y="147.0" width="865.1" height="1.6" fill="url(#hb26)"/>
<rect x="1458.4" y="148.0" width="865.1" height="1.6" fill="url(#hb27)"/>
<rect x="1458.4" y="149.0" width="865.1" height="1.6" fill="url(#hb28)"/>
<rect x="1458.4" y="150.0" width="865.1" height="2.6" fill="url(#hb29)"/>
<rect x="1458.4" y="152.0" width="865.1" height="2.6" fill="url(#hb30)"/>
<rect x="1458.4" y="154.0" width="865.1" height="2.6" fill="url(#hb31)"/>
<rect x="1458.4" y="156.0" width="865.1" height="2.6" fill="url(#hb32)"/>
<rect x="1458.4" y="158.0" width="865.1" height="2.6" fill="url(#hb33)"/>
<rect x="1458.4" y="160.0" width="865.1" height="2.6" fill="url(#hb34)"/>
<rect x="1458.4" y="162.0" width="865.1" height="2.6" fill="url(#hb35)"/>
<rect x="1458.4" y="164.0" width="865.1" height="2.6" fill="url(#hb36)"/>
<rect x="1458.4" y="166.0" width="865.1" height="2.6" fill="url(#hb37)"/>
<rect x="1458.4" y="168.0" width="865.1" height="2.6" fill="url(#hb38)"/>
<rect x="1458.4" y="170.0" width="865.1" height="2.6" fill="url(#hb39)"/>
<rect x="1458.4" y="172.0" width="865.1" height="2.6" fill="url(#hb40)"/>
<rect x="1458.4" y="174.0" width="865.1" height="2.6" fill="url(#hb41)"/>
<rect x="1458.4" y="176.0" width="865.1" height="2.6" fill="url(#hb42)"/>
<rect x="1458.4" y="178.0" width="865.1" height="2.6" fill="url(#hb43)"/>
<rect x="1458.4" y="180.0" width="865.1" height="2.6" fill="url(#hb44)"/>
<rect x="1458.4" y="182.0" width="865.1" height="2.6" fill="url(#hb45)"/>
<rect x="1458.4" y="184.0" width="865.1" height="2.6" fill="url(#hb46)"/>
<rect x="1458.4" y="186.0" width="865.1" height="2.6" fill="url(#hb47)"/>
<rect x="1458.4" y="188.0" width="865.1" height="2.6" fill="url(#hb48)"/>
<rect x="1458.4" y="190.0" width="865.1" height="2.6" fill="url(#hb49)"/>
<rect x="1458.4" y="192.0" width="865.1" height="2.6" fill="url(#hb50)"/>
<rect x="1458.4" y="194.0" width="865.1" height="2.6" fill="url(#hb51)"/>
<rect x="1458.4" y="196.0" width="865.1" height="2.6" fill="url(#hb52)"/>
<rect x="1458.4" y="198.0" width="865.1" height="2.6" fill="url(#hb53)"/>
<rect x="1458.4" y="200.0" width="865.1" height="2.6" fill="url(#hb54)"/>
<rect x="1458.4" y="202.0" width="865.1" height="2.6" fill="url(#hb55)"/>
<rect x="1458.4" y="204.0" width="865.1" height="2.6" fill="url(#hb56)"/>
<rect x="1458.4" y="206.0" width="865.1" height="2.6" fill="url(#hb57)"/>
<rect x="1458.4" y="208.0" width="865.1" height="2.6" fill="url(#hb58)"/>
<rect x="1458.4" y="210.0" width="865.1" height="2.6" fill="url(#hb59)"/>
<rect x="1458.4" y="212.0" width="865.1" height="2.6" fill="url(#hb60)"/>
<rect x="1458.4" y="214.0" width="865.1" height="2.6" fill="url(#hb61)"/>
<rect x="1458.4" y="216.0" width="865.1" height="2.6" fill="url(#hb62)"/>
<rect x="1458.4" y="218.0" width="865.1" height="2.6" fill="url(#hb63)"/>
<rect x="1458.4" y="220.0" width="865.1" height="2.6" fill="url(#hb64)"/>
<rect x="1458.4" y="222.0" width="865.1" height="2.6" fill="url(#hb65)"/>
<rect x="1458.4" y="224.0" width="865.1" height="2.6" fill="url(#hb66)"/>
<rect x="1458.4" y="226.0" width="865.1" height="2.6" fill="url(#hb67)"/>
<rect x="1458.4" y="228.0" width="865.1" height="2.6" fill="url(#hb68)"/>
<rect x="1458.4" y="230.0" width="865.1" height="2.6" fill="url(#hb69)"/>
<rect x="1458.4" y="232.0" width="865.1" height="2.6" fill="url(#hb70)"/>
<rect x="1458.4" y="234.0" width="865.1" height="2.6" fill="url(#hb71)"/>
<rect x="1458.4" y="236.0" width="865.1" height="2.6" fill="url(#hb72)"/>
<rect x="1458.4" y="238.0" width="865.1" height="2.6" fill="url(#hb73)"/>
<rect x="1458.4" y="240.0" width="865.1" height="2.6" fill="url(#hb74)"/>
<rect x="1458.4" y="242.0" width="865.1" height="2.6" fill="url(#hb75)"/>
<rect x="1458.4" y="244.0" width="865.1" height="2.6" fill="url(#hb76)"/>
<rect x="1458.4" y="246.0" width="865.1" height="2.6" fill="url(#hb77)"/>
<rect x="1458.4" y="248.0" width="865.1" height="2.6" fill="url(#hb78)"/>
<rect x="1458.4" y="250.0" width="865.1" height="2.6" fill="url(#hb79)"/>
<rect x="1458.4" y="252.0" width="865.1" height="2.6" fill="url(#hb80)"/>
<rect x="1458.4" y="254.0" width="865.1" height="2.6" fill="url(#hb81)"/>
<rect x="1458.4" y="256.0" width="865.1" height="2.6" fill="url(#hb82)"/>
<rect x="1458.4" y="258.0" width="865.1" height="2.6" fill="url(#hb83)"/>
<rect x="1458.4" y="260.0" width="865.1" height="2.6" fill="url(#hb84)"/>
<rect x="1458.4" y="262.0" width="865.1" height="2.6" fill="url(#hb85)"/>
<rect x="1458.4" y="264.0" width="865.1" height="2.6" fill="url(#hb86)"/>
<rect x="1458.4" y="266.0" width="865.1" height="2.6" fill="url(#hb87)"/>
<rect x="1458.4" y="268.0" width="865.1" height="2.6" fill="url(#hb88)"/>
<rect x="1458.4" y="270.0" width="865.1" height="2.6" fill="url(#hb89)"/>
<rect x="1458.4" y="272.0" width="865.1" height="2.6" fill="url(#hb90)"/>
<rect x="1458.4" y="274.0" width="865.1" height="2.6" fill="url(#hb91)"/>
<rect x="1458.4" y="276.0" width="865.1" height="2.6" fill="url(#hb92)"/>
<rect x="1458.4" y="278.0" width="865.1" height="2.6" fill="url(#hb93)"/>
<rect x="1458.4" y="280.0" width="865.1" height="2.6" fill="url(#hb94)"/>
<rect x="1458.4" y="282.0" width="865.1" height="2.6" fill="url(#hb95)"/>
<rect x="1458.4" y="284.0" width="865.1" height="2.6" fill="url(#hb96)"/>
<rect x="1458.4" y="286.0" width="865.1" height="2.6" fill="url(#hb97)"/>
<rect x="1458.4" y="288.0" width="865.1" height="2.6" fill="url(#hb98)"/>
<rect x="1458.4" y="290.0" width="865.1" height="2.6" fill="url(#hb99)"/>
<rect x="1458.4" y="292.0" width="865.1" height="2.6" fill="url(#hb100)"/>
<rect x="1458.4" y="294.0" width="865.1" height="2.6" fill="url(#hb101)"/>
<rect x="1458.4" y="296.0" width="865.1" height="2.6" fill="url(#hb102)"/>
<rect x="1458.4" y="298.0" width="865.1" height="2.6" fill="url(#hb103)"/>
<rect x="1458.4" y="300.0" width="865.1" height="2.6" fill="url(#hb104)"/>
<rect x="1458.4" y="302.0" width="865.1" height="2.6" fill="url(#hb105)"/>
<rect x="1458.4" y="304.0" width="865.1" height="2.6" fill="url(#hb106)"/>
<rect x="1458.4" y="306.0" width="865.1" height="2.6" fill="url(#hb107)"/>
<rect x="1458.4" y="308.0" width="865.1" height="2.6" fill="url(#hb108)"/>
<rect x="1458.4" y="310.0" width="865.1" height="2.6" fill="url(#hb109)"/>
<rect x="1458.4" y="312.0" width="865.1" height="2.6" fill="url(#hb110)"/>
<rect x="1458.4" y="314.0" width="865.1" height="2.6" fill="url(#hb111)"/>
<rect x="1458.4" y="316.0" width="865.1" height="2.6" fill="url(#hb112)"/>
<rect x="1458.4" y="318.0" width="865.1" height="2.6" fill="url(#hb113)"/>
<rect x="1458.4" y="320.0" width="865.1" height="2.6" fill="url(#hb114)"/>
<rect x="1458.4" y="322.0" width="865.1" height="2.6" fill="url(#hb115)"/>
<rect x="1458.4" y="324.0" width="865.1" height="2.6" fill="url(#hb116)"/>
<rect x="1458.4" y="326.0" width="865.1" height="2.6" fill="url(#hb117)"/>
<rect x="1458.4" y="328.0" width="865.1" height="2.6" fill="url(#hb118)"/>
<rect x="1458.4" y="330.0" width="865.1" height="2.6" fill="url(#hb119)"/>
<rect x="1458.4" y="332.0" width="865.1" height="2.6" fill="url(#hb120)"/>
<rect x="1458.4" y="334.0" width="865.1" height="2.6" fill="url(#hb121)"/>
<rect x="1458.4" y="336.0" width="865.1" height="2.6" fill="url(#hb122)"/>
<rect x="1458.4" y="338.0" width="865.1" height="2.6" fill="url(#hb123)"/>
<rect x="1458.4" y="340.0" width="865.1" height="2.6" fill="url(#hb124)"/>
<rect x="1458.4" y="342.0" width="865.1" height="2.6" fill="url(#hb125)"/>
<rect x="1458.4" y="344.0" width="865.1" height="2.6" fill="url(#hb126)"/>
<rect x="1458.4" y="346.0" width="865.1" height="2.6" fill="url(#hb127)"/>
<rect x="1458.4" y="348.0" width="865.1" height="2.6" fill="url(#hb128)"/>
<rect x="1458.4" y="350.0" width="865.1" height="2.6" fill="url(#hb129)"/>
<rect x="1458.4" y="352.0" width="865.1" height="2.6" fill="url(#hb130)"/>
<rect x="1458.4" y="354.0" width="865.1" height="2.6" fill="url(#hb131)"/>
<rect x="1458.4" y="356.0" width="865.1" height="2.6" fill="url(#hb132)"/>
<rect x="1458.4" y="358.0" width="865.1" height="2.6" fill="url(#hb133)"/>
<rect x="1458.4" y="360.0" width="865.1" height="2.6" fill="url(#hb134)"/>
<rect x="1458.4" y="362.0" width="865.1" height="2.6" fill="url(#hb135)"/>
<rect x="1458.4" y="364.0" width="865.1" height="2.6" fill="url(#hb136)"/>
<rect x="1458.4" y="366.0" width="865.1" height="2.6" fill="url(#hb137)"/>
<rect x="1458.4" y="368.0" width="865.1" height="2.6" fill="url(#hb138)"/>
<rect x="1458.4" y="370.0" width="865.1" height="2.6" fill="url(#hb139)"/>
<rect x="1458.4" y="372.0" width="865.1" height="2.6" fill="url(#hb140)"/>
<rect x="1458.4" y="374.0" width="865.1" height="2.6" fill="url(#hb141)"/>
<rect x="1458.4" y="376.0" width="865.1" height="2.6" fill="url(#hb142)"/>
<rect x="1458.4" y="378.0" width="865.1" height="2.6" fill="url(#hb143)"/>
<rect x="1458.4" y="380.0" width="865.1" height="2.6" fill="url(#hb144)"/>
<rect x="1458.4" y="382.0" width="865.1" height="2.6" fill="url(#hb145)"/>
<rect x="1458.4" y="384.0" width="865.1" height="2.6" fill="url(#hb146)"/>
<rect x="1458.4" y="386.0" width="865.1" height="2.6" fill="url(#hb147)"/>
<rect x="1458.4" y="388.0" width="865.1" height="2.6" fill="url(#hb148)"/>
<rect x="1458.4" y="390.0" width="865.1" height="2.6" fill="url(#hb149)"/>
<rect x="1458.4" y="392.0" width="865.1" height="2.6" fill="url(#hb150)"/>
<rect x="1458.4" y="394.0" width="865.1" height="2.6" fill="url(#hb151)"/>
<rect x="1458.4" y="396.0" width="865.1" height="2.6" fill="url(#hb152)"/>
<rect x="1458.4" y="398.0" width="865.1" height="2.6" fill="url(#hb153)"/>
<rect x="1458.4" y="400.0" width="865.1" height="2.6" fill="url(#hb154)"/>
<rect x="1458.4" y="402.0" width="865.1" height="2.6" fill="url(#hb155)"/>
<rect x="1458.4" y="404.0" width="865.1" height="2.6" fill="url(#hb156)"/>
<rect x="1458.4" y="406.0" width="865.1" height="2.6" fill="url(#hb157)"/>
<rect x="1458.4" y="408.0" width="865.1" height="2.6" fill="url(#hb158)"/>
<rect x="1458.4" y="410.0" width="865.1" height="2.6" fill="url(#hb159)"/>
<rect x="1458.4" y="412.0" width="865.1" height="2.6" fill="url(#hb160)"/>
<rect x="1458.4" y="414.0" width="865.1" height="2.6" fill="url(#hb161)"/>
<rect x="1458.4" y="416.0" width="865.1" height="2.6" fill="url(#hb162)"/></g>
<path d="M1819.0,198.3 L1821.6,218.6 L1829.2,239.0 L1836.0,254.3 L1837.7,271.3" fill="none" stroke="#ff4800" stroke-opacity="0.28" stroke-width="2.0" stroke-linejoin="round" stroke-linecap="round"/>
<path d="M1963.0,198.3 L1960.4,218.6 L1952.8,239.0 L1946.0,254.3 L1944.3,271.3" fill="none" stroke="#ff4800" stroke-opacity="0.28" stroke-width="2.0" stroke-linejoin="round" stroke-linecap="round"/>
<path d="M1871.7,205.1 L1868.3,228.8 L1864.0,254.3 L1863.2,271.3" fill="none" stroke="#ff4800" stroke-opacity="0.28" stroke-width="2.0" stroke-linejoin="round" stroke-linecap="round"/>
<path d="M1910.3,205.1 L1913.7,228.8 L1918.0,254.3 L1918.8,271.3" fill="none" stroke="#ff4800" stroke-opacity="0.28" stroke-width="2.0" stroke-linejoin="round" stroke-linecap="round"/>
<path d="M1793.6,183.0 L1791.9,211.9 L1795.3,245.8" fill="none" stroke="#ff4800" stroke-opacity="0.2" stroke-width="2.0" stroke-linejoin="round" stroke-linecap="round"/>
<path d="M1988.4,183.0 L1990.1,211.9 L1986.7,245.8" fill="none" stroke="#ff4800" stroke-opacity="0.2" stroke-width="2.0" stroke-linejoin="round" stroke-linecap="round"/>
<path d="M1728.5,178.4 L1709.2,209.2 L1705.4,224.6 L1713.1,247.7 L1728.5,278.5" fill="none" stroke="#ff4800" stroke-opacity="0.2" stroke-width="2.0" stroke-linejoin="round" stroke-linecap="round"/>
<path d="M2053.5,178.4 L2072.8,209.2 L2076.6,224.6 L2068.9,247.7 L2053.5,278.5" fill="none" stroke="#ff4800" stroke-opacity="0.2" stroke-width="2.0" stroke-linejoin="round" stroke-linecap="round"/>
<rect x="1458.4" y="9.0" width="865.1" height="407.6" fill="none" stroke="#000" stroke-width="3.2"/>
<line x1="1544.9" y1="416.6" x2="1544.9" y2="428.1" stroke="#000" stroke-width="3" stroke-linecap="butt"/>
<line x1="1631.4" y1="416.6" x2="1631.4" y2="423.6" stroke="#000" stroke-width="3" stroke-linecap="butt"/>
<line x1="1717.9" y1="416.6" x2="1717.9" y2="428.1" stroke="#000" stroke-width="3" stroke-linecap="butt"/>
<line x1="1804.4" y1="416.6" x2="1804.4" y2="423.6" stroke="#000" stroke-width="3" stroke-linecap="butt"/>
<line x1="1891.0" y1="416.6" x2="1891.0" y2="428.1" stroke="#000" stroke-width="3" stroke-linecap="butt"/>
<line x1="1977.5" y1="416.6" x2="1977.5" y2="423.6" stroke="#000" stroke-width="3" stroke-linecap="butt"/>
<line x1="2064.0" y1="416.6" x2="2064.0" y2="428.1" stroke="#000" stroke-width="3" stroke-linecap="butt"/>
<line x1="2150.5" y1="416.6" x2="2150.5" y2="423.6" stroke="#000" stroke-width="3" stroke-linecap="butt"/>
<line x1="2237.0" y1="416.6" x2="2237.0" y2="428.1" stroke="#000" stroke-width="3" stroke-linecap="butt"/>
<line x1="1446.4" y1="335.1" x2="1458.4" y2="335.1" stroke="#000" stroke-width="3" stroke-linecap="butt"/>
<text x="1364.09" y="346.7" font-size="39.5" text-anchor="start" fill="#000" textLength="67.79" lengthAdjust="spacingAndGlyphs">200</text>
<line x1="1446.4" y1="253.6" x2="1458.4" y2="253.6" stroke="#000" stroke-width="3" stroke-linecap="butt"/>
<text x="1365.19" y="265.2" font-size="39.5" text-anchor="start" fill="#000" textLength="65.68" lengthAdjust="spacingAndGlyphs">400</text>
<line x1="1446.4" y1="172.0" x2="1458.4" y2="172.0" stroke="#000" stroke-width="3" stroke-linecap="butt"/>
<text x="1364.09" y="183.6" font-size="39.5" text-anchor="start" fill="#000" textLength="67.79" lengthAdjust="spacingAndGlyphs">600</text>
<line x1="1446.4" y1="90.5" x2="1458.4" y2="90.5" stroke="#000" stroke-width="3" stroke-linecap="butt"/>
<text x="1364.09" y="102.1" font-size="39.5" text-anchor="start" fill="#000" textLength="67.83" lengthAdjust="spacingAndGlyphs">800</text>
<text transform="translate(1495.9,470.2) scale(1.36,1)" font-size="39.5" fill="#000">−</text>
<text x="1531.14" y="468.0" font-size="39.5" text-anchor="start" fill="#000" textLength="66.73" lengthAdjust="spacingAndGlyphs">800</text>
<text transform="translate(1668.9,470.2) scale(1.36,1)" font-size="39.5" fill="#000">−</text>
<text x="1704.47" y="468.0" font-size="39.5" text-anchor="start" fill="#000" textLength="66.71" lengthAdjust="spacingAndGlyphs">400</text>
<text x="1879.95" y="468.0" font-size="39.5" text-anchor="start" fill="#000" textLength="22.09" lengthAdjust="spacingAndGlyphs">0</text>
<text x="2031.79" y="468.0" font-size="39.5" text-anchor="start" fill="#000" textLength="64.83" lengthAdjust="spacingAndGlyphs">400</text>
<text x="2204.02" y="468.0" font-size="39.5" text-anchor="start" fill="#000" textLength="65.90" lengthAdjust="spacingAndGlyphs">800</text>
<text x="1837.90" y="522.4" font-size="39.5" text-anchor="start" fill="#000" textLength="110.12" lengthAdjust="spacingAndGlyphs"><tspan font-style="italic">R</tspan><tspan font-size="56" dy="9.0">/</tspan><tspan dy="-9.0">µm</tspan></text>
<g transform="translate(1319.0,211.9) rotate(-90)">
<text x="0.00" y="0.0" font-size="39.5" text-anchor="middle" fill="#000" textLength="105.00" lengthAdjust="spacingAndGlyphs"><tspan font-style="italic">Z</tspan><tspan font-size="56" dy="9.0">/</tspan><tspan dy="-9.0">µm</tspan></text>
</g>
<text x="1493.99" y="63.3" font-size="39.5" text-anchor="start" fill="#fff" textLength="54.20" lengthAdjust="spacingAndGlyphs">(b)</text>
<defs><linearGradient id="jet" x1="0" y1="1" x2="0" y2="0">
<stop offset="0.0000" stop-color="#000087"/>
<stop offset="0.0156" stop-color="#000097"/>
<stop offset="0.0312" stop-color="#0000a7"/>
<stop offset="0.0469" stop-color="#0000b7"/>
<stop offset="0.0625" stop-color="#0000c7"/>
<stop offset="0.0781" stop-color="#0000d7"/>
<stop offset="0.0938" stop-color="#0000e7"/>
<stop offset="0.1094" stop-color="#0000f7"/>
<stop offset="0.1250" stop-color="#0008ff"/>
<stop offset="0.1406" stop-color="#0018ff"/>
<stop offset="0.1562" stop-color="#0028ff"/>
<stop offset="0.1719" stop-color="#0038ff"/>
<stop offset="0.1875" stop-color="#0048ff"/>
<stop offset="0.2031" stop-color="#0058ff"/>
<stop offset="0.2188" stop-color="#0068ff"/>
<stop offset="0.2344" stop-color="#0078ff"/>
<stop offset="0.2500" stop-color="#0087ff"/>
<stop offset="0.2656" stop-color="#0097ff"/>
<stop offset="0.2812" stop-color="#00a7ff"/>
<stop offset="0.2969" stop-color="#00b7ff"/>
<stop offset="0.3125" stop-color="#00c7ff"/>
<stop offset="0.3281" stop-color="#00d7ff"/>
<stop offset="0.3438" stop-color="#00e7ff"/>
<stop offset="0.3594" stop-color="#00f7ff"/>
<stop offset="0.3750" stop-color="#08fff7"/>
<stop offset="0.3906" stop-color="#18ffe7"/>
<stop offset="0.4062" stop-color="#28ffd7"/>
<stop offset="0.4219" stop-color="#38ffc7"/>
<stop offset="0.4375" stop-color="#48ffb7"/>
<stop offset="0.4531" stop-color="#58ffa7"/>
<stop offset="0.4688" stop-color="#68ff97"/>
<stop offset="0.4844" stop-color="#78ff87"/>
<stop offset="0.5000" stop-color="#87ff78"/>
<stop offset="0.5156" stop-color="#97ff68"/>
<stop offset="0.5312" stop-color="#a7ff58"/>
<stop offset="0.5469" stop-color="#b7ff48"/>
<stop offset="0.5625" stop-color="#c7ff38"/>
<stop offset="0.5781" stop-color="#d7ff28"/>
<stop offset="0.5938" stop-color="#e7ff18"/>
<stop offset="0.6094" stop-color="#f7ff08"/>
<stop offset="0.6250" stop-color="#fff700"/>
<stop offset="0.6406" stop-color="#ffe700"/>
<stop offset="0.6562" stop-color="#ffd700"/>
<stop offset="0.6719" stop-color="#ffc700"/>
<stop offset="0.6875" stop-color="#ffb700"/>
<stop offset="0.7031" stop-color="#ffa700"/>
<stop offset="0.7188" stop-color="#ff9700"/>
<stop offset="0.7344" stop-color="#ff8700"/>
<stop offset="0.7500" stop-color="#ff7800"/>
<stop offset="0.7656" stop-color="#ff6800"/>
<stop offset="0.7812" stop-color="#ff5800"/>
<stop offset="0.7969" stop-color="#ff4800"/>
<stop offset="0.8125" stop-color="#ff3800"/>
<stop offset="0.8281" stop-color="#ff2800"/>
<stop offset="0.8438" stop-color="#ff1800"/>
<stop offset="0.8594" stop-color="#ff0800"/>
<stop offset="0.8750" stop-color="#f70000"/>
<stop offset="0.8906" stop-color="#e70000"/>
<stop offset="0.9062" stop-color="#d70000"/>
<stop offset="0.9219" stop-color="#c70000"/>
<stop offset="0.9375" stop-color="#b70000"/>
<stop offset="0.9531" stop-color="#a70000"/>
<stop offset="0.9688" stop-color="#970000"/>
<stop offset="0.9844" stop-color="#870000"/>
<stop offset="1.0000" stop-color="#780000"/>
</linearGradient></defs>
<rect x="2394.3" y="92.5" width="31.0" height="291.8" fill="url(#jet)" stroke="#000" stroke-width="3"/>
<line x1="2413.3" y1="287.0" x2="2425.3" y2="287.0" stroke="#000" stroke-width="3" stroke-linecap="butt"/>
<line x1="2413.3" y1="189.8" x2="2425.3" y2="189.8" stroke="#000" stroke-width="3" stroke-linecap="butt"/>
<text x="2440.76" y="396.9" font-size="39.5" text-anchor="start" fill="#000" textLength="23.47" lengthAdjust="spacingAndGlyphs">0</text>
<text x="2440.70" y="299.6" font-size="39.5" text-anchor="start" fill="#000" textLength="45.10" lengthAdjust="spacingAndGlyphs">20</text>
<text x="2441.74" y="202.4" font-size="39.5" text-anchor="start" fill="#000" textLength="43.99" lengthAdjust="spacingAndGlyphs">40</text>
<text x="2440.70" y="105.1" font-size="39.5" text-anchor="start" fill="#000" textLength="45.10" lengthAdjust="spacingAndGlyphs">60</text>
<text x="2349.3" y="52.0" font-size="41" fill="#000" textLength="138.3" lengthAdjust="spacingAndGlyphs"><tspan font-style="italic">T</tspan><tspan font-size="28" dy="6.3">ele</tspan><tspan font-size="56" dy="2.7">/</tspan><tspan dy="-9.0">eV</tspan></text>
<rect x="348.4" y="581.3" width="865.1" height="409.0" fill="#fff" stroke="#000" stroke-width="3.2"/>
<line x1="434.9" y1="990.3" x2="434.9" y2="978.8" stroke="#000" stroke-width="3" stroke-linecap="butt"/>
<line x1="521.4" y1="990.3" x2="521.4" y2="983.3" stroke="#000" stroke-width="3" stroke-linecap="butt"/>
<line x1="607.9" y1="990.3" x2="607.9" y2="978.8" stroke="#000" stroke-width="3" stroke-linecap="butt"/>
<line x1="694.4" y1="990.3" x2="694.4" y2="983.3" stroke="#000" stroke-width="3" stroke-linecap="butt"/>
<line x1="781.0" y1="990.3" x2="781.0" y2="978.8" stroke="#000" stroke-width="3" stroke-linecap="butt"/>
<line x1="867.5" y1="990.3" x2="867.5" y2="983.3" stroke="#000" stroke-width="3" stroke-linecap="butt"/>
<line x1="954.0" y1="990.3" x2="954.0" y2="978.8" stroke="#000" stroke-width="3" stroke-linecap="butt"/>
<line x1="1040.5" y1="990.3" x2="1040.5" y2="983.3" stroke="#000" stroke-width="3" stroke-linecap="butt"/>
<line x1="1127.0" y1="990.3" x2="1127.0" y2="978.8" stroke="#000" stroke-width="3" stroke-linecap="butt"/>
<text x="286.93" y="1002.1" font-size="39.5" text-anchor="start" fill="#000" textLength="45.78" lengthAdjust="spacingAndGlyphs">20</text>
<line x1="348.4" y1="888.0" x2="360.9" y2="888.0" stroke="#000" stroke-width="3" stroke-linecap="butt"/>
<text x="286.93" y="899.8" font-size="39.5" text-anchor="start" fill="#000" textLength="45.78" lengthAdjust="spacingAndGlyphs">30</text>
<line x1="348.4" y1="785.8" x2="360.9" y2="785.8" stroke="#000" stroke-width="3" stroke-linecap="butt"/>
<text x="288.03" y="797.6" font-size="39.5" text-anchor="start" fill="#000" textLength="44.64" lengthAdjust="spacingAndGlyphs">40</text>
<line x1="348.4" y1="683.5" x2="360.9" y2="683.5" stroke="#000" stroke-width="3" stroke-linecap="butt"/>
<text x="285.77" y="695.3" font-size="39.5" text-anchor="start" fill="#000" textLength="46.96" lengthAdjust="spacingAndGlyphs">50</text>
<text x="286.93" y="593.1" font-size="39.5" text-anchor="start" fill="#000" textLength="45.78" lengthAdjust="spacingAndGlyphs">60</text>
<text transform="translate(385.9,1032.2) scale(1.36,1)" font-size="39.5" fill="#000">−</text>
<text x="421.14" y="1030.0" font-size="39.5" text-anchor="start" fill="#000" textLength="66.73" lengthAdjust="spacingAndGlyphs">800</text>
<text transform="translate(558.9,1032.2) scale(1.36,1)" font-size="39.5" fill="#000">−</text>
<text x="594.47" y="1030.0" font-size="39.5" text-anchor="start" fill="#000" textLength="66.71" lengthAdjust="spacingAndGlyphs">400</text>
<text x="769.95" y="1030.0" font-size="39.5" text-anchor="start" fill="#000" textLength="22.08" lengthAdjust="spacingAndGlyphs">0</text>
<text x="921.79" y="1030.0" font-size="39.5" text-anchor="start" fill="#000" textLength="64.83" lengthAdjust="spacingAndGlyphs">400</text>
<text x="1094.02" y="1030.0" font-size="39.5" text-anchor="start" fill="#000" textLength="65.90" lengthAdjust="spacingAndGlyphs">800</text>
<text x="727.90" y="1083.6" font-size="39.5" text-anchor="start" fill="#000" textLength="110.12" lengthAdjust="spacingAndGlyphs"><tspan font-style="italic">R</tspan><tspan font-size="56" dy="9.0">/</tspan><tspan dy="-9.0">µm</tspan></text>
<g transform="translate(249.6,856.0) rotate(-90)">
<text x="0.0" y="0.0" font-size="41" fill="#000" textLength="138.3" lengthAdjust="spacingAndGlyphs"><tspan font-style="italic">T</tspan><tspan font-size="28" dy="6.3">ele</tspan><tspan font-size="56" dy="2.7">/</tspan><tspan dy="-9.0">eV</tspan></text>
</g>
<text x="383.64" y="639.2" font-size="39.5" text-anchor="start" fill="#000" textLength="52.07" lengthAdjust="spacingAndGlyphs">(c)</text>
<path d="M348.9,922.5 L350.5,915.0 L352.1,908.0 L355.0,899.0 L358.1,891.9 L364.0,880.0 L370.2,867.7 L385.3,840.5 L400.4,816.4 L415.5,793.7 L430.6,772.6 L445.7,752.9 L460.8,733.3 L475.9,713.7 L491.1,692.5 L506.2,668.3 L521.3,642.7 L527.9,632.7 L529.3,640.0 L531.0,648.5 L532.5,648.0 L535.5,642.5 L538.5,638.9 L541.4,638.3 L543.5,641.5 L545.7,644.5 L547.5,643.5 L551.0,640.0 L554.5,637.3 L558.0,635.2 L561.7,633.0 L565.0,628.5 L567.3,624.2 L568.6,623.7 L569.6,628.0 L570.5,640.0 L571.4,645.5 L573.0,648.3 L575.0,647.6 L577.0,647.2 L580.0,648.6 L583.4,650.1 L585.4,649.2 L587.4,648.6 L590.0,650.3 L596.2,655.7 L607.0,662.8 L617.9,669.9 L618.5,667.0 L619.1,661.4 L619.6,670.0 L620.2,686.2 L621.5,690.5 L623.5,694.2 L625.2,693.2 L626.7,692.8 L628.5,696.0 L630.8,701.5 L633.1,706.3 L634.6,703.0 L636.3,698.2 L637.3,703.0 L638.7,713.5 L641.0,717.0 L644.3,719.9 L652.0,724.6 L660.4,727.9 L668.0,730.6 L676.4,732.4 L684.0,732.5 L690.8,731.9 L692.2,730.0 L693.4,723.0 L694.7,717.3 L695.8,724.0 L696.9,731.1 L698.5,732.2 L700.5,731.0 L703.3,729.3 L705.5,727.5 L707.3,725.8 L708.2,730.0 L709.4,739.0 L710.6,742.0 L712.2,742.6 L713.5,739.0 L714.4,725.0 L715.6,693.3 L716.5,707.0 L717.4,716.6 L718.5,721.0 L719.9,724.0 L724.0,728.0 L729.0,731.3 L732.0,733.2 L734.2,734.0 L735.3,732.0 L736.4,730.2 L737.6,732.0 L738.9,734.3 L743.0,735.3 L747.4,735.6 L753.0,734.8 L759.7,733.2 L763.5,731.8 L767.1,729.5 L768.4,725.0 L769.3,716.0 L770.1,707.8 L770.8,718.0 L771.3,731.3 L771.7,748.0 L772.2,761.0 L773.0,766.0 L774.6,768.0 L776.5,767.2 L778.3,765.7 L781.0,764.7 L783.7,765.7 L785.5,767.2 L787.4,768.0 L789.0,766.0 L789.8,761.0 L790.3,748.0 L790.7,731.3 L791.2,718.0 L791.9,707.8 L792.7,716.0 L793.6,725.0 L794.9,729.5 L798.5,731.8 L802.3,733.2 L809.0,734.8 L814.6,735.6 L819.0,735.3 L823.1,734.3 L824.4,732.0 L825.6,730.2 L826.7,732.0 L827.8,734.0 L830.0,733.2 L833.0,731.3 L838.0,728.0 L842.1,724.0 L843.5,721.0 L844.6,716.6 L845.5,707.0 L846.4,693.3 L847.6,725.0 L848.5,739.0 L849.8,742.6 L851.4,742.0 L852.6,739.0 L853.8,730.0 L854.7,725.8 L856.5,727.5 L858.7,729.3 L861.5,731.0 L863.5,732.2 L865.1,731.1 L866.2,724.0 L867.3,717.3 L868.6,723.0 L869.8,730.0 L871.2,731.9 L878.0,732.5 L885.6,732.4 L894.0,730.6 L901.6,727.9 L910.0,724.6 L917.7,719.9 L921.0,717.0 L923.3,713.5 L924.7,703.0 L925.7,698.2 L927.4,703.0 L928.9,706.3 L931.2,701.5 L933.5,696.0 L935.3,692.8 L936.8,693.2 L938.5,694.2 L940.5,690.5 L941.8,686.2 L942.4,670.0 L942.9,661.4 L943.5,667.0 L944.1,669.9 L955.0,662.8 L965.8,655.7 L972.0,650.3 L974.6,648.6 L976.6,649.2 L978.6,650.1 L982.0,648.6 L985.0,647.2 L987.0,647.6 L989.0,648.3 L990.6,645.5 L991.5,640.0 L992.4,628.0 L993.4,623.7 L994.7,624.2 L997.0,628.5 L1000.3,633.0 L1004.0,635.2 L1007.5,637.3 L1011.0,640.0 L1014.5,643.5 L1016.3,644.5 L1018.5,641.5 L1020.6,638.3 L1023.5,638.9 L1026.5,642.5 L1029.5,648.0 L1031.0,648.5 L1032.7,640.0 L1034.1,632.7 L1040.7,642.7 L1055.8,668.3 L1070.9,692.5 L1086.1,713.7 L1101.2,733.3 L1116.3,752.9 L1131.4,772.6 L1146.5,793.7 L1161.6,816.4 L1176.7,840.5 L1191.8,867.7 L1198.0,880.0 L1203.9,891.9 L1207.0,899.0 L1209.9,908.0 L1211.5,915.0 L1213.1,922.5" fill="none" stroke="#ff7f0e" stroke-width="4" stroke-linejoin="round" stroke-linecap="butt"/>
<line x1="815.4" y1="887.7" x2="922.4" y2="887.7" stroke="#ff7f0e" stroke-width="4.2" stroke-linecap="round"/>
<text x="937.78" y="899.3" font-size="39.5" text-anchor="start" fill="#000" textLength="138.14" lengthAdjust="spacingAndGlyphs">500 µm</text>
<rect x="1458.4" y="581.3" width="865.1" height="409.0" fill="#fff" stroke="#000" stroke-width="3.2"/>
<line x1="1544.9" y1="990.3" x2="1544.9" y2="978.8" stroke="#000" stroke-width="3" stroke-linecap="butt"/>
<line x1="1631.4" y1="990.3" x2="1631.4" y2="983.3" stroke="#000" stroke-width="3" stroke-linecap="butt"/>
<line x1="1717.9" y1="990.3" x2="1717.9" y2="978.8" stroke="#000" stroke-width="3" stroke-linecap="butt"/>
<line x1="1804.4" y1="990.3" x2="1804.4" y2="983.3" stroke="#000" stroke-width="3" stroke-linecap="butt"/>
<line x1="1891.0" y1="990.3" x2="1891.0" y2="978.8" stroke="#000" stroke-width="3" stroke-linecap="butt"/>
<line x1="1977.5" y1="990.3" x2="1977.5" y2="983.3" stroke="#000" stroke-width="3" stroke-linecap="butt"/>
<line x1="2064.0" y1="990.3" x2="2064.0" y2="978.8" stroke="#000" stroke-width="3" stroke-linecap="butt"/>
<line x1="2150.5" y1="990.3" x2="2150.5" y2="983.3" stroke="#000" stroke-width="3" stroke-linecap="butt"/>
<line x1="2237.0" y1="990.3" x2="2237.0" y2="978.8" stroke="#000" stroke-width="3" stroke-linecap="butt"/>
<text x="1396.93" y="1002.1" font-size="39.5" text-anchor="start" fill="#000" textLength="45.78" lengthAdjust="spacingAndGlyphs">20</text>
<line x1="1458.4" y1="854.0" x2="1470.9" y2="854.0" stroke="#000" stroke-width="3" stroke-linecap="butt"/>
<text x="1396.93" y="865.8" font-size="39.5" text-anchor="start" fill="#000" textLength="45.78" lengthAdjust="spacingAndGlyphs">30</text>
<line x1="1458.4" y1="717.6" x2="1470.9" y2="717.6" stroke="#000" stroke-width="3" stroke-linecap="butt"/>
<text x="1398.03" y="729.4" font-size="39.5" text-anchor="start" fill="#000" textLength="44.64" lengthAdjust="spacingAndGlyphs">40</text>
<text x="1395.77" y="593.1" font-size="39.5" text-anchor="start" fill="#000" textLength="46.96" lengthAdjust="spacingAndGlyphs">50</text>
<text transform="translate(1495.9,1032.2) scale(1.36,1)" font-size="39.5" fill="#000">−</text>
<text x="1531.14" y="1030.0" font-size="39.5" text-anchor="start" fill="#000" textLength="66.73" lengthAdjust="spacingAndGlyphs">800</text>
<text transform="translate(1668.9,1032.2) scale(1.36,1)" font-size="39.5" fill="#000">−</text>
<text x="1704.47" y="1030.0" font-size="39.5" text-anchor="start" fill="#000" textLength="66.71" lengthAdjust="spacingAndGlyphs">400</text>
<text x="1879.95" y="1030.0" font-size="39.5" text-anchor="start" fill="#000" textLength="22.09" lengthAdjust="spacingAndGlyphs">0</text>
<text x="2031.79" y="1030.0" font-size="39.5" text-anchor="start" fill="#000" textLength="64.83" lengthAdjust="spacingAndGlyphs">400</text>
<text x="2204.02" y="1030.0" font-size="39.5" text-anchor="start" fill="#000" textLength="65.90" lengthAdjust="spacingAndGlyphs">800</text>
<text x="1837.90" y="1083.6" font-size="39.5" text-anchor="start" fill="#000" textLength="110.12" lengthAdjust="spacingAndGlyphs"><tspan font-style="italic">R</tspan><tspan font-size="56" dy="9.0">/</tspan><tspan dy="-9.0">µm</tspan></text>
<g transform="translate(1350.0,856.0) rotate(-90)">
<text x="0.0" y="0.0" font-size="41" fill="#000" textLength="138.3" lengthAdjust="spacingAndGlyphs"><tspan font-style="italic">T</tspan><tspan font-size="28" dy="6.3">ele</tspan><tspan font-size="56" dy="2.7">/</tspan><tspan dy="-9.0">eV</tspan></text>
</g>
<text x="1492.88" y="639.2" font-size="39.5" text-anchor="start" fill="#000" textLength="56.36" lengthAdjust="spacingAndGlyphs">(d)</text>
<path d="M1458.7,946.0 L1459.6,938.0 L1460.8,931.0 L1463.0,922.0 L1465.7,914.8 L1469.5,903.0 L1474.4,890.3 L1484.9,865.9 L1502.4,831.0 L1519.8,799.5 L1537.3,771.6 L1554.8,745.4 L1572.2,719.2 L1589.7,693.0 L1600.0,676.6 L1607.1,665.1 L1616.0,649.8 L1622.0,638.5 L1625.7,631.0 L1627.5,628.6 L1628.9,628.2 L1629.8,633.0 L1630.8,639.5 L1631.8,640.6 L1632.9,640.3 L1635.5,635.5 L1638.5,631.0 L1640.0,631.2 L1641.7,632.0 L1644.5,629.3 L1648.1,625.3 L1652.0,620.5 L1656.1,615.7 L1658.5,611.5 L1660.3,608.2 L1661.6,606.9 L1662.6,607.3 L1663.4,612.0 L1664.2,617.5 L1665.2,619.8 L1666.5,620.6 L1670.0,619.8 L1673.8,618.9 L1679.0,618.4 L1683.4,618.1 L1686.5,617.0 L1689.8,615.7 L1693.0,617.3 L1696.2,618.6 L1699.0,618.7 L1701.8,618.5 L1702.9,616.0 L1703.9,610.5 L1704.7,616.0 L1705.5,624.0 L1706.1,634.0 L1706.8,638.9 L1708.2,640.0 L1709.8,639.6 L1711.8,637.5 L1713.9,636.2 L1715.4,637.3 L1717.1,639.7 L1719.5,643.8 L1721.9,648.5 L1725.0,656.0 L1728.3,663.8 L1732.0,671.0 L1736.3,677.4 L1740.0,682.0 L1744.3,686.0 L1745.8,684.5 L1747.3,682.2 L1748.2,684.5 L1749.5,689.4 L1753.0,691.8 L1757.2,693.4 L1762.5,694.6 L1768.4,695.0 L1774.0,694.5 L1779.6,693.4 L1784.0,692.0 L1787.5,690.4 L1789.4,688.5 L1790.6,683.0 L1792.1,677.2 L1793.1,683.0 L1794.2,690.5 L1795.5,691.9 L1797.5,691.3 L1800.4,688.6 L1803.5,684.6 L1806.0,680.5 L1808.0,677.8 L1809.3,680.5 L1810.8,686.0 L1812.4,690.0 L1813.6,688.5 L1815.0,685.0 L1816.5,681.0 L1817.6,675.0 L1818.3,660.0 L1819.0,639.2 L1819.9,643.5 L1821.3,650.6 L1823.0,654.8 L1825.3,658.5 L1829.5,662.0 L1834.3,664.7 L1839.0,665.6 L1843.4,665.9 L1848.0,665.3 L1852.5,664.2 L1856.0,661.8 L1859.3,659.1 L1862.0,657.6 L1864.9,656.2 L1867.3,653.6 L1869.4,650.6 L1870.8,647.0 L1871.8,643.8 L1872.5,652.0 L1873.1,665.3 L1873.6,676.0 L1874.2,683.6 L1875.5,686.4 L1877.4,687.4 L1881.0,686.9 L1884.2,686.2 L1887.5,685.6 L1891.0,685.4 L1894.5,685.6 L1897.8,686.2 L1901.0,686.9 L1904.6,687.4 L1906.5,686.4 L1907.8,683.6 L1908.4,676.0 L1908.9,665.3 L1909.5,652.0 L1910.2,643.8 L1911.2,647.0 L1912.6,650.6 L1914.7,653.6 L1917.1,656.2 L1920.0,657.6 L1922.7,659.1 L1926.0,661.8 L1929.5,664.2 L1934.0,665.3 L1938.6,665.9 L1943.0,665.6 L1947.7,664.7 L1952.5,662.0 L1956.7,658.5 L1959.0,654.8 L1960.7,650.6 L1962.1,643.5 L1963.0,639.2 L1963.7,660.0 L1964.4,675.0 L1965.5,681.0 L1967.0,685.0 L1968.4,688.5 L1969.6,690.0 L1971.2,686.0 L1972.7,680.5 L1974.0,677.8 L1976.0,680.5 L1978.5,684.6 L1981.6,688.6 L1984.5,691.3 L1986.5,691.9 L1987.8,690.5 L1988.9,683.0 L1989.9,677.2 L1991.4,683.0 L1992.6,688.5 L1994.5,690.4 L1998.0,692.0 L2002.4,693.4 L2008.0,694.5 L2013.6,695.0 L2019.5,694.6 L2024.8,693.4 L2029.0,691.8 L2032.5,689.4 L2033.8,684.5 L2034.7,682.2 L2036.2,684.5 L2037.7,686.0 L2042.0,682.0 L2045.7,677.4 L2050.0,671.0 L2053.7,663.8 L2057.0,656.0 L2060.1,648.5 L2062.5,643.8 L2064.9,639.7 L2066.6,637.3 L2068.1,636.2 L2070.2,637.5 L2072.2,639.6 L2073.8,640.0 L2075.2,638.9 L2075.9,634.0 L2076.5,624.0 L2077.3,616.0 L2078.1,610.5 L2079.1,616.0 L2080.2,618.5 L2083.0,618.7 L2085.8,618.6 L2089.0,617.3 L2092.2,615.7 L2095.5,617.0 L2098.6,618.1 L2103.0,618.4 L2108.2,618.9 L2112.0,619.8 L2115.5,620.6 L2116.8,619.8 L2117.8,617.5 L2118.6,612.0 L2119.4,607.3 L2120.4,606.9 L2121.7,608.2 L2123.5,611.5 L2125.9,615.7 L2130.0,620.5 L2133.9,625.3 L2137.5,629.3 L2140.3,632.0 L2142.0,631.2 L2143.5,631.0 L2146.5,635.5 L2149.1,640.3 L2150.2,640.6 L2151.2,639.5 L2152.2,633.0 L2153.1,628.2 L2154.5,628.6 L2156.3,631.0 L2160.0,638.5 L2166.0,649.8 L2174.9,665.1 L2182.0,676.6 L2192.3,693.0 L2209.8,719.2 L2227.2,745.4 L2244.7,771.6 L2262.2,799.5 L2279.6,831.0 L2297.1,865.9 L2307.6,890.3 L2312.5,903.0 L2316.3,914.8 L2319.0,922.0 L2321.2,931.0 L2322.4,938.0 L2323.3,946.0" fill="none" stroke="#ff7f0e" stroke-width="4" stroke-linejoin="round" stroke-linecap="butt"/>
<line x1="1957.6" y1="887.7" x2="2064.6" y2="887.7" stroke="#ff7f0e" stroke-width="4.2" stroke-linecap="round"/>
<text x="2080.39" y="899.3" font-size="39.5" text-anchor="start" fill="#000" textLength="138.13" lengthAdjust="spacingAndGlyphs">500 µm</text>
</svg>
</body></html>
